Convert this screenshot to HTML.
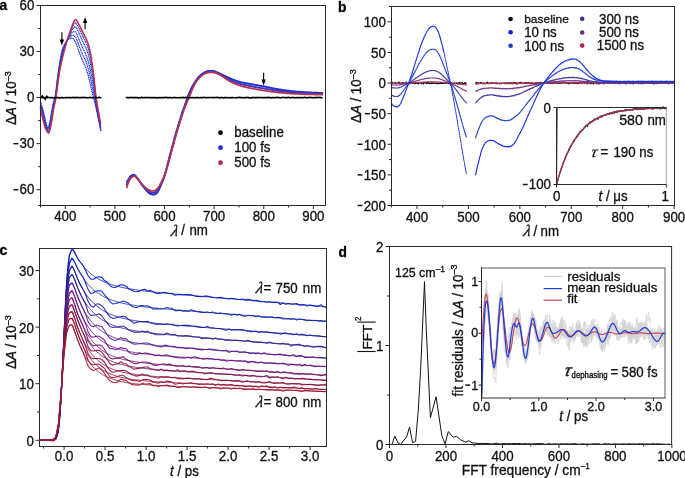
<!DOCTYPE html>
<html><head><meta charset="utf-8"><title>figure</title><style>
html,body{margin:0;padding:0;background:#fff;width:685px;height:478px;overflow:hidden}
svg{display:block;will-change:transform}
text{font-family:"Liberation Sans",sans-serif;stroke:#111;stroke-width:0.3px}
</style></head><body>
<svg width="685" height="478" viewBox="0 0 685 478">
<text transform="translate(-0.60,9.50) scale(1,1.0)" font-size="13.8" font-weight="bold" fill="#000" >a</text>
<polyline points="40.5,102.2 40.7,102.8 41.0,103.5 41.2,104.2 41.5,104.9 41.7,105.7 42.0,106.5 42.2,107.3 42.5,108.1 42.7,109.0 43.0,109.9 43.2,110.8 43.5,111.9 43.7,112.9 44.0,114.1 44.2,115.2 44.5,116.4 44.7,117.5 45.0,118.6 45.2,119.7 45.5,120.6 45.7,121.6 46.0,122.6 46.2,123.7 46.5,124.8 46.7,125.7 46.9,126.6 47.2,127.2 47.4,127.7 47.7,127.8 47.9,127.7 48.2,127.4 48.4,126.8 48.7,126.1 48.9,125.3 49.2,124.5 49.4,123.7 49.7,122.8 49.9,121.6 50.2,120.3 50.4,118.9 50.7,117.4 50.9,115.8 51.2,114.4 51.4,112.9 51.7,111.6 51.9,110.1 52.2,108.7 52.4,107.2 52.7,105.8 52.9,104.5 53.2,103.3 53.4,102.2 53.6,101.3 53.9,100.6 54.1,100.0 54.4,99.3 54.6,98.5 54.9,97.6 55.1,96.4 55.4,94.9 55.6,93.3 55.9,91.4 56.1,89.4 56.4,87.2 56.6,85.1 56.9,82.9 57.1,80.7 57.4,78.6 57.6,76.7 57.9,74.9 58.1,73.2 58.4,71.5 58.6,69.9 58.9,68.2 59.1,66.6 59.4,65.1 59.6,63.6 59.8,62.1 60.1,60.6 60.3,59.2 60.6,57.8 60.8,56.4 61.1,55.0 61.3,53.6 61.6,52.3 61.8,51.1 62.1,50.1 62.3,49.2 62.6,48.5 62.8,47.9 63.1,47.2 63.3,46.6 63.6,46.1 63.8,45.6 64.1,45.1 64.3,44.7 64.6,44.3 64.8,43.9 65.1,43.5 65.3,43.1 65.6,42.8 65.8,42.4 66.0,42.1 66.3,41.7 66.5,41.4 66.8,41.1 67.0,40.8 67.3,40.5 67.5,40.3 67.8,40.0 68.0,39.8 68.3,39.6 68.5,39.4 68.8,39.3 69.0,39.1 69.3,39.0 69.5,38.9 69.8,38.7 70.0,38.6 70.3,38.5 70.5,38.4 70.8,38.3 71.0,38.2 71.3,38.1 71.5,38.1 71.8,38.1 72.0,38.0 72.3,38.1 72.5,38.2 72.7,38.3 73.0,38.5 73.2,38.8 73.5,39.0 73.7,39.4 74.0,39.7 74.2,40.0 74.5,40.4 74.7,40.8 75.0,41.2 75.2,41.6 75.5,42.0 75.7,42.5 76.0,43.0 76.2,43.6 76.5,44.2 76.7,44.9 77.0,45.6 77.2,46.4 77.5,47.1 77.7,47.9 78.0,48.6 78.2,49.4 78.5,50.1 78.7,50.8 78.9,51.5 79.2,52.2 79.4,52.8 79.7,53.4 79.9,54.1 80.2,54.7 80.4,55.3 80.7,55.9 80.9,56.6 81.2,57.2 81.4,57.8 81.7,58.4 81.9,59.0 82.2,59.6 82.4,60.2 82.7,60.8 82.9,61.3 83.2,61.9 83.4,62.4 83.7,62.9 83.9,63.4 84.2,63.9 84.4,64.4 84.7,64.9 84.9,65.4 85.1,66.0 85.4,66.6 85.6,67.1 85.9,67.8 86.1,68.4 86.4,69.1 86.6,69.9 86.9,70.7 87.1,71.6 87.4,72.5 87.6,73.4 87.9,74.3 88.1,75.3 88.4,76.2 88.6,77.2 88.9,78.2 89.1,79.2 89.4,80.2 89.6,81.2 89.9,82.3 90.1,83.4 90.4,84.5 90.6,85.6 90.9,86.7 91.1,87.8 91.4,88.9 91.6,89.9 91.8,90.9 92.1,91.9 92.3,92.8 92.6,93.8 92.8,94.7 93.1,95.6 93.3,96.6 93.6,97.6 93.8,98.6 94.1,99.7 94.3,100.7 94.6,101.8 94.8,102.8 95.1,103.9 95.3,105.0 95.6,106.1 95.8,107.2 96.1,108.3 96.3,109.5 96.6,110.6 96.8,111.7 97.1,112.9 97.3,114.0 97.6,115.2 97.8,116.3 98.0,117.5 98.3,118.7 98.5,119.9 98.8,121.0 99.0,122.3 99.3,123.5 99.5,124.7 99.8,125.9 100.0,127.1 100.3,128.4 100.5,129.6 100.8,130.9 101.0,132.1" fill="none" stroke="#1c2fd6" stroke-width="1.45" stroke-linejoin="round" stroke-linecap="round" stroke-dasharray="0 1.75"/>
<polyline points="40.5,103.6 40.7,104.3 41.0,105.1 41.2,105.9 41.5,106.7 41.7,107.5 42.0,108.3 42.2,109.2 42.5,110.1 42.7,111.0 43.0,111.9 43.2,112.9 43.5,113.9 43.7,115.0 44.0,116.1 44.2,117.2 44.5,118.3 44.7,119.4 45.0,120.5 45.2,121.4 45.5,122.3 45.7,123.2 46.0,124.1 46.2,125.1 46.5,126.0 46.7,126.9 46.9,127.6 47.2,128.2 47.4,128.6 47.7,128.8 47.9,128.8 48.2,128.5 48.4,128.1 48.7,127.6 48.9,127.0 49.2,126.2 49.4,125.4 49.7,124.5 49.9,123.4 50.2,122.1 50.4,120.8 50.7,119.3 50.9,117.9 51.2,116.5 51.4,115.1 51.7,113.7 51.9,112.2 52.2,110.7 52.4,109.2 52.7,107.7 52.9,106.3 53.2,105.0 53.4,103.9 53.6,102.9 53.9,102.1 54.1,101.3 54.4,100.5 54.6,99.7 54.9,98.7 55.1,97.5 55.4,96.1 55.6,94.5 55.9,92.7 56.1,90.8 56.4,88.8 56.6,86.7 56.9,84.6 57.1,82.4 57.4,80.4 57.6,78.4 57.9,76.5 58.1,74.8 58.4,73.1 58.6,71.4 58.9,69.8 59.1,68.2 59.4,66.7 59.6,65.2 59.8,63.8 60.1,62.4 60.3,61.0 60.6,59.6 60.8,58.3 61.1,56.9 61.3,55.6 61.6,54.3 61.8,53.2 62.1,52.1 62.3,51.2 62.6,50.4 62.8,49.7 63.1,49.0 63.3,48.3 63.6,47.6 63.8,47.0 64.1,46.4 64.3,45.9 64.6,45.4 64.8,44.8 65.1,44.3 65.3,43.9 65.6,43.4 65.8,42.9 66.0,42.5 66.3,42.0 66.5,41.6 66.8,41.2 67.0,40.8 67.3,40.4 67.5,40.0 67.8,39.7 68.0,39.3 68.3,39.0 68.5,38.7 68.8,38.4 69.0,38.1 69.3,37.9 69.5,37.6 69.8,37.3 70.0,37.1 70.3,36.8 70.5,36.6 70.8,36.3 71.0,36.1 71.3,35.9 71.5,35.7 71.8,35.5 72.0,35.4 72.3,35.3 72.5,35.2 72.7,35.2 73.0,35.3 73.2,35.3 73.5,35.4 73.7,35.5 74.0,35.7 74.2,35.9 74.5,36.1 74.7,36.3 75.0,36.5 75.2,36.8 75.5,37.1 75.7,37.5 76.0,37.9 76.2,38.4 76.5,39.0 76.7,39.6 77.0,40.2 77.2,40.9 77.5,41.6 77.7,42.2 78.0,42.9 78.2,43.6 78.5,44.3 78.7,44.9 78.9,45.5 79.2,46.2 79.4,46.8 79.7,47.4 79.9,48.0 80.2,48.6 80.4,49.2 80.7,49.8 80.9,50.4 81.2,51.0 81.4,51.6 81.7,52.2 81.9,52.7 82.2,53.3 82.4,53.9 82.7,54.4 82.9,55.0 83.2,55.5 83.4,56.0 83.7,56.5 83.9,57.0 84.2,57.5 84.4,58.0 84.7,58.5 84.9,59.1 85.1,59.6 85.4,60.2 85.6,60.7 85.9,61.3 86.1,61.9 86.4,62.6 86.6,63.3 86.9,64.1 87.1,64.9 87.4,65.7 87.6,66.5 87.9,67.4 88.1,68.3 88.4,69.3 88.6,70.2 88.9,71.2 89.1,72.2 89.4,73.2 89.6,74.2 89.9,75.3 90.1,76.4 90.4,77.5 90.6,78.7 90.9,79.8 91.1,81.0 91.4,82.2 91.6,83.3 91.8,84.5 92.1,85.6 92.3,86.7 92.6,87.9 92.8,89.0 93.1,90.2 93.3,91.4 93.6,92.6 93.8,93.9 94.1,95.2 94.3,96.5 94.6,97.8 94.8,99.2 95.1,100.5 95.3,101.9 95.6,103.3 95.8,104.7 96.1,106.0 96.3,107.2 96.6,108.5 96.8,109.7 97.1,110.9 97.3,112.1 97.6,113.3 97.8,114.5 98.0,115.7 98.3,116.9 98.5,118.2 98.8,119.4 99.0,120.7 99.3,121.9 99.5,123.2 99.8,124.5 100.0,125.7 100.3,127.0 100.5,128.3 100.8,129.3 101.0,130.3" fill="none" stroke="#1c2fd6" stroke-width="1.45" stroke-linejoin="round" stroke-linecap="round" stroke-dasharray="0 1.75"/>
<polyline points="40.5,105.0 40.7,105.8 41.0,106.7 41.2,107.6 41.5,108.5 41.7,109.4 42.0,110.3 42.2,111.2 42.5,112.2 42.7,113.1 43.0,114.0 43.2,115.0 43.5,116.0 43.7,117.1 44.0,118.2 44.2,119.3 44.5,120.4 44.7,121.4 45.0,122.4 45.2,123.3 45.5,124.1 45.7,124.8 46.0,125.7 46.2,126.5 46.5,127.3 46.7,128.0 46.9,128.7 47.2,129.2 47.4,129.6 47.7,129.9 47.9,129.9 48.2,129.8 48.4,129.5 48.7,129.2 48.9,128.7 49.2,128.0 49.4,127.3 49.7,126.4 49.9,125.3 50.2,124.1 50.4,122.8 50.7,121.4 50.9,120.1 51.2,118.7 51.4,117.3 51.7,115.9 51.9,114.4 52.2,112.8 52.4,111.2 52.7,109.7 52.9,108.2 53.2,106.9 53.4,105.7 53.6,104.6 53.9,103.6 54.1,102.7 54.4,101.9 54.6,100.9 54.9,99.9 55.1,98.7 55.4,97.4 55.6,95.8 55.9,94.2 56.1,92.4 56.4,90.4 56.6,88.4 56.9,86.3 57.1,84.2 57.4,82.2 57.6,80.2 57.9,78.3 58.1,76.5 58.4,74.7 58.6,73.0 58.9,71.4 59.1,69.9 59.4,68.4 59.6,67.0 59.8,65.6 60.1,64.2 60.3,62.9 60.6,61.5 60.8,60.2 61.1,58.9 61.3,57.7 61.6,56.4 61.8,55.3 62.1,54.2 62.3,53.3 62.6,52.4 62.8,51.6 63.1,50.8 63.3,50.0 63.6,49.3 63.8,48.5 64.1,47.8 64.3,47.2 64.6,46.5 64.8,45.9 65.1,45.3 65.3,44.7 65.6,44.1 65.8,43.5 66.0,42.9 66.3,42.3 66.5,41.8 66.8,41.3 67.0,40.7 67.3,40.2 67.5,39.7 67.8,39.3 68.0,38.8 68.3,38.4 68.5,37.9 68.8,37.5 69.0,37.1 69.3,36.7 69.5,36.3 69.8,35.9 70.0,35.5 70.3,35.1 70.5,34.7 70.8,34.3 71.0,33.9 71.3,33.6 71.5,33.2 71.8,32.9 72.0,32.6 72.3,32.4 72.5,32.2 72.7,32.0 73.0,31.9 73.2,31.7 73.5,31.6 73.7,31.5 74.0,31.5 74.2,31.5 74.5,31.5 74.7,31.6 75.0,31.7 75.2,31.8 75.5,32.0 75.7,32.3 76.0,32.6 76.2,33.1 76.5,33.5 76.7,34.1 77.0,34.6 77.2,35.2 77.5,35.8 77.7,36.4 78.0,37.0 78.2,37.6 78.5,38.1 78.7,38.7 78.9,39.3 79.2,39.9 79.4,40.5 79.7,41.0 79.9,41.6 80.2,42.2 80.4,42.8 80.7,43.4 80.9,43.9 81.2,44.5 81.4,45.1 81.7,45.6 81.9,46.2 82.2,46.7 82.4,47.3 82.7,47.8 82.9,48.4 83.2,48.9 83.4,49.4 83.7,49.9 83.9,50.4 84.2,50.9 84.4,51.4 84.7,51.9 84.9,52.4 85.1,52.9 85.4,53.5 85.6,54.0 85.9,54.6 86.1,55.2 86.4,55.8 86.6,56.4 86.9,57.1 87.1,57.8 87.4,58.6 87.6,59.4 87.9,60.2 88.1,61.1 88.4,62.0 88.6,62.9 88.9,63.9 89.1,64.8 89.4,65.8 89.6,66.9 89.9,68.0 90.1,69.1 90.4,70.2 90.6,71.4 90.9,72.6 91.1,73.9 91.4,75.2 91.6,76.5 91.8,77.8 92.1,79.1 92.3,80.4 92.6,81.7 92.8,83.0 93.1,84.4 93.3,85.9 93.6,87.4 93.8,88.9 94.1,90.5 94.3,92.1 94.6,93.7 94.8,95.3 95.1,97.0 95.3,98.7 95.6,100.4 95.8,102.0 96.1,103.5 96.3,104.9 96.6,106.3 96.8,107.6 97.1,108.9 97.3,110.1 97.6,111.4 97.8,112.6 98.0,113.8 98.3,115.1 98.5,116.4 98.8,117.7 99.0,119.0 99.3,120.3 99.5,121.7 99.8,123.0 100.0,124.3 100.3,125.6 100.5,127.0 100.8,127.6 101.0,128.3" fill="none" stroke="#1c2fd6" stroke-width="1.45" stroke-linejoin="round" stroke-linecap="round" stroke-dasharray="0 1.75"/>
<polyline points="40.5,106.4 40.7,107.4 41.0,108.3 41.2,109.3 41.5,110.3 41.7,111.3 42.0,112.3 42.2,113.2 42.5,114.2 42.7,115.2 43.0,116.1 43.2,117.1 43.5,118.2 43.7,119.2 44.0,120.3 44.2,121.4 44.5,122.4 44.7,123.4 45.0,124.3 45.2,125.1 45.5,125.8 45.7,126.5 46.0,127.2 46.2,127.9 46.5,128.6 46.7,129.2 46.9,129.8 47.2,130.2 47.4,130.6 47.7,130.9 47.9,131.0 48.2,131.0 48.4,130.9 48.7,130.7 48.9,130.4 49.2,129.8 49.4,129.1 49.7,128.2 49.9,127.2 50.2,126.0 50.4,124.7 50.7,123.5 50.9,122.2 51.2,120.9 51.4,119.6 51.7,118.1 51.9,116.5 52.2,114.9 52.4,113.3 52.7,111.7 52.9,110.2 53.2,108.7 53.4,107.4 53.6,106.3 53.9,105.2 54.1,104.2 54.4,103.2 54.6,102.2 54.9,101.1 55.1,99.9 55.4,98.6 55.6,97.2 55.9,95.6 56.1,93.9 56.4,92.1 56.6,90.1 56.9,88.1 57.1,86.0 57.4,84.0 57.6,82.0 57.9,80.0 58.1,78.1 58.4,76.3 58.6,74.7 58.9,73.1 59.1,71.6 59.4,70.1 59.6,68.7 59.8,67.3 60.1,66.0 60.3,64.7 60.6,63.4 60.8,62.2 61.1,60.9 61.3,59.7 61.6,58.6 61.8,57.4 62.1,56.4 62.3,55.4 62.6,54.4 62.8,53.5 63.1,52.6 63.3,51.7 63.6,50.9 63.8,50.0 64.1,49.2 64.3,48.4 64.6,47.7 64.8,46.9 65.1,46.2 65.3,45.5 65.6,44.7 65.8,44.0 66.0,43.3 66.3,42.7 66.5,42.0 66.8,41.3 67.0,40.7 67.3,40.1 67.5,39.5 67.8,38.9 68.0,38.3 68.3,37.7 68.5,37.2 68.8,36.6 69.0,36.1 69.3,35.5 69.5,35.0 69.8,34.4 70.0,33.9 70.3,33.3 70.5,32.8 70.8,32.2 71.0,31.7 71.3,31.2 71.5,30.7 71.8,30.3 72.0,29.9 72.3,29.5 72.5,29.1 72.7,28.8 73.0,28.5 73.2,28.1 73.5,27.8 73.7,27.6 74.0,27.3 74.2,27.1 74.5,26.9 74.7,26.8 75.0,26.8 75.2,26.8 75.5,26.9 75.7,27.1 76.0,27.3 76.2,27.7 76.5,28.1 76.7,28.5 77.0,29.0 77.2,29.5 77.5,30.0 77.7,30.5 78.0,31.0 78.2,31.5 78.5,32.0 78.7,32.6 78.9,33.1 79.2,33.6 79.4,34.2 79.7,34.7 79.9,35.3 80.2,35.8 80.4,36.4 80.7,36.9 80.9,37.5 81.2,38.0 81.4,38.6 81.7,39.1 81.9,39.7 82.2,40.2 82.4,40.7 82.7,41.2 82.9,41.7 83.2,42.2 83.4,42.7 83.7,43.2 83.9,43.7 84.2,44.2 84.4,44.7 84.7,45.2 84.9,45.7 85.1,46.3 85.4,46.8 85.6,47.3 85.9,47.8 86.1,48.4 86.4,49.0 86.6,49.5 86.9,50.2 87.1,50.8 87.4,51.5 87.6,52.3 87.9,53.0 88.1,53.9 88.4,54.7 88.6,55.6 88.9,56.5 89.1,57.5 89.4,58.5 89.6,59.5 89.9,60.6 90.1,61.7 90.4,62.9 90.6,64.2 90.9,65.4 91.1,66.8 91.4,68.2 91.6,69.6 91.8,71.0 92.1,72.5 92.3,74.0 92.6,75.5 92.8,77.1 93.1,78.7 93.3,80.4 93.6,82.2 93.8,84.0 94.1,85.8 94.3,87.7 94.6,89.5 94.8,91.5 95.1,93.5 95.3,95.5 95.6,97.5 95.8,99.3 96.1,101.0 96.3,102.6 96.6,104.1 96.8,105.5 97.1,106.8 97.3,108.1 97.6,109.4 97.8,110.7 98.0,112.0 98.3,113.3 98.5,114.6 98.8,116.0 99.0,117.4 99.3,118.7 99.5,120.1 99.8,121.5 100.0,122.8 100.3,124.2 100.5,125.6 100.8,126.0 101.0,126.4" fill="none" stroke="#1c2fd6" stroke-width="1.45" stroke-linejoin="round" stroke-linecap="round" stroke-dasharray="0 1.75"/>
<polyline points="40.5,107.5 40.7,108.6 41.0,109.6 41.2,110.7 41.5,111.7 41.7,112.8 42.0,113.8 42.2,114.8 42.5,115.8 42.7,116.8 43.0,117.8 43.2,118.8 43.5,119.8 43.7,120.9 44.0,122.0 44.2,123.0 44.5,124.0 44.7,125.0 45.0,125.8 45.2,126.6 45.5,127.2 45.7,127.8 46.0,128.4 46.2,129.0 46.5,129.6 46.7,130.1 46.9,130.6 47.2,131.0 47.4,131.4 47.7,131.7 47.9,131.9 48.2,132.0 48.4,132.0 48.7,132.0 48.9,131.7 49.2,131.2 49.4,130.5 49.7,129.7 49.9,128.6 50.2,127.5 50.4,126.3 50.7,125.1 50.9,123.9 51.2,122.7 51.4,121.3 51.7,119.8 51.9,118.2 52.2,116.6 52.4,114.9 52.7,113.3 52.9,111.7 53.2,110.2 53.4,108.8 53.6,107.6 53.9,106.4 54.1,105.3 54.4,104.2 54.6,103.1 54.9,102.0 55.1,100.8 55.4,99.6 55.6,98.2 55.9,96.7 56.1,95.1 56.4,93.3 56.6,91.4 56.9,89.5 57.1,87.4 57.4,85.4 57.6,83.3 57.9,81.4 58.1,79.5 58.4,77.6 58.6,75.9 58.9,74.3 59.1,72.9 59.4,71.5 59.6,70.1 59.8,68.7 60.1,67.4 60.3,66.2 60.6,64.9 60.8,63.7 61.1,62.5 61.3,61.3 61.6,60.2 61.8,59.1 62.1,58.0 62.3,57.0 62.6,56.0 62.8,55.0 63.1,54.0 63.3,53.1 63.6,52.1 63.8,51.2 64.1,50.3 64.3,49.4 64.6,48.6 64.8,47.7 65.1,46.9 65.3,46.1 65.6,45.3 65.8,44.5 66.0,43.7 66.3,42.9 66.5,42.2 66.8,41.4 67.0,40.7 67.3,40.0 67.5,39.3 67.8,38.6 68.0,37.9 68.3,37.2 68.5,36.6 68.8,35.9 69.0,35.3 69.3,34.6 69.5,34.0 69.8,33.3 70.0,32.6 70.3,31.9 70.5,31.3 70.8,30.6 71.0,30.0 71.3,29.4 71.5,28.8 71.8,28.2 72.0,27.7 72.3,27.2 72.5,26.8 72.7,26.3 73.0,25.8 73.2,25.3 73.5,24.9 73.7,24.4 74.0,24.0 74.2,23.7 74.5,23.4 74.7,23.1 75.0,23.0 75.2,22.9 75.5,22.9 75.7,23.0 76.0,23.2 76.2,23.4 76.5,23.8 76.7,24.2 77.0,24.6 77.2,25.0 77.5,25.5 77.7,25.9 78.0,26.4 78.2,26.8 78.5,27.3 78.7,27.7 78.9,28.2 79.2,28.7 79.4,29.2 79.7,29.7 79.9,30.3 80.2,30.8 80.4,31.4 80.7,31.9 80.9,32.4 81.2,33.0 81.4,33.5 81.7,34.0 81.9,34.5 82.2,35.0 82.4,35.5 82.7,36.0 82.9,36.5 83.2,37.0 83.4,37.5 83.7,38.0 83.9,38.5 84.2,39.0 84.4,39.5 84.7,40.0 84.9,40.5 85.1,41.0 85.4,41.5 85.6,42.1 85.9,42.6 86.1,43.1 86.4,43.6 86.6,44.2 86.9,44.7 87.1,45.3 87.4,46.0 87.6,46.7 87.9,47.4 88.1,48.2 88.4,49.0 88.6,49.9 88.9,50.8 89.1,51.8 89.4,52.8 89.6,53.8 89.9,54.9 90.1,56.0 90.4,57.2 90.6,58.5 90.9,59.8 91.1,61.2 91.4,62.7 91.6,64.2 91.8,65.8 92.1,67.4 92.3,69.0 92.6,70.7 92.8,72.4 93.1,74.2 93.3,76.1 93.6,78.1 93.8,80.1 94.1,82.2 94.3,84.2 94.6,86.3 94.8,88.4 95.1,90.7 95.3,92.9 95.6,95.2 95.8,97.2 96.1,99.1 96.3,100.8 96.6,102.3 96.8,103.8 97.1,105.2 97.3,106.6 97.6,107.9 97.8,109.2 98.0,110.5 98.3,111.9 98.5,113.3 98.8,114.7 99.0,116.1 99.3,117.5 99.5,118.9 99.8,120.3 100.0,121.7 100.3,123.1 100.5,124.5 100.8,124.7 101.0,124.9" fill="none" stroke="#1c2fd6" stroke-width="1.45" stroke-linejoin="round" stroke-linecap="round" stroke-dasharray="0 1.75"/>
<polyline points="40.5,108.3 40.7,109.5 41.0,110.6 41.2,111.7 41.5,112.8 41.7,113.9 42.0,115.0 42.2,116.0 42.5,117.1 42.7,118.1 43.0,119.1 43.2,120.1 43.5,121.2 43.7,122.2 44.0,123.3 44.2,124.3 44.5,125.3 44.7,126.2 45.0,127.0 45.2,127.7 45.5,128.3 45.7,128.8 46.0,129.3 46.2,129.8 46.5,130.3 46.7,130.8 46.9,131.2 47.2,131.6 47.4,132.0 47.7,132.3 47.9,132.6 48.2,132.7 48.4,132.9 48.7,132.9 48.9,132.7 49.2,132.3 49.4,131.6 49.7,130.8 49.9,129.8 50.2,128.7 50.4,127.5 50.7,126.4 50.9,125.2 51.2,124.0 51.4,122.7 51.7,121.2 51.9,119.6 52.2,117.9 52.4,116.2 52.7,114.5 52.9,112.9 53.2,111.3 53.4,109.9 53.6,108.6 53.9,107.3 54.1,106.1 54.4,105.0 54.6,103.9 54.9,102.7 55.1,101.6 55.4,100.3 55.6,99.0 55.9,97.6 56.1,96.0 56.4,94.3 56.6,92.5 56.9,90.5 57.1,88.5 57.4,86.5 57.6,84.4 57.9,82.4 58.1,80.5 58.4,78.6 58.6,76.9 58.9,75.3 59.1,73.9 59.4,72.5 59.6,71.1 59.8,69.8 60.1,68.5 60.3,67.3 60.6,66.1 60.8,64.9 61.1,63.7 61.3,62.6 61.6,61.5 61.8,60.4 62.1,59.3 62.3,58.3 62.6,57.2 62.8,56.2 63.1,55.1 63.3,54.1 63.6,53.1 63.8,52.1 64.1,51.2 64.3,50.2 64.6,49.3 64.8,48.4 65.1,47.4 65.3,46.6 65.6,45.7 65.8,44.8 66.0,44.0 66.3,43.1 66.5,42.3 66.8,41.5 67.0,40.7 67.3,39.9 67.5,39.1 67.8,38.3 68.0,37.6 68.3,36.8 68.5,36.1 68.8,35.4 69.0,34.6 69.3,33.9 69.5,33.2 69.8,32.4 70.0,31.6 70.3,30.9 70.5,30.1 70.8,29.4 71.0,28.7 71.3,28.0 71.5,27.3 71.8,26.6 72.0,26.0 72.3,25.5 72.5,24.9 72.7,24.3 73.0,23.7 73.2,23.1 73.5,22.6 73.7,22.0 74.0,21.5 74.2,21.0 74.5,20.6 74.7,20.3 75.0,20.0 75.2,19.8 75.5,19.8 75.7,19.8 76.0,20.0 76.2,20.2 76.5,20.4 76.7,20.8 77.0,21.1 77.2,21.5 77.5,21.9 77.7,22.4 78.0,22.8 78.2,23.2 78.5,23.5 78.7,24.0 78.9,24.4 79.2,24.9 79.4,25.4 79.7,25.9 79.9,26.4 80.2,26.9 80.4,27.5 80.7,28.0 80.9,28.5 81.2,29.0 81.4,29.6 81.7,30.1 81.9,30.6 82.2,31.0 82.4,31.5 82.7,32.0 82.9,32.5 83.2,33.0 83.4,33.5 83.7,34.0 83.9,34.5 84.2,34.9 84.4,35.4 84.7,35.9 84.9,36.5 85.1,37.0 85.4,37.5 85.6,38.0 85.9,38.5 86.1,38.9 86.4,39.4 86.6,40.0 86.9,40.5 87.1,41.1 87.4,41.7 87.6,42.3 87.9,43.0 88.1,43.8 88.4,44.6 88.6,45.5 88.9,46.4 89.1,47.3 89.4,48.3 89.6,49.3 89.9,50.4 90.1,51.5 90.4,52.8 90.6,54.0 90.9,55.4 91.1,56.9 91.4,58.4 91.6,60.0 91.8,61.7 92.1,63.4 92.3,65.1 92.6,66.9 92.8,68.8 93.1,70.7 93.3,72.8 93.6,74.9 93.8,77.1 94.1,79.3 94.3,81.6 94.6,83.8 94.8,86.1 95.1,88.5 95.3,91.0 95.6,93.4 95.8,95.6 96.1,97.6 96.3,99.4 96.6,101.0 96.8,102.5 97.1,104.0 97.3,105.4 97.6,106.7 97.8,108.1 98.0,109.4 98.3,110.8 98.5,112.2 98.8,113.6 99.0,115.1 99.3,116.5 99.5,118.0 99.8,119.4 100.0,120.8 100.3,122.3 100.5,123.7" fill="none" stroke="#b8324e" stroke-width="1.6" stroke-linejoin="round" stroke-linecap="round" />
<polyline points="126.8,181.7 127.1,181.4 127.3,181.1 127.6,180.8 127.8,180.4 128.1,180.1 128.3,179.7 128.6,179.3 128.8,178.9 129.1,178.5 129.3,178.1 129.5,177.7 129.8,177.3 130.0,176.9 130.3,176.7 130.5,176.4 130.8,176.2 131.0,175.9 131.3,175.7 131.5,175.5 131.8,175.3 132.0,175.2 132.3,175.1 132.5,175.0 132.8,175.0 133.0,174.9 133.3,174.9 133.5,174.8 133.8,174.8 134.0,174.8 134.3,174.8 134.5,174.9 134.8,175.1 135.0,175.3 135.3,175.6 135.5,175.9 135.8,176.2 136.0,176.5 136.2,176.9 136.5,177.2 136.7,177.6 137.0,177.9 137.2,178.2 137.5,178.5 137.7,178.8 138.0,179.1 138.2,179.4 138.5,179.8 138.7,180.1 139.0,180.5 139.2,180.8 139.5,181.2 139.7,181.6 140.0,181.9 140.2,182.3 140.5,182.7 140.7,183.0 141.0,183.4 141.2,183.7 141.5,184.1 141.7,184.4 142.0,184.8 142.2,185.1 142.4,185.4 142.7,185.8 142.9,186.1 143.2,186.4 143.4,186.7 143.7,187.1 143.9,187.4 144.2,187.7 144.4,188.1 144.7,188.4 144.9,188.7 145.2,189.0 145.4,189.3 145.7,189.6 145.9,189.9 146.2,190.2 146.4,190.5 146.7,190.7 146.9,191.0 147.2,191.2 147.4,191.5 147.7,191.7 147.9,192.0 148.2,192.2 148.4,192.4 148.6,192.7 148.9,192.9 149.1,193.1 149.4,193.3 149.6,193.5 149.9,193.7 150.1,193.8 150.4,193.9 150.6,194.0 150.9,194.1 151.1,194.1 151.4,194.2 151.6,194.3 151.9,194.3 152.1,194.4 152.4,194.4 152.6,194.5 152.9,194.5 153.1,194.5 153.4,194.6 153.6,194.6 153.9,194.6 154.1,194.6 154.4,194.6 154.6,194.5 154.9,194.4 155.1,194.3 155.3,194.2 155.6,194.0 155.8,193.8 156.1,193.6 156.3,193.3 156.6,193.1 156.8,192.8 157.1,192.6 157.3,192.3 157.6,192.0 157.8,191.7 158.1,191.3 158.3,190.9 158.6,190.4 158.8,189.9 159.1,189.4 159.3,188.8 159.6,188.2 159.8,187.6 160.1,187.0 160.3,186.4 160.6,185.9 160.8,185.3 161.1,184.7 161.3,184.2 161.5,183.6 161.8,183.0 162.0,182.5 162.3,181.9 162.5,181.3 162.8,180.6 163.0,180.0 163.3,179.4 163.5,178.7 163.8,178.0 164.0,177.3 164.3,176.6 164.5,175.9 164.8,175.1 165.0,174.3 165.3,173.4 165.5,172.5 165.8,171.6 166.0,170.6 166.3,169.7 166.5,168.7 166.8,167.7 167.0,166.7 167.3,165.7 167.5,164.8 167.7,163.8 168.0,162.8 168.2,161.9 168.5,160.9 168.7,160.0 169.0,159.0 169.2,158.0 169.5,157.1 169.7,156.1 170.0,155.1 170.2,154.1 170.5,153.2 170.7,152.2 171.0,151.2 171.2,150.3 171.5,149.3 171.7,148.4 172.0,147.5 172.2,146.6 172.5,145.7 172.7,144.7 173.0,143.8 173.2,142.9 173.5,142.0 173.7,141.1 174.0,140.2 174.2,139.4 174.4,138.5 174.7,137.6 174.9,136.7 175.2,135.8 175.4,135.0 175.7,134.1 175.9,133.2 176.2,132.4 176.4,131.5 176.7,130.7 176.9,129.8 177.2,129.0 177.4,128.2 177.7,127.3 177.9,126.5 178.2,125.7 178.4,124.8 178.7,124.0 178.9,123.2 179.2,122.4 179.4,121.6 179.7,120.7 179.9,119.9 180.2,119.1 180.4,118.4 180.6,117.6 180.9,116.8 181.1,116.0 181.4,115.2 181.6,114.5 181.9,113.7 182.1,113.0 182.4,112.2 182.6,111.5 182.9,110.8 183.1,110.1 183.4,109.4 183.6,108.7 183.9,108.0 184.1,107.3 184.4,106.6 184.6,105.9 184.9,105.2 185.1,104.5 185.4,103.7 185.6,103.0 185.9,102.3 186.1,101.5 186.4,100.8 186.6,100.0 186.8,99.3 187.1,98.6 187.3,97.9 187.6,97.2 187.8,96.6 188.1,95.9 188.3,95.3 188.6,94.7 188.8,94.1 189.1,93.5 189.3,92.9 189.6,92.3 189.8,91.8 190.1,91.2 190.3,90.7 190.6,90.2 190.8,89.6 191.1,89.1 191.3,88.6 191.6,88.1 191.8,87.6 192.1,87.1 192.3,86.6 192.6,86.1 192.8,85.6 193.1,85.2 193.3,84.7 193.5,84.3 193.8,83.8 194.0,83.4 194.3,83.0 194.5,82.6 194.8,82.2 195.0,81.9 195.3,81.5 195.5,81.1 195.8,80.7 196.0,80.4 196.3,80.0 196.5,79.7 196.8,79.3 197.0,79.0 197.3,78.7 197.5,78.4 197.8,78.1 198.0,77.8 198.3,77.5 198.5,77.2 198.8,76.9 199.0,76.7 199.3,76.4 199.5,76.2 199.7,75.9 200.0,75.7 200.2,75.5 200.5,75.2 200.7,75.0 201.0,74.8 201.2,74.6 201.5,74.4 201.7,74.2 202.0,74.0 202.2,73.8 202.5,73.6 202.7,73.4 203.0,73.3 203.2,73.1 203.5,73.0 203.7,72.8 204.0,72.7 204.2,72.6 204.5,72.5 204.7,72.3 205.0,72.2 205.2,72.1 205.5,72.0 205.7,71.9 205.9,71.8 206.2,71.6 206.4,71.5 206.7,71.4 206.9,71.3 207.2,71.3 207.4,71.2 207.7,71.1 207.9,71.0 208.2,71.0 208.4,70.9 208.7,70.9 208.9,70.9 209.2,70.9 209.4,70.9 209.7,70.9 209.9,70.9 210.2,70.9 210.4,70.9 210.7,70.9 210.9,70.9 211.2,70.9 211.4,70.9 211.7,70.9 211.9,70.9 212.2,70.9 212.4,70.9 212.6,70.9 212.9,70.9 213.1,70.9 213.4,71.0 213.6,71.0 213.9,71.1 214.1,71.2 214.4,71.2 214.6,71.3 214.9,71.4 215.1,71.5 215.4,71.6 215.6,71.7 215.9,71.8 216.1,71.9 216.4,72.0 216.6,72.1 216.9,72.2 217.1,72.3 217.4,72.4 217.6,72.5 217.9,72.6 218.1,72.7 218.4,72.9 218.6,73.0 218.8,73.1 219.1,73.2 219.3,73.3 219.6,73.5 219.8,73.6 220.1,73.7 220.3,73.8 220.6,73.9 220.8,74.1 221.1,74.2 221.3,74.3 221.6,74.4 221.8,74.5 222.1,74.7 222.3,74.8 222.6,74.9 222.8,75.0 223.1,75.1 223.3,75.2 223.6,75.3 223.8,75.5 224.1,75.6 224.3,75.7 224.6,75.8 224.8,75.9 225.0,76.0 225.3,76.2 225.5,76.3 225.8,76.4 226.0,76.5 226.3,76.6 226.5,76.7 226.8,76.8 227.0,76.9 227.3,77.1 227.5,77.2 227.8,77.3 228.0,77.4 228.3,77.5 228.5,77.6 228.8,77.7 229.0,77.8 229.3,78.0 229.5,78.1 229.8,78.2 230.0,78.3 230.3,78.4 230.5,78.5 230.8,78.6 231.0,78.7 231.3,78.8 231.5,78.9 231.7,79.1 232.0,79.2 232.2,79.3 232.5,79.4 232.7,79.5 233.0,79.6 233.2,79.7 233.5,79.8 233.7,79.9 234.0,79.9 234.2,80.0 234.5,80.1 234.7,80.2 235.0,80.3 235.2,80.4 235.5,80.5 235.7,80.6 236.0,80.7 236.2,80.8 236.5,80.9 236.7,81.0 237.0,81.0 237.2,81.1 237.5,81.2 237.7,81.3 237.9,81.4 238.2,81.5 238.4,81.5 238.7,81.6 238.9,81.7 239.2,81.8 239.4,81.8 239.7,81.9 239.9,82.0 240.2,82.1 240.4,82.1 240.7,82.2 240.9,82.2 241.2,82.3 241.4,82.4 241.7,82.4 241.9,82.5 242.2,82.5 242.4,82.6 242.7,82.6 242.9,82.7 243.2,82.7 243.4,82.8 243.7,82.8 243.9,82.9 244.1,82.9 244.4,83.0 244.6,83.0 244.9,83.1 245.1,83.1 245.4,83.2 245.6,83.2 245.9,83.2 246.1,83.3 246.4,83.3 246.6,83.4 246.9,83.4 247.1,83.5 247.4,83.5 247.6,83.5 247.9,83.6 248.1,83.6 248.4,83.7 248.6,83.7 248.9,83.8 249.1,83.8 249.4,83.8 249.6,83.9 249.9,83.9 250.1,84.0 250.4,84.0 250.6,84.1 250.8,84.1 251.1,84.2 251.3,84.2 251.6,84.3 251.8,84.3 252.1,84.3 252.3,84.4 252.6,84.4 252.8,84.5 253.1,84.5 253.3,84.6 253.6,84.6 253.8,84.6 254.1,84.7 254.3,84.7 254.6,84.8 254.8,84.8 255.1,84.9 255.3,84.9 255.6,84.9 255.8,85.0 256.1,85.0 256.3,85.1 256.6,85.1 256.8,85.2 257.0,85.2 257.3,85.2 257.5,85.3 257.8,85.3 258.0,85.4 258.3,85.4 258.5,85.5 258.8,85.5 259.0,85.5 259.3,85.6 259.5,85.6 259.8,85.7 260.0,85.7 260.3,85.8 260.5,85.8 260.8,85.9 261.0,85.9 261.3,85.9 261.5,86.0 261.8,86.0 262.0,86.1 262.3,86.1 262.5,86.2 262.8,86.2 263.0,86.3 263.2,86.3 263.5,86.3 263.7,86.4 264.0,86.4 264.2,86.5 264.5,86.5 264.7,86.6 265.0,86.6 265.2,86.7 265.5,86.7 265.7,86.8 266.0,86.8 266.2,86.9 266.5,86.9 266.7,87.0 267.0,87.0 267.2,87.1 267.5,87.1 267.7,87.2 268.0,87.2 268.2,87.3 268.5,87.3 268.7,87.4 269.0,87.4 269.2,87.5 269.5,87.5 269.7,87.6 269.9,87.6 270.2,87.7 270.4,87.7 270.7,87.8 270.9,87.9 271.2,87.9 271.4,88.0 271.7,88.0 271.9,88.1 272.2,88.1 272.4,88.2 272.7,88.2 272.9,88.3 273.2,88.3 273.4,88.4 273.7,88.4 273.9,88.5 274.2,88.5 274.4,88.6 274.7,88.6 274.9,88.7 275.2,88.7 275.4,88.7 275.7,88.8 275.9,88.8 276.1,88.9 276.4,88.9 276.6,89.0 276.9,89.0 277.1,89.1 277.4,89.1 277.6,89.1 277.9,89.2 278.1,89.2 278.4,89.3 278.6,89.3 278.9,89.4 279.1,89.4 279.4,89.4 279.6,89.5 279.9,89.5 280.1,89.5 280.4,89.6 280.6,89.6 280.9,89.7 281.1,89.7 281.4,89.7 281.6,89.8 281.9,89.8 282.1,89.9 282.3,89.9 282.6,89.9 282.8,90.0 283.1,90.0 283.3,90.0 283.6,90.1 283.8,90.1 284.1,90.1 284.3,90.2 284.6,90.2 284.8,90.3 285.1,90.3 285.3,90.3 285.6,90.4 285.8,90.4 286.1,90.4 286.3,90.5 286.6,90.5 286.8,90.5 287.1,90.6 287.3,90.6 287.6,90.6 287.8,90.7 288.1,90.7 288.3,90.7 288.5,90.8 288.8,90.8 289.0,90.8 289.3,90.8 289.5,90.9 289.8,90.9 290.0,90.9 290.3,91.0 290.5,91.0 290.8,91.0 291.0,91.1 291.3,91.1 291.5,91.1 291.8,91.1 292.0,91.2 292.3,91.2 292.5,91.2 292.8,91.2 293.0,91.3 293.3,91.3 293.5,91.3 293.8,91.3 294.0,91.4 294.3,91.4 294.5,91.4 294.8,91.4 295.0,91.4 295.2,91.5 295.5,91.5 295.7,91.5 296.0,91.5 296.2,91.6 296.5,91.6 296.7,91.6 297.0,91.6 297.2,91.6 297.5,91.7 297.7,91.7 298.0,91.7 298.2,91.7 298.5,91.7 298.7,91.8 299.0,91.8 299.2,91.8 299.5,91.8 299.7,91.8 300.0,91.8 300.2,91.9 300.5,91.9 300.7,91.9 301.0,91.9 301.2,91.9 301.4,92.0 301.7,92.0 301.9,92.0 302.2,92.0 302.4,92.0 302.7,92.0 302.9,92.1 303.2,92.1 303.4,92.1 303.7,92.1 303.9,92.1 304.2,92.1 304.4,92.1 304.7,92.2 304.9,92.2 305.2,92.2 305.4,92.2 305.7,92.2 305.9,92.2 306.2,92.3 306.4,92.3 306.7,92.3 306.9,92.3 307.2,92.3 307.4,92.3 307.6,92.3 307.9,92.4 308.1,92.4 308.4,92.4 308.6,92.4 308.9,92.4 309.1,92.4 309.4,92.4 309.6,92.4 309.9,92.5 310.1,92.5 310.4,92.5 310.6,92.5 310.9,92.5 311.1,92.5 311.4,92.5 311.6,92.6 311.9,92.6 312.1,92.6 312.4,92.6 312.6,92.6 312.9,92.6 313.1,92.6 313.4,92.6 313.6,92.6 313.9,92.7 314.1,92.7 314.3,92.7 314.6,92.7 314.8,92.7 315.1,92.7 315.3,92.7 315.6,92.7 315.8,92.8 316.1,92.8 316.3,92.8 316.6,92.8 316.8,92.8 317.1,92.8 317.3,92.8 317.6,92.8 317.8,92.8 318.1,92.8 318.3,92.9 318.6,92.9 318.8,92.9 319.1,92.9 319.3,92.9 319.6,92.9 319.8,92.9 320.1,92.9 320.3,92.9 320.5,92.9 320.8,92.9 321.0,93.0 321.3,93.0 321.5,93.0 321.8,93.0 322.0,93.0 322.3,93.0" fill="none" stroke="#1c2fd6" stroke-width="1.9" stroke-linejoin="round" stroke-linecap="round" />
<polyline points="126.8,184.6 127.1,184.0 127.3,183.4 127.6,182.8 127.8,182.3 128.1,181.7 128.3,181.3 128.6,180.8 128.8,180.3 129.1,179.8 129.3,179.3 129.5,178.9 129.8,178.5 130.0,178.1 130.3,177.8 130.5,177.5 130.8,177.2 131.0,177.0 131.3,176.7 131.5,176.5 131.8,176.3 132.0,176.1 132.3,176.0 132.5,175.9 132.8,175.8 133.0,175.8 133.3,175.7 133.5,175.7 133.8,175.6 134.0,175.6 134.3,175.6 134.5,175.7 134.8,175.7 135.0,175.9 135.3,176.0 135.5,176.2 135.8,176.5 136.0,176.8 136.2,177.1 136.5,177.4 136.7,177.7 137.0,178.0 137.2,178.3 137.5,178.6 137.7,178.9 138.0,179.2 138.2,179.5 138.5,179.8 138.7,180.1 139.0,180.4 139.2,180.8 139.5,181.1 139.7,181.4 140.0,181.8 140.2,182.1 140.5,182.5 140.7,182.8 141.0,183.1 141.2,183.5 141.5,183.8 141.7,184.1 142.0,184.4 142.2,184.7 142.4,185.0 142.7,185.3 142.9,185.6 143.2,185.9 143.4,186.2 143.7,186.5 143.9,186.8 144.2,187.1 144.4,187.4 144.7,187.6 144.9,187.9 145.2,188.2 145.4,188.5 145.7,188.7 145.9,189.0 146.2,189.2 146.4,189.4 146.7,189.7 146.9,189.9 147.2,190.1 147.4,190.3 147.7,190.5 147.9,190.7 148.2,190.9 148.4,191.1 148.6,191.3 148.9,191.4 149.1,191.6 149.4,191.8 149.6,191.9 149.9,192.0 150.1,192.2 150.4,192.2 150.6,192.3 150.9,192.4 151.1,192.4 151.4,192.5 151.6,192.5 151.9,192.6 152.1,192.6 152.4,192.6 152.6,192.7 152.9,192.7 153.1,192.7 153.4,192.8 153.6,192.8 153.9,192.8 154.1,192.7 154.4,192.7 154.6,192.6 154.9,192.5 155.1,192.4 155.3,192.2 155.6,192.1 155.8,191.9 156.1,191.7 156.3,191.4 156.6,191.2 156.8,191.0 157.1,190.7 157.3,190.5 157.6,190.2 157.8,189.9 158.1,189.6 158.3,189.2 158.6,188.7 158.8,188.3 159.1,187.8 159.3,187.3 159.6,186.8 159.8,186.3 160.1,185.7 160.3,185.2 160.6,184.7 160.8,184.2 161.1,183.7 161.3,183.2 161.5,182.7 161.8,182.1 162.0,181.6 162.3,181.0 162.5,180.5 162.8,179.9 163.0,179.3 163.3,178.7 163.5,178.1 163.8,177.5 164.0,176.8 164.3,176.2 164.5,175.5 164.8,174.8 165.0,174.0 165.3,173.3 165.5,172.5 165.8,171.6 166.0,170.8 166.3,169.9 166.5,169.0 166.8,168.1 167.0,167.2 167.3,166.3 167.5,165.4 167.7,164.5 168.0,163.7 168.2,162.8 168.5,161.8 168.7,160.9 169.0,160.0 169.2,159.0 169.5,158.1 169.7,157.1 170.0,156.2 170.2,155.2 170.5,154.3 170.7,153.3 171.0,152.4 171.2,151.4 171.5,150.5 171.7,149.6 172.0,148.6 172.2,147.7 172.5,146.8 172.7,145.9 173.0,145.0 173.2,144.1 173.5,143.2 173.7,142.3 174.0,141.4 174.2,140.5 174.4,139.6 174.7,138.8 174.9,137.9 175.2,137.0 175.4,136.1 175.7,135.3 175.9,134.4 176.2,133.5 176.4,132.7 176.7,131.8 176.9,131.0 177.2,130.1 177.4,129.3 177.7,128.5 177.9,127.6 178.2,126.8 178.4,126.0 178.7,125.2 178.9,124.3 179.2,123.5 179.4,122.7 179.7,121.9 179.9,121.1 180.2,120.3 180.4,119.5 180.6,118.7 180.9,117.9 181.1,117.2 181.4,116.4 181.6,115.6 181.9,114.9 182.1,114.1 182.4,113.4 182.6,112.6 182.9,111.9 183.1,111.2 183.4,110.5 183.6,109.7 183.9,109.0 184.1,108.3 184.4,107.6 184.6,106.9 184.9,106.3 185.1,105.6 185.4,104.9 185.6,104.2 185.9,103.5 186.1,102.9 186.4,102.2 186.6,101.6 186.8,100.9 187.1,100.3 187.3,99.7 187.6,99.1 187.8,98.5 188.1,97.9 188.3,97.3 188.6,96.7 188.8,96.1 189.1,95.5 189.3,95.0 189.6,94.4 189.8,93.8 190.1,93.2 190.3,92.6 190.6,92.0 190.8,91.4 191.1,90.8 191.3,90.2 191.6,89.6 191.8,89.1 192.1,88.5 192.3,88.0 192.6,87.5 192.8,87.0 193.1,86.5 193.3,86.0 193.5,85.5 193.8,85.1 194.0,84.6 194.3,84.2 194.5,83.7 194.8,83.3 195.0,82.9 195.3,82.4 195.5,82.0 195.8,81.6 196.0,81.3 196.3,80.9 196.5,80.5 196.8,80.2 197.0,79.8 197.3,79.5 197.5,79.2 197.8,78.9 198.0,78.6 198.3,78.3 198.5,78.0 198.8,77.7 199.0,77.4 199.3,77.2 199.5,76.9 199.7,76.7 200.0,76.4 200.2,76.2 200.5,76.0 200.7,75.7 201.0,75.5 201.2,75.3 201.5,75.1 201.7,74.9 202.0,74.7 202.2,74.6 202.5,74.4 202.7,74.2 203.0,74.0 203.2,73.9 203.5,73.7 203.7,73.6 204.0,73.5 204.2,73.3 204.5,73.2 204.7,73.1 205.0,73.0 205.2,72.8 205.5,72.7 205.7,72.6 205.9,72.5 206.2,72.4 206.4,72.3 206.7,72.2 206.9,72.2 207.2,72.1 207.4,72.0 207.7,71.9 207.9,71.9 208.2,71.8 208.4,71.8 208.7,71.7 208.9,71.7 209.2,71.7 209.4,71.7 209.7,71.6 209.9,71.6 210.2,71.6 210.4,71.6 210.7,71.6 210.9,71.6 211.2,71.6 211.4,71.6 211.7,71.6 211.9,71.6 212.2,71.6 212.4,71.6 212.6,71.6 212.9,71.7 213.1,71.7 213.4,71.7 213.6,71.8 213.9,71.8 214.1,71.9 214.4,72.0 214.6,72.0 214.9,72.1 215.1,72.2 215.4,72.3 215.6,72.4 215.9,72.5 216.1,72.5 216.4,72.6 216.6,72.7 216.9,72.8 217.1,72.9 217.4,73.0 217.6,73.1 217.9,73.3 218.1,73.4 218.4,73.5 218.6,73.6 218.8,73.7 219.1,73.9 219.3,74.0 219.6,74.1 219.8,74.2 220.1,74.4 220.3,74.5 220.6,74.6 220.8,74.8 221.1,74.9 221.3,75.0 221.6,75.2 221.8,75.3 222.1,75.4 222.3,75.6 222.6,75.7 222.8,75.9 223.1,76.0 223.3,76.2 223.6,76.3 223.8,76.4 224.1,76.6 224.3,76.7 224.6,76.9 224.8,77.0 225.0,77.2 225.3,77.3 225.5,77.4 225.8,77.6 226.0,77.7 226.3,77.8 226.5,78.0 226.8,78.1 227.0,78.3 227.3,78.4 227.5,78.5 227.8,78.7 228.0,78.8 228.3,78.9 228.5,79.1 228.8,79.2 229.0,79.3 229.3,79.5 229.5,79.6 229.8,79.7 230.0,79.9 230.3,80.0 230.5,80.1 230.8,80.2 231.0,80.4 231.3,80.5 231.5,80.6 231.7,80.7 232.0,80.8 232.2,80.9 232.5,81.0 232.7,81.2 233.0,81.3 233.2,81.4 233.5,81.5 233.7,81.6 234.0,81.7 234.2,81.8 234.5,81.9 234.7,82.0 235.0,82.1 235.2,82.2 235.5,82.3 235.7,82.4 236.0,82.5 236.2,82.5 236.5,82.6 236.7,82.7 237.0,82.8 237.2,82.9 237.5,83.0 237.7,83.1 237.9,83.2 238.2,83.3 238.4,83.3 238.7,83.4 238.9,83.5 239.2,83.6 239.4,83.7 239.7,83.7 239.9,83.8 240.2,83.9 240.4,84.0 240.7,84.0 240.9,84.1 241.2,84.2 241.4,84.2 241.7,84.3 241.9,84.4 242.2,84.4 242.4,84.5 242.7,84.5 242.9,84.6 243.2,84.6 243.4,84.7 243.7,84.8 243.9,84.8 244.1,84.9 244.4,84.9 244.6,85.0 244.9,85.0 245.1,85.1 245.4,85.1 245.6,85.2 245.9,85.2 246.1,85.3 246.4,85.3 246.6,85.4 246.9,85.4 247.1,85.5 247.4,85.5 247.6,85.6 247.9,85.6 248.1,85.7 248.4,85.7 248.6,85.8 248.9,85.8 249.1,85.9 249.4,85.9 249.6,86.0 249.9,86.0 250.1,86.1 250.4,86.1 250.6,86.2 250.8,86.2 251.1,86.2 251.3,86.3 251.6,86.3 251.8,86.4 252.1,86.4 252.3,86.5 252.6,86.5 252.8,86.6 253.1,86.6 253.3,86.7 253.6,86.7 253.8,86.8 254.1,86.8 254.3,86.8 254.6,86.9 254.8,86.9 255.1,87.0 255.3,87.0 255.6,87.1 255.8,87.1 256.1,87.2 256.3,87.2 256.6,87.2 256.8,87.3 257.0,87.3 257.3,87.4 257.5,87.4 257.8,87.5 258.0,87.5 258.3,87.5 258.5,87.6 258.8,87.6 259.0,87.7 259.3,87.7 259.5,87.8 259.8,87.8 260.0,87.8 260.3,87.9 260.5,87.9 260.8,88.0 261.0,88.0 261.3,88.0 261.5,88.1 261.8,88.1 262.0,88.2 262.3,88.2 262.5,88.3 262.8,88.3 263.0,88.3 263.2,88.4 263.5,88.4 263.7,88.5 264.0,88.5 264.2,88.6 264.5,88.6 264.7,88.6 265.0,88.7 265.2,88.7 265.5,88.8 265.7,88.8 266.0,88.9 266.2,88.9 266.5,88.9 266.7,89.0 267.0,89.0 267.2,89.1 267.5,89.1 267.7,89.2 268.0,89.2 268.2,89.2 268.5,89.3 268.7,89.3 269.0,89.4 269.2,89.4 269.5,89.5 269.7,89.5 269.9,89.6 270.2,89.6 270.4,89.6 270.7,89.7 270.9,89.7 271.2,89.8 271.4,89.8 271.7,89.9 271.9,89.9 272.2,89.9 272.4,90.0 272.7,90.0 272.9,90.1 273.2,90.1 273.4,90.1 273.7,90.2 273.9,90.2 274.2,90.3 274.4,90.3 274.7,90.3 274.9,90.4 275.2,90.4 275.4,90.5 275.7,90.5 275.9,90.5 276.1,90.6 276.4,90.6 276.6,90.6 276.9,90.7 277.1,90.7 277.4,90.8 277.6,90.8 277.9,90.8 278.1,90.9 278.4,90.9 278.6,90.9 278.9,91.0 279.1,91.0 279.4,91.0 279.6,91.1 279.9,91.1 280.1,91.1 280.4,91.1 280.6,91.2 280.9,91.2 281.1,91.2 281.4,91.3 281.6,91.3 281.9,91.3 282.1,91.4 282.3,91.4 282.6,91.4 282.8,91.5 283.1,91.5 283.3,91.5 283.6,91.5 283.8,91.6 284.1,91.6 284.3,91.6 284.6,91.7 284.8,91.7 285.1,91.7 285.3,91.7 285.6,91.8 285.8,91.8 286.1,91.8 286.3,91.9 286.6,91.9 286.8,91.9 287.1,91.9 287.3,92.0 287.6,92.0 287.8,92.0 288.1,92.0 288.3,92.1 288.5,92.1 288.8,92.1 289.0,92.1 289.3,92.2 289.5,92.2 289.8,92.2 290.0,92.2 290.3,92.3 290.5,92.3 290.8,92.3 291.0,92.3 291.3,92.4 291.5,92.4 291.8,92.4 292.0,92.4 292.3,92.4 292.5,92.5 292.8,92.5 293.0,92.5 293.3,92.5 293.5,92.5 293.8,92.6 294.0,92.6 294.3,92.6 294.5,92.6 294.8,92.6 295.0,92.6 295.2,92.7 295.5,92.7 295.7,92.7 296.0,92.7 296.2,92.7 296.5,92.7 296.7,92.8 297.0,92.8 297.2,92.8 297.5,92.8 297.7,92.8 298.0,92.8 298.2,92.9 298.5,92.9 298.7,92.9 299.0,92.9 299.2,92.9 299.5,92.9 299.7,92.9 300.0,93.0 300.2,93.0 300.5,93.0 300.7,93.0 301.0,93.0 301.2,93.0 301.4,93.0 301.7,93.1 301.9,93.1 302.2,93.1 302.4,93.1 302.7,93.1 302.9,93.1 303.2,93.1 303.4,93.2 303.7,93.2 303.9,93.2 304.2,93.2 304.4,93.2 304.7,93.2 304.9,93.2 305.2,93.2 305.4,93.2 305.7,93.3 305.9,93.3 306.2,93.3 306.4,93.3 306.7,93.3 306.9,93.3 307.2,93.3 307.4,93.3 307.6,93.3 307.9,93.4 308.1,93.4 308.4,93.4 308.6,93.4 308.9,93.4 309.1,93.4 309.4,93.4 309.6,93.4 309.9,93.4 310.1,93.4 310.4,93.5 310.6,93.5 310.9,93.5 311.1,93.5 311.4,93.5 311.6,93.5 311.9,93.5 312.1,93.5 312.4,93.5 312.6,93.5 312.9,93.6 313.1,93.6 313.4,93.6 313.6,93.6 313.9,93.6 314.1,93.6 314.3,93.6 314.6,93.6 314.8,93.6 315.1,93.6 315.3,93.6 315.6,93.7 315.8,93.7 316.1,93.7 316.3,93.7 316.6,93.7 316.8,93.7 317.1,93.7 317.3,93.7 317.6,93.7 317.8,93.7 318.1,93.7 318.3,93.7 318.6,93.7 318.8,93.8 319.1,93.8 319.3,93.8 319.6,93.8 319.8,93.8 320.1,93.8 320.3,93.8 320.5,93.8 320.8,93.8 321.0,93.8 321.3,93.8 321.5,93.8 321.8,93.8 322.0,93.8 322.3,93.8" fill="none" stroke="#4634b4" stroke-width="1.9" stroke-linejoin="round" stroke-linecap="round" />
<polyline points="126.8,187.4 127.1,186.5 127.3,185.7 127.6,184.9 127.8,184.1 128.1,183.4 128.3,182.8 128.6,182.2 128.8,181.6 129.1,181.1 129.3,180.6 129.5,180.1 129.8,179.7 130.0,179.3 130.3,179.0 130.5,178.6 130.8,178.3 131.0,178.0 131.3,177.8 131.5,177.5 131.8,177.3 132.0,177.0 132.3,176.9 132.5,176.7 132.8,176.7 133.0,176.6 133.3,176.5 133.5,176.5 133.8,176.4 134.0,176.4 134.3,176.4 134.5,176.4 134.8,176.3 135.0,176.4 135.3,176.5 135.5,176.6 135.8,176.8 136.0,177.0 136.2,177.3 136.5,177.5 136.7,177.8 137.0,178.1 137.2,178.4 137.5,178.7 137.7,179.0 138.0,179.2 138.2,179.5 138.5,179.8 138.7,180.1 139.0,180.4 139.2,180.7 139.5,181.0 139.7,181.3 140.0,181.6 140.2,181.9 140.5,182.3 140.7,182.6 141.0,182.9 141.2,183.2 141.5,183.5 141.7,183.8 142.0,184.1 142.2,184.3 142.4,184.6 142.7,184.9 142.9,185.1 143.2,185.4 143.4,185.6 143.7,185.9 143.9,186.1 144.2,186.4 144.4,186.6 144.7,186.9 144.9,187.1 145.2,187.4 145.4,187.6 145.7,187.8 145.9,188.0 146.2,188.2 146.4,188.4 146.7,188.6 146.9,188.8 147.2,188.9 147.4,189.1 147.7,189.2 147.9,189.4 148.2,189.6 148.4,189.7 148.6,189.8 148.9,190.0 149.1,190.1 149.4,190.2 149.6,190.3 149.9,190.4 150.1,190.5 150.4,190.6 150.6,190.6 150.9,190.7 151.1,190.7 151.4,190.7 151.6,190.8 151.9,190.8 152.1,190.8 152.4,190.9 152.6,190.9 152.9,190.9 153.1,190.9 153.4,190.9 153.6,190.9 153.9,190.9 154.1,190.9 154.4,190.8 154.6,190.7 154.9,190.6 155.1,190.4 155.3,190.3 155.6,190.1 155.8,189.9 156.1,189.8 156.3,189.6 156.6,189.3 156.8,189.1 157.1,188.9 157.3,188.7 157.6,188.4 157.8,188.1 158.1,187.8 158.3,187.4 158.6,187.1 158.8,186.7 159.1,186.2 159.3,185.8 159.6,185.4 159.8,184.9 160.1,184.5 160.3,184.0 160.6,183.6 160.8,183.1 161.1,182.7 161.3,182.2 161.5,181.7 161.8,181.2 162.0,180.7 162.3,180.2 162.5,179.7 162.8,179.2 163.0,178.6 163.3,178.1 163.5,177.5 163.8,176.9 164.0,176.3 164.3,175.7 164.5,175.1 164.8,174.5 165.0,173.8 165.3,173.1 165.5,172.4 165.8,171.7 166.0,170.9 166.3,170.1 166.5,169.4 166.8,168.6 167.0,167.8 167.3,166.9 167.5,166.1 167.7,165.3 168.0,164.5 168.2,163.6 168.5,162.7 168.7,161.9 169.0,161.0 169.2,160.0 169.5,159.1 169.7,158.2 170.0,157.2 170.2,156.3 170.5,155.4 170.7,154.4 171.0,153.5 171.2,152.5 171.5,151.6 171.7,150.7 172.0,149.8 172.2,148.9 172.5,148.0 172.7,147.1 173.0,146.2 173.2,145.3 173.5,144.4 173.7,143.5 174.0,142.6 174.2,141.7 174.4,140.8 174.7,139.9 174.9,139.1 175.2,138.2 175.4,137.3 175.7,136.4 175.9,135.6 176.2,134.7 176.4,133.8 176.7,133.0 176.9,132.1 177.2,131.3 177.4,130.5 177.7,129.6 177.9,128.8 178.2,128.0 178.4,127.1 178.7,126.3 178.9,125.5 179.2,124.7 179.4,123.9 179.7,123.0 179.9,122.2 180.2,121.4 180.4,120.7 180.6,119.9 180.9,119.1 181.1,118.3 181.4,117.5 181.6,116.8 181.9,116.0 182.1,115.3 182.4,114.5 182.6,113.8 182.9,113.0 183.1,112.3 183.4,111.5 183.6,110.8 183.9,110.1 184.1,109.4 184.4,108.7 184.6,108.0 184.9,107.3 185.1,106.7 185.4,106.0 185.6,105.4 185.9,104.8 186.1,104.2 186.4,103.7 186.6,103.1 186.8,102.6 187.1,102.0 187.3,101.5 187.6,100.9 187.8,100.4 188.1,99.9 188.3,99.3 188.6,98.8 188.8,98.2 189.1,97.6 189.3,97.0 189.6,96.4 189.8,95.7 190.1,95.1 190.3,94.4 190.6,93.8 190.8,93.1 191.1,92.5 191.3,91.8 191.6,91.2 191.8,90.6 192.1,90.0 192.3,89.5 192.6,88.9 192.8,88.4 193.1,87.9 193.3,87.3 193.5,86.8 193.8,86.3 194.0,85.8 194.3,85.3 194.5,84.8 194.8,84.3 195.0,83.9 195.3,83.4 195.5,83.0 195.8,82.5 196.0,82.1 196.3,81.7 196.5,81.4 196.8,81.0 197.0,80.7 197.3,80.3 197.5,80.0 197.8,79.7 198.0,79.4 198.3,79.1 198.5,78.8 198.8,78.5 199.0,78.2 199.3,77.9 199.5,77.6 199.7,77.4 200.0,77.1 200.2,76.9 200.5,76.7 200.7,76.4 201.0,76.2 201.2,76.0 201.5,75.8 201.7,75.6 202.0,75.5 202.2,75.3 202.5,75.1 202.7,75.0 203.0,74.8 203.2,74.6 203.5,74.5 203.7,74.3 204.0,74.2 204.2,74.1 204.5,73.9 204.7,73.8 205.0,73.7 205.2,73.6 205.5,73.5 205.7,73.4 205.9,73.3 206.2,73.2 206.4,73.1 206.7,73.0 206.9,73.0 207.2,72.9 207.4,72.9 207.7,72.8 207.9,72.7 208.2,72.7 208.4,72.6 208.7,72.6 208.9,72.5 209.2,72.5 209.4,72.4 209.7,72.4 209.9,72.4 210.2,72.3 210.4,72.3 210.7,72.3 210.9,72.3 211.2,72.3 211.4,72.3 211.7,72.3 211.9,72.3 212.2,72.3 212.4,72.4 212.6,72.4 212.9,72.4 213.1,72.5 213.4,72.5 213.6,72.6 213.9,72.6 214.1,72.7 214.4,72.7 214.6,72.8 214.9,72.8 215.1,72.9 215.4,72.9 215.6,73.0 215.9,73.1 216.1,73.2 216.4,73.3 216.6,73.4 216.9,73.5 217.1,73.6 217.4,73.7 217.6,73.8 217.9,73.9 218.1,74.0 218.4,74.1 218.6,74.3 218.8,74.4 219.1,74.5 219.3,74.6 219.6,74.8 219.8,74.9 220.1,75.0 220.3,75.2 220.6,75.3 220.8,75.5 221.1,75.6 221.3,75.8 221.6,75.9 221.8,76.1 222.1,76.2 222.3,76.4 222.6,76.6 222.8,76.7 223.1,76.9 223.3,77.1 223.6,77.3 223.8,77.4 224.1,77.6 224.3,77.8 224.6,77.9 224.8,78.1 225.0,78.3 225.3,78.4 225.5,78.6 225.8,78.7 226.0,78.9 226.3,79.1 226.5,79.2 226.8,79.4 227.0,79.6 227.3,79.7 227.5,79.9 227.8,80.1 228.0,80.2 228.3,80.4 228.5,80.5 228.8,80.7 229.0,80.8 229.3,81.0 229.5,81.2 229.8,81.3 230.0,81.5 230.3,81.6 230.5,81.7 230.8,81.9 231.0,82.0 231.3,82.1 231.5,82.2 231.7,82.4 232.0,82.5 232.2,82.6 232.5,82.7 232.7,82.8 233.0,83.0 233.2,83.1 233.5,83.2 233.7,83.3 234.0,83.4 234.2,83.5 234.5,83.6 234.7,83.7 235.0,83.8 235.2,83.9 235.5,84.0 235.7,84.1 236.0,84.2 236.2,84.3 236.5,84.4 236.7,84.5 237.0,84.6 237.2,84.7 237.5,84.8 237.7,84.9 237.9,85.0 238.2,85.0 238.4,85.1 238.7,85.2 238.9,85.3 239.2,85.4 239.4,85.5 239.7,85.6 239.9,85.6 240.2,85.7 240.4,85.8 240.7,85.9 240.9,85.9 241.2,86.0 241.4,86.1 241.7,86.2 241.9,86.2 242.2,86.3 242.4,86.4 242.7,86.4 242.9,86.5 243.2,86.6 243.4,86.6 243.7,86.7 243.9,86.7 244.1,86.8 244.4,86.9 244.6,86.9 244.9,87.0 245.1,87.1 245.4,87.1 245.6,87.2 245.9,87.2 246.1,87.3 246.4,87.3 246.6,87.4 246.9,87.4 247.1,87.5 247.4,87.6 247.6,87.6 247.9,87.7 248.1,87.7 248.4,87.8 248.6,87.8 248.9,87.9 249.1,87.9 249.4,88.0 249.6,88.0 249.9,88.1 250.1,88.1 250.4,88.2 250.6,88.2 250.8,88.3 251.1,88.3 251.3,88.4 251.6,88.4 251.8,88.5 252.1,88.5 252.3,88.6 252.6,88.6 252.8,88.7 253.1,88.7 253.3,88.8 253.6,88.8 253.8,88.9 254.1,88.9 254.3,89.0 254.6,89.0 254.8,89.0 255.1,89.1 255.3,89.1 255.6,89.2 255.8,89.2 256.1,89.3 256.3,89.3 256.6,89.4 256.8,89.4 257.0,89.4 257.3,89.5 257.5,89.5 257.8,89.6 258.0,89.6 258.3,89.7 258.5,89.7 258.8,89.7 259.0,89.8 259.3,89.8 259.5,89.9 259.8,89.9 260.0,90.0 260.3,90.0 260.5,90.0 260.8,90.1 261.0,90.1 261.3,90.2 261.5,90.2 261.8,90.2 262.0,90.3 262.3,90.3 262.5,90.3 262.8,90.4 263.0,90.4 263.2,90.5 263.5,90.5 263.7,90.5 264.0,90.6 264.2,90.6 264.5,90.7 264.7,90.7 265.0,90.7 265.2,90.8 265.5,90.8 265.7,90.8 266.0,90.9 266.2,90.9 266.5,91.0 266.7,91.0 267.0,91.0 267.2,91.1 267.5,91.1 267.7,91.1 268.0,91.2 268.2,91.2 268.5,91.2 268.7,91.3 269.0,91.3 269.2,91.4 269.5,91.4 269.7,91.4 269.9,91.5 270.2,91.5 270.4,91.5 270.7,91.6 270.9,91.6 271.2,91.6 271.4,91.7 271.7,91.7 271.9,91.7 272.2,91.8 272.4,91.8 272.7,91.8 272.9,91.9 273.2,91.9 273.4,91.9 273.7,92.0 273.9,92.0 274.2,92.0 274.4,92.1 274.7,92.1 274.9,92.1 275.2,92.1 275.4,92.2 275.7,92.2 275.9,92.2 276.1,92.3 276.4,92.3 276.6,92.3 276.9,92.3 277.1,92.4 277.4,92.4 277.6,92.4 277.9,92.5 278.1,92.5 278.4,92.5 278.6,92.5 278.9,92.6 279.1,92.6 279.4,92.6 279.6,92.6 279.9,92.7 280.1,92.7 280.4,92.7 280.6,92.7 280.9,92.8 281.1,92.8 281.4,92.8 281.6,92.8 281.9,92.9 282.1,92.9 282.3,92.9 282.6,92.9 282.8,92.9 283.1,93.0 283.3,93.0 283.6,93.0 283.8,93.0 284.1,93.1 284.3,93.1 284.6,93.1 284.8,93.1 285.1,93.2 285.3,93.2 285.6,93.2 285.8,93.2 286.1,93.2 286.3,93.3 286.6,93.3 286.8,93.3 287.1,93.3 287.3,93.3 287.6,93.4 287.8,93.4 288.1,93.4 288.3,93.4 288.5,93.4 288.8,93.5 289.0,93.5 289.3,93.5 289.5,93.5 289.8,93.5 290.0,93.5 290.3,93.6 290.5,93.6 290.8,93.6 291.0,93.6 291.3,93.6 291.5,93.6 291.8,93.7 292.0,93.7 292.3,93.7 292.5,93.7 292.8,93.7 293.0,93.7 293.3,93.7 293.5,93.8 293.8,93.8 294.0,93.8 294.3,93.8 294.5,93.8 294.8,93.8 295.0,93.8 295.2,93.9 295.5,93.9 295.7,93.9 296.0,93.9 296.2,93.9 296.5,93.9 296.7,93.9 297.0,93.9 297.2,94.0 297.5,94.0 297.7,94.0 298.0,94.0 298.2,94.0 298.5,94.0 298.7,94.0 299.0,94.0 299.2,94.0 299.5,94.1 299.7,94.1 300.0,94.1 300.2,94.1 300.5,94.1 300.7,94.1 301.0,94.1 301.2,94.1 301.4,94.1 301.7,94.1 301.9,94.2 302.2,94.2 302.4,94.2 302.7,94.2 302.9,94.2 303.2,94.2 303.4,94.2 303.7,94.2 303.9,94.2 304.2,94.2 304.4,94.3 304.7,94.3 304.9,94.3 305.2,94.3 305.4,94.3 305.7,94.3 305.9,94.3 306.2,94.3 306.4,94.3 306.7,94.3 306.9,94.3 307.2,94.3 307.4,94.3 307.6,94.4 307.9,94.4 308.1,94.4 308.4,94.4 308.6,94.4 308.9,94.4 309.1,94.4 309.4,94.4 309.6,94.4 309.9,94.4 310.1,94.4 310.4,94.4 310.6,94.4 310.9,94.4 311.1,94.5 311.4,94.5 311.6,94.5 311.9,94.5 312.1,94.5 312.4,94.5 312.6,94.5 312.9,94.5 313.1,94.5 313.4,94.5 313.6,94.5 313.9,94.5 314.1,94.5 314.3,94.5 314.6,94.5 314.8,94.5 315.1,94.6 315.3,94.6 315.6,94.6 315.8,94.6 316.1,94.6 316.3,94.6 316.6,94.6 316.8,94.6 317.1,94.6 317.3,94.6 317.6,94.6 317.8,94.6 318.1,94.6 318.3,94.6 318.6,94.6 318.8,94.6 319.1,94.6 319.3,94.6 319.6,94.6 319.8,94.6 320.1,94.7 320.3,94.7 320.5,94.7 320.8,94.7 321.0,94.7 321.3,94.7 321.5,94.7 321.8,94.7 322.0,94.7 322.3,94.7" fill="none" stroke="#b8324e" stroke-width="1.7" stroke-linejoin="round" stroke-linecap="round" />
<polyline points="40.5,97.6 41.2,97.5 42.0,97.7 42.7,97.8 43.5,97.7 44.2,97.8 45.0,97.6 45.7,97.4 46.5,97.7 47.2,97.7 47.9,97.5 48.7,97.5 49.4,97.6 50.2,97.8 50.9,97.6 51.7,97.5 52.4,97.8 53.2,97.7 53.9,98.0 54.6,97.8 55.4,97.9 56.1,97.6 56.9,97.8 57.6,97.6 58.4,97.6 59.1,97.6 59.8,98.1 60.6,97.7 61.3,97.6 62.1,97.6 62.8,97.9 63.6,97.7 64.3,97.8 65.1,97.7 65.8,97.4 66.5,97.7 67.3,97.6 68.0,97.4 68.8,97.7 69.5,97.6 70.3,97.6 71.0,97.6 71.8,97.8 72.5,97.6 73.2,97.3 74.0,97.9 74.7,97.4 75.5,97.6 76.2,97.7 77.0,97.2 77.7,97.5 78.5,97.8 79.2,97.6 79.9,97.5 80.7,97.6 81.4,97.5 82.2,97.6 82.9,97.5 83.7,97.3 84.4,97.7 85.1,97.6 85.9,97.7 86.6,97.6 87.4,97.8 88.1,97.7 88.9,97.6 89.6,97.4 90.4,97.4 91.1,97.8 91.8,97.7 92.6,97.5 93.3,98.0 94.1,97.7 94.8,97.6 95.6,97.4 96.3,97.5 97.1,97.7 97.8,97.7 98.5,97.6 99.3,97.3 100.0,97.7 100.8,97.7" fill="none" stroke="#000" stroke-width="1.6" stroke-linejoin="round" stroke-linecap="round" />
<polyline points="40.8,98.2 42.3,95.6 43.9,97.6 45.4,99.8 46.7,95.9 48.0,97.4" fill="none" stroke="#000" stroke-width="1.2" stroke-linejoin="round" stroke-linecap="round" />
<polyline points="126.3,97.5 127.1,97.6 127.8,97.6 128.6,97.8 129.3,97.6 130.0,97.7 130.8,97.4 131.5,97.5 132.3,97.6 133.0,97.5 133.8,97.7 134.5,97.4 135.3,97.6 136.0,97.5 136.7,97.8 137.5,97.5 138.2,97.9 139.0,97.9 139.7,97.6 140.5,97.7 141.2,97.6 142.0,97.3 142.7,97.7 143.4,97.7 144.2,97.6 144.9,97.5 145.7,97.6 146.4,97.6 147.2,97.5 147.9,97.5 148.6,97.8 149.4,97.6 150.1,97.6 150.9,97.8 151.6,97.6 152.4,97.7 153.1,97.5 153.9,97.6 154.6,97.6 155.3,97.7 156.1,97.6 156.8,97.9 157.6,97.8 158.3,97.5 159.1,97.9 159.8,97.5 160.6,97.9 161.3,97.5 162.0,97.7 162.8,97.5 163.5,97.6 164.3,97.8 165.0,97.4 165.8,97.4 166.5,97.6 167.3,97.6 168.0,97.6 168.7,97.7 169.5,97.4 170.2,97.7 171.0,97.6 171.7,97.7 172.5,97.7 173.2,97.8 174.0,97.4 174.7,97.6 175.4,97.5 176.2,97.6 176.9,97.7 177.7,97.7 178.4,97.7 179.2,97.6 179.9,97.7 180.6,97.6 181.4,97.8 182.1,97.7 182.9,97.3 183.6,97.7 184.4,97.8 185.1,97.5 185.9,97.4 186.6,97.8 187.3,97.6 188.1,97.7 188.8,97.9 189.6,97.5 190.3,97.6 191.1,97.6 191.8,97.7 192.6,97.5 193.3,97.7 194.0,97.6 194.8,97.8 195.5,97.8 196.3,97.4 197.0,97.7 197.8,97.6 198.5,97.6 199.3,97.7 200.0,97.7 200.7,97.5 201.5,97.6 202.2,97.6 203.0,97.6 203.7,97.4 204.5,97.5 205.2,97.5 205.9,97.7 206.7,97.8 207.4,97.5 208.2,97.5 208.9,97.6 209.7,97.5 210.4,97.5 211.2,97.5 211.9,97.5 212.6,97.7 213.4,97.4 214.1,97.8 214.9,97.5 215.6,97.5 216.4,97.5 217.1,97.3 217.9,97.4 218.6,97.8 219.3,97.9 220.1,97.5 220.8,97.8 221.6,97.6 222.3,97.5 223.1,97.9 223.8,97.9 224.6,97.6 225.3,97.6 226.0,97.6 226.8,97.6 227.5,97.7 228.3,97.8 229.0,97.6 229.8,97.7 230.5,97.9 231.3,97.5 232.0,97.6 232.7,97.5 233.5,97.8 234.2,97.7 235.0,97.8 235.7,97.7 236.5,97.6 237.2,97.7 237.9,97.5 238.7,97.5 239.4,97.3 240.2,97.8 240.9,97.5 241.7,97.6 242.4,97.6 243.2,97.8 243.9,97.7 244.6,97.5 245.4,97.6 246.1,97.6 246.9,97.6 247.6,97.4 248.4,97.6 249.1,97.9 249.9,97.7 250.6,97.9 251.3,98.1 252.1,97.7 252.8,97.4 253.6,97.6 254.3,97.8 255.1,97.7 255.8,97.4 256.6,97.6 257.3,97.6 258.0,97.6 258.8,97.6 259.5,97.5 260.3,97.5 261.0,97.6 261.8,97.8 262.5,97.5 263.2,97.7 264.0,97.4 264.7,97.8 265.5,97.6 266.2,97.6 267.0,97.8 267.7,97.3 268.5,97.4 269.2,97.7 269.9,97.5 270.7,97.5 271.4,98.0 272.2,97.6 272.9,97.6 273.7,97.6 274.4,97.8 275.2,97.6 275.9,97.6 276.6,97.4 277.4,97.5 278.1,97.6 278.9,97.4 279.6,97.7 280.4,97.7 281.1,97.9 281.9,97.4 282.6,97.5 283.3,97.5 284.1,97.5 284.8,97.6 285.6,97.6 286.3,97.6 287.1,97.6 287.8,97.6 288.5,97.4 289.3,97.5 290.0,97.6 290.8,97.7 291.5,97.7 292.3,97.4 293.0,97.5 293.8,97.6 294.5,97.7 295.2,97.8 296.0,97.6 296.7,97.5 297.5,97.7 298.2,97.6 299.0,97.6 299.7,97.6 300.5,97.8 301.2,97.6 301.9,97.7 302.7,97.5 303.4,97.7 304.2,97.5 304.9,97.4 305.7,97.6 306.4,97.7 307.2,97.6 307.9,97.6 308.6,97.8 309.4,97.5 310.1,97.3 310.9,97.6 311.6,97.6 312.4,97.8 313.1,97.6 313.9,97.8 314.6,97.8 315.3,97.4 316.1,97.7 316.8,97.4 317.6,97.4 318.3,97.6 319.1,97.5 319.8,97.3 320.5,97.6 321.3,97.7 322.0,97.8" fill="none" stroke="#000" stroke-width="1.6" stroke-linejoin="round" stroke-linecap="round" />
<line x1="61.90" y1="32.20" x2="61.90" y2="41.10" stroke="#000" stroke-width="1.15" />
<path d="M59.7,39.6 L64.1,39.6 L61.9,45.6 Z" fill="#000"/>
<line x1="85.10" y1="29.20" x2="85.10" y2="21.40" stroke="#000" stroke-width="1.15" />
<path d="M82.9,22.9 L87.3,22.9 L85.1,16.9 Z" fill="#000"/>
<line x1="263.60" y1="72.80" x2="263.60" y2="81.10" stroke="#000" stroke-width="1.15" />
<path d="M261.4,79.6 L265.8,79.6 L263.6,85.6 Z" fill="#000"/>
<circle cx="220.5" cy="132.7" r="2.4" fill="#000"/>
<text transform="translate(234.30,137.20) scale(1,1.08)" font-size="13.3" fill="#111" >baseline</text>
<circle cx="220.5" cy="147.7" r="2.4" fill="#1a2fe0"/>
<text transform="translate(234.30,152.20) scale(1,1.08)" font-size="13.3" fill="#111" >100 fs</text>
<circle cx="220.5" cy="162.7" r="2.4" fill="#b03050"/>
<text transform="translate(234.30,167.20) scale(1,1.08)" font-size="13.3" fill="#111" >500 fs</text>
<rect x="40.50" y="5.50" width="285.00" height="200.00" fill="none" stroke="#2a2a2a" stroke-width="1.0"/>
<line x1="65.31" y1="205.50" x2="65.31" y2="209.00" stroke="#2a2a2a" stroke-width="1.0" />
<line x1="114.91" y1="205.50" x2="114.91" y2="209.00" stroke="#2a2a2a" stroke-width="1.0" />
<line x1="164.52" y1="205.50" x2="164.52" y2="209.00" stroke="#2a2a2a" stroke-width="1.0" />
<line x1="214.13" y1="205.50" x2="214.13" y2="209.00" stroke="#2a2a2a" stroke-width="1.0" />
<line x1="263.75" y1="205.50" x2="263.75" y2="209.00" stroke="#2a2a2a" stroke-width="1.0" />
<line x1="313.36" y1="205.50" x2="313.36" y2="209.00" stroke="#2a2a2a" stroke-width="1.0" />
<line x1="40.50" y1="205.50" x2="40.50" y2="207.50" stroke="#2a2a2a" stroke-width="1.0" />
<line x1="90.11" y1="205.50" x2="90.11" y2="207.50" stroke="#2a2a2a" stroke-width="1.0" />
<line x1="139.72" y1="205.50" x2="139.72" y2="207.50" stroke="#2a2a2a" stroke-width="1.0" />
<line x1="189.33" y1="205.50" x2="189.33" y2="207.50" stroke="#2a2a2a" stroke-width="1.0" />
<line x1="238.94" y1="205.50" x2="238.94" y2="207.50" stroke="#2a2a2a" stroke-width="1.0" />
<line x1="288.55" y1="205.50" x2="288.55" y2="207.50" stroke="#2a2a2a" stroke-width="1.0" />
<line x1="40.50" y1="189.70" x2="36.50" y2="189.70" stroke="#2a2a2a" stroke-width="1.0" />
<line x1="40.50" y1="143.65" x2="36.50" y2="143.65" stroke="#2a2a2a" stroke-width="1.0" />
<line x1="40.50" y1="97.60" x2="36.50" y2="97.60" stroke="#2a2a2a" stroke-width="1.0" />
<line x1="40.50" y1="51.55" x2="36.50" y2="51.55" stroke="#2a2a2a" stroke-width="1.0" />
<line x1="40.50" y1="5.50" x2="36.50" y2="5.50" stroke="#2a2a2a" stroke-width="1.0" />
<line x1="40.50" y1="166.68" x2="38.00" y2="166.68" stroke="#2a2a2a" stroke-width="1.0" />
<line x1="40.50" y1="120.62" x2="38.00" y2="120.62" stroke="#2a2a2a" stroke-width="1.0" />
<line x1="40.50" y1="74.57" x2="38.00" y2="74.57" stroke="#2a2a2a" stroke-width="1.0" />
<line x1="40.50" y1="28.52" x2="38.00" y2="28.52" stroke="#2a2a2a" stroke-width="1.0" />
<line x1="40.50" y1="205.50" x2="38.00" y2="205.50" stroke="#2a2a2a" stroke-width="1.0" />
<text transform="translate(65.31,221.40) scale(1,1.08)" font-size="13.3" text-anchor="middle" fill="#111" >400</text>
<text transform="translate(114.91,221.40) scale(1,1.08)" font-size="13.3" text-anchor="middle" fill="#111" >500</text>
<text transform="translate(164.52,221.40) scale(1,1.08)" font-size="13.3" text-anchor="middle" fill="#111" >600</text>
<text transform="translate(214.13,221.40) scale(1,1.08)" font-size="13.3" text-anchor="middle" fill="#111" >700</text>
<text transform="translate(263.75,221.40) scale(1,1.08)" font-size="13.3" text-anchor="middle" fill="#111" >800</text>
<text transform="translate(313.36,221.40) scale(1,1.08)" font-size="13.3" text-anchor="middle" fill="#111" >900</text>
<text transform="translate(34.30,194.10) scale(1,1.08)" font-size="13.3" text-anchor="end" fill="#111" >60</text>
<rect x="13.51" y="188.95" width="4.9" height="1.5" fill="#111"/>
<text transform="translate(34.30,148.05) scale(1,1.08)" font-size="13.3" text-anchor="end" fill="#111" >30</text>
<rect x="13.51" y="142.90" width="4.9" height="1.5" fill="#111"/>
<text transform="translate(34.30,102.00) scale(1,1.08)" font-size="13.3" text-anchor="end" fill="#111" >0</text>
<text transform="translate(34.30,55.95) scale(1,1.08)" font-size="13.3" text-anchor="end" fill="#111" >30</text>
<text transform="translate(34.30,9.90) scale(1,1.08)" font-size="13.3" text-anchor="end" fill="#111" >60</text>
<text transform="translate(16.20,125.00) rotate(-90) scale(1,1.08)" font-size="13.3" fill="#111" >&#916;<tspan font-style="italic">A</tspan> / 10<tspan font-size="9" dy="-5">&#8211;3</tspan></text>
<text transform="translate(170.50,235.50) skewX(-13) scale(1,1.0)" style="font-family:'Liberation Serif',serif" font-style="italic" font-size="16" fill="#111">&#955;</text>
<text transform="translate(181.20,235.40) scale(1,1.08)" font-size="13.3" fill="#111" >/</text>
<text transform="translate(189.40,235.40) scale(1,1.08)" font-size="13.3" fill="#111" >nm</text>
<text transform="translate(338.10,11.80) scale(1,1.0)" font-size="13.8" font-weight="bold" fill="#000" >b</text>
<polyline points="391.3,83.0 391.8,82.4 392.3,82.6 392.8,83.4 393.4,83.4 393.9,83.3 394.4,82.9 394.9,83.1 395.4,82.9 395.9,82.9 396.4,83.2 397.0,83.1 397.5,83.0 398.0,83.1 398.5,82.8 399.0,82.2 399.5,82.8 400.0,83.0 400.6,83.8 401.1,82.9 401.6,83.9 402.1,83.6 402.6,82.7 403.1,82.7 403.6,83.1 404.2,83.8 404.7,83.2 405.2,83.3 405.7,82.8 406.2,82.1 406.7,82.9 407.2,83.4 407.8,83.5 408.3,83.1 408.8,83.1 409.3,83.5 409.8,83.0 410.3,83.5 410.8,82.6 411.4,82.6 411.9,82.6 412.4,83.2 412.9,82.8 413.4,83.1 413.9,83.2 414.4,83.2 415.0,83.6 415.5,83.7 416.0,82.7 416.5,83.1 417.0,82.9 417.5,82.6 418.0,83.8 418.6,83.4 419.1,83.0 419.6,82.9 420.1,83.2 420.6,82.6 421.1,82.9 421.6,83.6 422.2,83.4 422.7,82.7 423.2,82.8 423.7,83.9 424.2,82.5 424.7,82.8 425.2,82.5 425.8,83.2 426.3,83.2 426.8,83.5 427.3,82.0 427.8,83.1 428.3,82.4 428.8,83.3 429.4,83.0 429.9,83.8 430.4,83.2 430.9,82.6 431.4,83.6 431.9,82.6 432.4,82.9 433.0,83.5 433.5,83.3 434.0,83.2 434.5,83.1 435.0,83.3 435.5,83.4 436.0,83.2 436.5,83.5 437.1,83.6 437.6,83.1 438.1,82.7 438.6,83.7 439.1,83.0 439.6,83.3 440.1,83.5 440.7,82.7 441.2,83.3 441.7,82.4 442.2,83.4 442.7,82.9 443.2,83.1 443.7,83.4 444.3,82.8 444.8,83.1 445.3,82.8 445.8,83.1 446.3,83.5 446.8,83.1 447.3,83.0 447.9,82.6 448.4,83.4 448.9,83.1 449.4,83.8 449.9,82.8 450.4,83.5 450.9,83.8 451.5,83.1 452.0,82.6 452.5,83.7 453.0,83.5 453.5,83.4 454.0,83.5 454.5,82.9 455.1,83.4 455.6,83.3 456.1,82.8 456.6,83.4 457.1,82.9 457.6,83.5 458.1,83.6 458.7,83.8 459.2,82.2 459.7,83.2 460.2,82.9 460.7,83.1 461.2,83.0 461.7,83.0 462.3,82.2 462.8,83.5 463.3,83.7 463.8,83.5 464.3,83.6 464.8,82.7 465.3,82.7 465.9,83.5 466.4,83.6" fill="none" stroke="#000" stroke-width="1.2" stroke-linejoin="round" stroke-linecap="round" stroke-dasharray="2.2 0.8"/>
<polyline points="475.6,83.2 476.1,82.4 476.7,84.2 477.2,82.8 477.7,83.5 478.2,82.6 478.7,83.5 479.2,83.2 479.7,83.7 480.3,83.5 480.8,82.4 481.3,82.7 481.8,83.2 482.3,83.4 482.8,83.9 483.3,83.2 483.9,83.1 484.4,83.1 484.9,83.1 485.4,83.5 485.9,83.1 486.4,83.1 486.9,82.5 487.5,82.2 488.0,83.1 488.5,83.4 489.0,83.1 489.5,83.3 490.0,83.4 490.5,83.1 491.1,83.5 491.6,82.8 492.1,83.1 492.6,82.9 493.1,83.1 493.6,83.4 494.1,83.4 494.7,83.1 495.2,83.3 495.7,82.9 496.2,83.0 496.7,83.6 497.2,83.0 497.7,83.6 498.3,83.3 498.8,83.2 499.3,83.9 499.8,83.0 500.3,83.0 500.8,83.1 501.3,83.2 501.9,83.2 502.4,83.5 502.9,83.2 503.4,83.3 503.9,83.0 504.4,83.6 504.9,82.9 505.5,83.0 506.0,83.1 506.5,83.2 507.0,82.8 507.5,83.8 508.0,82.8 508.5,82.9 509.1,82.9 509.6,82.9 510.1,83.3 510.6,83.2 511.1,82.8 511.6,82.9 512.1,83.0 512.7,83.7 513.2,82.8 513.7,82.5 514.2,82.6 514.7,82.9 515.2,83.7 515.7,82.6 516.3,83.1 516.8,84.1 517.3,82.9 517.8,83.7 518.3,83.6 518.8,83.3 519.3,82.5 519.9,83.2 520.4,82.9 520.9,82.3 521.4,82.4 521.9,83.1 522.4,83.1 522.9,83.6 523.4,83.3 524.0,82.9 524.5,82.9 525.0,83.0 525.5,82.6 526.0,83.4 526.5,83.1 527.0,82.7 527.6,82.8 528.1,82.6 528.6,82.9 529.1,83.2 529.6,82.9 530.1,83.5 530.6,83.7 531.2,82.8 531.7,83.1 532.2,82.9 532.7,83.8 533.2,83.2 533.7,83.3 534.2,83.4 534.8,84.0 535.3,83.2 535.8,82.7 536.3,82.9 536.8,83.3 537.3,83.0 537.8,82.7 538.4,84.2 538.9,83.1 539.4,82.8 539.9,82.7 540.4,82.3 540.9,82.6 541.4,82.9 542.0,82.9 542.5,82.7 543.0,83.3 543.5,83.1 544.0,82.7 544.5,82.2 545.0,83.1 545.6,83.1 546.1,83.0 546.6,82.5 547.1,83.1 547.6,82.4 548.1,83.5 548.6,83.1 549.2,83.1 549.7,82.7 550.2,82.6 550.7,83.7 551.2,83.4 551.7,82.9 552.2,83.3 552.8,83.7 553.3,82.6 553.8,82.8 554.3,82.8 554.8,83.2 555.3,82.6 555.8,83.1 556.4,82.6 556.9,83.4 557.4,83.4 557.9,83.0 558.4,83.3 558.9,82.8 559.4,82.9 560.0,83.4 560.5,83.0 561.0,83.2 561.5,82.6 562.0,83.3 562.5,83.2 563.0,82.5 563.6,82.1 564.1,82.2 564.6,83.0 565.1,82.9 565.6,82.4 566.1,83.1 566.6,83.5 567.2,83.0 567.7,82.8 568.2,83.4 568.7,83.7 569.2,83.7 569.7,82.8 570.2,83.4 570.8,83.1 571.3,82.9 571.8,82.8 572.3,83.2 572.8,82.8 573.3,83.4 573.8,83.2 574.4,83.5 574.9,82.6 575.4,83.1 575.9,83.4 576.4,83.2 576.9,83.1 577.4,82.7 578.0,83.7 578.5,83.5 579.0,83.2 579.5,82.0 580.0,82.6 580.5,83.1 581.0,82.7 581.6,82.2 582.1,83.1 582.6,83.2 583.1,82.5 583.6,82.8 584.1,82.8 584.6,83.3 585.2,82.2 585.7,82.3 586.2,82.8 586.7,82.7 587.2,83.9 587.7,82.8 588.2,83.1 588.8,82.9 589.3,82.7 589.8,83.2 590.3,83.8 590.8,82.9 591.3,83.4 591.8,83.2 592.4,83.3 592.9,83.2 593.4,84.0 593.9,82.5 594.4,82.9 594.9,82.6 595.4,82.2 596.0,83.0 596.5,83.8 597.0,83.4 597.5,83.6 598.0,83.3 598.5,83.0 599.0,83.9 599.6,82.9 600.1,83.7 600.6,82.9 601.1,83.1 601.6,83.2 602.1,83.1 602.6,83.3 603.2,83.3 603.7,83.8 604.2,83.1 604.7,82.2 605.2,82.2 605.7,82.5 606.2,82.7 606.7,83.3 607.3,82.4 607.8,83.1 608.3,83.1 608.8,83.2 609.3,83.0 609.8,83.2 610.3,83.1 610.9,83.5 611.4,83.2 611.9,82.1 612.4,83.1 612.9,83.1 613.4,82.8 613.9,82.7 614.5,83.5 615.0,83.1 615.5,82.6 616.0,82.9 616.5,83.0 617.0,82.4 617.5,83.3 618.1,83.0 618.6,83.3 619.1,82.4 619.6,83.9 620.1,83.3 620.6,83.3 621.1,82.8 621.7,82.8 622.2,82.4 622.7,83.7 623.2,82.7 623.7,83.2 624.2,83.3 624.7,82.8 625.3,83.4 625.8,83.9 626.3,83.2 626.8,83.7 627.3,83.3 627.8,82.9 628.3,82.9 628.9,82.4 629.4,83.1 629.9,83.7 630.4,83.4 630.9,83.4 631.4,83.6 631.9,82.9 632.5,83.3 633.0,83.9 633.5,82.7 634.0,83.1 634.5,82.9 635.0,83.0 635.5,82.8 636.1,83.0 636.6,82.5 637.1,82.9 637.6,82.9 638.1,82.9 638.6,83.7 639.1,83.1 639.7,83.2 640.2,83.0 640.7,83.6 641.2,82.3 641.7,83.0 642.2,83.6 642.7,83.8 643.3,83.2 643.8,83.1 644.3,83.3 644.8,83.0 645.3,83.3 645.8,82.8 646.3,83.4 646.9,83.1 647.4,82.6 647.9,81.9 648.4,83.5 648.9,83.2 649.4,83.4 649.9,82.7 650.5,83.5 651.0,83.2 651.5,83.1 652.0,83.5 652.5,83.5 653.0,83.2 653.5,83.9 654.1,83.7 654.6,83.2 655.1,83.0 655.6,83.1 656.1,83.8 656.6,83.2 657.1,82.7 657.7,82.8 658.2,83.1 658.7,83.4 659.2,82.8 659.7,83.3 660.2,83.5 660.7,83.4 661.3,82.4 661.8,82.9 662.3,82.5 662.8,83.2 663.3,82.6 663.8,83.3 664.3,83.1 664.9,82.0 665.4,82.7 665.9,83.3 666.4,83.1 666.9,82.9 667.4,82.5 667.9,83.2 668.5,83.8 669.0,83.2 669.5,83.0 670.0,83.0 670.5,82.5 671.0,82.9 671.5,82.7 672.1,83.5 672.6,82.7 673.1,82.1 673.6,82.7 674.1,82.9" fill="none" stroke="#000" stroke-width="1.2" stroke-linejoin="round" stroke-linecap="round" stroke-dasharray="2.2 0.8"/>
<polyline points="391.3,83.4 391.6,83.5 391.8,83.5 392.1,83.5 392.3,83.5 392.6,83.5 392.8,83.5 393.1,83.5 393.4,83.5 393.6,83.5 393.9,83.5 394.1,83.5 394.4,83.5 394.6,83.5 394.9,83.5 395.2,83.5 395.4,83.5 395.7,83.5 395.9,83.5 396.2,83.5 396.4,83.5 396.7,83.5 397.0,83.5 397.2,83.5 397.5,83.5 397.7,83.5 398.0,83.5 398.2,83.5 398.5,83.5 398.8,83.5 399.0,83.5 399.3,83.5 399.5,83.5 399.8,83.5 400.0,83.5 400.3,83.4 400.6,83.4 400.8,83.4 401.1,83.4 401.3,83.4 401.6,83.4 401.8,83.4 402.1,83.4 402.4,83.4 402.6,83.3 402.9,83.3 403.1,83.3 403.4,83.3 403.6,83.3 403.9,83.3 404.2,83.3 404.4,83.3 404.7,83.2 404.9,83.2 405.2,83.2 405.4,83.2 405.7,83.2 406.0,83.2 406.2,83.2 406.5,83.2 406.7,83.1 407.0,83.1 407.2,83.1 407.5,83.1 407.8,83.1 408.0,83.1 408.3,83.1 408.5,83.1 408.8,83.0 409.0,83.0 409.3,83.0 409.6,83.0 409.8,83.0 410.1,83.0 410.3,82.9 410.6,82.9 410.8,82.9 411.1,82.9 411.4,82.9 411.6,82.9 411.9,82.8 412.1,82.8 412.4,82.8 412.6,82.8 412.9,82.8 413.2,82.8 413.4,82.7 413.7,82.7 413.9,82.7 414.2,82.7 414.4,82.7 414.7,82.7 415.0,82.6 415.2,82.6 415.5,82.6 415.7,82.6 416.0,82.6 416.2,82.6 416.5,82.5 416.8,82.5 417.0,82.5 417.3,82.5 417.5,82.5 417.8,82.5 418.0,82.4 418.3,82.4 418.6,82.4 418.8,82.4 419.1,82.4 419.3,82.4 419.6,82.3 419.8,82.3 420.1,82.3 420.4,82.3 420.6,82.3 420.9,82.3 421.1,82.2 421.4,82.2 421.6,82.2 421.9,82.2 422.2,82.2 422.4,82.2 422.7,82.2 422.9,82.1 423.2,82.1 423.4,82.1 423.7,82.1 424.0,82.1 424.2,82.1 424.5,82.1 424.7,82.1 425.0,82.0 425.2,82.0 425.5,82.0 425.8,82.0 426.0,82.0 426.3,82.0 426.5,82.0 426.8,82.0 427.0,82.0 427.3,81.9 427.6,81.9 427.8,81.9 428.1,81.9 428.3,81.9 428.6,81.9 428.8,81.9 429.1,81.9 429.4,81.9 429.6,81.9 429.9,81.9 430.1,81.9 430.4,81.9 430.6,81.9 430.9,81.9 431.2,81.9 431.4,81.9 431.7,81.9 431.9,81.9 432.2,81.9 432.4,81.9 432.7,81.9 433.0,81.9 433.2,81.9 433.5,81.9 433.7,81.9 434.0,81.9 434.2,81.9 434.5,81.9 434.7,81.9 435.0,81.9 435.3,81.9 435.5,81.9 435.8,81.9 436.0,81.9 436.3,81.9 436.5,81.9 436.8,81.9 437.1,81.9 437.3,81.9 437.6,82.0 437.8,82.0 438.1,82.0 438.3,82.0 438.6,82.0 438.9,82.0 439.1,82.0 439.4,82.1 439.6,82.1 439.9,82.1 440.1,82.1 440.4,82.1 440.7,82.2 440.9,82.2 441.2,82.2 441.4,82.2 441.7,82.2 441.9,82.3 442.2,82.3 442.5,82.3 442.7,82.3 443.0,82.4 443.2,82.4 443.5,82.4 443.7,82.4 444.0,82.5 444.3,82.5 444.5,82.5 444.8,82.5 445.0,82.5 445.3,82.6 445.5,82.6 445.8,82.6 446.1,82.6 446.3,82.7 446.6,82.7 446.8,82.7 447.1,82.7 447.3,82.8 447.6,82.8 447.9,82.8 448.1,82.8 448.4,82.9 448.6,82.9 448.9,82.9 449.1,82.9 449.4,82.9 449.7,83.0 449.9,83.0 450.2,83.0 450.4,83.0 450.7,83.1 450.9,83.1 451.2,83.1 451.5,83.1 451.7,83.2 452.0,83.2 452.2,83.2 452.5,83.3 452.7,83.3 453.0,83.3 453.3,83.3 453.5,83.4 453.8,83.4 454.0,83.4 454.3,83.5 454.5,83.5 454.8,83.5 455.1,83.6 455.3,83.6 455.6,83.6 455.8,83.6 456.1,83.7 456.3,83.7 456.6,83.7 456.9,83.8 457.1,83.8 457.4,83.8 457.6,83.9 457.9,83.9 458.1,83.9 458.4,84.0 458.7,84.0 458.9,84.0 459.2,84.1 459.4,84.1 459.7,84.1 459.9,84.2 460.2,84.2 460.5,84.2 460.7,84.3 461.0,84.3 461.2,84.3 461.5,84.4 461.7,84.4 462.0,84.4 462.3,84.5 462.5,84.5 462.8,84.5 463.0,84.6 463.3,84.6 463.5,84.6 463.8,84.6 464.1,84.7 464.3,84.7 464.6,84.7 464.8,84.8 465.1,84.8 465.3,84.8 465.6,84.8 465.9,84.9 466.1,84.9 466.4,84.9" fill="none" stroke="#b03454" stroke-width="1.15" stroke-linejoin="round" stroke-linecap="round" />
<polyline points="475.6,83.7 475.9,83.4 476.1,83.8 476.4,83.7 476.7,83.6 476.9,83.5 477.2,83.7 477.4,83.6 477.7,83.7 477.9,83.6 478.2,83.6 478.5,83.8 478.7,83.6 479.0,83.4 479.2,83.7 479.5,83.6 479.7,83.5 480.0,83.7 480.3,83.5 480.5,83.7 480.8,83.4 481.0,83.2 481.3,83.2 481.5,83.5 481.8,83.4 482.1,83.5 482.3,83.5 482.6,83.3 482.8,83.7 483.1,83.3 483.3,83.5 483.6,83.3 483.9,83.4 484.1,83.6 484.4,83.4 484.6,83.3 484.9,83.5 485.1,83.4 485.4,83.5 485.7,83.8 485.9,83.3 486.2,83.3 486.4,83.4 486.7,83.4 486.9,83.3 487.2,83.5 487.5,83.6 487.7,83.5 488.0,83.3 488.2,83.7 488.5,83.3 488.7,83.5 489.0,83.6 489.3,83.2 489.5,83.5 489.8,83.6 490.0,83.5 490.3,83.3 490.5,83.3 490.8,83.5 491.1,83.4 491.3,83.3 491.6,83.5 491.8,83.4 492.1,83.4 492.3,83.5 492.6,83.5 492.9,83.4 493.1,83.4 493.4,83.5 493.6,83.5 493.9,83.3 494.1,83.4 494.4,83.3 494.7,83.3 494.9,83.4 495.2,83.1 495.4,83.6 495.7,83.3 495.9,83.5 496.2,83.2 496.5,83.2 496.7,83.8 497.0,83.6 497.2,83.4 497.5,83.3 497.7,83.4 498.0,83.5 498.3,83.4 498.5,83.4 498.8,83.5 499.0,83.3 499.3,83.8 499.5,83.4 499.8,83.6 500.1,83.3 500.3,83.5 500.6,83.6 500.8,83.4 501.1,83.6 501.3,83.6 501.6,83.7 501.9,83.5 502.1,83.4 502.4,83.3 502.6,83.5 502.9,83.3 503.1,83.5 503.4,83.5 503.7,83.4 503.9,83.3 504.2,83.5 504.4,83.5 504.7,83.5 504.9,83.5 505.2,83.6 505.5,83.3 505.7,83.6 506.0,83.4 506.2,83.6 506.5,83.4 506.7,83.4 507.0,83.6 507.3,83.2 507.5,83.4 507.8,83.2 508.0,83.3 508.3,83.6 508.5,83.5 508.8,83.4 509.1,83.5 509.3,83.5 509.6,83.5 509.8,83.8 510.1,83.5 510.3,83.8 510.6,83.4 510.9,83.6 511.1,83.6 511.4,83.5 511.6,83.4 511.9,83.7 512.1,83.7 512.4,83.6 512.7,83.8 512.9,83.6 513.2,83.2 513.4,83.6 513.7,83.4 513.9,83.7 514.2,83.4 514.5,83.5 514.7,83.5 515.0,83.4 515.2,83.2 515.5,83.4 515.7,83.4 516.0,83.6 516.3,83.3 516.5,83.5 516.8,83.3 517.0,83.4 517.3,83.2 517.5,83.7 517.8,83.5 518.1,83.3 518.3,83.5 518.6,83.5 518.8,83.4 519.1,83.6 519.3,83.4 519.6,83.0 519.9,83.2 520.1,83.6 520.4,83.5 520.6,83.4 520.9,83.2 521.1,83.5 521.4,83.5 521.6,83.2 521.9,83.2 522.2,83.4 522.4,83.5 522.7,83.6 522.9,83.5 523.2,83.7 523.4,83.2 523.7,83.4 524.0,83.3 524.2,83.0 524.5,83.1 524.7,83.5 525.0,83.2 525.2,83.1 525.5,83.4 525.8,83.4 526.0,83.3 526.3,83.5 526.5,83.1 526.8,83.7 527.0,83.5 527.3,83.3 527.6,83.3 527.8,83.2 528.1,83.2 528.3,83.3 528.6,83.1 528.8,83.6 529.1,83.3 529.4,83.4 529.6,83.2 529.9,83.2 530.1,83.4 530.4,83.3 530.6,83.1 530.9,83.2 531.2,83.3 531.4,82.9 531.7,82.9 531.9,83.4 532.2,83.2 532.4,82.8 532.7,83.1 533.0,83.2 533.2,83.2 533.5,83.3 533.7,83.2 534.0,83.3 534.2,83.1 534.5,83.2 534.8,83.2 535.0,83.3 535.3,83.2 535.5,83.3 535.8,83.2 536.0,83.0 536.3,83.1 536.6,83.1 536.8,83.1 537.1,83.1 537.3,83.1 537.6,83.2 537.8,83.0 538.1,83.3 538.4,82.9 538.6,83.1 538.9,83.2 539.1,83.2 539.4,83.2 539.6,83.1 539.9,83.2 540.2,82.9 540.4,83.2 540.7,83.4 540.9,83.2 541.2,83.4 541.4,83.1 541.7,82.9 542.0,83.0 542.2,83.3 542.5,83.2 542.7,82.8 543.0,83.0 543.2,83.0 543.5,82.9 543.8,82.7 544.0,82.8 544.3,83.0 544.5,83.0 544.8,82.9 545.0,83.1 545.3,83.2 545.6,83.0 545.8,83.2 546.1,83.0 546.3,83.0 546.6,82.6 546.8,83.1 547.1,83.0 547.4,83.0 547.6,82.9 547.9,82.8 548.1,83.1 548.4,83.1 548.6,83.2 548.9,83.1 549.2,82.9 549.4,83.0 549.7,83.1 549.9,83.0 550.2,83.0 550.4,82.9 550.7,83.1 551.0,83.0 551.2,83.2 551.5,83.1 551.7,82.7 552.0,83.3 552.2,83.0 552.5,82.9 552.8,83.0 553.0,83.1 553.3,83.0 553.5,82.9 553.8,83.0 554.0,83.2 554.3,83.0 554.6,83.1 554.8,83.0 555.1,82.9 555.3,82.8 555.6,82.8 555.8,83.0 556.1,82.8 556.4,82.7 556.6,82.7 556.9,82.7 557.1,82.9 557.4,82.9 557.6,82.8 557.9,83.1 558.2,82.9 558.4,83.0 558.7,83.0 558.9,83.2 559.2,83.0 559.4,82.9 559.7,82.8 560.0,82.7 560.2,82.9 560.5,82.9 560.7,83.0 561.0,82.8 561.2,82.9 561.5,82.8 561.8,82.6 562.0,82.9 562.3,83.1 562.5,83.0 562.8,83.1 563.0,83.1 563.3,82.7 563.6,82.8 563.8,83.1 564.1,82.8 564.3,82.7 564.6,82.9 564.8,83.0 565.1,82.9 565.4,82.8 565.6,82.8 565.9,82.7 566.1,82.7 566.4,82.7 566.6,82.7 566.9,82.8 567.2,83.1 567.4,82.9 567.7,82.8 567.9,82.9 568.2,82.7 568.4,82.9 568.7,83.0 569.0,82.6 569.2,82.8 569.5,82.8 569.7,82.7 570.0,82.7 570.2,82.8 570.5,83.2 570.8,83.0 571.0,82.9 571.3,83.0 571.5,82.8 571.8,82.7 572.0,82.9 572.3,83.0 572.6,82.5 572.8,82.9 573.1,83.0 573.3,82.8 573.6,82.8 573.8,83.0 574.1,82.7 574.4,82.9 574.6,83.0 574.9,82.8 575.1,82.7 575.4,83.0 575.6,82.8 575.9,82.9 576.2,82.4 576.4,83.0 576.7,82.6 576.9,82.9 577.2,82.9 577.4,82.8 577.7,82.7 578.0,82.7 578.2,82.8 578.5,83.0 578.7,83.0 579.0,82.8 579.2,82.8 579.5,82.7 579.8,82.8 580.0,82.7 580.3,82.6 580.5,82.9 580.8,83.1 581.0,83.1 581.3,83.1 581.6,82.6 581.8,83.0 582.1,82.7 582.3,82.8 582.6,82.6 582.8,82.7 583.1,82.9 583.4,82.9 583.6,82.9 583.9,82.9 584.1,83.0 584.4,82.9 584.6,82.7 584.9,83.2 585.2,82.9 585.4,83.1 585.7,82.9 585.9,82.8 586.2,82.9 586.4,82.8 586.7,83.2 587.0,82.8 587.2,83.0 587.5,82.9 587.7,82.9 588.0,83.3 588.2,83.1 588.5,82.9 588.8,82.7 589.0,82.9 589.3,82.9 589.5,83.2 589.8,82.7 590.0,82.7 590.3,83.0 590.6,83.0 590.8,83.2 591.1,82.8 591.3,82.6 591.6,82.9 591.8,82.8 592.1,82.9 592.4,83.1 592.6,82.8 592.9,83.2 593.1,83.0 593.4,82.9 593.6,82.9 593.9,82.9 594.2,82.9 594.4,83.1 594.7,83.2 594.9,83.0 595.2,83.1 595.4,83.2 595.7,83.2 596.0,83.1 596.2,83.3 596.5,83.2 596.7,83.3 597.0,83.0 597.2,82.9 597.5,82.7 597.8,83.2 598.0,83.1 598.3,82.9 598.5,83.0 598.8,83.1 599.0,82.7 599.3,83.1 599.6,83.2 599.8,83.2 600.1,83.0 600.3,83.0 600.6,83.2 600.8,83.2 601.1,82.9 601.4,82.9 601.6,83.1 601.9,82.9 602.1,82.9 602.4,83.3 602.6,83.1 602.9,83.0 603.2,83.1 603.4,83.3 603.7,83.1 603.9,82.9 604.2,82.8 604.4,83.4 604.7,82.6 605.0,83.2 605.2,82.9 605.5,82.8 605.7,82.9 606.0,83.0 606.2,83.2 606.5,82.9 606.7,83.1 607.0,83.4 607.3,82.6 607.5,82.9 607.8,82.7 608.0,83.2 608.3,82.8 608.5,82.8 608.8,82.8 609.1,83.0 609.3,83.2 609.6,83.0 609.8,83.4 610.1,83.3 610.3,83.0 610.6,83.2 610.9,83.0 611.1,83.0 611.4,82.7 611.6,82.8 611.9,83.0 612.1,82.8 612.4,83.1 612.7,83.1 612.9,82.9 613.2,83.2 613.4,83.1 613.7,83.2 613.9,83.0 614.2,82.8 614.5,83.1 614.7,83.0 615.0,83.2 615.2,83.2 615.5,83.2 615.7,82.8 616.0,82.7 616.3,82.9 616.5,83.1 616.8,82.9 617.0,83.1 617.3,82.9 617.5,83.0 617.8,83.0 618.1,82.9 618.3,83.1 618.6,83.1 618.8,83.3 619.1,83.1 619.3,83.2 619.6,83.0 619.9,83.2 620.1,83.0 620.4,83.0 620.6,83.2 620.9,83.1 621.1,83.2 621.4,82.9 621.7,82.8 621.9,82.9 622.2,83.1 622.4,82.8 622.7,83.3 622.9,82.8 623.2,83.1 623.5,83.4 623.7,82.6 624.0,82.8 624.2,83.2 624.5,83.0 624.7,83.1 625.0,83.0 625.3,83.2 625.5,83.1 625.8,82.9 626.0,83.0 626.3,82.8 626.5,83.0 626.8,82.7 627.1,83.1 627.3,83.0 627.6,83.3 627.8,83.2 628.1,82.8 628.3,83.2 628.6,82.9 628.9,83.0 629.1,83.2 629.4,83.1 629.6,83.1 629.9,83.1 630.1,82.9 630.4,82.9 630.7,83.1 630.9,83.2 631.2,83.0 631.4,83.0 631.7,82.9 631.9,82.6 632.2,82.9 632.5,83.0 632.7,83.0 633.0,83.2 633.2,83.2 633.5,83.2 633.7,83.1 634.0,83.1 634.3,82.9 634.5,83.1 634.8,83.1 635.0,83.2 635.3,82.8 635.5,82.9 635.8,82.7 636.1,82.9 636.3,82.8 636.6,83.1 636.8,82.9 637.1,82.6 637.3,83.2 637.6,82.8 637.9,82.8 638.1,83.0 638.4,82.9 638.6,82.8 638.9,83.1 639.1,83.0 639.4,83.2 639.7,83.1 639.9,83.1 640.2,83.0 640.4,83.0 640.7,83.0 640.9,83.2 641.2,82.7 641.5,82.8 641.7,82.9 642.0,83.1 642.2,83.0 642.5,82.9 642.7,83.0 643.0,83.3 643.3,82.9 643.5,82.6 643.8,83.3 644.0,82.9 644.3,83.0 644.5,83.0 644.8,82.8 645.1,83.2 645.3,83.0 645.6,82.8 645.8,83.1 646.1,83.1 646.3,83.0 646.6,83.1 646.9,82.8 647.1,83.2 647.4,82.9 647.6,83.2 647.9,82.9 648.1,83.0 648.4,83.4 648.7,83.0 648.9,83.2 649.2,83.1 649.4,82.8 649.7,83.2 649.9,83.2 650.2,82.8 650.5,83.0 650.7,82.8 651.0,83.0 651.2,83.2 651.5,83.0 651.7,82.8 652.0,82.9 652.3,83.0 652.5,83.0 652.8,83.0 653.0,83.1 653.3,82.7 653.5,83.0 653.8,83.2 654.1,83.1 654.3,82.9 654.6,82.9 654.8,83.0 655.1,83.1 655.3,83.0 655.6,83.3 655.9,83.2 656.1,82.9 656.4,83.1 656.6,83.0 656.9,82.8 657.1,82.9 657.4,83.0 657.7,82.7 657.9,82.9 658.2,83.1 658.4,82.9 658.7,83.0 658.9,83.2 659.2,83.0 659.5,83.0 659.7,83.3 660.0,83.0 660.2,83.1 660.5,83.1 660.7,83.3 661.0,83.1 661.3,83.0 661.5,83.0 661.8,83.2 662.0,82.9 662.3,83.2 662.5,83.1 662.8,82.8 663.1,83.1 663.3,83.1 663.6,82.9 663.8,83.1 664.1,83.1 664.3,83.0 664.6,82.9 664.9,83.4 665.1,83.2 665.4,83.2 665.6,83.2 665.9,83.2 666.1,83.2 666.4,83.0 666.7,83.2 666.9,83.0 667.2,83.0 667.4,83.1 667.7,83.0 667.9,82.8 668.2,83.0 668.5,83.1 668.7,83.0 669.0,83.2 669.2,83.0 669.5,82.9 669.7,83.1 670.0,83.1 670.3,82.8 670.5,83.1 670.8,83.0 671.0,83.2 671.3,83.1 671.5,83.1 671.8,82.7 672.1,83.1 672.3,83.1 672.6,83.1 672.8,83.0 673.1,82.9 673.3,83.0 673.6,82.7 673.9,83.0 674.1,82.8" fill="none" stroke="#b03454" stroke-width="1.15" stroke-linejoin="round" stroke-linecap="round" />
<polyline points="391.3,84.8 391.6,84.8 391.8,84.8 392.1,84.9 392.3,84.9 392.6,84.9 392.8,85.0 393.1,85.0 393.4,85.0 393.6,85.0 393.9,85.0 394.1,85.0 394.4,85.0 394.6,85.0 394.9,85.0 395.2,85.0 395.4,85.0 395.7,85.1 395.9,85.1 396.2,85.1 396.4,85.1 396.7,85.1 397.0,85.1 397.2,85.1 397.5,85.0 397.7,85.0 398.0,85.0 398.2,85.0 398.5,85.0 398.8,85.0 399.0,84.9 399.3,84.9 399.5,84.9 399.8,84.8 400.0,84.8 400.3,84.8 400.6,84.7 400.8,84.7 401.1,84.6 401.3,84.6 401.6,84.5 401.8,84.5 402.1,84.4 402.4,84.4 402.6,84.3 402.9,84.3 403.1,84.2 403.4,84.2 403.6,84.1 403.9,84.1 404.2,84.0 404.4,84.0 404.7,83.9 404.9,83.8 405.2,83.8 405.4,83.7 405.7,83.7 406.0,83.6 406.2,83.6 406.5,83.5 406.7,83.5 407.0,83.4 407.2,83.4 407.5,83.3 407.8,83.3 408.0,83.2 408.3,83.2 408.5,83.1 408.8,83.0 409.0,83.0 409.3,82.9 409.6,82.8 409.8,82.8 410.1,82.7 410.3,82.6 410.6,82.6 410.8,82.5 411.1,82.4 411.4,82.4 411.6,82.3 411.9,82.2 412.1,82.1 412.4,82.1 412.6,82.0 412.9,81.9 413.2,81.9 413.4,81.8 413.7,81.7 413.9,81.6 414.2,81.6 414.4,81.5 414.7,81.4 415.0,81.3 415.2,81.3 415.5,81.2 415.7,81.1 416.0,81.0 416.2,81.0 416.5,80.9 416.8,80.8 417.0,80.7 417.3,80.7 417.5,80.6 417.8,80.5 418.0,80.5 418.3,80.4 418.6,80.3 418.8,80.2 419.1,80.2 419.3,80.1 419.6,80.0 419.8,80.0 420.1,79.9 420.4,79.8 420.6,79.7 420.9,79.7 421.1,79.6 421.4,79.5 421.6,79.5 421.9,79.4 422.2,79.4 422.4,79.3 422.7,79.2 422.9,79.2 423.2,79.1 423.4,79.1 423.7,79.0 424.0,79.0 424.2,78.9 424.5,78.9 424.7,78.8 425.0,78.7 425.2,78.7 425.5,78.6 425.8,78.6 426.0,78.6 426.3,78.5 426.5,78.5 426.8,78.4 427.0,78.4 427.3,78.4 427.6,78.3 427.8,78.3 428.1,78.3 428.3,78.2 428.6,78.2 428.8,78.2 429.1,78.1 429.4,78.1 429.6,78.1 429.9,78.1 430.1,78.0 430.4,78.0 430.6,78.0 430.9,78.0 431.2,78.0 431.4,78.0 431.7,78.0 431.9,78.0 432.2,78.0 432.4,78.0 432.7,78.0 433.0,78.0 433.2,78.0 433.5,78.0 433.7,78.0 434.0,78.0 434.2,78.0 434.5,78.0 434.7,78.0 435.0,78.0 435.3,78.1 435.5,78.1 435.8,78.1 436.0,78.1 436.3,78.2 436.5,78.2 436.8,78.2 437.1,78.3 437.3,78.3 437.6,78.4 437.8,78.5 438.1,78.5 438.3,78.6 438.6,78.6 438.9,78.7 439.1,78.8 439.4,78.8 439.6,78.9 439.9,79.0 440.1,79.1 440.4,79.2 440.7,79.3 440.9,79.4 441.2,79.5 441.4,79.6 441.7,79.6 441.9,79.7 442.2,79.8 442.5,79.9 442.7,80.0 443.0,80.1 443.2,80.2 443.5,80.3 443.7,80.4 444.0,80.5 444.3,80.6 444.5,80.7 444.8,80.8 445.0,80.9 445.3,81.0 445.5,81.1 445.8,81.2 446.1,81.3 446.3,81.4 446.6,81.5 446.8,81.6 447.1,81.7 447.3,81.8 447.6,81.9 447.9,82.0 448.1,82.1 448.4,82.2 448.6,82.3 448.9,82.4 449.1,82.5 449.4,82.6 449.7,82.7 449.9,82.8 450.2,82.9 450.4,83.0 450.7,83.2 450.9,83.3 451.2,83.4 451.5,83.5 451.7,83.6 452.0,83.7 452.2,83.9 452.5,84.0 452.7,84.1 453.0,84.2 453.3,84.4 453.5,84.5 453.8,84.6 454.0,84.7 454.3,84.9 454.5,85.0 454.8,85.1 455.1,85.3 455.3,85.4 455.6,85.5 455.8,85.7 456.1,85.8 456.3,85.9 456.6,86.1 456.9,86.2 457.1,86.3 457.4,86.5 457.6,86.6 457.9,86.8 458.1,86.9 458.4,87.0 458.7,87.2 458.9,87.3 459.2,87.4 459.4,87.6 459.7,87.7 459.9,87.9 460.2,88.0 460.5,88.1 460.7,88.3 461.0,88.4 461.2,88.6 461.5,88.7 461.7,88.8 462.0,89.0 462.3,89.1 462.5,89.3 462.8,89.4 463.0,89.5 463.3,89.7 463.5,89.8 463.8,89.9 464.1,90.0 464.3,90.2 464.6,90.3 464.8,90.4 465.1,90.5 465.3,90.7 465.6,90.8 465.9,90.9 466.1,91.0 466.4,91.1" fill="none" stroke="#7a3a86" stroke-width="1.15" stroke-linejoin="round" stroke-linecap="round" />
<polyline points="475.6,91.2 475.9,91.1 476.1,91.2 476.4,90.9 476.7,90.8 476.9,90.7 477.2,90.9 477.4,90.3 477.7,90.4 477.9,90.3 478.2,90.2 478.5,90.1 478.7,89.9 479.0,90.0 479.2,89.9 479.5,89.6 479.7,89.5 480.0,89.5 480.3,89.4 480.5,89.4 480.8,89.2 481.0,88.9 481.3,89.2 481.5,88.7 481.8,88.7 482.1,88.9 482.3,88.6 482.6,88.9 482.8,88.9 483.1,88.8 483.3,88.6 483.6,88.5 483.9,88.5 484.1,88.4 484.4,88.7 484.6,88.2 484.9,88.5 485.1,88.4 485.4,88.3 485.7,88.4 485.9,88.4 486.2,88.3 486.4,88.1 486.7,88.0 486.9,88.0 487.2,88.2 487.5,88.2 487.7,88.2 488.0,88.0 488.2,88.4 488.5,87.8 488.7,88.1 489.0,88.1 489.3,88.0 489.5,87.8 489.8,87.9 490.0,87.8 490.3,88.0 490.5,87.8 490.8,87.8 491.1,88.0 491.3,87.7 491.6,87.9 491.8,88.0 492.1,88.1 492.3,88.0 492.6,87.9 492.9,88.2 493.1,87.9 493.4,88.0 493.6,88.0 493.9,88.4 494.1,88.1 494.4,88.0 494.7,88.2 494.9,88.1 495.2,88.5 495.4,88.1 495.7,88.3 495.9,88.1 496.2,88.5 496.5,88.2 496.7,88.3 497.0,88.2 497.2,88.5 497.5,88.4 497.7,88.0 498.0,88.5 498.3,88.5 498.5,88.4 498.8,88.6 499.0,88.3 499.3,88.2 499.5,88.6 499.8,88.8 500.1,88.3 500.3,88.4 500.6,88.4 500.8,88.4 501.1,88.7 501.3,88.6 501.6,88.8 501.9,88.8 502.1,88.5 502.4,88.7 502.6,88.3 502.9,88.6 503.1,88.7 503.4,88.5 503.7,88.4 503.9,88.6 504.2,88.8 504.4,88.6 504.7,88.5 504.9,88.8 505.2,88.8 505.5,88.5 505.7,88.7 506.0,88.9 506.2,88.7 506.5,88.8 506.7,88.6 507.0,88.7 507.3,88.5 507.5,88.6 507.8,88.9 508.0,88.6 508.3,88.5 508.5,88.6 508.8,88.5 509.1,88.7 509.3,88.8 509.6,88.5 509.8,88.8 510.1,88.9 510.3,88.4 510.6,88.7 510.9,88.6 511.1,88.7 511.4,88.7 511.6,88.7 511.9,88.5 512.1,88.4 512.4,88.8 512.7,88.3 512.9,88.5 513.2,88.5 513.4,88.2 513.7,88.3 513.9,88.5 514.2,87.9 514.5,88.3 514.7,88.1 515.0,88.1 515.2,87.9 515.5,88.1 515.7,87.9 516.0,88.1 516.3,87.8 516.5,88.1 516.8,88.0 517.0,87.6 517.3,87.8 517.5,87.8 517.8,87.4 518.1,87.7 518.3,87.8 518.6,87.6 518.8,87.8 519.1,87.4 519.3,87.4 519.6,87.6 519.9,87.6 520.1,87.4 520.4,87.4 520.6,87.5 520.9,87.2 521.1,87.6 521.4,87.3 521.6,87.2 521.9,87.1 522.2,87.0 522.4,87.2 522.7,86.9 522.9,86.9 523.2,86.9 523.4,87.0 523.7,86.9 524.0,86.6 524.2,86.8 524.5,86.6 524.7,86.4 525.0,86.3 525.2,86.2 525.5,86.4 525.8,86.5 526.0,86.1 526.3,86.2 526.5,86.0 526.8,86.1 527.0,85.9 527.3,85.9 527.6,85.9 527.8,85.9 528.1,85.8 528.3,85.8 528.6,85.8 528.8,85.6 529.1,85.8 529.4,85.4 529.6,85.6 529.9,85.4 530.1,85.5 530.4,85.5 530.6,85.1 530.9,85.4 531.2,85.5 531.4,85.4 531.7,85.3 531.9,84.9 532.2,85.1 532.4,85.0 532.7,85.2 533.0,84.9 533.2,84.8 533.5,84.6 533.7,84.9 534.0,84.7 534.2,84.7 534.5,84.8 534.8,84.6 535.0,84.6 535.3,84.9 535.5,84.4 535.8,84.3 536.0,84.4 536.3,84.5 536.6,84.1 536.8,84.2 537.1,84.0 537.3,83.9 537.6,84.2 537.8,83.9 538.1,84.0 538.4,84.0 538.6,83.9 538.9,83.9 539.1,83.6 539.4,83.7 539.6,83.7 539.9,83.7 540.2,83.6 540.4,83.7 540.7,83.6 540.9,83.5 541.2,83.5 541.4,83.4 541.7,83.5 542.0,83.0 542.2,83.1 542.5,83.2 542.7,83.2 543.0,82.8 543.2,83.1 543.5,83.1 543.8,83.0 544.0,83.0 544.3,82.7 544.5,82.9 544.8,82.6 545.0,83.0 545.3,82.7 545.6,82.9 545.8,82.5 546.1,82.8 546.3,82.7 546.6,82.5 546.8,82.4 547.1,82.7 547.4,82.6 547.6,82.7 547.9,82.5 548.1,82.5 548.4,82.5 548.6,82.5 548.9,82.4 549.2,82.4 549.4,82.2 549.7,82.0 549.9,82.5 550.2,82.2 550.4,82.2 550.7,82.1 551.0,82.2 551.2,82.1 551.5,82.2 551.7,81.9 552.0,82.0 552.2,82.0 552.5,81.9 552.8,81.9 553.0,82.1 553.3,81.8 553.5,81.8 553.8,81.8 554.0,81.6 554.3,81.6 554.6,81.9 554.8,81.8 555.1,81.4 555.3,81.4 555.6,81.7 555.8,81.8 556.1,81.7 556.4,81.6 556.6,81.7 556.9,81.5 557.1,81.6 557.4,81.6 557.6,81.3 557.9,81.5 558.2,81.4 558.4,81.2 558.7,81.2 558.9,81.4 559.2,81.3 559.4,81.4 559.7,81.0 560.0,81.1 560.2,81.4 560.5,81.2 560.7,81.0 561.0,81.1 561.2,80.8 561.5,80.9 561.8,81.2 562.0,81.1 562.3,81.2 562.5,81.0 562.8,81.0 563.0,80.6 563.3,81.0 563.6,81.3 563.8,81.1 564.1,80.9 564.3,81.1 564.6,81.1 564.8,81.0 565.1,80.8 565.4,80.9 565.6,81.0 565.9,80.7 566.1,80.9 566.4,80.9 566.6,81.0 566.9,80.9 567.2,80.7 567.4,81.0 567.7,80.8 567.9,80.7 568.2,80.8 568.4,80.7 568.7,80.9 569.0,80.6 569.2,80.6 569.5,80.7 569.7,81.0 570.0,80.9 570.2,80.6 570.5,80.5 570.8,80.7 571.0,80.5 571.3,80.8 571.5,80.8 571.8,80.7 572.0,80.7 572.3,81.0 572.6,80.6 572.8,80.5 573.1,80.9 573.3,80.9 573.6,80.7 573.8,80.8 574.1,81.1 574.4,80.6 574.6,80.7 574.9,80.8 575.1,80.4 575.4,80.7 575.6,80.9 575.9,80.8 576.2,80.9 576.4,80.9 576.7,80.7 576.9,80.9 577.2,80.9 577.4,80.6 577.7,80.7 578.0,80.7 578.2,80.8 578.5,80.8 578.7,80.7 579.0,80.9 579.2,80.7 579.5,81.1 579.8,81.0 580.0,81.2 580.3,81.1 580.5,81.0 580.8,80.9 581.0,81.2 581.3,81.1 581.6,81.2 581.8,81.3 582.1,81.4 582.3,81.2 582.6,81.5 582.8,81.3 583.1,81.3 583.4,81.5 583.6,81.6 583.9,81.6 584.1,81.2 584.4,81.7 584.6,81.3 584.9,81.5 585.2,81.6 585.4,81.8 585.7,81.5 585.9,81.4 586.2,81.9 586.4,81.8 586.7,81.6 587.0,81.8 587.2,81.5 587.5,82.0 587.7,81.8 588.0,82.1 588.2,81.6 588.5,82.1 588.8,82.4 589.0,82.1 589.3,82.1 589.5,81.8 589.8,82.2 590.0,82.2 590.3,82.1 590.6,82.0 590.8,82.2 591.1,82.1 591.3,82.2 591.6,82.3 591.8,82.3 592.1,82.3 592.4,82.5 592.6,82.2 592.9,82.6 593.1,82.2 593.4,82.3 593.6,82.5 593.9,82.6 594.2,82.5 594.4,82.4 594.7,82.4 594.9,82.5 595.2,82.4 595.4,82.6 595.7,82.5 596.0,82.8 596.2,82.5 596.5,82.6 596.7,82.7 597.0,82.4 597.2,82.5 597.5,83.1 597.8,82.6 598.0,82.9 598.3,82.5 598.5,82.3 598.8,82.8 599.0,82.7 599.3,82.7 599.6,82.6 599.8,82.6 600.1,82.5 600.3,82.9 600.6,82.5 600.8,82.9 601.1,82.7 601.4,82.5 601.6,82.6 601.9,82.9 602.1,82.8 602.4,82.8 602.6,82.7 602.9,82.6 603.2,82.9 603.4,82.7 603.7,82.7 603.9,82.7 604.2,82.7 604.4,82.5 604.7,82.7 605.0,82.6 605.2,82.7 605.5,82.5 605.7,83.1 606.0,82.6 606.2,82.8 606.5,82.8 606.7,82.9 607.0,83.1 607.3,82.8 607.5,82.9 607.8,82.7 608.0,83.0 608.3,82.6 608.5,82.7 608.8,82.8 609.1,82.9 609.3,82.9 609.6,83.0 609.8,82.9 610.1,82.8 610.3,82.8 610.6,83.0 610.9,82.8 611.1,82.9 611.4,82.8 611.6,82.5 611.9,82.7 612.1,82.8 612.4,83.0 612.7,83.0 612.9,83.1 613.2,82.7 613.4,82.9 613.7,82.8 613.9,82.9 614.2,82.8 614.5,82.6 614.7,82.9 615.0,82.9 615.2,82.9 615.5,82.7 615.7,83.0 616.0,83.0 616.3,83.0 616.5,83.0 616.8,82.7 617.0,82.4 617.3,83.0 617.5,82.7 617.8,82.8 618.1,83.0 618.3,82.9 618.6,82.8 618.8,82.9 619.1,82.5 619.3,83.1 619.6,82.8 619.9,82.8 620.1,82.9 620.4,82.8 620.6,82.7 620.9,82.8 621.1,82.7 621.4,82.7 621.7,83.1 621.9,82.6 622.2,82.5 622.4,82.7 622.7,82.7 622.9,83.0 623.2,82.8 623.5,82.9 623.7,82.9 624.0,82.7 624.2,82.9 624.5,82.8 624.7,83.1 625.0,82.8 625.3,82.8 625.5,82.9 625.8,82.9 626.0,82.5 626.3,83.0 626.5,83.0 626.8,82.9 627.1,82.6 627.3,82.5 627.6,82.8 627.8,82.9 628.1,82.9 628.3,82.6 628.6,82.9 628.9,82.6 629.1,82.6 629.4,82.8 629.6,82.7 629.9,82.7 630.1,82.6 630.4,83.0 630.7,82.6 630.9,82.9 631.2,82.9 631.4,82.8 631.7,82.8 631.9,83.0 632.2,83.1 632.5,83.0 632.7,82.6 633.0,82.5 633.2,82.7 633.5,82.6 633.7,82.9 634.0,82.8 634.3,82.8 634.5,83.0 634.8,83.0 635.0,82.8 635.3,82.9 635.5,83.0 635.8,82.8 636.1,82.9 636.3,82.7 636.6,82.8 636.8,82.9 637.1,82.8 637.3,82.8 637.6,82.9 637.9,82.9 638.1,82.7 638.4,82.7 638.6,82.6 638.9,83.1 639.1,82.9 639.4,82.9 639.7,82.8 639.9,82.9 640.2,82.9 640.4,82.7 640.7,82.8 640.9,83.0 641.2,82.6 641.5,82.7 641.7,82.9 642.0,82.7 642.2,82.9 642.5,82.6 642.7,82.8 643.0,82.9 643.3,82.9 643.5,82.9 643.8,82.8 644.0,82.8 644.3,82.8 644.5,82.9 644.8,83.4 645.1,82.8 645.3,83.1 645.6,82.8 645.8,82.6 646.1,82.8 646.3,82.9 646.6,82.8 646.9,82.8 647.1,82.9 647.4,82.9 647.6,83.0 647.9,82.6 648.1,82.8 648.4,82.7 648.7,82.8 648.9,82.8 649.2,82.8 649.4,82.7 649.7,82.7 649.9,82.8 650.2,82.9 650.5,82.9 650.7,82.6 651.0,82.9 651.2,82.9 651.5,82.6 651.7,82.6 652.0,82.7 652.3,82.9 652.5,82.5 652.8,82.8 653.0,82.7 653.3,82.8 653.5,83.0 653.8,83.0 654.1,82.7 654.3,82.8 654.6,82.8 654.8,83.0 655.1,83.0 655.3,82.9 655.6,83.0 655.9,82.7 656.1,82.6 656.4,82.4 656.6,82.7 656.9,82.9 657.1,82.9 657.4,83.3 657.7,82.9 657.9,82.8 658.2,82.7 658.4,82.7 658.7,82.7 658.9,82.8 659.2,82.7 659.5,82.6 659.7,83.0 660.0,82.9 660.2,83.0 660.5,82.6 660.7,82.6 661.0,82.7 661.3,83.0 661.5,82.8 661.8,82.8 662.0,82.8 662.3,82.8 662.5,82.7 662.8,82.9 663.1,82.7 663.3,82.8 663.6,82.9 663.8,82.8 664.1,82.9 664.3,82.7 664.6,82.9 664.9,82.8 665.1,82.9 665.4,83.0 665.6,82.7 665.9,83.0 666.1,82.7 666.4,82.7 666.7,83.1 666.9,83.0 667.2,82.9 667.4,82.9 667.7,83.0 667.9,82.7 668.2,82.8 668.5,82.8 668.7,82.9 669.0,82.8 669.2,82.9 669.5,82.8 669.7,82.7 670.0,82.8 670.3,82.9 670.5,83.0 670.8,82.8 671.0,82.8 671.3,82.8 671.5,82.9 671.8,82.7 672.1,82.4 672.3,82.9 672.6,82.8 672.8,82.8 673.1,83.2 673.3,82.8 673.6,82.9 673.9,82.6 674.1,82.8" fill="none" stroke="#7a3a86" stroke-width="1.15" stroke-linejoin="round" stroke-linecap="round" />
<polyline points="391.3,87.3 391.6,87.4 391.8,87.5 392.1,87.6 392.3,87.6 392.6,87.7 392.8,87.8 393.1,87.8 393.4,87.9 393.6,87.9 393.9,87.9 394.1,87.9 394.4,87.9 394.6,88.0 394.9,88.0 395.2,88.0 395.4,88.0 395.7,88.0 395.9,88.0 396.2,88.0 396.4,88.0 396.7,88.0 397.0,88.0 397.2,88.0 397.5,88.0 397.7,88.0 398.0,87.9 398.2,87.9 398.5,87.8 398.8,87.8 399.0,87.7 399.3,87.6 399.5,87.6 399.8,87.5 400.0,87.4 400.3,87.3 400.6,87.2 400.8,87.1 401.1,87.0 401.3,86.9 401.6,86.7 401.8,86.6 402.1,86.5 402.4,86.3 402.6,86.2 402.9,86.1 403.1,86.0 403.4,85.8 403.6,85.7 403.9,85.6 404.2,85.4 404.4,85.3 404.7,85.2 404.9,85.0 405.2,84.9 405.4,84.8 405.7,84.6 406.0,84.5 406.2,84.4 406.5,84.2 406.7,84.1 407.0,84.0 407.2,83.9 407.5,83.7 407.8,83.6 408.0,83.5 408.3,83.3 408.5,83.2 408.8,83.0 409.0,82.9 409.3,82.7 409.6,82.6 409.8,82.4 410.1,82.2 410.3,82.1 410.6,81.9 410.8,81.7 411.1,81.5 411.4,81.4 411.6,81.2 411.9,81.0 412.1,80.8 412.4,80.6 412.6,80.5 412.9,80.3 413.2,80.1 413.4,79.9 413.7,79.7 413.9,79.6 414.2,79.4 414.4,79.2 414.7,79.0 415.0,78.8 415.2,78.6 415.5,78.5 415.7,78.3 416.0,78.1 416.2,77.9 416.5,77.7 416.8,77.6 417.0,77.4 417.3,77.2 417.5,77.0 417.8,76.8 418.0,76.7 418.3,76.5 418.6,76.3 418.8,76.1 419.1,76.0 419.3,75.8 419.6,75.6 419.8,75.4 420.1,75.3 420.4,75.1 420.6,74.9 420.9,74.7 421.1,74.6 421.4,74.4 421.6,74.3 421.9,74.1 422.2,74.0 422.4,73.8 422.7,73.7 422.9,73.5 423.2,73.4 423.4,73.3 423.7,73.1 424.0,73.0 424.2,72.8 424.5,72.7 424.7,72.6 425.0,72.5 425.2,72.3 425.5,72.2 425.8,72.1 426.0,72.0 426.3,71.9 426.5,71.8 426.8,71.7 427.0,71.6 427.3,71.5 427.6,71.4 427.8,71.3 428.1,71.2 428.3,71.2 428.6,71.1 428.8,71.0 429.1,70.9 429.4,70.9 429.6,70.8 429.9,70.8 430.1,70.7 430.4,70.7 430.6,70.7 430.9,70.6 431.2,70.6 431.4,70.6 431.7,70.6 431.9,70.5 432.2,70.5 432.4,70.5 432.7,70.5 433.0,70.5 433.2,70.5 433.5,70.5 433.7,70.5 434.0,70.6 434.2,70.6 434.5,70.6 434.7,70.7 435.0,70.7 435.3,70.8 435.5,70.8 435.8,70.9 436.0,70.9 436.3,71.0 436.5,71.1 436.8,71.2 437.1,71.3 437.3,71.5 437.6,71.6 437.8,71.7 438.1,71.9 438.3,72.0 438.6,72.2 438.9,72.3 439.1,72.5 439.4,72.7 439.6,72.9 439.9,73.1 440.1,73.3 440.4,73.5 440.7,73.7 440.9,74.0 441.2,74.2 441.4,74.4 441.7,74.7 441.9,74.9 442.2,75.1 442.5,75.3 442.7,75.6 443.0,75.8 443.2,76.1 443.5,76.3 443.7,76.6 444.0,76.8 444.3,77.1 444.5,77.3 444.8,77.6 445.0,77.8 445.3,78.1 445.5,78.3 445.8,78.6 446.1,78.8 446.3,79.0 446.6,79.3 446.8,79.5 447.1,79.8 447.3,80.0 447.6,80.3 447.9,80.5 448.1,80.8 448.4,81.0 448.6,81.3 448.9,81.5 449.1,81.8 449.4,82.0 449.7,82.3 449.9,82.5 450.2,82.8 450.4,83.0 450.7,83.3 450.9,83.6 451.2,83.9 451.5,84.2 451.7,84.5 452.0,84.8 452.2,85.1 452.5,85.4 452.7,85.7 453.0,86.0 453.3,86.3 453.5,86.6 453.8,86.9 454.0,87.2 454.3,87.5 454.5,87.9 454.8,88.2 455.1,88.5 455.3,88.8 455.6,89.2 455.8,89.5 456.1,89.8 456.3,90.2 456.6,90.5 456.9,90.8 457.1,91.2 457.4,91.5 457.6,91.9 457.9,92.2 458.1,92.6 458.4,92.9 458.7,93.2 458.9,93.6 459.2,93.9 459.4,94.3 459.7,94.6 459.9,94.9 460.2,95.3 460.5,95.6 460.7,96.0 461.0,96.3 461.2,96.6 461.5,97.0 461.7,97.3 462.0,97.7 462.3,98.0 462.5,98.4 462.8,98.7 463.0,99.0 463.3,99.4 463.5,99.7 463.8,100.0 464.1,100.3 464.3,100.6 464.6,100.9 464.8,101.2 465.1,101.5 465.3,101.8 465.6,102.1 465.9,102.4 466.1,102.7 466.4,103.0" fill="none" stroke="#4a3a9c" stroke-width="1.15" stroke-linejoin="round" stroke-linecap="round" />
<polyline points="475.6,102.9 475.9,102.5 476.1,102.2 476.4,102.0 476.7,101.6 476.9,101.6 477.2,101.1 477.4,100.7 477.7,100.3 477.9,100.2 478.2,100.0 478.5,99.6 478.7,99.4 479.0,99.1 479.2,98.9 479.5,98.9 479.7,98.6 480.0,98.4 480.3,98.1 480.5,97.9 480.8,97.9 481.0,97.9 481.3,97.4 481.5,97.5 481.8,97.0 482.1,96.8 482.3,97.0 482.6,96.5 482.8,96.3 483.1,96.3 483.3,96.0 483.6,95.8 483.9,96.2 484.1,95.7 484.4,95.7 484.6,95.7 484.9,95.5 485.1,95.7 485.4,95.6 485.7,95.5 485.9,95.5 486.2,95.3 486.4,95.5 486.7,95.4 486.9,95.1 487.2,95.2 487.5,95.1 487.7,95.4 488.0,95.2 488.2,95.1 488.5,95.0 488.7,95.1 489.0,94.8 489.3,95.0 489.5,94.9 489.8,94.9 490.0,94.8 490.3,95.0 490.5,94.7 490.8,94.8 491.1,94.8 491.3,94.8 491.6,94.8 491.8,94.7 492.1,94.7 492.3,94.8 492.6,94.8 492.9,94.9 493.1,94.8 493.4,95.0 493.6,95.4 493.9,94.9 494.1,95.1 494.4,95.4 494.7,95.3 494.9,95.4 495.2,95.0 495.4,95.3 495.7,95.7 495.9,95.4 496.2,95.6 496.5,95.3 496.7,95.8 497.0,96.0 497.2,95.7 497.5,95.8 497.7,95.8 498.0,96.1 498.3,95.8 498.5,95.6 498.8,96.2 499.0,95.8 499.3,96.1 499.5,95.7 499.8,96.1 500.1,96.2 500.3,96.0 500.6,96.2 500.8,96.4 501.1,96.2 501.3,96.4 501.6,96.6 501.9,96.1 502.1,96.4 502.4,96.5 502.6,96.4 502.9,96.7 503.1,96.7 503.4,96.6 503.7,96.6 503.9,96.5 504.2,96.4 504.4,96.6 504.7,96.5 504.9,96.5 505.2,96.7 505.5,96.5 505.7,96.7 506.0,96.4 506.2,96.5 506.5,96.6 506.7,96.8 507.0,96.6 507.3,96.7 507.5,96.5 507.8,96.6 508.0,96.7 508.3,96.4 508.5,96.4 508.8,96.6 509.1,96.3 509.3,96.5 509.6,96.4 509.8,96.3 510.1,96.4 510.3,96.4 510.6,96.3 510.9,96.0 511.1,96.0 511.4,96.2 511.6,95.8 511.9,96.0 512.1,95.9 512.4,95.8 512.7,95.8 512.9,95.4 513.2,95.7 513.4,95.8 513.7,95.4 513.9,95.5 514.2,95.5 514.5,95.8 514.7,95.1 515.0,95.1 515.2,95.0 515.5,94.9 515.7,94.7 516.0,94.9 516.3,94.7 516.5,94.9 516.8,94.8 517.0,94.5 517.3,94.5 517.5,94.7 517.8,94.4 518.1,94.4 518.3,94.4 518.6,94.1 518.8,94.2 519.1,94.2 519.3,94.1 519.6,93.5 519.9,93.9 520.1,93.6 520.4,93.4 520.6,93.3 520.9,93.4 521.1,93.2 521.4,93.0 521.6,92.8 521.9,92.9 522.2,92.8 522.4,92.4 522.7,92.2 522.9,92.2 523.2,92.3 523.4,92.0 523.7,91.9 524.0,91.7 524.2,91.9 524.5,91.6 524.7,91.5 525.0,91.5 525.2,91.2 525.5,91.1 525.8,91.0 526.0,90.8 526.3,90.9 526.5,90.6 526.8,90.4 527.0,90.3 527.3,90.0 527.6,90.3 527.8,90.2 528.1,89.8 528.3,89.7 528.6,89.3 528.8,89.4 529.1,89.6 529.4,89.2 529.6,89.3 529.9,89.3 530.1,88.6 530.4,88.8 530.6,88.7 530.9,88.6 531.2,88.3 531.4,88.4 531.7,88.1 531.9,88.4 532.2,88.3 532.4,87.8 532.7,87.6 533.0,87.7 533.2,87.6 533.5,87.5 533.7,87.5 534.0,87.0 534.2,87.0 534.5,86.9 534.8,86.8 535.0,86.6 535.3,86.5 535.5,86.4 535.8,86.5 536.0,86.2 536.3,85.8 536.6,86.1 536.8,85.9 537.1,85.6 537.3,85.5 537.6,85.5 537.8,85.7 538.1,85.3 538.4,85.4 538.6,85.2 538.9,84.9 539.1,84.9 539.4,84.7 539.6,84.2 539.9,84.5 540.2,84.4 540.4,84.5 540.7,84.4 540.9,84.3 541.2,84.1 541.4,84.1 541.7,83.9 542.0,83.8 542.2,83.8 542.5,83.7 542.7,83.6 543.0,83.3 543.2,83.2 543.5,83.0 543.8,82.9 544.0,83.0 544.3,82.8 544.5,83.0 544.8,82.3 545.0,82.4 545.3,82.5 545.6,82.6 545.8,82.3 546.1,82.5 546.3,82.3 546.6,82.0 546.8,82.0 547.1,82.0 547.4,81.7 547.6,81.9 547.9,81.6 548.1,81.7 548.4,81.7 548.6,81.4 548.9,81.5 549.2,81.0 549.4,81.3 549.7,80.8 549.9,81.2 550.2,80.9 550.4,81.1 550.7,81.1 551.0,80.8 551.2,80.6 551.5,80.8 551.7,80.4 552.0,80.6 552.2,80.4 552.5,80.3 552.8,80.2 553.0,80.5 553.3,79.9 553.5,80.0 553.8,80.1 554.0,80.1 554.3,80.2 554.6,80.1 554.8,79.7 555.1,79.8 555.3,79.8 555.6,79.7 555.8,79.3 556.1,79.5 556.4,79.5 556.6,79.1 556.9,79.2 557.1,79.2 557.4,79.3 557.6,79.4 557.9,79.2 558.2,79.1 558.4,79.0 558.7,78.9 558.9,78.8 559.2,78.8 559.4,78.7 559.7,78.9 560.0,79.0 560.2,78.7 560.5,78.7 560.7,78.6 561.0,78.5 561.2,78.6 561.5,78.6 561.8,78.4 562.0,78.3 562.3,78.4 562.5,78.1 562.8,78.2 563.0,78.3 563.3,78.1 563.6,77.8 563.8,78.2 564.1,77.8 564.3,77.8 564.6,77.7 564.8,78.0 565.1,77.6 565.4,77.8 565.6,77.9 565.9,77.8 566.1,77.7 566.4,77.7 566.6,77.7 566.9,77.5 567.2,77.8 567.4,77.8 567.7,77.5 567.9,77.5 568.2,77.4 568.4,77.7 568.7,77.4 569.0,77.5 569.2,77.3 569.5,77.7 569.7,77.5 570.0,77.6 570.2,77.8 570.5,77.6 570.8,77.3 571.0,77.6 571.3,77.6 571.5,77.3 571.8,77.3 572.0,77.3 572.3,77.6 572.6,77.5 572.8,77.3 573.1,77.6 573.3,77.6 573.6,77.3 573.8,77.2 574.1,77.7 574.4,77.9 574.6,77.7 574.9,77.7 575.1,77.6 575.4,77.5 575.6,77.6 575.9,77.7 576.2,77.6 576.4,77.8 576.7,77.7 576.9,77.8 577.2,77.3 577.4,77.6 577.7,77.9 578.0,78.0 578.2,77.9 578.5,78.2 578.7,78.1 579.0,78.1 579.2,77.9 579.5,78.2 579.8,78.3 580.0,78.4 580.3,78.4 580.5,78.3 580.8,78.4 581.0,78.2 581.3,78.6 581.6,78.4 581.8,78.6 582.1,78.7 582.3,79.0 582.6,79.0 582.8,78.8 583.1,78.7 583.4,79.0 583.6,79.0 583.9,79.2 584.1,79.3 584.4,79.4 584.6,79.3 584.9,79.4 585.2,79.6 585.4,79.7 585.7,79.6 585.9,79.7 586.2,80.0 586.4,79.7 586.7,80.0 587.0,80.1 587.2,79.9 587.5,80.1 587.7,80.3 588.0,80.3 588.2,80.6 588.5,80.6 588.8,80.9 589.0,80.5 589.3,81.0 589.5,80.7 589.8,81.0 590.0,81.1 590.3,81.0 590.6,81.0 590.8,81.0 591.1,80.9 591.3,81.1 591.6,81.1 591.8,81.4 592.1,81.2 592.4,81.4 592.6,81.5 592.9,81.5 593.1,81.5 593.4,81.5 593.6,81.5 593.9,81.7 594.2,81.8 594.4,81.6 594.7,82.0 594.9,81.9 595.2,81.6 595.4,82.3 595.7,82.0 596.0,81.8 596.2,82.2 596.5,81.6 596.7,82.4 597.0,81.8 597.2,81.8 597.5,81.9 597.8,82.1 598.0,82.0 598.3,82.3 598.5,82.0 598.8,82.3 599.0,82.2 599.3,82.0 599.6,82.4 599.8,82.3 600.1,82.2 600.3,82.4 600.6,82.1 600.8,82.2 601.1,82.5 601.4,82.3 601.6,82.4 601.9,82.4 602.1,82.3 602.4,82.4 602.6,82.2 602.9,82.4 603.2,82.2 603.4,82.4 603.7,82.2 603.9,82.4 604.2,82.4 604.4,82.6 604.7,82.3 605.0,82.2 605.2,82.1 605.5,82.2 605.7,82.4 606.0,82.4 606.2,82.4 606.5,82.4 606.7,82.2 607.0,82.3 607.3,82.6 607.5,82.5 607.8,82.2 608.0,82.4 608.3,82.5 608.5,82.3 608.8,82.5 609.1,82.5 609.3,82.5 609.6,82.7 609.8,82.3 610.1,82.6 610.3,82.5 610.6,82.6 610.9,82.3 611.1,82.5 611.4,82.5 611.6,82.7 611.9,82.5 612.1,82.7 612.4,82.4 612.7,82.4 612.9,82.5 613.2,82.2 613.4,82.4 613.7,82.4 613.9,82.4 614.2,82.5 614.5,82.3 614.7,82.3 615.0,82.7 615.2,82.3 615.5,82.4 615.7,82.3 616.0,82.4 616.3,82.7 616.5,82.7 616.8,82.2 617.0,82.4 617.3,82.7 617.5,82.4 617.8,82.5 618.1,82.8 618.3,82.8 618.6,82.7 618.8,82.4 619.1,82.5 619.3,82.5 619.6,82.4 619.9,82.4 620.1,82.8 620.4,82.5 620.6,82.6 620.9,82.7 621.1,82.6 621.4,82.5 621.7,82.5 621.9,82.7 622.2,82.6 622.4,82.2 622.7,82.7 622.9,82.7 623.2,82.4 623.5,82.4 623.7,82.4 624.0,82.7 624.2,82.3 624.5,82.6 624.7,82.7 625.0,82.6 625.3,82.5 625.5,82.4 625.8,82.4 626.0,82.5 626.3,82.3 626.5,82.5 626.8,82.4 627.1,82.7 627.3,82.7 627.6,82.4 627.8,82.7 628.1,82.5 628.3,82.5 628.6,82.6 628.9,82.6 629.1,82.3 629.4,82.9 629.6,82.4 629.9,82.1 630.1,82.5 630.4,82.5 630.7,82.4 630.9,82.2 631.2,82.7 631.4,82.5 631.7,82.5 631.9,82.4 632.2,82.5 632.5,82.4 632.7,82.6 633.0,82.5 633.2,82.6 633.5,82.6 633.7,82.5 634.0,82.5 634.3,82.7 634.5,82.2 634.8,82.5 635.0,82.7 635.3,82.3 635.5,82.6 635.8,82.4 636.1,82.5 636.3,82.5 636.6,82.5 636.8,82.6 637.1,82.5 637.3,82.2 637.6,82.8 637.9,82.5 638.1,82.4 638.4,82.7 638.6,82.7 638.9,82.2 639.1,82.5 639.4,82.2 639.7,82.4 639.9,82.5 640.2,82.4 640.4,82.4 640.7,82.3 640.9,82.4 641.2,82.5 641.5,82.5 641.7,82.3 642.0,82.4 642.2,82.6 642.5,82.6 642.7,82.4 643.0,82.6 643.3,82.5 643.5,82.6 643.8,82.5 644.0,82.4 644.3,82.3 644.5,82.5 644.8,82.2 645.1,82.5 645.3,82.0 645.6,82.3 645.8,82.4 646.1,82.6 646.3,82.9 646.6,82.5 646.9,82.5 647.1,82.2 647.4,82.7 647.6,82.2 647.9,82.5 648.1,82.4 648.4,82.9 648.7,82.5 648.9,82.5 649.2,82.4 649.4,82.5 649.7,82.7 649.9,82.3 650.2,82.4 650.5,82.4 650.7,82.3 651.0,82.3 651.2,82.5 651.5,82.7 651.7,82.7 652.0,82.3 652.3,82.4 652.5,82.5 652.8,82.6 653.0,82.5 653.3,82.5 653.5,82.5 653.8,82.6 654.1,82.2 654.3,82.5 654.6,82.6 654.8,82.7 655.1,82.6 655.3,82.4 655.6,82.4 655.9,82.5 656.1,82.5 656.4,82.5 656.6,82.7 656.9,82.3 657.1,82.4 657.4,82.1 657.7,82.6 657.9,82.5 658.2,82.4 658.4,82.5 658.7,82.7 658.9,82.6 659.2,82.5 659.5,82.4 659.7,82.5 660.0,82.3 660.2,82.3 660.5,82.4 660.7,82.5 661.0,82.5 661.3,82.4 661.5,82.3 661.8,82.5 662.0,82.4 662.3,82.5 662.5,82.7 662.8,82.6 663.1,82.4 663.3,82.4 663.6,82.2 663.8,82.5 664.1,82.4 664.3,82.3 664.6,82.3 664.9,82.6 665.1,82.5 665.4,82.5 665.6,82.6 665.9,82.4 666.1,82.3 666.4,82.6 666.7,82.2 666.9,82.5 667.2,82.5 667.4,82.5 667.7,82.6 667.9,82.4 668.2,82.5 668.5,82.2 668.7,82.4 669.0,82.4 669.2,82.5 669.5,82.7 669.7,82.5 670.0,82.6 670.3,82.3 670.5,82.5 670.8,82.2 671.0,82.4 671.3,82.4 671.5,82.5 671.8,82.5 672.1,82.4 672.3,82.3 672.6,82.6 672.8,82.4 673.1,82.1 673.3,82.5 673.6,82.5 673.9,82.6 674.1,82.7" fill="none" stroke="#4a3a9c" stroke-width="1.15" stroke-linejoin="round" stroke-linecap="round" />
<polyline points="391.3,94.7 391.6,94.9 391.8,95.1 392.1,95.3 392.3,95.5 392.6,95.6 392.8,95.8 393.1,95.9 393.4,96.1 393.6,96.1 393.9,96.2 394.1,96.2 394.4,96.3 394.6,96.3 394.9,96.4 395.2,96.4 395.4,96.4 395.7,96.4 395.9,96.5 396.2,96.5 396.4,96.5 396.7,96.5 397.0,96.5 397.2,96.5 397.5,96.4 397.7,96.4 398.0,96.2 398.2,96.1 398.5,96.0 398.8,95.8 399.0,95.6 399.3,95.5 399.5,95.3 399.8,95.1 400.0,94.9 400.3,94.6 400.6,94.3 400.8,94.0 401.1,93.7 401.3,93.3 401.6,93.0 401.8,92.6 402.1,92.3 402.4,91.9 402.6,91.6 402.9,91.3 403.1,90.9 403.4,90.6 403.6,90.2 403.9,89.9 404.2,89.5 404.4,89.1 404.7,88.8 404.9,88.4 405.2,88.0 405.4,87.7 405.7,87.3 406.0,87.0 406.2,86.6 406.5,86.3 406.7,85.9 407.0,85.6 407.2,85.3 407.5,84.9 407.8,84.5 408.0,84.2 408.3,83.8 408.5,83.4 408.8,83.0 409.0,82.6 409.3,82.2 409.6,81.8 409.8,81.3 410.1,80.9 410.3,80.4 410.6,79.9 410.8,79.4 411.1,79.0 411.4,78.5 411.6,78.0 411.9,77.5 412.1,77.1 412.4,76.6 412.6,76.1 412.9,75.6 413.2,75.1 413.4,74.6 413.7,74.1 413.9,73.6 414.2,73.1 414.4,72.6 414.7,72.1 415.0,71.6 415.2,71.1 415.5,70.6 415.7,70.2 416.0,69.7 416.2,69.2 416.5,68.7 416.8,68.2 417.0,67.7 417.3,67.3 417.5,66.8 417.8,66.3 418.0,65.8 418.3,65.3 418.6,64.8 418.8,64.4 419.1,63.9 419.3,63.4 419.6,62.9 419.8,62.5 420.1,62.0 420.4,61.5 420.6,61.1 420.9,60.6 421.1,60.2 421.4,59.8 421.6,59.3 421.9,58.9 422.2,58.5 422.4,58.2 422.7,57.8 422.9,57.4 423.2,57.0 423.4,56.6 423.7,56.2 424.0,55.9 424.2,55.5 424.5,55.1 424.7,54.8 425.0,54.4 425.2,54.1 425.5,53.8 425.8,53.4 426.0,53.1 426.3,52.8 426.5,52.6 426.8,52.3 427.0,52.0 427.3,51.8 427.6,51.6 427.8,51.4 428.1,51.1 428.3,50.9 428.6,50.7 428.8,50.5 429.1,50.3 429.4,50.2 429.6,50.0 429.9,49.9 430.1,49.8 430.4,49.7 430.6,49.6 430.9,49.5 431.2,49.5 431.4,49.4 431.7,49.3 431.9,49.3 432.2,49.2 432.4,49.2 432.7,49.2 433.0,49.2 433.2,49.2 433.5,49.2 433.7,49.3 434.0,49.3 434.2,49.4 434.5,49.5 434.7,49.6 435.0,49.7 435.3,49.9 435.5,50.0 435.8,50.1 436.0,50.3 436.3,50.5 436.5,50.8 436.8,51.1 437.1,51.4 437.3,51.7 437.6,52.1 437.8,52.5 438.1,52.9 438.3,53.3 438.6,53.6 438.9,54.1 439.1,54.5 439.4,55.0 439.6,55.6 439.9,56.1 440.1,56.7 440.4,57.3 440.7,57.9 440.9,58.5 441.2,59.2 441.4,59.8 441.7,60.4 441.9,61.0 442.2,61.6 442.5,62.3 442.7,62.9 443.0,63.5 443.2,64.2 443.5,64.9 443.7,65.5 444.0,66.2 444.3,66.9 444.5,67.6 444.8,68.2 445.0,68.9 445.3,69.6 445.5,70.2 445.8,70.9 446.1,71.6 446.3,72.3 446.6,72.9 446.8,73.6 447.1,74.3 447.3,75.0 447.6,75.6 447.9,76.3 448.1,77.0 448.4,77.6 448.6,78.3 448.9,78.9 449.1,79.6 449.4,80.3 449.7,80.9 449.9,81.6 450.2,82.3 450.4,83.0 450.7,83.8 450.9,84.5 451.2,85.3 451.5,86.1 451.7,86.9 452.0,87.7 452.2,88.5 452.5,89.3 452.7,90.2 453.0,91.0 453.3,91.8 453.5,92.7 453.8,93.5 454.0,94.4 454.3,95.2 454.5,96.1 454.8,96.9 455.1,97.8 455.3,98.7 455.6,99.6 455.8,100.5 456.1,101.4 456.3,102.3 456.6,103.2 456.9,104.1 457.1,105.1 457.4,106.0 457.6,106.9 457.9,107.8 458.1,108.8 458.4,109.7 458.7,110.6 458.9,111.5 459.2,112.4 459.4,113.3 459.7,114.3 459.9,115.2 460.2,116.1 460.5,117.0 460.7,117.9 461.0,118.9 461.2,119.8 461.5,120.7 461.7,121.7 462.0,122.6 462.3,123.5 462.5,124.4 462.8,125.4 463.0,126.2 463.3,127.1 463.5,128.0 463.8,128.8 464.1,129.7 464.3,130.5 464.6,131.4 464.8,132.2 465.1,133.0 465.3,133.8 465.6,134.6 465.9,135.4 466.1,136.2 466.4,136.9" fill="none" stroke="#2848c4" stroke-width="1.15" stroke-linejoin="round" stroke-linecap="round" />
<polyline points="475.6,137.8 475.9,137.1 476.1,136.2 476.4,135.2 476.7,134.4 476.9,134.0 477.2,133.0 477.4,132.3 477.7,131.6 477.9,130.9 478.2,130.3 478.5,129.4 478.7,128.9 479.0,128.3 479.2,127.5 479.5,126.9 479.7,126.3 480.0,125.7 480.3,124.9 480.5,124.4 480.8,123.9 481.0,123.4 481.3,122.8 481.5,122.4 481.8,121.8 482.1,121.3 482.3,121.3 482.6,120.7 482.8,120.2 483.1,120.0 483.3,119.8 483.6,119.2 483.9,119.1 484.1,118.9 484.4,118.6 484.6,118.3 484.9,117.9 485.1,117.7 485.4,117.6 485.7,117.6 485.9,117.3 486.2,117.2 486.4,117.0 486.7,117.1 486.9,116.8 487.2,116.7 487.5,116.7 487.7,116.5 488.0,116.6 488.2,116.6 488.5,116.4 488.7,116.1 489.0,116.1 489.3,116.2 489.5,115.9 489.8,116.1 490.0,115.8 490.3,115.9 490.5,116.0 490.8,115.8 491.1,116.0 491.3,116.0 491.6,116.0 491.8,115.8 492.1,115.9 492.3,116.0 492.6,116.1 492.9,115.9 493.1,116.2 493.4,116.4 493.6,116.2 493.9,116.3 494.1,116.6 494.4,117.0 494.7,117.0 494.9,117.0 495.2,117.2 495.4,117.1 495.7,117.6 495.9,117.5 496.2,117.8 496.5,117.7 496.7,118.0 497.0,117.9 497.2,118.2 497.5,118.5 497.7,118.5 498.0,118.6 498.3,118.8 498.5,118.6 498.8,118.7 499.0,119.0 499.3,119.3 499.5,119.3 499.8,119.5 500.1,119.3 500.3,119.6 500.6,119.6 500.8,119.8 501.1,120.1 501.3,120.1 501.6,120.2 501.9,120.0 502.1,120.1 502.4,120.3 502.6,120.3 502.9,120.1 503.1,120.5 503.4,120.5 503.7,120.5 503.9,120.6 504.2,120.6 504.4,120.5 504.7,120.4 504.9,120.8 505.2,120.6 505.5,120.6 505.7,120.7 506.0,120.7 506.2,120.7 506.5,120.6 506.7,120.7 507.0,120.7 507.3,120.7 507.5,120.6 507.8,120.6 508.0,120.4 508.3,120.5 508.5,120.4 508.8,120.3 509.1,120.4 509.3,120.3 509.6,120.2 509.8,120.0 510.1,120.0 510.3,120.0 510.6,119.7 510.9,119.6 511.1,119.8 511.4,119.2 511.6,119.3 511.9,119.2 512.1,118.8 512.4,118.8 512.7,118.7 512.9,118.1 513.2,118.3 513.4,118.0 513.7,117.7 513.9,117.7 514.2,117.4 514.5,117.2 514.7,116.7 515.0,116.9 515.2,116.7 515.5,116.4 515.7,116.3 516.0,116.2 516.3,115.8 516.5,115.7 516.8,115.4 517.0,115.1 517.3,115.0 517.5,114.8 517.8,114.6 518.1,114.6 518.3,114.2 518.6,113.9 518.8,113.8 519.1,113.5 519.3,113.3 519.6,112.8 519.9,112.4 520.1,112.4 520.4,112.0 520.6,111.8 520.9,111.3 521.1,111.0 521.4,110.7 521.6,110.5 521.9,110.1 522.2,109.9 522.4,109.3 522.7,109.2 522.9,108.7 523.2,108.4 523.4,108.0 523.7,107.8 524.0,107.3 524.2,107.2 524.5,106.7 524.7,106.4 525.0,106.0 525.2,105.7 525.5,105.2 525.8,105.2 526.0,104.6 526.3,104.5 526.5,103.8 526.8,103.9 527.0,103.4 527.3,103.2 527.6,102.4 527.8,102.5 528.1,102.0 528.3,101.7 528.6,101.6 528.8,101.1 529.1,100.7 529.4,100.5 529.6,100.0 529.9,99.9 530.1,99.5 530.4,99.3 530.6,98.9 530.9,98.4 531.2,98.3 531.4,98.0 531.7,97.8 531.9,97.5 532.2,96.9 532.4,96.9 532.7,96.5 533.0,96.1 533.2,95.8 533.5,95.2 533.7,95.3 534.0,94.7 534.2,94.3 534.5,94.1 534.8,93.7 535.0,93.2 535.3,92.8 535.5,92.7 535.8,92.5 536.0,91.8 536.3,91.4 536.6,91.3 536.8,91.2 537.1,90.5 537.3,90.4 537.6,89.9 537.8,89.7 538.1,89.5 538.4,89.2 538.6,88.6 538.9,88.3 539.1,88.5 539.4,88.0 539.6,87.4 539.9,87.3 540.2,87.2 540.4,86.7 540.7,86.4 540.9,86.1 541.2,85.9 541.4,85.6 541.7,85.3 542.0,84.9 542.2,84.8 542.5,84.4 542.7,84.1 543.0,83.7 543.2,83.5 543.5,83.3 543.8,83.0 544.0,82.7 544.3,82.4 544.5,82.2 544.8,81.8 545.0,81.6 545.3,81.6 545.6,81.4 545.8,81.0 546.1,80.8 546.3,80.6 546.6,80.6 546.8,80.4 547.1,79.9 547.4,79.6 547.6,79.4 547.9,79.4 548.1,78.9 548.4,78.9 548.6,78.6 548.9,78.4 549.2,78.3 549.4,78.1 549.7,78.1 549.9,77.7 550.2,77.6 550.4,77.1 550.7,77.0 551.0,76.7 551.2,76.5 551.5,76.5 551.7,76.2 552.0,76.1 552.2,75.7 552.5,75.6 552.8,75.6 553.0,75.3 553.3,75.1 553.5,74.9 553.8,74.6 554.0,74.3 554.3,74.4 554.6,74.2 554.8,74.3 555.1,73.8 555.3,73.7 555.6,73.7 555.8,73.3 556.1,73.1 556.4,73.0 556.6,72.8 556.9,72.7 557.1,72.4 557.4,72.5 557.6,72.2 557.9,71.8 558.2,71.8 558.4,71.7 558.7,71.6 558.9,71.6 559.2,71.3 559.4,71.1 559.7,71.1 560.0,70.8 560.2,70.6 560.5,70.5 560.7,70.7 561.0,70.5 561.2,70.4 561.5,70.0 561.8,69.9 562.0,69.8 562.3,69.9 562.5,69.8 562.8,69.5 563.0,69.4 563.3,69.5 563.6,69.2 563.8,69.1 564.1,69.1 564.3,69.1 564.6,69.2 564.8,68.9 565.1,68.7 565.4,68.7 565.6,68.6 565.9,68.6 566.1,68.3 566.4,68.3 566.6,68.2 566.9,68.3 567.2,68.2 567.4,68.1 567.7,68.1 567.9,68.1 568.2,68.0 568.4,67.7 568.7,67.8 569.0,67.6 569.2,67.8 569.5,67.8 569.7,67.9 570.0,67.8 570.2,67.5 570.5,67.6 570.8,67.6 571.0,67.5 571.3,67.6 571.5,67.6 571.8,67.6 572.0,67.5 572.3,67.5 572.6,67.5 572.8,67.5 573.1,67.6 573.3,67.6 573.6,67.7 573.8,67.5 574.1,67.9 574.4,67.7 574.6,67.4 574.9,67.8 575.1,67.9 575.4,67.8 575.6,67.7 575.9,68.0 576.2,67.9 576.4,68.0 576.7,68.1 576.9,67.8 577.2,68.2 577.4,68.4 577.7,68.5 578.0,68.5 578.2,68.6 578.5,68.7 578.7,68.9 579.0,69.2 579.2,69.1 579.5,69.3 579.8,69.5 580.0,69.8 580.3,69.8 580.5,70.0 580.8,70.0 581.0,70.4 581.3,70.3 581.6,70.5 581.8,70.8 582.1,71.0 582.3,71.2 582.6,71.2 582.8,71.8 583.1,71.7 583.4,72.1 583.6,72.2 583.9,72.2 584.1,72.6 584.4,72.7 584.6,73.0 584.9,72.9 585.2,73.2 585.4,73.4 585.7,73.9 585.9,74.1 586.2,74.1 586.4,74.4 586.7,74.7 587.0,74.8 587.2,75.2 587.5,75.2 587.7,75.5 588.0,75.6 588.2,76.0 588.5,76.0 588.8,76.3 589.0,76.3 589.3,76.5 589.5,76.7 589.8,76.9 590.0,77.0 590.3,77.6 590.6,77.3 590.8,77.6 591.1,77.7 591.3,77.9 591.6,78.2 591.8,78.2 592.1,78.2 592.4,78.3 592.6,78.7 592.9,78.8 593.1,78.7 593.4,79.1 593.6,78.8 593.9,79.2 594.2,79.4 594.4,79.2 594.7,79.2 594.9,79.7 595.2,79.4 595.4,79.8 595.7,79.6 596.0,79.9 596.2,80.2 596.5,80.0 596.7,80.0 597.0,79.9 597.2,80.0 597.5,80.2 597.8,80.4 598.0,80.5 598.3,80.5 598.5,80.6 598.8,80.6 599.0,81.0 599.3,80.7 599.6,80.7 599.8,80.4 600.1,80.7 600.3,80.9 600.6,80.8 600.8,81.0 601.1,81.0 601.4,81.2 601.6,80.8 601.9,80.9 602.1,81.1 602.4,81.0 602.6,80.9 602.9,81.0 603.2,81.1 603.4,81.2 603.7,81.2 603.9,81.1 604.2,81.1 604.4,81.3 604.7,81.4 605.0,81.1 605.2,81.4 605.5,81.1 605.7,81.2 606.0,81.2 606.2,81.1 606.5,81.2 606.7,81.2 607.0,81.4 607.3,81.4 607.5,81.3 607.8,81.1 608.0,81.2 608.3,81.1 608.5,81.3 608.8,81.3 609.1,81.2 609.3,81.4 609.6,81.4 609.8,81.5 610.1,81.3 610.3,81.5 610.6,81.3 610.9,81.6 611.1,81.3 611.4,81.5 611.6,81.3 611.9,81.6 612.1,81.5 612.4,81.3 612.7,81.5 612.9,81.4 613.2,81.5 613.4,81.7 613.7,81.4 613.9,81.4 614.2,81.6 614.5,81.4 614.7,81.6 615.0,81.6 615.2,81.5 615.5,81.6 615.7,81.2 616.0,81.7 616.3,81.4 616.5,81.4 616.8,81.7 617.0,81.7 617.3,81.4 617.5,81.5 617.8,81.4 618.1,81.4 618.3,81.5 618.6,81.6 618.8,81.8 619.1,81.5 619.3,81.6 619.6,81.5 619.9,81.5 620.1,81.7 620.4,81.3 620.6,81.4 620.9,81.4 621.1,81.7 621.4,81.6 621.7,81.6 621.9,81.6 622.2,81.6 622.4,81.5 622.7,81.5 622.9,81.5 623.2,81.6 623.5,81.4 623.7,81.5 624.0,81.8 624.2,81.6 624.5,81.5 624.7,81.4 625.0,81.5 625.3,81.5 625.5,81.6 625.8,81.4 626.0,81.6 626.3,81.6 626.5,81.6 626.8,81.4 627.1,81.6 627.3,81.7 627.6,81.4 627.8,81.6 628.1,81.5 628.3,81.5 628.6,81.4 628.9,81.4 629.1,81.6 629.4,81.5 629.6,81.7 629.9,81.3 630.1,81.5 630.4,81.3 630.7,81.5 630.9,81.8 631.2,81.3 631.4,81.5 631.7,81.5 631.9,81.5 632.2,81.4 632.5,81.4 632.7,81.7 633.0,81.4 633.2,81.6 633.5,81.6 633.7,81.3 634.0,81.4 634.3,81.6 634.5,81.7 634.8,81.5 635.0,81.4 635.3,81.5 635.5,81.7 635.8,81.6 636.1,81.7 636.3,81.5 636.6,81.4 636.8,81.4 637.1,81.6 637.3,81.5 637.6,81.4 637.9,81.6 638.1,81.5 638.4,81.2 638.6,81.5 638.9,81.4 639.1,81.6 639.4,81.5 639.7,81.7 639.9,81.5 640.2,81.4 640.4,81.3 640.7,81.4 640.9,81.4 641.2,81.5 641.5,81.6 641.7,81.5 642.0,81.4 642.2,81.6 642.5,81.4 642.7,81.6 643.0,81.7 643.3,81.6 643.5,81.7 643.8,81.7 644.0,81.4 644.3,81.5 644.5,81.5 644.8,81.4 645.1,81.4 645.3,81.6 645.6,81.3 645.8,81.5 646.1,81.5 646.3,81.5 646.6,81.7 646.9,81.6 647.1,81.5 647.4,81.4 647.6,81.6 647.9,81.5 648.1,81.4 648.4,81.3 648.7,81.4 648.9,81.4 649.2,81.6 649.4,81.5 649.7,81.5 649.9,81.5 650.2,81.6 650.5,81.3 650.7,81.5 651.0,81.6 651.2,81.4 651.5,81.3 651.7,81.5 652.0,81.4 652.3,81.6 652.5,81.6 652.8,81.6 653.0,81.5 653.3,81.3 653.5,81.7 653.8,81.3 654.1,81.6 654.3,81.5 654.6,81.4 654.8,81.4 655.1,81.5 655.3,81.7 655.6,81.5 655.9,81.6 656.1,81.2 656.4,81.5 656.6,81.5 656.9,81.6 657.1,81.6 657.4,81.7 657.7,81.4 657.9,81.5 658.2,81.4 658.4,81.6 658.7,81.6 658.9,81.4 659.2,81.6 659.5,81.7 659.7,81.5 660.0,81.6 660.2,81.6 660.5,81.4 660.7,81.6 661.0,81.4 661.3,81.6 661.5,81.3 661.8,81.3 662.0,81.6 662.3,81.5 662.5,81.6 662.8,81.5 663.1,81.4 663.3,81.7 663.6,81.4 663.8,81.7 664.1,81.6 664.3,81.7 664.6,81.3 664.9,81.5 665.1,81.5 665.4,81.6 665.6,81.4 665.9,81.8 666.1,81.5 666.4,81.2 666.7,81.6 666.9,81.5 667.2,81.4 667.4,81.6 667.7,81.5 667.9,81.4 668.2,81.5 668.5,81.5 668.7,81.6 669.0,81.5 669.2,81.5 669.5,81.3 669.7,81.4 670.0,81.5 670.3,81.8 670.5,81.4 670.8,81.4 671.0,81.6 671.3,81.8 671.5,81.6 671.8,81.4 672.1,81.6 672.3,81.6 672.6,81.5 672.8,81.4 673.1,81.5 673.3,81.5 673.6,81.6 673.9,81.3 674.1,81.4" fill="none" stroke="#2848c4" stroke-width="1.15" stroke-linejoin="round" stroke-linecap="round" />
<polyline points="391.3,103.2 391.6,103.6 391.8,104.0 392.1,104.3 392.3,104.6 392.6,104.9 392.8,105.2 393.1,105.5 393.4,105.7 393.6,105.9 393.9,106.0 394.1,106.1 394.4,106.2 394.6,106.4 394.9,106.5 395.2,106.6 395.4,106.6 395.7,106.7 395.9,106.8 396.2,106.8 396.4,106.9 396.7,106.9 397.0,106.9 397.2,106.9 397.5,106.8 397.7,106.7 398.0,106.5 398.2,106.3 398.5,106.1 398.8,105.9 399.0,105.6 399.3,105.3 399.5,105.1 399.8,104.8 400.0,104.4 400.3,104.0 400.6,103.5 400.8,103.0 401.1,102.5 401.3,101.9 401.6,101.3 401.8,100.7 402.1,100.1 402.4,99.5 402.6,99.0 402.9,98.4 403.1,97.8 403.4,97.1 403.6,96.5 403.9,95.8 404.2,95.1 404.4,94.4 404.7,93.7 404.9,93.0 405.2,92.4 405.4,91.7 405.7,91.0 406.0,90.3 406.2,89.7 406.5,89.0 406.7,88.4 407.0,87.7 407.2,87.1 407.5,86.4 407.8,85.8 408.0,85.1 408.3,84.4 408.5,83.7 408.8,83.0 409.0,82.3 409.3,81.6 409.6,80.9 409.8,80.1 410.1,79.3 410.3,78.6 410.6,77.8 410.8,77.0 411.1,76.2 411.4,75.4 411.6,74.6 411.9,73.9 412.1,73.1 412.4,72.3 412.6,71.4 412.9,70.6 413.2,69.8 413.4,69.0 413.7,68.1 413.9,67.3 414.2,66.4 414.4,65.6 414.7,64.8 415.0,63.9 415.2,63.1 415.5,62.2 415.7,61.4 416.0,60.6 416.2,59.7 416.5,58.9 416.8,58.1 417.0,57.3 417.3,56.5 417.5,55.7 417.8,54.9 418.0,54.1 418.3,53.3 418.6,52.5 418.8,51.7 419.1,50.9 419.3,50.1 419.6,49.3 419.8,48.5 420.1,47.7 420.4,47.0 420.6,46.2 420.9,45.5 421.1,44.7 421.4,44.0 421.6,43.3 421.9,42.7 422.2,42.0 422.4,41.4 422.7,40.7 422.9,40.1 423.2,39.5 423.4,38.9 423.7,38.2 424.0,37.6 424.2,37.0 424.5,36.4 424.7,35.9 425.0,35.3 425.2,34.8 425.5,34.2 425.8,33.7 426.0,33.2 426.3,32.7 426.5,32.3 426.8,31.8 427.0,31.4 427.3,31.0 427.6,30.6 427.8,30.2 428.1,29.9 428.3,29.5 428.6,29.2 428.8,28.8 429.1,28.5 429.4,28.2 429.6,28.0 429.9,27.7 430.1,27.5 430.4,27.3 430.6,27.1 430.9,27.0 431.2,26.8 431.4,26.6 431.7,26.5 431.9,26.4 432.2,26.3 432.4,26.2 432.7,26.1 433.0,26.1 433.2,26.1 433.5,26.2 433.7,26.2 434.0,26.3 434.2,26.5 434.5,26.6 434.7,26.8 435.0,27.0 435.3,27.1 435.5,27.3 435.8,27.5 436.0,27.8 436.3,28.2 436.5,28.6 436.8,29.0 437.1,29.5 437.3,30.0 437.6,30.5 437.8,31.1 438.1,31.6 438.3,32.2 438.6,32.8 438.9,33.5 439.1,34.2 439.4,34.9 439.6,35.7 439.9,36.6 440.1,37.5 440.4,38.4 440.7,39.4 440.9,40.3 441.2,41.3 441.4,42.3 441.7,43.2 441.9,44.2 442.2,45.2 442.5,46.2 442.7,47.3 443.0,48.4 443.2,49.5 443.5,50.6 443.7,51.7" fill="none" stroke="#1a30e6" stroke-width="1.15" stroke-linejoin="round" stroke-linecap="round" />
<polyline points="443.7,51.7 444.0,52.8 444.3,53.9 444.5,55.1 444.8,56.2 445.0,57.4 445.3,58.5 445.5,59.7 445.8,60.9 446.1,62.1 446.3,63.4 446.6,64.6 446.8,65.8 447.1,67.1 447.3,68.3 447.6,69.6 447.9,70.8 448.1,72.0 448.4,73.2 448.6,74.4 448.9,75.6 449.1,76.8 449.4,78.1 449.7,79.3 449.9,80.5 450.2,81.8 450.4,83.0 450.7,84.3 450.9,85.6 451.2,87.0 451.5,88.3 451.7,89.7 452.0,91.0 452.2,92.4 452.5,93.8 452.7,95.1 453.0,96.5 453.3,97.9 453.5,99.3 453.8,100.7 454.0,102.0 454.3,103.4 454.5,104.8 454.8,106.3 455.1,107.7 455.3,109.1 455.6,110.6 455.8,112.1 456.1,113.6 456.3,115.1 456.6,116.6 456.9,118.2 457.1,119.7 457.4,121.3 457.6,122.8 457.9,124.4 458.1,125.9 458.4,127.4 458.7,129.0 458.9,130.5 459.2,132.0 459.4,133.6 459.7,135.1 459.9,136.6 460.2,138.1 460.5,139.7 460.7,141.2 461.0,142.7 461.2,144.3 461.5,145.8 461.7,147.4 462.0,148.9 462.3,150.5 462.5,152.0 462.8,153.5 463.0,155.0 463.3,156.5 463.5,158.0 463.8,159.5 464.1,160.9 464.3,162.4 464.6,163.8 464.8,165.2 465.1,166.7 465.3,168.1 465.6,169.5 465.9,170.9 466.1,172.3 466.4,173.7" fill="none" stroke="#1a30e6" stroke-width="1.1" stroke-linejoin="round" stroke-linecap="round" stroke-dasharray="0.8 1.2"/>
<polyline points="475.6,174.9 475.9,173.8 476.1,172.6 476.4,171.2 476.7,170.2 476.9,168.9 477.2,167.8 477.4,166.7 477.7,165.5 477.9,164.5 478.2,163.6 478.5,162.5 478.7,161.1 479.0,160.5 479.2,159.4 479.5,158.2 479.7,157.3 480.0,156.3 480.3,155.4 480.5,154.2 480.8,153.1 481.0,152.2 481.3,151.5 481.5,150.5 481.8,150.0 482.1,149.2 482.3,148.6 482.6,148.0 482.8,147.3 483.1,146.7 483.3,146.4 483.6,145.6 483.9,145.4 484.1,144.9 484.4,144.4 484.6,144.1 484.9,143.5 485.1,143.1 485.4,142.8 485.7,142.5 485.9,142.3 486.2,142.0 486.4,142.0 486.7,141.6 486.9,141.6 487.2,141.4 487.5,141.2 487.7,141.0 488.0,141.1 488.2,140.9 488.5,140.7 488.7,140.5 489.0,140.4 489.3,140.3 489.5,140.2 489.8,140.2 490.0,140.3 490.3,140.4 490.5,140.4 490.8,140.4 491.1,140.3 491.3,140.3 491.6,140.4 491.8,140.4 492.1,140.4 492.3,140.5 492.6,140.5 492.9,140.5 493.1,140.7 493.4,140.8 493.6,140.7 493.9,140.8 494.1,141.0 494.4,141.2 494.7,141.0 494.9,141.6 495.2,141.7 495.4,141.8 495.7,142.2 495.9,142.2 496.2,142.2 496.5,142.5 496.7,142.7 497.0,142.8 497.2,143.0 497.5,143.1 497.7,143.4 498.0,143.5 498.3,143.6 498.5,143.7 498.8,143.9 499.0,144.0 499.3,144.5 499.5,144.2 499.8,144.2 500.1,144.5 500.3,144.8 500.6,145.0 500.8,145.0 501.1,145.3 501.3,145.2 501.6,145.5 501.9,145.4 502.1,145.4 502.4,145.9 502.6,145.8 502.9,146.0 503.1,146.2 503.4,146.2 503.7,146.2 503.9,146.2 504.2,146.6 504.4,146.3 504.7,146.3 504.9,146.5 505.2,146.6 505.5,146.7 505.7,146.9 506.0,146.7 506.2,146.7 506.5,146.6 506.7,146.4 507.0,146.6 507.3,146.7 507.5,146.5 507.8,146.9 508.0,146.9 508.3,146.8 508.5,146.8 508.8,146.6 509.1,146.8 509.3,146.5 509.6,146.5 509.8,146.5 510.1,146.6 510.3,146.4 510.6,146.2 510.9,146.3 511.1,146.0 511.4,145.9 511.6,145.8 511.9,145.5 512.1,145.3 512.4,145.4 512.7,145.1 512.9,145.0 513.2,144.6 513.4,144.5 513.7,144.0 513.9,143.7 514.2,143.3 514.5,143.1 514.7,142.9 515.0,142.1 515.2,142.0 515.5,141.4 515.7,141.2 516.0,140.7 516.3,140.1 516.5,139.8 516.8,139.2 517.0,139.0 517.3,138.2 517.5,137.8 517.8,137.2 518.1,136.6 518.3,136.1 518.6,135.4 518.8,135.3 519.1,134.6 519.3,134.2 519.6,133.6 519.9,133.3 520.1,132.8 520.4,132.4 520.6,131.8 520.9,131.3 521.1,131.0 521.4,130.5 521.6,130.2 521.9,129.4 522.2,128.8 522.4,128.4 522.7,127.7 522.9,127.5 523.2,126.9 523.4,126.2 523.7,125.5 524.0,124.9 524.2,124.3 524.5,123.7 524.7,123.0 525.0,122.6 525.2,122.1 525.5,121.5 525.8,120.5 526.0,120.5 526.3,119.7 526.5,118.9 526.8,118.4 527.0,118.0 527.3,117.3 527.6,116.6 527.8,116.0 528.1,115.7 528.3,114.9 528.6,114.4 528.8,113.7 529.1,113.1 529.4,112.8 529.6,112.3 529.9,111.6 530.1,110.8 530.4,110.4 530.6,109.9 530.9,109.0 531.2,108.9 531.4,108.1 531.7,107.7 531.9,107.1 532.2,106.5 532.4,105.8 532.7,105.5 533.0,104.9 533.2,104.4 533.5,103.6 533.7,103.1 534.0,102.5 534.2,102.1 534.5,101.4 534.8,100.7 535.0,100.2 535.3,99.6 535.5,99.0 535.8,98.5 536.0,98.1 536.3,97.2 536.6,96.8 536.8,96.1 537.1,96.0 537.3,95.4 537.6,94.9 537.8,94.2 538.1,93.4 538.4,92.9 538.6,92.4 538.9,91.9 539.1,91.3 539.4,90.9 539.6,90.3 539.9,89.8 540.2,89.6 540.4,88.9 540.7,88.2 540.9,87.9 541.2,87.4 541.4,87.0 541.7,86.5 542.0,85.9 542.2,85.6 542.5,85.2 542.7,85.1 543.0,84.3 543.2,84.1 543.5,83.7 543.8,82.9 544.0,82.6 544.3,82.5 544.5,81.8 544.8,81.5 545.0,81.3 545.3,80.8 545.6,80.7 545.8,80.3 546.1,80.0 546.3,79.6 546.6,79.1 546.8,79.0 547.1,78.7 547.4,78.3 547.6,77.8 547.9,77.6 548.1,77.1 548.4,77.0 548.6,76.7 548.9,76.3 549.2,75.9 549.4,75.7 549.7,75.3 549.9,74.8 550.2,74.8 550.4,74.4 550.7,73.9 551.0,73.9 551.2,73.6 551.5,73.3 551.7,72.8 552.0,72.5 552.2,72.3 552.5,72.0 552.8,71.5 553.0,71.3 553.3,71.3 553.5,70.8 553.8,70.5 554.0,70.1 554.3,70.0 554.6,69.7 554.8,69.4 555.1,69.3 555.3,68.8 555.6,68.5 555.8,68.1 556.1,68.0 556.4,67.7 556.6,67.5 556.9,67.2 557.1,66.7 557.4,66.6 557.6,66.2 557.9,66.2 558.2,65.8 558.4,65.8 558.7,65.4 558.9,65.2 559.2,64.9 559.4,64.7 559.7,64.5 560.0,64.2 560.2,64.1 560.5,63.9 560.7,63.6 561.0,63.6 561.2,63.4 561.5,63.1 561.8,63.1 562.0,62.8 562.3,62.5 562.5,62.4 562.8,62.4 563.0,62.4 563.3,62.1 563.6,61.9 563.8,61.7 564.1,61.7 564.3,61.5 564.6,61.3 564.8,61.3 565.1,61.2 565.4,60.8 565.6,60.7 565.9,60.7 566.1,60.6 566.4,60.7 566.6,60.4 566.9,60.3 567.2,60.2 567.4,60.2 567.7,60.1 567.9,60.0 568.2,59.9 568.4,59.7 568.7,59.7 569.0,59.9 569.2,59.8 569.5,59.8 569.7,59.6 570.0,59.4 570.2,59.3 570.5,59.4 570.8,59.3 571.0,59.3 571.3,59.4 571.5,59.3 571.8,59.2 572.0,58.9 572.3,59.2 572.6,58.9 572.8,58.9 573.1,59.1 573.3,59.1 573.6,59.1 573.8,59.1 574.1,59.0 574.4,59.1 574.6,59.0 574.9,59.0 575.1,59.1 575.4,59.1 575.6,59.2 575.9,59.2 576.2,59.5 576.4,59.4 576.7,59.6 576.9,59.8 577.2,59.6 577.4,60.1 577.7,60.3 578.0,60.3 578.2,60.8 578.5,60.8 578.7,61.1 579.0,61.2 579.2,61.3 579.5,61.4 579.8,61.6 580.0,61.9 580.3,62.1 580.5,62.4 580.8,62.8 581.0,62.9 581.3,63.3 581.6,63.6 581.8,63.7 582.1,64.0 582.3,64.4 582.6,64.6 582.8,64.8 583.1,65.4 583.4,65.6 583.6,66.0 583.9,66.1 584.1,66.5 584.4,66.6 584.6,67.0 584.9,67.5 585.2,67.7 585.4,68.2 585.7,68.4 585.9,68.6 586.2,68.9 586.4,69.5 586.7,69.6 587.0,69.8 587.2,70.1 587.5,70.3 587.7,70.9 588.0,71.0 588.2,71.4 588.5,71.6 588.8,71.9 589.0,72.1 589.3,72.6 589.5,72.8 589.8,73.2 590.0,73.5 590.3,73.5 590.6,73.9 590.8,74.3 591.1,74.5 591.3,74.6 591.6,74.7 591.8,75.0 592.1,75.2 592.4,75.7 592.6,75.8 592.9,75.9 593.1,76.1 593.4,76.3 593.6,76.6 593.9,76.6 594.2,76.8 594.4,77.2 594.7,77.5 594.9,77.3 595.2,77.8 595.4,77.7 595.7,77.8 596.0,78.3 596.2,78.3 596.5,78.5 596.7,78.6 597.0,78.7 597.2,78.6 597.5,78.9 597.8,79.1 598.0,79.1 598.3,79.4 598.5,79.5 598.8,79.3 599.0,79.8 599.3,79.8 599.6,79.9 599.8,80.1 600.1,80.3 600.3,80.0 600.6,80.3 600.8,80.4 601.1,80.4 601.4,80.6 601.6,80.6 601.9,80.5 602.1,80.3 602.4,80.6 602.6,80.6 602.9,80.9 603.2,80.8 603.4,81.0 603.7,80.8 603.9,80.9 604.2,80.9 604.4,81.0 604.7,81.1 605.0,81.2 605.2,81.0 605.5,81.3 605.7,81.3 606.0,81.2 606.2,81.2 606.5,81.1 606.7,81.1 607.0,81.2 607.3,81.2 607.5,81.2 607.8,81.1 608.0,81.5 608.3,81.2 608.5,81.4 608.8,81.4 609.1,81.3 609.3,81.3 609.6,81.2 609.8,81.2 610.1,81.6 610.3,81.3 610.6,81.1 610.9,81.2 611.1,81.2 611.4,81.3 611.6,81.5 611.9,81.5 612.1,81.3 612.4,81.3 612.7,81.5 612.9,81.4 613.2,81.4 613.4,81.6 613.7,81.5 613.9,81.2 614.2,81.2 614.5,81.4 614.7,81.2 615.0,81.5 615.2,81.5 615.5,81.7 615.7,81.3 616.0,81.5 616.3,81.2 616.5,81.4 616.8,81.4 617.0,81.7 617.3,81.3 617.5,81.5 617.8,81.5 618.1,81.8 618.3,81.4 618.6,81.4 618.8,81.6 619.1,81.5 619.3,81.5 619.6,81.4 619.9,81.5 620.1,81.3 620.4,81.5 620.6,81.6 620.9,81.6 621.1,81.8 621.4,81.6 621.7,81.4 621.9,81.5 622.2,81.6 622.4,81.5 622.7,81.8 622.9,81.6 623.2,81.5 623.5,81.4 623.7,81.6 624.0,81.4 624.2,81.3 624.5,81.6 624.7,81.4 625.0,81.7 625.3,81.8 625.5,81.4 625.8,81.5 626.0,81.5 626.3,81.6 626.5,81.6 626.8,81.4 627.1,81.3 627.3,81.5 627.6,81.7 627.8,81.4 628.1,81.4 628.3,81.4 628.6,81.5 628.9,81.2 629.1,81.5 629.4,81.5 629.6,81.7 629.9,81.6 630.1,81.6 630.4,81.5 630.7,81.5 630.9,81.6 631.2,81.3 631.4,81.6 631.7,81.6 631.9,81.5 632.2,81.7 632.5,81.4 632.7,81.4 633.0,81.6 633.2,81.3 633.5,81.5 633.7,81.5 634.0,81.6 634.3,81.7 634.5,81.6 634.8,81.6 635.0,81.6 635.3,81.4 635.5,81.8 635.8,81.7 636.1,81.7 636.3,81.4 636.6,81.6 636.8,81.6 637.1,81.7 637.3,81.4 637.6,81.6 637.9,81.5 638.1,81.8 638.4,81.4 638.6,81.5 638.9,81.4 639.1,81.4 639.4,81.5 639.7,81.5 639.9,81.4 640.2,81.5 640.4,81.5 640.7,81.5 640.9,81.6 641.2,81.4 641.5,81.4 641.7,81.5 642.0,81.3 642.2,81.7 642.5,81.5 642.7,81.3 643.0,81.6 643.3,81.7 643.5,81.3 643.8,81.4 644.0,81.7 644.3,81.4 644.5,81.6 644.8,81.7 645.1,81.5 645.3,81.6 645.6,81.6 645.8,81.6 646.1,81.6 646.3,81.5 646.6,81.5 646.9,81.4 647.1,81.6 647.4,81.7 647.6,81.7 647.9,81.5 648.1,81.3 648.4,81.4 648.7,81.6 648.9,81.4 649.2,81.7 649.4,81.4 649.7,81.6 649.9,81.4 650.2,81.4 650.5,81.5 650.7,81.5 651.0,81.6 651.2,81.5 651.5,81.4 651.7,81.0 652.0,81.4 652.3,81.5 652.5,81.6 652.8,81.4 653.0,81.7 653.3,81.6 653.5,81.5 653.8,81.7 654.1,81.3 654.3,81.4 654.6,81.6 654.8,81.6 655.1,81.7 655.3,81.7 655.6,81.5 655.9,81.4 656.1,81.5 656.4,81.5 656.6,81.6 656.9,81.5 657.1,81.7 657.4,81.5 657.7,81.3 657.9,81.4 658.2,81.6 658.4,81.6 658.7,81.3 658.9,81.3 659.2,81.7 659.5,81.6 659.7,81.5 660.0,81.4 660.2,81.6 660.5,81.4 660.7,81.6 661.0,81.2 661.3,81.5 661.5,81.5 661.8,81.6 662.0,81.4 662.3,81.4 662.5,81.6 662.8,81.5 663.1,81.7 663.3,81.6 663.6,81.7 663.8,81.7 664.1,81.6 664.3,81.6 664.6,81.4 664.9,81.4 665.1,81.5 665.4,81.7 665.6,81.4 665.9,81.8 666.1,81.8 666.4,81.4 666.7,81.4 666.9,81.4 667.2,81.5 667.4,81.7 667.7,81.6 667.9,81.4 668.2,81.6 668.5,81.6 668.7,81.7 669.0,81.7 669.2,81.4 669.5,81.5 669.7,81.7 670.0,81.6 670.3,81.6 670.5,81.4 670.8,81.7 671.0,81.5 671.3,81.8 671.5,81.7 671.8,81.5 672.1,81.4 672.3,81.7 672.6,81.6 672.8,81.4 673.1,81.6 673.3,81.6 673.6,81.5 673.9,81.5 674.1,81.4" fill="none" stroke="#1a30e6" stroke-width="1.15" stroke-linejoin="round" stroke-linecap="round" />
<circle cx="510.6" cy="19.0" r="2.3" fill="#000"/>
<text transform="translate(524.20,23.10) scale(1,0.96)" font-size="12.0" fill="#111" >baseline</text>
<circle cx="510.6" cy="32.3" r="2.3" fill="#1020e0"/>
<text transform="translate(524.20,37.40) scale(1,1.08)" font-size="13.3" fill="#111" >10 ns</text>
<circle cx="510.6" cy="45.7" r="2.3" fill="#2040b0"/>
<text transform="translate(524.20,51.20) scale(1,1.08)" font-size="13.3" fill="#111" >100 ns</text>
<circle cx="582.2" cy="18.8" r="2.3" fill="#403090"/>
<text transform="translate(599.00,23.60) scale(1,1.08)" font-size="13.3" fill="#111" >300 ns</text>
<circle cx="582.2" cy="32.5" r="2.3" fill="#702a80"/>
<text transform="translate(599.00,36.90) scale(1,1.08)" font-size="13.3" fill="#111" >500 ns</text>
<circle cx="582.2" cy="45.6" r="2.3" fill="#b02050"/>
<text transform="translate(596.80,49.80) scale(1,1.08)" font-size="13.3" fill="#111" >1500 ns</text>
<rect x="556.5" y="107.5" width="109.8" height="77.0" fill="#fff"/>
<polyline points="557.1,107.5 556.5,184.2 556.8,183.8 557.1,182.6 557.3,181.6 557.6,181.2 557.9,180.1 558.2,178.2 558.4,178.5 558.7,176.3 559.0,175.8 559.3,175.1 559.5,173.9 559.8,173.0 560.1,171.8 560.4,171.7 560.6,170.8 560.9,170.0 561.2,168.2 561.5,167.8 561.7,167.9 562.0,166.8 562.3,166.2 562.6,165.1 562.8,164.3 563.1,162.6 563.4,163.7 563.7,161.7 563.9,161.2 564.2,161.1 564.5,160.1 564.8,159.6 565.0,158.7 565.3,157.5 565.6,158.0 565.9,156.1 566.1,156.2 566.4,154.7 566.7,154.6 567.0,153.6 567.2,153.3 567.5,152.4 567.8,152.3 568.1,152.1 568.3,150.9 568.6,150.3 568.9,149.1 569.2,150.4 569.4,149.0 569.7,147.9 570.0,148.4 570.3,147.4 570.5,145.8 570.8,145.6 571.1,146.2 571.4,144.6 571.6,144.2 571.9,143.9 572.2,143.6 572.5,143.2 572.7,143.3 573.0,142.6 573.3,141.6 573.6,141.4 573.8,140.2 574.1,140.8 574.4,141.3 574.7,139.9 574.9,139.2 575.2,138.7 575.5,138.5 575.8,138.5 576.0,137.0 576.3,137.6 576.6,136.6 576.9,136.7 577.1,136.7 577.4,135.1 577.7,136.6 578.0,135.4 578.2,134.5 578.5,134.5 578.8,133.6 579.1,133.7 579.3,133.5 579.6,131.9 579.9,132.7 580.2,132.3 580.4,132.5 580.7,132.0 581.0,131.0 581.3,130.7 581.5,130.7 581.8,130.7 582.1,129.8 582.4,130.6 582.6,129.7 582.9,129.3 583.2,129.3 583.5,128.6 583.7,128.7 584.0,128.5 584.3,127.0 584.6,127.2 584.8,126.7 585.1,127.0 585.4,126.3 585.7,126.2 585.9,125.7 586.2,124.9 586.5,125.9 586.8,125.4 587.0,125.3 587.3,126.7 587.6,125.5 587.9,124.6 588.1,124.1 588.4,124.4 588.7,123.4 589.0,123.1 589.2,123.7 589.5,122.7 589.8,122.3 590.1,122.7 590.3,123.2 590.6,121.8 590.9,122.4 591.2,122.3 591.4,121.9 591.7,122.0 592.0,121.0 592.3,121.0 592.5,120.6 592.8,120.7 593.1,121.2 593.4,120.7 593.7,120.1 593.9,120.5 594.2,118.8 594.5,120.1 594.8,120.1 595.0,119.1 595.3,119.1 595.6,119.3 595.9,119.3 596.1,118.8 596.4,118.5 596.7,118.4 597.0,118.7 597.2,118.2 597.5,117.9 597.8,117.8 598.1,119.4 598.3,118.3 598.6,118.1 598.9,117.7 599.2,117.4 599.4,116.9 599.7,116.9 600.0,117.1 600.3,116.9 600.5,116.0 600.8,117.0 601.1,116.4 601.4,115.7 601.6,116.2 601.9,117.2 602.2,115.9 602.5,116.2 602.7,115.9 603.0,115.3 603.3,115.5 603.6,115.7 603.8,115.1 604.1,115.2 604.4,115.2 604.7,115.0 604.9,114.9 605.2,115.1 605.5,115.1 605.8,114.8 606.0,115.1 606.3,115.2 606.6,113.9 606.9,114.5 607.1,114.3 607.4,114.3 607.7,114.1 608.0,114.0 608.2,113.9 608.5,114.2 608.8,113.4 609.1,114.0 609.3,113.1 609.6,114.4 609.9,113.9 610.2,112.9 610.4,113.4 610.7,113.5 611.0,113.0 611.3,113.6 611.5,113.0 611.8,114.0 612.1,113.1 612.4,113.1 612.6,112.5 612.9,112.2 613.2,113.0 613.5,111.8 613.7,112.7 614.0,113.3 614.3,113.4 614.6,111.6 614.8,112.2 615.1,112.4 615.4,112.4 615.7,112.5 615.9,111.3 616.2,111.9 616.5,111.0 616.8,111.9 617.0,112.8 617.3,111.3 617.6,111.8 617.9,111.7 618.1,110.8 618.4,111.6 618.7,110.9 619.0,111.4 619.2,111.7 619.5,111.0 619.8,111.5 620.1,110.6 620.3,110.7 620.6,111.0 620.9,110.7 621.2,110.7 621.4,111.1 621.7,110.5 622.0,110.9 622.3,110.5 622.5,111.2 622.8,110.7 623.1,110.5 623.4,111.0 623.6,110.8 623.9,110.8 624.2,110.2 624.5,110.8 624.7,110.2 625.0,109.7 625.3,110.2 625.6,111.1 625.8,110.2 626.1,109.8 626.4,110.3 626.7,109.6 626.9,109.8 627.2,109.9 627.5,110.2 627.8,110.3 628.0,110.1 628.3,109.9 628.6,109.7 628.9,109.7 629.1,110.0 629.4,109.8 629.7,109.6 630.0,110.5 630.3,110.1 630.5,110.1 630.8,109.8 631.1,109.8 631.4,109.7 631.6,110.0 631.9,109.3 632.2,109.4 632.5,110.3 632.7,109.5 633.0,110.0 633.3,108.6 633.6,109.6 633.8,109.6 634.1,109.3 634.4,109.4 634.7,109.3 634.9,108.6 635.2,109.2 635.5,108.9 635.8,108.7 636.0,109.6 636.3,108.4 636.6,108.8 636.9,108.7 637.1,109.5 637.4,108.7 637.7,108.9 638.0,109.3 638.2,108.0 638.5,108.7 638.8,109.1 639.1,108.9 639.3,108.5 639.6,108.4 639.9,108.6 640.2,108.3 640.4,108.2 640.7,109.4 641.0,109.1 641.3,109.2 641.5,108.8 641.8,108.1 642.1,108.5 642.4,109.2 642.6,108.9 642.9,108.2 643.2,108.9 643.5,108.7 643.7,108.5 644.0,109.5 644.3,108.3 644.6,108.5 644.8,108.3 645.1,109.0 645.4,108.9 645.7,108.8 645.9,108.4 646.2,108.5 646.5,108.5 646.8,107.7 647.0,107.9 647.3,108.8 647.6,108.8 647.9,107.7 648.1,108.6 648.4,107.8 648.7,107.7 649.0,108.7 649.2,108.5 649.5,108.3 649.8,108.8 650.1,108.8 650.3,108.5 650.6,107.9 650.9,108.5 651.2,108.4 651.4,108.5 651.7,108.9 652.0,107.6 652.3,109.4 652.5,108.6 652.8,108.0 653.1,108.9 653.4,108.0 653.6,107.6 653.9,108.6 654.2,108.1 654.5,108.7 654.7,108.0 655.0,108.1 655.3,108.1 655.6,107.5 655.8,107.9 656.1,107.5 656.4,107.8 656.7,108.7 656.9,108.0 657.2,107.9 657.5,108.8 657.8,107.5 658.0,108.1 658.3,107.9 658.6,108.5 658.9,108.0 659.1,107.9 659.4,108.2 659.7,108.0 660.0,109.0 660.2,107.4 660.5,108.5 660.8,109.0 661.1,108.4 661.3,108.4 661.6,107.7 661.9,108.4 662.2,107.8 662.4,108.4 662.7,106.9 663.0,107.7 663.3,107.0 663.5,108.4 663.8,107.6 664.1,108.4 664.4,107.7 664.6,107.6 664.9,108.7 665.2,108.4 665.5,108.4 665.7,108.6 666.0,108.2 666.3,108.3" fill="none" stroke="#222" stroke-width="1.1" stroke-linejoin="round" stroke-linecap="round" />
<polyline points="556.5,184.5 556.8,183.5 557.1,182.5 557.3,181.5 557.6,180.5 557.9,179.6 558.2,178.6 558.4,177.7 558.7,176.8 559.0,175.9 559.3,175.0 559.5,174.1 559.8,173.2 560.1,172.4 560.4,171.5 560.6,170.7 560.9,169.8 561.2,169.0 561.5,168.2 561.7,167.4 562.0,166.6 562.3,165.9 562.6,165.1 562.8,164.3 563.1,163.6 563.4,162.9 563.7,162.1 563.9,161.4 564.2,160.7 564.5,160.0 564.8,159.3 565.0,158.7 565.3,158.0 565.6,157.3 565.9,156.7 566.1,156.0 566.4,155.4 566.7,154.8 567.0,154.1 567.2,153.5 567.5,152.9 567.8,152.3 568.1,151.7 568.3,151.2 568.6,150.6 568.9,150.0 569.2,149.5 569.4,148.9 569.7,148.4 570.0,147.8 570.3,147.3 570.5,146.8 570.8,146.3 571.1,145.8 571.4,145.3 571.6,144.8 571.9,144.3 572.2,143.8 572.5,143.3 572.7,142.9 573.0,142.4 573.3,141.9 573.6,141.5 573.8,141.0 574.1,140.6 574.4,140.2 574.7,139.7 574.9,139.3 575.2,138.9 575.5,138.5 575.8,138.1 576.0,137.7 576.3,137.3 576.6,136.9 576.9,136.5 577.1,136.1 577.4,135.8 577.7,135.4 578.0,135.0 578.2,134.7 578.5,134.3 578.8,134.0 579.1,133.6 579.3,133.3 579.6,132.9 579.9,132.6 580.2,132.3 580.4,131.9 580.7,131.6 581.0,131.3 581.3,131.0 581.5,130.7 581.8,130.4 582.1,130.1 582.4,129.8 582.6,129.5 582.9,129.2 583.2,128.9 583.5,128.6 583.7,128.4 584.0,128.1 584.3,127.8 584.6,127.6 584.8,127.3 585.1,127.0 585.4,126.8 585.7,126.5 585.9,126.3 586.2,126.0 586.5,125.8 586.8,125.5 587.0,125.3 587.3,125.1 587.6,124.8 587.9,124.6 588.1,124.4 588.4,124.2 588.7,124.0 589.0,123.7 589.2,123.5 589.5,123.3 589.8,123.1 590.1,122.9 590.3,122.7 590.6,122.5 590.9,122.3 591.2,122.1 591.4,121.9 591.7,121.7 592.0,121.5 592.3,121.4 592.5,121.2 592.8,121.0 593.1,120.8 593.4,120.6 593.7,120.5 593.9,120.3 594.2,120.1 594.5,120.0 594.8,119.8 595.0,119.6 595.3,119.5 595.6,119.3 595.9,119.2 596.1,119.0 596.4,118.9 596.7,118.7 597.0,118.6 597.2,118.4 597.5,118.3 597.8,118.1 598.1,118.0 598.3,117.9 598.6,117.7 598.9,117.6 599.2,117.5 599.4,117.3 599.7,117.2 600.0,117.1 600.3,117.0 600.5,116.8 600.8,116.7 601.1,116.6 601.4,116.5 601.6,116.4 601.9,116.2 602.2,116.1 602.5,116.0 602.7,115.9 603.0,115.8 603.3,115.7 603.6,115.6 603.8,115.5 604.1,115.4 604.4,115.3 604.7,115.2 604.9,115.1 605.2,115.0 605.5,114.9 605.8,114.8 606.0,114.7 606.3,114.6 606.6,114.5 606.9,114.4 607.1,114.3 607.4,114.2 607.7,114.1 608.0,114.0 608.2,113.9 608.5,113.9 608.8,113.8 609.1,113.7 609.3,113.6 609.6,113.5 609.9,113.5 610.2,113.4 610.4,113.3 610.7,113.2 611.0,113.2 611.3,113.1 611.5,113.0 611.8,112.9 612.1,112.9 612.4,112.8 612.6,112.7 612.9,112.7 613.2,112.6 613.5,112.5 613.7,112.5 614.0,112.4 614.3,112.3 614.6,112.3 614.8,112.2 615.1,112.1 615.4,112.1 615.7,112.0 615.9,112.0 616.2,111.9 616.5,111.8 616.8,111.8 617.0,111.7 617.3,111.7 617.6,111.6 617.9,111.6 618.1,111.5 618.4,111.5 618.7,111.4 619.0,111.4 619.2,111.3 619.5,111.3 619.8,111.2 620.1,111.2 620.3,111.1 620.6,111.1 620.9,111.0 621.2,111.0 621.4,110.9 621.7,110.9 622.0,110.8 622.3,110.8 622.5,110.7 622.8,110.7 623.1,110.7 623.4,110.6 623.6,110.6 623.9,110.5 624.2,110.5 624.5,110.5 624.7,110.4 625.0,110.4 625.3,110.3 625.6,110.3 625.8,110.3 626.1,110.2 626.4,110.2 626.7,110.2 626.9,110.1 627.2,110.1 627.5,110.1 627.8,110.0 628.0,110.0 628.3,110.0 628.6,109.9 628.9,109.9 629.1,109.9 629.4,109.8 629.7,109.8 630.0,109.8 630.3,109.7 630.5,109.7 630.8,109.7 631.1,109.7 631.4,109.6 631.6,109.6 631.9,109.6 632.2,109.5 632.5,109.5 632.7,109.5 633.0,109.5 633.3,109.4 633.6,109.4 633.8,109.4 634.1,109.4 634.4,109.3 634.7,109.3 634.9,109.3 635.2,109.3 635.5,109.2 635.8,109.2 636.0,109.2 636.3,109.2 636.6,109.2 636.9,109.1 637.1,109.1 637.4,109.1 637.7,109.1 638.0,109.1 638.2,109.0 638.5,109.0 638.8,109.0 639.1,109.0 639.3,109.0 639.6,108.9 639.9,108.9 640.2,108.9 640.4,108.9 640.7,108.9 641.0,108.8 641.3,108.8 641.5,108.8 641.8,108.8 642.1,108.8 642.4,108.8 642.6,108.7 642.9,108.7 643.2,108.7 643.5,108.7 643.7,108.7 644.0,108.7 644.3,108.6 644.6,108.6 644.8,108.6 645.1,108.6 645.4,108.6 645.7,108.6 645.9,108.6 646.2,108.5 646.5,108.5 646.8,108.5 647.0,108.5 647.3,108.5 647.6,108.5 647.9,108.5 648.1,108.5 648.4,108.4 648.7,108.4 649.0,108.4 649.2,108.4 649.5,108.4 649.8,108.4 650.1,108.4 650.3,108.4 650.6,108.3 650.9,108.3 651.2,108.3 651.4,108.3 651.7,108.3 652.0,108.3 652.3,108.3 652.5,108.3 652.8,108.3 653.1,108.3 653.4,108.2 653.6,108.2 653.9,108.2 654.2,108.2 654.5,108.2 654.7,108.2 655.0,108.2 655.3,108.2 655.6,108.2 655.8,108.2 656.1,108.1 656.4,108.1 656.7,108.1 656.9,108.1 657.2,108.1 657.5,108.1 657.8,108.1 658.0,108.1 658.3,108.1 658.6,108.1 658.9,108.1 659.1,108.1 659.4,108.1 659.7,108.0 660.0,108.0 660.2,108.0 660.5,108.0 660.8,108.0 661.1,108.0 661.3,108.0 661.6,108.0 661.9,108.0 662.2,108.0 662.4,108.0 662.7,108.0 663.0,108.0 663.3,108.0 663.5,108.0 663.8,107.9 664.1,107.9 664.4,107.9 664.6,107.9 664.9,107.9 665.2,107.9 665.5,107.9 665.7,107.9 666.0,107.9 666.3,107.9" fill="none" stroke="#a0304e" stroke-width="1.4" stroke-linejoin="round" stroke-linecap="round" />
<line x1="556.50" y1="107.50" x2="666.30" y2="107.50" stroke="#2a2a2a" stroke-width="1.0" />
<line x1="556.50" y1="184.50" x2="666.30" y2="184.50" stroke="#2a2a2a" stroke-width="1.0" />
<line x1="556.50" y1="107.50" x2="556.50" y2="184.50" stroke="#2a2a2a" stroke-width="1.0" />
<line x1="666.30" y1="107.50" x2="666.30" y2="184.50" stroke="#8a8a8a" stroke-width="0.8" />
<line x1="556.50" y1="107.50" x2="553.50" y2="107.50" stroke="#2a2a2a" stroke-width="1.0" />
<line x1="556.50" y1="184.50" x2="553.50" y2="184.50" stroke="#2a2a2a" stroke-width="1.0" />
<line x1="556.50" y1="184.50" x2="556.50" y2="187.50" stroke="#2a2a2a" stroke-width="1.0" />
<line x1="666.30" y1="184.50" x2="666.30" y2="187.50" stroke="#2a2a2a" stroke-width="1.0" />
<text transform="translate(551.00,113.10) scale(1,1.08)" font-size="13.3" text-anchor="end" fill="#111" >0</text>
<text transform="translate(551.00,189.40) scale(1,1.08)" font-size="13.3" text-anchor="end" fill="#111" >100</text>
<rect x="522.82" y="183.75" width="4.9" height="1.5" fill="#111"/>
<text transform="translate(556.80,200.50) scale(1,1.08)" font-size="13.3" text-anchor="middle" fill="#111" >0</text>
<text transform="translate(665.30,200.50) scale(1,1.08)" font-size="13.3" text-anchor="middle" fill="#111" >1</text>
<text transform="translate(598.50,200.60) scale(1,1.08)" font-size="13.3" fill="#111" ><tspan font-style="italic">t</tspan> / &#956;s</text>
<text transform="translate(619.20,125.30) scale(1,1.08)" font-size="14.2" fill="#111" >580</text>
<text transform="translate(647.40,125.30) scale(1,1.08)" font-size="13.3" fill="#111" >nm</text>
<text transform="translate(590.40,156.90) skewX(-13) scale(1,1.0)" style="font-family:'Liberation Serif',serif" font-style="italic" font-size="16" fill="#111">&#964;</text>
<text transform="translate(600.50,156.90) scale(1,1.08)" font-size="13.3" fill="#111" >=</text>
<text transform="translate(613.40,156.90) scale(1,1.08)" font-size="13.3" fill="#111" >190 ns</text>
<rect x="391.50" y="6.50" width="283.00" height="199.00" fill="none" stroke="#2a2a2a" stroke-width="1.0"/>
<line x1="417.01" y1="205.50" x2="417.01" y2="209.00" stroke="#2a2a2a" stroke-width="1.0" />
<line x1="468.43" y1="205.50" x2="468.43" y2="209.00" stroke="#2a2a2a" stroke-width="1.0" />
<line x1="519.85" y1="205.50" x2="519.85" y2="209.00" stroke="#2a2a2a" stroke-width="1.0" />
<line x1="571.27" y1="205.50" x2="571.27" y2="209.00" stroke="#2a2a2a" stroke-width="1.0" />
<line x1="622.69" y1="205.50" x2="622.69" y2="209.00" stroke="#2a2a2a" stroke-width="1.0" />
<line x1="674.11" y1="205.50" x2="674.11" y2="209.00" stroke="#2a2a2a" stroke-width="1.0" />
<line x1="391.30" y1="205.50" x2="391.30" y2="207.50" stroke="#2a2a2a" stroke-width="1.0" />
<line x1="442.72" y1="205.50" x2="442.72" y2="207.50" stroke="#2a2a2a" stroke-width="1.0" />
<line x1="494.14" y1="205.50" x2="494.14" y2="207.50" stroke="#2a2a2a" stroke-width="1.0" />
<line x1="545.56" y1="205.50" x2="545.56" y2="207.50" stroke="#2a2a2a" stroke-width="1.0" />
<line x1="596.98" y1="205.50" x2="596.98" y2="207.50" stroke="#2a2a2a" stroke-width="1.0" />
<line x1="648.40" y1="205.50" x2="648.40" y2="207.50" stroke="#2a2a2a" stroke-width="1.0" />
<line x1="391.50" y1="205.50" x2="387.50" y2="205.50" stroke="#2a2a2a" stroke-width="1.0" />
<line x1="391.50" y1="174.88" x2="387.50" y2="174.88" stroke="#2a2a2a" stroke-width="1.0" />
<line x1="391.50" y1="144.27" x2="387.50" y2="144.27" stroke="#2a2a2a" stroke-width="1.0" />
<line x1="391.50" y1="113.66" x2="387.50" y2="113.66" stroke="#2a2a2a" stroke-width="1.0" />
<line x1="391.50" y1="83.04" x2="387.50" y2="83.04" stroke="#2a2a2a" stroke-width="1.0" />
<line x1="391.50" y1="52.43" x2="387.50" y2="52.43" stroke="#2a2a2a" stroke-width="1.0" />
<line x1="391.50" y1="21.81" x2="387.50" y2="21.81" stroke="#2a2a2a" stroke-width="1.0" />
<line x1="391.50" y1="190.19" x2="389.00" y2="190.19" stroke="#2a2a2a" stroke-width="1.0" />
<line x1="391.50" y1="159.58" x2="389.00" y2="159.58" stroke="#2a2a2a" stroke-width="1.0" />
<line x1="391.50" y1="128.96" x2="389.00" y2="128.96" stroke="#2a2a2a" stroke-width="1.0" />
<line x1="391.50" y1="98.35" x2="389.00" y2="98.35" stroke="#2a2a2a" stroke-width="1.0" />
<line x1="391.50" y1="67.73" x2="389.00" y2="67.73" stroke="#2a2a2a" stroke-width="1.0" />
<line x1="391.50" y1="37.12" x2="389.00" y2="37.12" stroke="#2a2a2a" stroke-width="1.0" />
<line x1="391.50" y1="6.50" x2="389.00" y2="6.50" stroke="#2a2a2a" stroke-width="1.0" />
<text transform="translate(417.01,221.60) scale(1,1.08)" font-size="13.3" text-anchor="middle" fill="#111" >400</text>
<text transform="translate(468.43,221.60) scale(1,1.08)" font-size="13.3" text-anchor="middle" fill="#111" >500</text>
<text transform="translate(519.85,221.60) scale(1,1.08)" font-size="13.3" text-anchor="middle" fill="#111" >600</text>
<text transform="translate(571.27,221.60) scale(1,1.08)" font-size="13.3" text-anchor="middle" fill="#111" >700</text>
<text transform="translate(622.69,221.60) scale(1,1.08)" font-size="13.3" text-anchor="middle" fill="#111" >800</text>
<text transform="translate(674.11,221.60) scale(1,1.08)" font-size="13.3" text-anchor="middle" fill="#111" >900</text>
<text transform="translate(385.80,210.90) scale(1,1.08)" font-size="13.3" text-anchor="end" fill="#111" >200</text>
<rect x="357.62" y="204.75" width="4.9" height="1.5" fill="#111"/>
<text transform="translate(385.80,180.28) scale(1,1.08)" font-size="13.3" text-anchor="end" fill="#111" >150</text>
<rect x="357.62" y="174.13" width="4.9" height="1.5" fill="#111"/>
<text transform="translate(385.80,149.67) scale(1,1.08)" font-size="13.3" text-anchor="end" fill="#111" >100</text>
<rect x="357.62" y="143.52" width="4.9" height="1.5" fill="#111"/>
<text transform="translate(385.80,119.06) scale(1,1.08)" font-size="13.3" text-anchor="end" fill="#111" >50</text>
<rect x="365.01" y="112.91" width="4.9" height="1.5" fill="#111"/>
<text transform="translate(385.80,88.44) scale(1,1.08)" font-size="13.3" text-anchor="end" fill="#111" >0</text>
<text transform="translate(385.80,57.83) scale(1,1.08)" font-size="13.3" text-anchor="end" fill="#111" >50</text>
<text transform="translate(385.80,27.21) scale(1,1.08)" font-size="13.3" text-anchor="end" fill="#111" >100</text>
<text transform="translate(360.90,123.00) rotate(-90) scale(1,1.08)" font-size="13.3" fill="#111" >&#916;<tspan font-style="italic">A</tspan> / 10<tspan font-size="9" dy="-5">&#8211;3</tspan></text>
<text transform="translate(523.00,236.00) skewX(-13) scale(1,1.0)" style="font-family:'Liberation Serif',serif" font-style="italic" font-size="16" fill="#111">&#955;</text>
<text transform="translate(533.40,235.90) scale(1,1.08)" font-size="13.3" fill="#111" >/</text>
<text transform="translate(540.60,235.90) scale(1,1.08)" font-size="13.3" fill="#111" >nm</text>
<text transform="translate(-0.40,254.60) scale(1,1.0)" font-size="13.8" font-weight="bold" fill="#000" >c</text>
<polyline points="39.5,440.3 42.2,440.1 44.9,440.1 47.6,440.0 50.3,440.3 53.0,440.2 55.7,439.1 58.4,430.5 61.1,397.5 63.9,337.9 66.6,282.1 69.3,256.1 72.0,248.7 74.7,252.1 77.4,258.0 80.1,262.0 82.8,264.9 85.5,270.3 88.2,275.9 90.9,279.1 93.6,279.2 96.3,277.3 99.0,276.8 101.7,277.1 104.4,280.6 107.1,282.1 109.9,285.7 112.6,287.3 115.3,287.5 118.0,286.0 120.7,284.8 123.4,285.0 126.1,286.2 128.8,289.0 131.5,290.1 134.2,291.5 136.9,291.8 139.6,291.1 142.3,289.7 145.0,289.3 147.7,291.1 150.4,290.5 153.2,291.7 155.9,293.3 158.6,293.5 161.3,293.0 164.0,292.2 166.7,292.8 169.4,293.5 172.1,293.4 174.8,295.3 177.5,294.7 180.2,294.4 182.9,294.8 185.6,294.5 188.3,294.6 191.0,294.7 193.7,295.5 196.4,296.4 199.2,296.5 201.9,296.7 204.6,296.1 207.3,296.0 210.0,296.7 212.7,297.5 215.4,297.8 218.1,297.9 220.8,297.4 223.5,298.2 226.2,298.5 228.9,299.0 231.6,298.3 234.3,298.8 237.0,299.3 239.7,299.5 242.4,299.0 245.2,300.1 247.9,299.4 250.6,299.8 253.3,300.6 256.0,300.4 258.7,301.1 261.4,301.7 264.1,301.7 266.8,302.3 269.5,301.8 272.2,302.2 274.9,302.1 277.6,302.2 280.3,304.5 283.0,303.0 285.7,304.3 288.5,303.5 291.2,304.3 293.9,304.0 296.6,303.5 299.3,305.3 302.0,304.6 304.7,305.0 307.4,306.1 310.1,305.0 312.8,305.6 315.5,306.1 318.2,306.4 320.9,304.6 323.6,306.7 326.3,307.6" fill="none" stroke="rgb(22,40,214)" stroke-width="1.1" stroke-linejoin="round" stroke-linecap="round" />
<polyline points="39.5,440.3 40.3,440.3 41.1,440.3 42.0,440.3 42.8,440.3 43.6,440.3 44.4,440.3 45.2,440.3 46.1,440.3 46.9,440.3 47.7,440.3 48.5,440.3 49.3,440.3 50.2,440.3 51.0,440.3 51.8,440.3 52.6,440.2 53.4,440.2 54.3,440.0 55.1,439.6 55.9,438.8 56.7,437.3 57.5,434.8 58.4,430.7 59.2,424.4 60.0,415.5 60.8,403.6 61.6,388.7 62.5,371.2 63.3,352.1 64.1,332.5 64.9,313.7 65.7,296.7 66.6,282.5 67.4,271.3 68.2,263.0 69.0,257.3 69.8,253.6 70.7,251.4 71.5,250.2 72.3,249.6 73.1,250.1 73.9,251.6 74.8,253.1 75.6,254.6 76.4,256.1 77.2,257.5 78.0,258.8 78.9,260.1 79.7,261.3 80.5,262.5 81.3,263.6 82.1,264.7 83.0,265.8 83.8,266.7 84.6,267.7 85.4,268.6 86.2,269.5 87.1,270.3 87.9,271.1 88.7,271.9 89.5,272.6 90.3,273.3 91.2,274.0 92.0,274.7 92.8,275.3 93.6,275.9 94.4,276.5 95.3,277.1 96.1,277.6 96.9,278.1 97.7,278.6 98.5,279.1 99.4,279.5 100.2,280.0 101.0,280.4 101.8,280.8 102.6,281.2 103.5,281.6 104.3,281.9 105.1,282.3 105.9,282.6 106.7,283.0 107.6,283.3 108.4,283.6 109.2,283.9 110.0,284.2 110.8,284.4 111.7,284.7 112.5,284.9 113.3,285.2 114.1,285.4 114.9,285.7 115.8,285.9 116.6,286.1 117.4,286.3 118.2,286.5 119.0,286.7 119.9,286.9 120.7,287.1 121.5,287.3 122.3,287.5 123.1,287.6 124.0,287.8 124.8,288.0 125.6,288.1 126.4,288.3 127.2,288.4 128.1,288.6 128.9,288.7 129.7,288.9 130.5,289.0 131.3,289.1 132.2,289.3 133.0,289.4 133.8,289.5 134.6,289.6 135.4,289.8 136.3,289.9 137.1,290.0 137.9,290.1 138.7,290.2 139.5,290.3 140.4,290.4 141.2,290.5 142.0,290.7 142.8,290.8 143.6,290.9 144.5,291.0 145.3,291.1 146.1,291.2 146.9,291.2 147.7,291.3 148.6,291.4 149.4,291.5 150.2,291.6 151.0,291.7 151.8,291.8 152.7,291.9 153.5,292.0 154.3,292.1 155.1,292.1 155.9,292.2 156.8,292.3 157.6,292.4 158.4,292.5 159.2,292.6 160.0,292.6 160.9,292.7 161.7,292.8 162.5,292.9 163.3,293.0 164.1,293.0 165.0,293.1 165.8,293.2 166.6,293.3 167.4,293.4 168.2,293.4 169.1,293.5 169.9,293.6 170.7,293.7 171.5,293.7 172.3,293.8 173.2,293.9 174.0,294.0 174.8,294.0 175.6,294.1 176.4,294.2 177.3,294.3 178.1,294.3 178.9,294.4 179.7,294.5 180.5,294.5 181.4,294.6 182.2,294.7 183.0,294.8 183.8,294.8 184.6,294.9 185.5,295.0 186.3,295.0 187.1,295.1 187.9,295.2 188.7,295.3 189.6,295.3 190.4,295.4 191.2,295.5 192.0,295.5 192.8,295.6 193.7,295.7 194.5,295.7 195.3,295.8 196.1,295.9 196.9,296.0 197.8,296.0 198.6,296.1 199.4,296.2 200.2,296.2 201.0,296.3 201.9,296.4 202.7,296.4 203.5,296.5 204.3,296.6 205.1,296.6 206.0,296.7 206.8,296.8 207.6,296.9 208.4,296.9 209.2,297.0 210.1,297.1 210.9,297.1 211.7,297.2 212.5,297.3 213.3,297.3 214.2,297.4 215.0,297.5 215.8,297.5 216.6,297.6 217.4,297.7 218.3,297.7 219.1,297.8 219.9,297.9 220.7,298.0 221.5,298.0 222.4,298.1 223.2,298.2 224.0,298.2 224.8,298.3 225.6,298.4 226.5,298.4 227.3,298.5 228.1,298.6 228.9,298.6 229.7,298.7 230.6,298.8 231.4,298.8 232.2,298.9 233.0,299.0 233.8,299.0 234.7,299.1 235.5,299.2 236.3,299.2 237.1,299.3 237.9,299.4 238.8,299.5 239.6,299.5 240.4,299.6 241.2,299.7 242.0,299.7 242.9,299.8 243.7,299.9 244.5,299.9 245.3,300.0 246.1,300.1 247.0,300.1 247.8,300.2 248.6,300.3 249.4,300.3 250.2,300.4 251.1,300.5 251.9,300.5 252.7,300.6 253.5,300.7 254.3,300.7 255.2,300.8 256.0,300.9 256.8,300.9 257.6,301.0 258.4,301.1 259.3,301.2 260.1,301.2 260.9,301.3 261.7,301.4 262.5,301.4 263.4,301.5 264.2,301.6 265.0,301.6 265.8,301.7 266.6,301.8 267.5,301.8 268.3,301.9 269.1,302.0 269.9,302.0 270.7,302.1 271.6,302.2 272.4,302.2 273.2,302.3 274.0,302.4 274.8,302.4 275.7,302.5 276.5,302.6 277.3,302.6 278.1,302.7 278.9,302.8 279.8,302.9 280.6,302.9 281.4,303.0 282.2,303.1 283.0,303.1 283.9,303.2 284.7,303.3 285.5,303.3 286.3,303.4 287.1,303.5 288.0,303.5 288.8,303.6 289.6,303.7 290.4,303.7 291.2,303.8 292.1,303.9 292.9,303.9 293.7,304.0 294.5,304.1 295.3,304.1 296.2,304.2 297.0,304.3 297.8,304.3 298.6,304.4 299.4,304.5 300.3,304.6 301.1,304.6 301.9,304.7 302.7,304.8 303.5,304.8 304.4,304.9 305.2,305.0 306.0,305.0 306.8,305.1 307.6,305.2 308.5,305.2 309.3,305.3 310.1,305.4 310.9,305.4 311.7,305.5 312.6,305.6 313.4,305.6 314.2,305.7 315.0,305.8 315.8,305.8 316.7,305.9 317.5,306.0 318.3,306.0 319.1,306.1 319.9,306.2 320.8,306.2 321.6,306.3 322.4,306.4 323.2,306.5 324.0,306.5 324.9,306.6 325.7,306.7 326.5,306.7" fill="none" stroke="rgb(15,28,160)" stroke-width="0.85" stroke-linejoin="round" stroke-linecap="round" />
<polyline points="39.5,440.7 42.2,440.3 44.9,439.9 47.6,440.4 50.3,439.8 53.0,440.6 55.7,439.4 58.4,429.5 61.1,397.1 63.9,338.1 66.6,287.7 69.3,264.3 72.0,258.2 74.7,262.3 77.4,268.1 80.1,272.8 82.8,276.5 85.5,282.7 88.2,289.6 90.9,293.6 93.6,292.7 96.3,291.0 99.0,290.7 101.7,291.0 104.4,294.6 107.1,297.7 109.9,301.6 112.6,303.9 115.3,303.5 118.0,302.9 120.7,302.0 123.4,301.0 126.1,302.0 128.8,303.3 131.5,306.1 134.2,307.2 136.9,307.6 139.6,305.9 142.3,305.6 145.0,306.0 147.7,305.9 150.4,307.0 153.2,309.2 155.9,308.6 158.6,309.0 161.3,309.0 164.0,308.7 166.7,307.5 169.4,308.0 172.1,308.4 174.8,310.6 177.5,310.8 180.2,310.2 182.9,311.2 185.6,310.9 188.3,311.5 191.0,309.8 193.7,310.6 196.4,311.4 199.2,311.9 201.9,312.4 204.6,312.5 207.3,312.0 210.0,312.8 212.7,312.0 215.4,313.1 218.1,313.7 220.8,312.9 223.5,313.8 226.2,313.6 228.9,314.2 231.6,315.3 234.3,314.0 237.0,315.3 239.7,314.3 242.4,315.9 245.2,316.3 247.9,315.4 250.6,315.5 253.3,315.8 256.0,316.6 258.7,315.8 261.4,317.2 264.1,317.0 266.8,317.4 269.5,317.3 272.2,316.9 274.9,317.8 277.6,317.4 280.3,317.6 283.0,319.0 285.7,319.0 288.5,318.8 291.2,319.1 293.9,318.8 296.6,320.1 299.3,319.0 302.0,319.2 304.7,319.9 307.4,320.7 310.1,320.2 312.8,320.7 315.5,320.3 318.2,320.9 320.9,320.6 323.6,321.4 326.3,320.7" fill="none" stroke="rgb(34,56,204)" stroke-width="1.1" stroke-linejoin="round" stroke-linecap="round" />
<polyline points="39.5,440.3 40.3,440.3 41.1,440.3 42.0,440.3 42.8,440.3 43.6,440.3 44.4,440.3 45.2,440.3 46.1,440.3 46.9,440.3 47.7,440.3 48.5,440.3 49.3,440.3 50.2,440.3 51.0,440.3 51.8,440.3 52.6,440.2 53.4,440.1 54.3,439.9 55.1,439.5 55.9,438.6 56.7,437.1 57.5,434.4 58.4,430.1 59.2,423.6 60.0,414.4 60.8,402.4 61.6,387.6 62.5,370.6 63.3,352.1 64.1,333.4 64.9,315.7 65.7,300.0 66.6,287.0 67.4,276.9 68.2,269.5 69.0,264.5 69.8,261.3 70.7,259.5 71.5,258.5 72.3,257.9 73.1,258.7 73.9,260.6 74.8,262.5 75.6,264.3 76.4,266.1 77.2,267.8 78.0,269.4 78.9,271.0 79.7,272.4 80.5,273.9 81.3,275.2 82.1,276.5 83.0,277.8 83.8,279.0 84.6,280.1 85.4,281.2 86.2,282.2 87.1,283.2 87.9,284.2 88.7,285.1 89.5,286.0 90.3,286.8 91.2,287.7 92.0,288.4 92.8,289.2 93.6,289.9 94.4,290.6 95.3,291.2 96.1,291.9 96.9,292.5 97.7,293.0 98.5,293.6 99.4,294.1 100.2,294.6 101.0,295.1 101.8,295.6 102.6,296.1 103.5,296.5 104.3,296.9 105.1,297.3 105.9,297.7 106.7,298.1 107.6,298.5 108.4,298.8 109.2,299.1 110.0,299.5 110.8,299.8 111.7,300.1 112.5,300.4 113.3,300.6 114.1,300.9 114.9,301.2 115.8,301.4 116.6,301.7 117.4,301.9 118.2,302.1 119.0,302.3 119.9,302.6 120.7,302.8 121.5,303.0 122.3,303.2 123.1,303.3 124.0,303.5 124.8,303.7 125.6,303.9 126.4,304.0 127.2,304.2 128.1,304.4 128.9,304.5 129.7,304.7 130.5,304.8 131.3,304.9 132.2,305.1 133.0,305.2 133.8,305.3 134.6,305.5 135.4,305.6 136.3,305.7 137.1,305.8 137.9,306.0 138.7,306.1 139.5,306.2 140.4,306.3 141.2,306.4 142.0,306.5 142.8,306.6 143.6,306.7 144.5,306.8 145.3,306.9 146.1,307.0 146.9,307.1 147.7,307.2 148.6,307.3 149.4,307.4 150.2,307.5 151.0,307.6 151.8,307.6 152.7,307.7 153.5,307.8 154.3,307.9 155.1,308.0 155.9,308.1 156.8,308.1 157.6,308.2 158.4,308.3 159.2,308.4 160.0,308.5 160.9,308.5 161.7,308.6 162.5,308.7 163.3,308.8 164.1,308.8 165.0,308.9 165.8,309.0 166.6,309.1 167.4,309.1 168.2,309.2 169.1,309.3 169.9,309.4 170.7,309.4 171.5,309.5 172.3,309.6 173.2,309.6 174.0,309.7 174.8,309.8 175.6,309.8 176.4,309.9 177.3,310.0 178.1,310.0 178.9,310.1 179.7,310.2 180.5,310.3 181.4,310.3 182.2,310.4 183.0,310.5 183.8,310.5 184.6,310.6 185.5,310.6 186.3,310.7 187.1,310.8 187.9,310.8 188.7,310.9 189.6,311.0 190.4,311.0 191.2,311.1 192.0,311.2 192.8,311.2 193.7,311.3 194.5,311.4 195.3,311.4 196.1,311.5 196.9,311.6 197.8,311.6 198.6,311.7 199.4,311.8 200.2,311.8 201.0,311.9 201.9,311.9 202.7,312.0 203.5,312.1 204.3,312.1 205.1,312.2 206.0,312.3 206.8,312.3 207.6,312.4 208.4,312.5 209.2,312.5 210.1,312.6 210.9,312.6 211.7,312.7 212.5,312.8 213.3,312.8 214.2,312.9 215.0,313.0 215.8,313.0 216.6,313.1 217.4,313.1 218.3,313.2 219.1,313.3 219.9,313.3 220.7,313.4 221.5,313.5 222.4,313.5 223.2,313.6 224.0,313.6 224.8,313.7 225.6,313.8 226.5,313.8 227.3,313.9 228.1,314.0 228.9,314.0 229.7,314.1 230.6,314.1 231.4,314.2 232.2,314.3 233.0,314.3 233.8,314.4 234.7,314.5 235.5,314.5 236.3,314.6 237.1,314.6 237.9,314.7 238.8,314.8 239.6,314.8 240.4,314.9 241.2,315.0 242.0,315.0 242.9,315.1 243.7,315.1 244.5,315.2 245.3,315.3 246.1,315.3 247.0,315.4 247.8,315.5 248.6,315.5 249.4,315.6 250.2,315.6 251.1,315.7 251.9,315.8 252.7,315.8 253.5,315.9 254.3,316.0 255.2,316.0 256.0,316.1 256.8,316.1 257.6,316.2 258.4,316.3 259.3,316.3 260.1,316.4 260.9,316.5 261.7,316.5 262.5,316.6 263.4,316.6 264.2,316.7 265.0,316.8 265.8,316.8 266.6,316.9 267.5,317.0 268.3,317.0 269.1,317.1 269.9,317.1 270.7,317.2 271.6,317.3 272.4,317.3 273.2,317.4 274.0,317.5 274.8,317.5 275.7,317.6 276.5,317.6 277.3,317.7 278.1,317.8 278.9,317.8 279.8,317.9 280.6,318.0 281.4,318.0 282.2,318.1 283.0,318.1 283.9,318.2 284.7,318.3 285.5,318.3 286.3,318.4 287.1,318.5 288.0,318.5 288.8,318.6 289.6,318.6 290.4,318.7 291.2,318.8 292.1,318.8 292.9,318.9 293.7,318.9 294.5,319.0 295.3,319.1 296.2,319.1 297.0,319.2 297.8,319.3 298.6,319.3 299.4,319.4 300.3,319.4 301.1,319.5 301.9,319.6 302.7,319.6 303.5,319.7 304.4,319.8 305.2,319.8 306.0,319.9 306.8,319.9 307.6,320.0 308.5,320.1 309.3,320.1 310.1,320.2 310.9,320.3 311.7,320.3 312.6,320.4 313.4,320.4 314.2,320.5 315.0,320.6 315.8,320.6 316.7,320.7 317.5,320.8 318.3,320.8 319.1,320.9 319.9,320.9 320.8,321.0 321.6,321.1 322.4,321.1 323.2,321.2 324.0,321.3 324.9,321.3 325.7,321.4 326.5,321.4" fill="none" stroke="rgb(24,40,153)" stroke-width="0.85" stroke-linejoin="round" stroke-linecap="round" />
<polyline points="39.5,440.1 42.2,440.0 44.9,440.2 47.6,440.4 50.3,440.2 53.0,440.4 55.7,439.3 58.4,428.0 61.1,396.6 63.9,340.3 66.6,292.0 69.3,270.9 72.0,266.1 74.7,271.1 77.4,278.4 80.1,284.3 82.8,289.1 85.5,294.2 88.2,301.5 90.9,305.9 93.6,307.2 96.3,304.0 99.0,304.0 101.7,305.6 104.4,308.7 107.1,313.2 109.9,316.8 112.6,318.2 115.3,318.1 118.0,317.2 120.7,316.8 123.4,316.3 126.1,317.1 128.8,319.6 131.5,321.2 134.2,323.2 136.9,322.3 139.6,321.6 142.3,321.6 145.0,321.7 147.7,321.2 150.4,322.9 153.2,323.3 155.9,324.4 158.6,324.0 161.3,324.2 164.0,324.5 166.7,323.7 169.4,324.2 172.1,324.3 174.8,325.5 177.5,325.9 180.2,325.5 182.9,325.3 185.6,325.4 188.3,325.3 191.0,325.8 193.7,326.0 196.4,326.4 199.2,327.1 201.9,327.4 204.6,327.5 207.3,326.4 210.0,327.7 212.7,328.0 215.4,328.3 218.1,328.5 220.8,328.7 223.5,329.6 226.2,330.2 228.9,329.1 231.6,330.2 234.3,329.5 237.0,329.8 239.7,329.5 242.4,329.5 245.2,330.4 247.9,331.1 250.6,331.6 253.3,331.5 256.0,331.3 258.7,332.6 261.4,331.7 264.1,332.0 266.8,331.9 269.5,332.6 272.2,332.6 274.9,333.2 277.6,333.2 280.3,334.1 283.0,333.4 285.7,332.9 288.5,333.8 291.2,333.9 293.9,334.8 296.6,333.7 299.3,335.0 302.0,334.4 304.7,335.0 307.4,335.8 310.1,335.0 312.8,335.7 315.5,335.8 318.2,335.9 320.9,336.3 323.6,336.7 326.3,336.5" fill="none" stroke="rgb(38,44,190)" stroke-width="1.1" stroke-linejoin="round" stroke-linecap="round" />
<polyline points="39.5,440.3 40.3,440.3 41.1,440.3 42.0,440.3 42.8,440.3 43.6,440.3 44.4,440.3 45.2,440.3 46.1,440.3 46.9,440.3 47.7,440.3 48.5,440.3 49.3,440.3 50.2,440.3 51.0,440.3 51.8,440.3 52.6,440.2 53.4,440.1 54.3,439.9 55.1,439.4 55.9,438.5 56.7,436.8 57.5,433.9 58.4,429.4 59.2,422.7 60.0,413.5 60.8,401.4 61.6,386.8 62.5,370.2 63.3,352.4 64.1,334.7 64.9,318.2 65.7,303.7 66.6,291.8 67.4,282.8 68.2,276.3 69.0,271.9 69.8,269.2 70.7,267.6 71.5,266.7 72.3,266.3 73.1,267.4 73.9,269.6 74.8,271.8 75.6,273.9 76.4,275.9 77.2,277.9 78.0,279.8 78.9,281.5 79.7,283.2 80.5,284.9 81.3,286.4 82.1,287.9 83.0,289.4 83.8,290.7 84.6,292.0 85.4,293.3 86.2,294.5 87.1,295.6 87.9,296.7 88.7,297.8 89.5,298.8 90.3,299.8 91.2,300.7 92.0,301.6 92.8,302.4 93.6,303.2 94.4,304.0 95.3,304.8 96.1,305.5 96.9,306.2 97.7,306.8 98.5,307.4 99.4,308.0 100.2,308.6 101.0,309.2 101.8,309.7 102.6,310.2 103.5,310.7 104.3,311.2 105.1,311.6 105.9,312.1 106.7,312.5 107.6,312.9 108.4,313.3 109.2,313.7 110.0,314.0 110.8,314.4 111.7,314.7 112.5,315.0 113.3,315.3 114.1,315.6 114.9,315.9 115.8,316.2 116.6,316.5 117.4,316.7 118.2,317.0 119.0,317.2 119.9,317.4 120.7,317.7 121.5,317.9 122.3,318.1 123.1,318.3 124.0,318.5 124.8,318.7 125.6,318.9 126.4,319.0 127.2,319.2 128.1,319.4 128.9,319.6 129.7,319.7 130.5,319.9 131.3,320.0 132.2,320.2 133.0,320.3 133.8,320.5 134.6,320.6 135.4,320.7 136.3,320.9 137.1,321.0 137.9,321.1 138.7,321.2 139.5,321.3 140.4,321.5 141.2,321.6 142.0,321.7 142.8,321.8 143.6,321.9 144.5,322.0 145.3,322.1 146.1,322.2 146.9,322.3 147.7,322.4 148.6,322.5 149.4,322.6 150.2,322.7 151.0,322.8 151.8,322.9 152.7,323.0 153.5,323.0 154.3,323.1 155.1,323.2 155.9,323.3 156.8,323.4 157.6,323.5 158.4,323.6 159.2,323.6 160.0,323.7 160.9,323.8 161.7,323.9 162.5,323.9 163.3,324.0 164.1,324.1 165.0,324.2 165.8,324.3 166.6,324.3 167.4,324.4 168.2,324.5 169.1,324.5 169.9,324.6 170.7,324.7 171.5,324.8 172.3,324.8 173.2,324.9 174.0,325.0 174.8,325.0 175.6,325.1 176.4,325.2 177.3,325.3 178.1,325.3 178.9,325.4 179.7,325.5 180.5,325.5 181.4,325.6 182.2,325.7 183.0,325.7 183.8,325.8 184.6,325.9 185.5,325.9 186.3,326.0 187.1,326.1 187.9,326.1 188.7,326.2 189.6,326.3 190.4,326.3 191.2,326.4 192.0,326.5 192.8,326.5 193.7,326.6 194.5,326.6 195.3,326.7 196.1,326.8 196.9,326.8 197.8,326.9 198.6,327.0 199.4,327.0 200.2,327.1 201.0,327.2 201.9,327.2 202.7,327.3 203.5,327.4 204.3,327.4 205.1,327.5 206.0,327.5 206.8,327.6 207.6,327.7 208.4,327.7 209.2,327.8 210.1,327.9 210.9,327.9 211.7,328.0 212.5,328.0 213.3,328.1 214.2,328.2 215.0,328.2 215.8,328.3 216.6,328.4 217.4,328.4 218.3,328.5 219.1,328.6 219.9,328.6 220.7,328.7 221.5,328.7 222.4,328.8 223.2,328.9 224.0,328.9 224.8,329.0 225.6,329.1 226.5,329.1 227.3,329.2 228.1,329.2 228.9,329.3 229.7,329.4 230.6,329.4 231.4,329.5 232.2,329.6 233.0,329.6 233.8,329.7 234.7,329.7 235.5,329.8 236.3,329.9 237.1,329.9 237.9,330.0 238.8,330.1 239.6,330.1 240.4,330.2 241.2,330.2 242.0,330.3 242.9,330.4 243.7,330.4 244.5,330.5 245.3,330.6 246.1,330.6 247.0,330.7 247.8,330.7 248.6,330.8 249.4,330.9 250.2,330.9 251.1,331.0 251.9,331.1 252.7,331.1 253.5,331.2 254.3,331.2 255.2,331.3 256.0,331.4 256.8,331.4 257.6,331.5 258.4,331.6 259.3,331.6 260.1,331.7 260.9,331.7 261.7,331.8 262.5,331.9 263.4,331.9 264.2,332.0 265.0,332.1 265.8,332.1 266.6,332.2 267.5,332.2 268.3,332.3 269.1,332.4 269.9,332.4 270.7,332.5 271.6,332.5 272.4,332.6 273.2,332.7 274.0,332.7 274.8,332.8 275.7,332.9 276.5,332.9 277.3,333.0 278.1,333.0 278.9,333.1 279.8,333.2 280.6,333.2 281.4,333.3 282.2,333.4 283.0,333.4 283.9,333.5 284.7,333.5 285.5,333.6 286.3,333.7 287.1,333.7 288.0,333.8 288.8,333.9 289.6,333.9 290.4,334.0 291.2,334.0 292.1,334.1 292.9,334.2 293.7,334.2 294.5,334.3 295.3,334.4 296.2,334.4 297.0,334.5 297.8,334.5 298.6,334.6 299.4,334.7 300.3,334.7 301.1,334.8 301.9,334.9 302.7,334.9 303.5,335.0 304.4,335.0 305.2,335.1 306.0,335.2 306.8,335.2 307.6,335.3 308.5,335.4 309.3,335.4 310.1,335.5 310.9,335.5 311.7,335.6 312.6,335.7 313.4,335.7 314.2,335.8 315.0,335.9 315.8,335.9 316.7,336.0 317.5,336.0 318.3,336.1 319.1,336.2 319.9,336.2 320.8,336.3 321.6,336.3 322.4,336.4 323.2,336.5 324.0,336.5 324.9,336.6 325.7,336.7 326.5,336.7" fill="none" stroke="rgb(27,31,142)" stroke-width="0.85" stroke-linejoin="round" stroke-linecap="round" />
<polyline points="39.5,439.3 42.2,440.3 44.9,440.0 47.6,440.4 50.3,439.6 53.0,440.3 55.7,438.7 58.4,428.8 61.1,395.8 63.9,341.7 66.6,296.8 69.3,277.5 72.0,274.3 74.7,279.3 77.4,286.9 80.1,293.2 82.8,299.0 85.5,304.0 88.2,312.5 90.9,315.4 93.6,315.1 96.3,314.7 99.0,313.7 101.7,315.8 104.4,319.5 107.1,323.1 109.9,326.5 112.6,327.4 115.3,327.0 118.0,327.3 120.7,326.2 123.4,326.3 126.1,327.7 128.8,330.1 131.5,331.2 134.2,332.1 136.9,332.1 139.6,332.3 142.3,331.1 145.0,331.9 147.7,331.1 150.4,333.1 153.2,333.8 155.9,334.6 158.6,334.8 161.3,334.8 164.0,334.8 166.7,333.0 169.4,334.1 172.1,334.7 174.8,334.4 177.5,336.0 180.2,335.9 182.9,336.1 185.6,335.5 188.3,335.8 191.0,336.1 193.7,336.8 196.4,337.0 199.2,337.0 201.9,338.8 204.6,338.0 207.3,338.1 210.0,338.2 212.7,339.2 215.4,338.1 218.1,339.3 220.8,339.3 223.5,339.7 226.2,340.4 228.9,339.9 231.6,340.8 234.3,340.5 237.0,340.4 239.7,340.6 242.4,340.8 245.2,341.2 247.9,340.2 250.6,341.2 253.3,342.2 256.0,342.1 258.7,342.4 261.4,342.4 264.1,342.8 266.8,343.2 269.5,342.1 272.2,343.1 274.9,343.5 277.6,343.7 280.3,343.9 283.0,343.3 285.7,344.0 288.5,343.9 291.2,346.3 293.9,344.7 296.6,344.5 299.3,344.3 302.0,345.5 304.7,346.6 307.4,345.6 310.1,346.5 312.8,347.3 315.5,346.9 318.2,346.3 320.9,346.4 323.6,346.9 326.3,348.0" fill="none" stroke="rgb(70,46,172)" stroke-width="1.1" stroke-linejoin="round" stroke-linecap="round" />
<polyline points="39.5,440.3 40.3,440.3 41.1,440.3 42.0,440.3 42.8,440.3 43.6,440.3 44.4,440.3 45.2,440.3 46.1,440.3 46.9,440.3 47.7,440.3 48.5,440.3 49.3,440.3 50.2,440.3 51.0,440.3 51.8,440.3 52.6,440.2 53.4,440.1 54.3,439.8 55.1,439.3 55.9,438.3 56.7,436.5 57.5,433.5 58.4,428.8 59.2,421.9 60.0,412.6 60.8,400.6 61.6,386.2 62.5,370.1 63.3,353.1 64.1,336.4 64.9,321.0 65.7,307.7 66.6,297.0 67.4,288.9 68.2,283.2 69.0,279.4 69.8,277.1 70.7,275.8 71.5,275.1 72.3,274.8 73.1,275.9 73.9,278.2 74.8,280.5 75.6,282.7 76.4,284.8 77.2,286.8 78.0,288.7 78.9,290.6 79.7,292.3 80.5,294.0 81.3,295.6 82.1,297.2 83.0,298.7 83.8,300.1 84.6,301.4 85.4,302.7 86.2,304.0 87.1,305.1 87.9,306.3 88.7,307.3 89.5,308.4 90.3,309.4 91.2,310.3 92.0,311.2 92.8,312.1 93.6,312.9 94.4,313.7 95.3,314.5 96.1,315.2 96.9,315.9 97.7,316.6 98.5,317.2 99.4,317.9 100.2,318.5 101.0,319.0 101.8,319.6 102.6,320.1 103.5,320.6 104.3,321.1 105.1,321.6 105.9,322.0 106.7,322.4 107.6,322.8 108.4,323.2 109.2,323.6 110.0,324.0 110.8,324.3 111.7,324.7 112.5,325.0 113.3,325.3 114.1,325.6 114.9,325.9 115.8,326.2 116.6,326.5 117.4,326.7 118.2,327.0 119.0,327.2 119.9,327.5 120.7,327.7 121.5,327.9 122.3,328.1 123.1,328.3 124.0,328.5 124.8,328.7 125.6,328.9 126.4,329.1 127.2,329.3 128.1,329.5 128.9,329.6 129.7,329.8 130.5,330.0 131.3,330.1 132.2,330.3 133.0,330.4 133.8,330.6 134.6,330.7 135.4,330.8 136.3,331.0 137.1,331.1 137.9,331.2 138.7,331.3 139.5,331.5 140.4,331.6 141.2,331.7 142.0,331.8 142.8,331.9 143.6,332.0 144.5,332.1 145.3,332.2 146.1,332.3 146.9,332.5 147.7,332.6 148.6,332.7 149.4,332.7 150.2,332.8 151.0,332.9 151.8,333.0 152.7,333.1 153.5,333.2 154.3,333.3 155.1,333.4 155.9,333.5 156.8,333.6 157.6,333.6 158.4,333.7 159.2,333.8 160.0,333.9 160.9,334.0 161.7,334.1 162.5,334.1 163.3,334.2 164.1,334.3 165.0,334.4 165.8,334.5 166.6,334.5 167.4,334.6 168.2,334.7 169.1,334.8 169.9,334.8 170.7,334.9 171.5,335.0 172.3,335.1 173.2,335.1 174.0,335.2 174.8,335.3 175.6,335.3 176.4,335.4 177.3,335.5 178.1,335.6 178.9,335.6 179.7,335.7 180.5,335.8 181.4,335.8 182.2,335.9 183.0,336.0 183.8,336.1 184.6,336.1 185.5,336.2 186.3,336.3 187.1,336.3 187.9,336.4 188.7,336.5 189.6,336.5 190.4,336.6 191.2,336.7 192.0,336.7 192.8,336.8 193.7,336.9 194.5,336.9 195.3,337.0 196.1,337.1 196.9,337.1 197.8,337.2 198.6,337.3 199.4,337.3 200.2,337.4 201.0,337.5 201.9,337.5 202.7,337.6 203.5,337.7 204.3,337.7 205.1,337.8 206.0,337.9 206.8,337.9 207.6,338.0 208.4,338.1 209.2,338.1 210.1,338.2 210.9,338.3 211.7,338.3 212.5,338.4 213.3,338.5 214.2,338.5 215.0,338.6 215.8,338.7 216.6,338.7 217.4,338.8 218.3,338.9 219.1,338.9 219.9,339.0 220.7,339.1 221.5,339.1 222.4,339.2 223.2,339.3 224.0,339.3 224.8,339.4 225.6,339.5 226.5,339.5 227.3,339.6 228.1,339.7 228.9,339.7 229.7,339.8 230.6,339.9 231.4,339.9 232.2,340.0 233.0,340.1 233.8,340.1 234.7,340.2 235.5,340.2 236.3,340.3 237.1,340.4 237.9,340.4 238.8,340.5 239.6,340.6 240.4,340.6 241.2,340.7 242.0,340.8 242.9,340.8 243.7,340.9 244.5,341.0 245.3,341.0 246.1,341.1 247.0,341.2 247.8,341.2 248.6,341.3 249.4,341.4 250.2,341.4 251.1,341.5 251.9,341.6 252.7,341.6 253.5,341.7 254.3,341.7 255.2,341.8 256.0,341.9 256.8,341.9 257.6,342.0 258.4,342.1 259.3,342.1 260.1,342.2 260.9,342.3 261.7,342.3 262.5,342.4 263.4,342.5 264.2,342.5 265.0,342.6 265.8,342.7 266.6,342.7 267.5,342.8 268.3,342.9 269.1,342.9 269.9,343.0 270.7,343.0 271.6,343.1 272.4,343.2 273.2,343.2 274.0,343.3 274.8,343.4 275.7,343.4 276.5,343.5 277.3,343.6 278.1,343.6 278.9,343.7 279.8,343.8 280.6,343.8 281.4,343.9 282.2,344.0 283.0,344.0 283.9,344.1 284.7,344.2 285.5,344.2 286.3,344.3 287.1,344.4 288.0,344.4 288.8,344.5 289.6,344.5 290.4,344.6 291.2,344.7 292.1,344.7 292.9,344.8 293.7,344.9 294.5,344.9 295.3,345.0 296.2,345.1 297.0,345.1 297.8,345.2 298.6,345.3 299.4,345.3 300.3,345.4 301.1,345.5 301.9,345.5 302.7,345.6 303.5,345.7 304.4,345.7 305.2,345.8 306.0,345.8 306.8,345.9 307.6,346.0 308.5,346.0 309.3,346.1 310.1,346.2 310.9,346.2 311.7,346.3 312.6,346.4 313.4,346.4 314.2,346.5 315.0,346.6 315.8,346.6 316.7,346.7 317.5,346.8 318.3,346.8 319.1,346.9 319.9,347.0 320.8,347.0 321.6,347.1 322.4,347.2 323.2,347.2 324.0,347.3 324.9,347.3 325.7,347.4 326.5,347.5" fill="none" stroke="rgb(50,33,129)" stroke-width="0.85" stroke-linejoin="round" stroke-linecap="round" />
<polyline points="39.5,440.1 42.2,439.7 44.9,440.2 47.6,439.5 50.3,440.1 53.0,440.2 55.7,438.5 58.4,427.7 61.1,393.8 63.9,342.4 66.6,302.5 69.3,285.0 72.0,283.3 74.7,288.3 77.4,296.1 80.1,302.1 82.8,308.2 85.5,313.9 88.2,322.1 90.9,325.7 93.6,326.8 96.3,325.1 99.0,326.1 101.7,326.5 104.4,330.2 107.1,334.5 109.9,338.3 112.6,339.6 115.3,340.6 118.0,339.6 120.7,337.6 123.4,338.9 126.1,338.7 128.8,341.6 131.5,343.1 134.2,344.2 136.9,344.0 139.6,343.8 142.3,343.2 145.0,343.0 147.7,343.0 150.4,344.0 153.2,344.9 155.9,346.0 158.6,346.5 161.3,346.9 164.0,345.4 166.7,345.3 169.4,346.2 172.1,346.2 174.8,346.6 177.5,347.7 180.2,347.4 182.9,347.7 185.6,348.6 188.3,348.0 191.0,348.2 193.7,348.1 196.4,349.2 199.2,349.4 201.9,349.9 204.6,349.5 207.3,349.4 210.0,349.1 212.7,349.3 215.4,349.9 218.1,350.2 220.8,350.6 223.5,350.8 226.2,350.2 228.9,352.4 231.6,351.3 234.3,351.2 237.0,351.1 239.7,352.5 242.4,352.0 245.2,351.9 247.9,352.8 250.6,353.7 253.3,353.0 256.0,353.6 258.7,352.9 261.4,353.9 264.1,352.8 266.8,353.8 269.5,354.5 272.2,354.5 274.9,355.0 277.6,354.4 280.3,354.1 283.0,355.1 285.7,354.8 288.5,355.9 291.2,355.5 293.9,354.7 296.6,356.7 299.3,355.6 302.0,355.8 304.7,357.6 307.4,357.5 310.1,357.5 312.8,356.7 315.5,357.6 318.2,357.7 320.9,357.4 323.6,357.9 326.3,358.1" fill="none" stroke="rgb(104,40,168)" stroke-width="1.1" stroke-linejoin="round" stroke-linecap="round" />
<polyline points="39.5,440.3 40.3,440.3 41.1,440.3 42.0,440.3 42.8,440.3 43.6,440.3 44.4,440.3 45.2,440.3 46.1,440.3 46.9,440.3 47.7,440.3 48.5,440.3 49.3,440.3 50.2,440.3 51.0,440.3 51.8,440.3 52.6,440.2 53.4,440.1 54.3,439.8 55.1,439.2 55.9,438.1 56.7,436.2 57.5,433.0 58.4,428.2 59.2,421.2 60.0,411.7 60.8,399.8 61.6,385.7 62.5,370.1 63.3,353.9 64.1,338.1 64.9,323.8 65.7,311.7 66.6,302.0 67.4,294.8 68.2,289.8 69.0,286.5 69.8,284.5 70.7,283.4 71.5,282.9 72.3,282.6 73.1,283.9 73.9,286.4 74.8,288.9 75.6,291.3 76.4,293.6 77.2,295.8 78.0,297.9 78.9,300.0 79.7,301.9 80.5,303.7 81.3,305.5 82.1,307.1 83.0,308.7 83.8,310.2 84.6,311.7 85.4,313.1 86.2,314.4 87.1,315.7 87.9,316.9 88.7,318.1 89.5,319.2 90.3,320.3 91.2,321.3 92.0,322.3 92.8,323.2 93.6,324.1 94.4,325.0 95.3,325.8 96.1,326.6 96.9,327.3 97.7,328.0 98.5,328.7 99.4,329.4 100.2,330.0 101.0,330.6 101.8,331.2 102.6,331.7 103.5,332.3 104.3,332.8 105.1,333.3 105.9,333.7 106.7,334.2 107.6,334.6 108.4,335.0 109.2,335.4 110.0,335.8 110.8,336.2 111.7,336.5 112.5,336.9 113.3,337.2 114.1,337.5 114.9,337.8 115.8,338.1 116.6,338.4 117.4,338.7 118.2,338.9 119.0,339.2 119.9,339.4 120.7,339.7 121.5,339.9 122.3,340.1 123.1,340.3 124.0,340.5 124.8,340.7 125.6,340.9 126.4,341.1 127.2,341.3 128.1,341.5 128.9,341.6 129.7,341.8 130.5,342.0 131.3,342.1 132.2,342.3 133.0,342.4 133.8,342.6 134.6,342.7 135.4,342.8 136.3,343.0 137.1,343.1 137.9,343.2 138.7,343.3 139.5,343.5 140.4,343.6 141.2,343.7 142.0,343.8 142.8,343.9 143.6,344.0 144.5,344.1 145.3,344.2 146.1,344.3 146.9,344.4 147.7,344.5 148.6,344.6 149.4,344.7 150.2,344.8 151.0,344.9 151.8,345.0 152.7,345.1 153.5,345.1 154.3,345.2 155.1,345.3 155.9,345.4 156.8,345.5 157.6,345.6 158.4,345.6 159.2,345.7 160.0,345.8 160.9,345.9 161.7,345.9 162.5,346.0 163.3,346.1 164.1,346.2 165.0,346.2 165.8,346.3 166.6,346.4 167.4,346.5 168.2,346.5 169.1,346.6 169.9,346.7 170.7,346.7 171.5,346.8 172.3,346.9 173.2,346.9 174.0,347.0 174.8,347.1 175.6,347.1 176.4,347.2 177.3,347.3 178.1,347.3 178.9,347.4 179.7,347.5 180.5,347.5 181.4,347.6 182.2,347.7 183.0,347.7 183.8,347.8 184.6,347.9 185.5,347.9 186.3,348.0 187.1,348.0 187.9,348.1 188.7,348.2 189.6,348.2 190.4,348.3 191.2,348.4 192.0,348.4 192.8,348.5 193.7,348.5 194.5,348.6 195.3,348.7 196.1,348.7 196.9,348.8 197.8,348.9 198.6,348.9 199.4,349.0 200.2,349.0 201.0,349.1 201.9,349.2 202.7,349.2 203.5,349.3 204.3,349.3 205.1,349.4 206.0,349.5 206.8,349.5 207.6,349.6 208.4,349.6 209.2,349.7 210.1,349.8 210.9,349.8 211.7,349.9 212.5,350.0 213.3,350.0 214.2,350.1 215.0,350.1 215.8,350.2 216.6,350.3 217.4,350.3 218.3,350.4 219.1,350.4 219.9,350.5 220.7,350.6 221.5,350.6 222.4,350.7 223.2,350.7 224.0,350.8 224.8,350.9 225.6,350.9 226.5,351.0 227.3,351.0 228.1,351.1 228.9,351.2 229.7,351.2 230.6,351.3 231.4,351.3 232.2,351.4 233.0,351.4 233.8,351.5 234.7,351.6 235.5,351.6 236.3,351.7 237.1,351.7 237.9,351.8 238.8,351.9 239.6,351.9 240.4,352.0 241.2,352.0 242.0,352.1 242.9,352.2 243.7,352.2 244.5,352.3 245.3,352.3 246.1,352.4 247.0,352.5 247.8,352.5 248.6,352.6 249.4,352.6 250.2,352.7 251.1,352.8 251.9,352.8 252.7,352.9 253.5,352.9 254.3,353.0 255.2,353.1 256.0,353.1 256.8,353.2 257.6,353.2 258.4,353.3 259.3,353.4 260.1,353.4 260.9,353.5 261.7,353.5 262.5,353.6 263.4,353.7 264.2,353.7 265.0,353.8 265.8,353.8 266.6,353.9 267.5,354.0 268.3,354.0 269.1,354.1 269.9,354.1 270.7,354.2 271.6,354.2 272.4,354.3 273.2,354.4 274.0,354.4 274.8,354.5 275.7,354.5 276.5,354.6 277.3,354.7 278.1,354.7 278.9,354.8 279.8,354.8 280.6,354.9 281.4,355.0 282.2,355.0 283.0,355.1 283.9,355.1 284.7,355.2 285.5,355.3 286.3,355.3 287.1,355.4 288.0,355.4 288.8,355.5 289.6,355.6 290.4,355.6 291.2,355.7 292.1,355.7 292.9,355.8 293.7,355.9 294.5,355.9 295.3,356.0 296.2,356.0 297.0,356.1 297.8,356.1 298.6,356.2 299.4,356.3 300.3,356.3 301.1,356.4 301.9,356.4 302.7,356.5 303.5,356.6 304.4,356.6 305.2,356.7 306.0,356.7 306.8,356.8 307.6,356.9 308.5,356.9 309.3,357.0 310.1,357.0 310.9,357.1 311.7,357.2 312.6,357.2 313.4,357.3 314.2,357.3 315.0,357.4 315.8,357.5 316.7,357.5 317.5,357.6 318.3,357.6 319.1,357.7 319.9,357.8 320.8,357.8 321.6,357.9 322.4,357.9 323.2,358.0 324.0,358.1 324.9,358.1 325.7,358.2 326.5,358.2" fill="none" stroke="rgb(74,28,126)" stroke-width="0.85" stroke-linejoin="round" stroke-linecap="round" />
<polyline points="39.5,440.3 42.2,439.9 44.9,439.8 47.6,440.1 50.3,440.3 53.0,439.9 55.7,438.5 58.4,426.7 61.1,393.8 63.9,344.5 66.6,307.8 69.3,293.6 72.0,291.0 74.7,296.8 77.4,304.4 80.1,311.1 82.8,317.7 85.5,323.7 88.2,332.3 90.9,336.9 93.6,337.1 96.3,336.2 99.0,336.3 101.7,337.9 104.4,340.0 107.1,344.9 109.9,348.8 112.6,348.6 115.3,349.7 118.0,348.9 120.7,347.6 123.4,348.4 126.1,348.5 128.8,352.1 131.5,353.8 134.2,354.1 136.9,354.5 139.6,352.7 142.3,353.7 145.0,353.1 147.7,353.2 150.4,354.0 153.2,354.8 155.9,355.8 158.6,354.9 161.3,356.0 164.0,355.4 166.7,354.9 169.4,355.8 172.1,356.4 174.8,357.1 177.5,357.6 180.2,358.0 182.9,357.7 185.6,358.1 188.3,357.1 191.0,358.3 193.7,356.8 196.4,357.4 199.2,358.0 201.9,358.9 204.6,359.1 207.3,358.2 210.0,358.8 212.7,358.8 215.4,359.7 218.1,359.1 220.8,360.3 223.5,360.1 226.2,361.1 228.9,360.7 231.6,360.2 234.3,360.8 237.0,361.0 239.7,360.7 242.4,361.3 245.2,360.9 247.9,362.9 250.6,361.5 253.3,361.6 256.0,362.8 258.7,362.9 261.4,362.0 264.1,363.2 266.8,363.2 269.5,362.7 272.2,363.4 274.9,363.1 277.6,363.9 280.3,363.5 283.0,363.3 285.7,363.9 288.5,365.4 291.2,364.1 293.9,364.6 296.6,365.2 299.3,364.2 302.0,366.0 304.7,364.4 307.4,365.8 310.1,364.9 312.8,365.9 315.5,366.7 318.2,366.2 320.9,366.2 323.6,366.3 326.3,366.2" fill="none" stroke="rgb(132,30,160)" stroke-width="1.1" stroke-linejoin="round" stroke-linecap="round" />
<polyline points="39.5,440.3 40.3,440.3 41.1,440.3 42.0,440.3 42.8,440.3 43.6,440.3 44.4,440.3 45.2,440.3 46.1,440.3 46.9,440.3 47.7,440.3 48.5,440.3 49.3,440.3 50.2,440.3 51.0,440.3 51.8,440.3 52.6,440.2 53.4,440.0 54.3,439.7 55.1,439.1 55.9,437.9 56.7,435.9 57.5,432.6 58.4,427.6 59.2,420.4 60.0,411.0 60.8,399.2 61.6,385.4 62.5,370.4 63.3,355.0 64.1,340.3 64.9,327.1 65.7,316.0 66.6,307.3 67.4,301.0 68.2,296.6 69.0,293.8 69.8,292.1 70.7,291.2 71.5,290.7 72.3,290.5 73.1,291.8 73.9,294.5 74.8,297.2 75.6,299.7 76.4,302.1 77.2,304.4 78.0,306.6 78.9,308.7 79.7,310.7 80.5,312.6 81.3,314.4 82.1,316.1 83.0,317.8 83.8,319.4 84.6,320.9 85.4,322.3 86.2,323.7 87.1,325.0 87.9,326.3 88.7,327.5 89.5,328.7 90.3,329.8 91.2,330.8 92.0,331.8 92.8,332.8 93.6,333.7 94.4,334.6 95.3,335.4 96.1,336.2 96.9,337.0 97.7,337.7 98.5,338.4 99.4,339.1 100.2,339.8 101.0,340.4 101.8,341.0 102.6,341.5 103.5,342.1 104.3,342.6 105.1,343.1 105.9,343.6 106.7,344.0 107.6,344.5 108.4,344.9 109.2,345.3 110.0,345.7 110.8,346.0 111.7,346.4 112.5,346.8 113.3,347.1 114.1,347.4 114.9,347.7 115.8,348.0 116.6,348.3 117.4,348.5 118.2,348.8 119.0,349.1 119.9,349.3 120.7,349.5 121.5,349.8 122.3,350.0 123.1,350.2 124.0,350.4 124.8,350.6 125.6,350.8 126.4,351.0 127.2,351.1 128.1,351.3 128.9,351.5 129.7,351.6 130.5,351.8 131.3,351.9 132.2,352.1 133.0,352.2 133.8,352.4 134.6,352.5 135.4,352.6 136.3,352.8 137.1,352.9 137.9,353.0 138.7,353.1 139.5,353.2 140.4,353.3 141.2,353.4 142.0,353.6 142.8,353.7 143.6,353.8 144.5,353.9 145.3,354.0 146.1,354.0 146.9,354.1 147.7,354.2 148.6,354.3 149.4,354.4 150.2,354.5 151.0,354.6 151.8,354.7 152.7,354.7 153.5,354.8 154.3,354.9 155.1,355.0 155.9,355.1 156.8,355.1 157.6,355.2 158.4,355.3 159.2,355.4 160.0,355.4 160.9,355.5 161.7,355.6 162.5,355.6 163.3,355.7 164.1,355.8 165.0,355.8 165.8,355.9 166.6,356.0 167.4,356.0 168.2,356.1 169.1,356.2 169.9,356.2 170.7,356.3 171.5,356.4 172.3,356.4 173.2,356.5 174.0,356.6 174.8,356.6 175.6,356.7 176.4,356.7 177.3,356.8 178.1,356.9 178.9,356.9 179.7,357.0 180.5,357.0 181.4,357.1 182.2,357.2 183.0,357.2 183.8,357.3 184.6,357.3 185.5,357.4 186.3,357.4 187.1,357.5 187.9,357.6 188.7,357.6 189.6,357.7 190.4,357.7 191.2,357.8 192.0,357.8 192.8,357.9 193.7,358.0 194.5,358.0 195.3,358.1 196.1,358.1 196.9,358.2 197.8,358.2 198.6,358.3 199.4,358.3 200.2,358.4 201.0,358.5 201.9,358.5 202.7,358.6 203.5,358.6 204.3,358.7 205.1,358.7 206.0,358.8 206.8,358.8 207.6,358.9 208.4,359.0 209.2,359.0 210.1,359.1 210.9,359.1 211.7,359.2 212.5,359.2 213.3,359.3 214.2,359.3 215.0,359.4 215.8,359.4 216.6,359.5 217.4,359.6 218.3,359.6 219.1,359.7 219.9,359.7 220.7,359.8 221.5,359.8 222.4,359.9 223.2,359.9 224.0,360.0 224.8,360.0 225.6,360.1 226.5,360.2 227.3,360.2 228.1,360.3 228.9,360.3 229.7,360.4 230.6,360.4 231.4,360.5 232.2,360.5 233.0,360.6 233.8,360.6 234.7,360.7 235.5,360.7 236.3,360.8 237.1,360.9 237.9,360.9 238.8,361.0 239.6,361.0 240.4,361.1 241.2,361.1 242.0,361.2 242.9,361.2 243.7,361.3 244.5,361.3 245.3,361.4 246.1,361.4 247.0,361.5 247.8,361.6 248.6,361.6 249.4,361.7 250.2,361.7 251.1,361.8 251.9,361.8 252.7,361.9 253.5,361.9 254.3,362.0 255.2,362.0 256.0,362.1 256.8,362.1 257.6,362.2 258.4,362.3 259.3,362.3 260.1,362.4 260.9,362.4 261.7,362.5 262.5,362.5 263.4,362.6 264.2,362.6 265.0,362.7 265.8,362.7 266.6,362.8 267.5,362.8 268.3,362.9 269.1,363.0 269.9,363.0 270.7,363.1 271.6,363.1 272.4,363.2 273.2,363.2 274.0,363.3 274.8,363.3 275.7,363.4 276.5,363.4 277.3,363.5 278.1,363.5 278.9,363.6 279.8,363.7 280.6,363.7 281.4,363.8 282.2,363.8 283.0,363.9 283.9,363.9 284.7,364.0 285.5,364.0 286.3,364.1 287.1,364.1 288.0,364.2 288.8,364.2 289.6,364.3 290.4,364.4 291.2,364.4 292.1,364.5 292.9,364.5 293.7,364.6 294.5,364.6 295.3,364.7 296.2,364.7 297.0,364.8 297.8,364.8 298.6,364.9 299.4,364.9 300.3,365.0 301.1,365.1 301.9,365.1 302.7,365.2 303.5,365.2 304.4,365.3 305.2,365.3 306.0,365.4 306.8,365.4 307.6,365.5 308.5,365.5 309.3,365.6 310.1,365.6 310.9,365.7 311.7,365.8 312.6,365.8 313.4,365.9 314.2,365.9 315.0,366.0 315.8,366.0 316.7,366.1 317.5,366.1 318.3,366.2 319.1,366.2 319.9,366.3 320.8,366.3 321.6,366.4 322.4,366.5 323.2,366.5 324.0,366.6 324.9,366.6 325.7,366.7 326.5,366.7" fill="none" stroke="rgb(95,21,120)" stroke-width="0.85" stroke-linejoin="round" stroke-linecap="round" />
<polyline points="39.5,440.2 42.2,439.9 44.9,440.2 47.6,439.8 50.3,439.9 53.0,439.5 55.7,437.6 58.4,426.3 61.1,394.0 63.9,346.1 66.6,312.4 69.3,299.7 72.0,297.9 74.7,304.9 77.4,313.3 80.1,319.5 82.8,325.2 85.5,332.4 88.2,340.0 90.9,343.9 93.6,346.0 96.3,345.0 99.0,345.1 101.7,345.5 104.4,349.3 107.1,353.8 109.9,358.0 112.6,359.0 115.3,358.4 118.0,358.1 120.7,357.3 123.4,356.9 126.1,359.2 128.8,360.5 131.5,362.0 134.2,363.6 136.9,363.7 139.6,362.5 142.3,362.0 145.0,362.0 147.7,362.3 150.4,363.3 153.2,364.9 155.9,365.4 158.6,364.9 161.3,364.3 164.0,363.8 166.7,364.8 169.4,364.1 172.1,364.9 174.8,365.9 177.5,366.1 180.2,366.0 182.9,365.5 185.6,366.8 188.3,365.9 191.0,366.5 193.7,366.9 196.4,366.6 199.2,367.1 201.9,368.2 204.6,367.9 207.3,367.6 210.0,368.5 212.7,367.5 215.4,368.2 218.1,368.4 220.8,368.6 223.5,368.1 226.2,369.1 228.9,369.3 231.6,368.4 234.3,369.6 237.0,369.9 239.7,370.5 242.4,369.5 245.2,370.1 247.9,370.2 250.6,370.4 253.3,370.7 256.0,371.2 258.7,371.4 261.4,371.0 264.1,371.3 266.8,370.7 269.5,372.1 272.2,372.1 274.9,372.5 277.6,371.5 280.3,373.0 283.0,372.1 285.7,372.0 288.5,373.0 291.2,372.7 293.9,374.3 296.6,373.6 299.3,374.4 302.0,373.6 304.7,373.9 307.4,374.4 310.1,373.7 312.8,374.2 315.5,374.8 318.2,375.0 320.9,375.6 323.6,375.1 326.3,374.1" fill="none" stroke="rgb(142,30,130)" stroke-width="1.1" stroke-linejoin="round" stroke-linecap="round" />
<polyline points="39.5,440.3 40.3,440.3 41.1,440.3 42.0,440.3 42.8,440.3 43.6,440.3 44.4,440.3 45.2,440.3 46.1,440.3 46.9,440.3 47.7,440.3 48.5,440.3 49.3,440.3 50.2,440.3 51.0,440.3 51.8,440.2 52.6,440.2 53.4,440.0 54.3,439.6 55.1,439.0 55.9,437.7 56.7,435.5 57.5,432.1 58.4,426.9 59.2,419.7 60.0,410.2 60.8,398.6 61.6,385.2 62.5,370.7 63.3,356.2 64.1,342.4 64.9,330.3 65.7,320.2 66.6,312.4 67.4,306.8 68.2,302.9 69.0,300.5 69.8,299.1 70.7,298.3 71.5,298.0 72.3,297.8 73.1,299.2 73.9,302.1 74.8,304.8 75.6,307.4 76.4,309.9 77.2,312.3 78.0,314.6 78.9,316.8 79.7,318.8 80.5,320.8 81.3,322.7 82.1,324.5 83.0,326.2 83.8,327.9 84.6,329.4 85.4,330.9 86.2,332.3 87.1,333.7 87.9,335.0 88.7,336.2 89.5,337.4 90.3,338.6 91.2,339.6 92.0,340.7 92.8,341.7 93.6,342.6 94.4,343.5 95.3,344.4 96.1,345.2 96.9,346.0 97.7,346.7 98.5,347.5 99.4,348.2 100.2,348.8 101.0,349.4 101.8,350.0 102.6,350.6 103.5,351.2 104.3,351.7 105.1,352.2 105.9,352.7 106.7,353.2 107.6,353.6 108.4,354.0 109.2,354.4 110.0,354.8 110.8,355.2 111.7,355.6 112.5,355.9 113.3,356.2 114.1,356.6 114.9,356.9 115.8,357.2 116.6,357.5 117.4,357.7 118.2,358.0 119.0,358.2 119.9,358.5 120.7,358.7 121.5,358.9 122.3,359.2 123.1,359.4 124.0,359.6 124.8,359.8 125.6,359.9 126.4,360.1 127.2,360.3 128.1,360.5 128.9,360.6 129.7,360.8 130.5,361.0 131.3,361.1 132.2,361.2 133.0,361.4 133.8,361.5 134.6,361.7 135.4,361.8 136.3,361.9 137.1,362.0 137.9,362.1 138.7,362.3 139.5,362.4 140.4,362.5 141.2,362.6 142.0,362.7 142.8,362.8 143.6,362.9 144.5,363.0 145.3,363.1 146.1,363.2 146.9,363.3 147.7,363.3 148.6,363.4 149.4,363.5 150.2,363.6 151.0,363.7 151.8,363.8 152.7,363.8 153.5,363.9 154.3,364.0 155.1,364.1 155.9,364.1 156.8,364.2 157.6,364.3 158.4,364.4 159.2,364.4 160.0,364.5 160.9,364.6 161.7,364.6 162.5,364.7 163.3,364.8 164.1,364.8 165.0,364.9 165.8,365.0 166.6,365.0 167.4,365.1 168.2,365.2 169.1,365.2 169.9,365.3 170.7,365.3 171.5,365.4 172.3,365.5 173.2,365.5 174.0,365.6 174.8,365.6 175.6,365.7 176.4,365.7 177.3,365.8 178.1,365.9 178.9,365.9 179.7,366.0 180.5,366.0 181.4,366.1 182.2,366.1 183.0,366.2 183.8,366.3 184.6,366.3 185.5,366.4 186.3,366.4 187.1,366.5 187.9,366.5 188.7,366.6 189.6,366.6 190.4,366.7 191.2,366.7 192.0,366.8 192.8,366.9 193.7,366.9 194.5,367.0 195.3,367.0 196.1,367.1 196.9,367.1 197.8,367.2 198.6,367.2 199.4,367.3 200.2,367.3 201.0,367.4 201.9,367.4 202.7,367.5 203.5,367.5 204.3,367.6 205.1,367.6 206.0,367.7 206.8,367.7 207.6,367.8 208.4,367.9 209.2,367.9 210.1,368.0 210.9,368.0 211.7,368.1 212.5,368.1 213.3,368.2 214.2,368.2 215.0,368.3 215.8,368.3 216.6,368.4 217.4,368.4 218.3,368.5 219.1,368.5 219.9,368.6 220.7,368.6 221.5,368.7 222.4,368.7 223.2,368.8 224.0,368.8 224.8,368.9 225.6,368.9 226.5,369.0 227.3,369.0 228.1,369.1 228.9,369.1 229.7,369.2 230.6,369.2 231.4,369.3 232.2,369.3 233.0,369.4 233.8,369.4 234.7,369.5 235.5,369.6 236.3,369.6 237.1,369.7 237.9,369.7 238.8,369.8 239.6,369.8 240.4,369.9 241.2,369.9 242.0,370.0 242.9,370.0 243.7,370.1 244.5,370.1 245.3,370.2 246.1,370.2 247.0,370.3 247.8,370.3 248.6,370.4 249.4,370.4 250.2,370.5 251.1,370.5 251.9,370.6 252.7,370.6 253.5,370.7 254.3,370.7 255.2,370.8 256.0,370.8 256.8,370.9 257.6,370.9 258.4,371.0 259.3,371.0 260.1,371.1 260.9,371.1 261.7,371.2 262.5,371.2 263.4,371.3 264.2,371.3 265.0,371.4 265.8,371.4 266.6,371.5 267.5,371.5 268.3,371.6 269.1,371.6 269.9,371.7 270.7,371.7 271.6,371.8 272.4,371.8 273.2,371.9 274.0,371.9 274.8,372.0 275.7,372.1 276.5,372.1 277.3,372.2 278.1,372.2 278.9,372.3 279.8,372.3 280.6,372.4 281.4,372.4 282.2,372.5 283.0,372.5 283.9,372.6 284.7,372.6 285.5,372.7 286.3,372.7 287.1,372.8 288.0,372.8 288.8,372.9 289.6,372.9 290.4,373.0 291.2,373.0 292.1,373.1 292.9,373.1 293.7,373.2 294.5,373.2 295.3,373.3 296.2,373.3 297.0,373.4 297.8,373.4 298.6,373.5 299.4,373.5 300.3,373.6 301.1,373.6 301.9,373.7 302.7,373.7 303.5,373.8 304.4,373.8 305.2,373.9 306.0,373.9 306.8,374.0 307.6,374.0 308.5,374.1 309.3,374.1 310.1,374.2 310.9,374.2 311.7,374.3 312.6,374.3 313.4,374.4 314.2,374.4 315.0,374.5 315.8,374.5 316.7,374.6 317.5,374.6 318.3,374.7 319.1,374.8 319.9,374.8 320.8,374.9 321.6,374.9 322.4,375.0 323.2,375.0 324.0,375.1 324.9,375.1 325.7,375.2 326.5,375.2" fill="none" stroke="rgb(102,21,97)" stroke-width="0.85" stroke-linejoin="round" stroke-linecap="round" />
<polyline points="39.5,440.0 42.2,440.0 44.9,440.2 47.6,439.5 50.3,440.2 53.0,439.9 55.7,437.1 58.4,426.0 61.1,392.5 63.9,348.0 66.6,317.7 69.3,306.4 72.0,304.9 74.7,311.5 77.4,319.3 80.1,325.8 82.8,332.4 85.5,338.5 88.2,347.2 90.9,350.6 93.6,351.0 96.3,350.4 99.0,350.2 101.7,352.1 104.4,355.7 107.1,359.4 109.9,363.5 112.6,365.2 115.3,364.1 118.0,364.0 120.7,361.7 123.4,363.5 126.1,363.8 128.8,366.6 131.5,367.6 134.2,369.2 136.9,368.6 139.6,368.1 142.3,367.6 145.0,367.0 147.7,367.0 150.4,369.1 153.2,369.3 155.9,370.3 158.6,370.5 161.3,369.1 164.0,370.9 166.7,370.1 169.4,370.9 172.1,370.7 174.8,371.3 177.5,369.7 180.2,371.6 182.9,370.8 185.6,370.9 188.3,371.7 191.0,371.4 193.7,371.2 196.4,372.4 199.2,372.7 201.9,372.7 204.6,373.8 207.3,373.4 210.0,372.9 212.7,372.9 215.4,373.9 218.1,373.9 220.8,374.1 223.5,374.3 226.2,374.0 228.9,374.3 231.6,374.4 234.3,375.3 237.0,375.3 239.7,374.9 242.4,376.1 245.2,375.3 247.9,375.9 250.6,376.1 253.3,375.5 256.0,376.3 258.7,376.6 261.4,376.7 264.1,376.5 266.8,375.3 269.5,378.0 272.2,377.0 274.9,377.3 277.6,376.8 280.3,377.7 283.0,378.9 285.7,377.2 288.5,378.6 291.2,378.2 293.9,379.0 296.6,379.0 299.3,378.9 302.0,378.4 304.7,378.6 307.4,379.5 310.1,379.1 312.8,379.7 315.5,379.6 318.2,379.7 320.9,379.7 323.6,380.4 326.3,380.4" fill="none" stroke="rgb(152,30,98)" stroke-width="1.1" stroke-linejoin="round" stroke-linecap="round" />
<polyline points="39.5,440.3 40.3,440.3 41.1,440.3 42.0,440.3 42.8,440.3 43.6,440.3 44.4,440.3 45.2,440.3 46.1,440.3 46.9,440.3 47.7,440.3 48.5,440.3 49.3,440.3 50.2,440.3 51.0,440.3 51.8,440.2 52.6,440.2 53.4,440.0 54.3,439.6 55.1,438.8 55.9,437.5 56.7,435.2 57.5,431.6 58.4,426.3 59.2,419.0 60.0,409.5 60.8,398.0 61.6,384.9 62.5,371.1 63.3,357.3 64.1,344.5 64.9,333.3 65.7,324.2 66.6,317.2 67.4,312.2 68.2,308.9 69.0,306.8 69.8,305.6 70.7,305.0 71.5,304.7 72.3,304.6 73.1,306.0 73.9,308.8 74.8,311.5 75.6,314.1 76.4,316.5 77.2,318.9 78.0,321.1 78.9,323.3 79.7,325.3 80.5,327.3 81.3,329.1 82.1,330.9 83.0,332.6 83.8,334.2 84.6,335.7 85.4,337.2 86.2,338.6 87.1,339.9 87.9,341.2 88.7,342.4 89.5,343.6 90.3,344.7 91.2,345.7 92.0,346.7 92.8,347.7 93.6,348.6 94.4,349.5 95.3,350.4 96.1,351.2 96.9,351.9 97.7,352.7 98.5,353.4 99.4,354.0 100.2,354.7 101.0,355.3 101.8,355.9 102.6,356.4 103.5,357.0 104.3,357.5 105.1,358.0 105.9,358.4 106.7,358.9 107.6,359.3 108.4,359.7 109.2,360.1 110.0,360.5 110.8,360.9 111.7,361.2 112.5,361.6 113.3,361.9 114.1,362.2 114.9,362.5 115.8,362.8 116.6,363.1 117.4,363.3 118.2,363.6 119.0,363.8 119.9,364.0 120.7,364.3 121.5,364.5 122.3,364.7 123.1,364.9 124.0,365.1 124.8,365.3 125.6,365.5 126.4,365.6 127.2,365.8 128.1,366.0 128.9,366.1 129.7,366.3 130.5,366.4 131.3,366.6 132.2,366.7 133.0,366.8 133.8,367.0 134.6,367.1 135.4,367.2 136.3,367.3 137.1,367.5 137.9,367.6 138.7,367.7 139.5,367.8 140.4,367.9 141.2,368.0 142.0,368.1 142.8,368.2 143.6,368.3 144.5,368.4 145.3,368.5 146.1,368.6 146.9,368.6 147.7,368.7 148.6,368.8 149.4,368.9 150.2,369.0 151.0,369.1 151.8,369.1 152.7,369.2 153.5,369.3 154.3,369.4 155.1,369.4 155.9,369.5 156.8,369.6 157.6,369.6 158.4,369.7 159.2,369.8 160.0,369.8 160.9,369.9 161.7,370.0 162.5,370.0 163.3,370.1 164.1,370.2 165.0,370.2 165.8,370.3 166.6,370.4 167.4,370.4 168.2,370.5 169.1,370.5 169.9,370.6 170.7,370.7 171.5,370.7 172.3,370.8 173.2,370.8 174.0,370.9 174.8,370.9 175.6,371.0 176.4,371.1 177.3,371.1 178.1,371.2 178.9,371.2 179.7,371.3 180.5,371.3 181.4,371.4 182.2,371.4 183.0,371.5 183.8,371.6 184.6,371.6 185.5,371.7 186.3,371.7 187.1,371.8 187.9,371.8 188.7,371.9 189.6,371.9 190.4,372.0 191.2,372.0 192.0,372.1 192.8,372.1 193.7,372.2 194.5,372.2 195.3,372.3 196.1,372.3 196.9,372.4 197.8,372.4 198.6,372.5 199.4,372.6 200.2,372.6 201.0,372.7 201.9,372.7 202.7,372.8 203.5,372.8 204.3,372.9 205.1,372.9 206.0,373.0 206.8,373.0 207.6,373.1 208.4,373.1 209.2,373.2 210.1,373.2 210.9,373.3 211.7,373.3 212.5,373.4 213.3,373.4 214.2,373.5 215.0,373.5 215.8,373.6 216.6,373.6 217.4,373.7 218.3,373.7 219.1,373.8 219.9,373.8 220.7,373.9 221.5,373.9 222.4,374.0 223.2,374.0 224.0,374.1 224.8,374.1 225.6,374.2 226.5,374.2 227.3,374.3 228.1,374.3 228.9,374.4 229.7,374.4 230.6,374.5 231.4,374.5 232.2,374.6 233.0,374.6 233.8,374.7 234.7,374.7 235.5,374.8 236.3,374.8 237.1,374.9 237.9,374.9 238.8,375.0 239.6,375.0 240.4,375.1 241.2,375.1 242.0,375.2 242.9,375.2 243.7,375.3 244.5,375.3 245.3,375.4 246.1,375.4 247.0,375.5 247.8,375.5 248.6,375.6 249.4,375.6 250.2,375.7 251.1,375.7 251.9,375.8 252.7,375.8 253.5,375.9 254.3,375.9 255.2,376.0 256.0,376.0 256.8,376.1 257.6,376.1 258.4,376.2 259.3,376.2 260.1,376.3 260.9,376.3 261.7,376.4 262.5,376.4 263.4,376.5 264.2,376.5 265.0,376.6 265.8,376.6 266.6,376.7 267.5,376.7 268.3,376.8 269.1,376.8 269.9,376.9 270.7,376.9 271.6,377.0 272.4,377.0 273.2,377.1 274.0,377.1 274.8,377.2 275.7,377.2 276.5,377.3 277.3,377.3 278.1,377.4 278.9,377.4 279.8,377.5 280.6,377.5 281.4,377.6 282.2,377.6 283.0,377.7 283.9,377.7 284.7,377.8 285.5,377.8 286.3,377.9 287.1,377.9 288.0,378.0 288.8,378.0 289.6,378.1 290.4,378.1 291.2,378.2 292.1,378.2 292.9,378.3 293.7,378.3 294.5,378.4 295.3,378.4 296.2,378.5 297.0,378.5 297.8,378.6 298.6,378.6 299.4,378.7 300.3,378.7 301.1,378.8 301.9,378.8 302.7,378.9 303.5,378.9 304.4,379.0 305.2,379.0 306.0,379.1 306.8,379.1 307.6,379.2 308.5,379.2 309.3,379.3 310.1,379.3 310.9,379.4 311.7,379.4 312.6,379.5 313.4,379.5 314.2,379.6 315.0,379.6 315.8,379.7 316.7,379.7 317.5,379.8 318.3,379.8 319.1,379.9 319.9,379.9 320.8,380.0 321.6,380.0 322.4,380.1 323.2,380.1 324.0,380.2 324.9,380.2 325.7,380.3 326.5,380.3" fill="none" stroke="rgb(109,21,73)" stroke-width="0.85" stroke-linejoin="round" stroke-linecap="round" />
<polyline points="39.5,440.1 42.2,439.6 44.9,440.4 47.6,440.2 50.3,440.2 53.0,440.6 55.7,437.9 58.4,425.0 61.1,393.2 63.9,349.6 66.6,322.2 69.3,312.7 72.0,311.9 74.7,318.7 77.4,326.9 80.1,333.4 82.8,339.8 85.5,346.2 88.2,353.8 90.9,358.1 93.6,358.4 96.3,358.5 99.0,358.5 101.7,359.4 104.4,362.0 107.1,367.1 109.9,370.3 112.6,372.2 115.3,371.8 118.0,370.8 120.7,370.5 123.4,370.3 126.1,370.9 128.8,372.7 131.5,374.6 134.2,375.5 136.9,376.1 139.6,375.4 142.3,374.1 145.0,375.0 147.7,374.9 150.4,376.8 153.2,377.0 155.9,377.7 158.6,378.1 161.3,376.8 164.0,377.1 166.7,376.8 169.4,377.0 172.1,377.7 174.8,377.2 177.5,378.6 180.2,378.4 182.9,379.0 185.6,378.4 188.3,378.3 191.0,378.4 193.7,378.9 196.4,378.9 199.2,378.5 201.9,379.5 204.6,379.5 207.3,379.6 210.0,378.2 212.7,378.7 215.4,379.5 218.1,379.7 220.8,380.6 223.5,380.5 226.2,380.4 228.9,380.5 231.6,381.0 234.3,381.1 237.0,380.6 239.7,380.9 242.4,382.3 245.2,381.4 247.9,380.9 250.6,382.0 253.3,381.6 256.0,382.6 258.7,381.6 261.4,382.7 264.1,383.0 266.8,382.6 269.5,381.4 272.2,383.0 274.9,383.5 277.6,382.7 280.3,383.0 283.0,382.4 285.7,384.0 288.5,384.3 291.2,383.8 293.9,383.6 296.6,383.7 299.3,383.5 302.0,384.9 304.7,384.7 307.4,384.5 310.1,384.2 312.8,384.5 315.5,385.1 318.2,385.5 320.9,384.7 323.6,384.8 326.3,384.0" fill="none" stroke="rgb(166,30,78)" stroke-width="1.1" stroke-linejoin="round" stroke-linecap="round" />
<polyline points="39.5,440.3 40.3,440.3 41.1,440.3 42.0,440.3 42.8,440.3 43.6,440.3 44.4,440.3 45.2,440.3 46.1,440.3 46.9,440.3 47.7,440.3 48.5,440.3 49.3,440.3 50.2,440.3 51.0,440.3 51.8,440.2 52.6,440.1 53.4,439.9 54.3,439.5 55.1,438.7 55.9,437.2 56.7,434.8 57.5,431.1 58.4,425.7 59.2,418.3 60.0,408.9 60.8,397.6 61.6,385.0 62.5,371.8 63.3,358.8 64.1,346.9 64.9,336.7 65.7,328.4 66.6,322.2 67.4,317.9 68.2,315.0 69.0,313.2 69.8,312.2 70.7,311.7 71.5,311.4 72.3,311.3 73.1,312.8 73.9,315.7 74.8,318.5 75.6,321.1 76.4,323.6 77.2,326.0 78.0,328.3 78.9,330.5 79.7,332.6 80.5,334.5 81.3,336.4 82.1,338.2 83.0,340.0 83.8,341.6 84.6,343.1 85.4,344.6 86.2,346.1 87.1,347.4 87.9,348.7 88.7,349.9 89.5,351.1 90.3,352.2 91.2,353.3 92.0,354.3 92.8,355.3 93.6,356.2 94.4,357.1 95.3,357.9 96.1,358.7 96.9,359.5 97.7,360.2 98.5,360.9 99.4,361.6 100.2,362.2 101.0,362.9 101.8,363.4 102.6,364.0 103.5,364.5 104.3,365.0 105.1,365.5 105.9,366.0 106.7,366.4 107.6,366.9 108.4,367.3 109.2,367.7 110.0,368.0 110.8,368.4 111.7,368.7 112.5,369.1 113.3,369.4 114.1,369.7 114.9,370.0 115.8,370.2 116.6,370.5 117.4,370.8 118.2,371.0 119.0,371.2 119.9,371.5 120.7,371.7 121.5,371.9 122.3,372.1 123.1,372.3 124.0,372.5 124.8,372.6 125.6,372.8 126.4,373.0 127.2,373.1 128.1,373.3 128.9,373.4 129.7,373.6 130.5,373.7 131.3,373.8 132.2,374.0 133.0,374.1 133.8,374.2 134.6,374.3 135.4,374.5 136.3,374.6 137.1,374.7 137.9,374.8 138.7,374.9 139.5,375.0 140.4,375.1 141.2,375.2 142.0,375.3 142.8,375.3 143.6,375.4 144.5,375.5 145.3,375.6 146.1,375.7 146.9,375.7 147.7,375.8 148.6,375.9 149.4,376.0 150.2,376.0 151.0,376.1 151.8,376.2 152.7,376.2 153.5,376.3 154.3,376.4 155.1,376.4 155.9,376.5 156.8,376.6 157.6,376.6 158.4,376.7 159.2,376.7 160.0,376.8 160.9,376.8 161.7,376.9 162.5,377.0 163.3,377.0 164.1,377.1 165.0,377.1 165.8,377.2 166.6,377.2 167.4,377.3 168.2,377.3 169.1,377.4 169.9,377.4 170.7,377.5 171.5,377.5 172.3,377.6 173.2,377.6 174.0,377.7 174.8,377.7 175.6,377.8 176.4,377.8 177.3,377.9 178.1,377.9 178.9,378.0 179.7,378.0 180.5,378.0 181.4,378.1 182.2,378.1 183.0,378.2 183.8,378.2 184.6,378.3 185.5,378.3 186.3,378.4 187.1,378.4 187.9,378.4 188.7,378.5 189.6,378.5 190.4,378.6 191.2,378.6 192.0,378.7 192.8,378.7 193.7,378.8 194.5,378.8 195.3,378.8 196.1,378.9 196.9,378.9 197.8,379.0 198.6,379.0 199.4,379.0 200.2,379.1 201.0,379.1 201.9,379.2 202.7,379.2 203.5,379.3 204.3,379.3 205.1,379.3 206.0,379.4 206.8,379.4 207.6,379.5 208.4,379.5 209.2,379.6 210.1,379.6 210.9,379.6 211.7,379.7 212.5,379.7 213.3,379.8 214.2,379.8 215.0,379.8 215.8,379.9 216.6,379.9 217.4,380.0 218.3,380.0 219.1,380.0 219.9,380.1 220.7,380.1 221.5,380.2 222.4,380.2 223.2,380.3 224.0,380.3 224.8,380.3 225.6,380.4 226.5,380.4 227.3,380.5 228.1,380.5 228.9,380.5 229.7,380.6 230.6,380.6 231.4,380.7 232.2,380.7 233.0,380.7 233.8,380.8 234.7,380.8 235.5,380.9 236.3,380.9 237.1,381.0 237.9,381.0 238.8,381.0 239.6,381.1 240.4,381.1 241.2,381.2 242.0,381.2 242.9,381.2 243.7,381.3 244.5,381.3 245.3,381.4 246.1,381.4 247.0,381.4 247.8,381.5 248.6,381.5 249.4,381.6 250.2,381.6 251.1,381.6 251.9,381.7 252.7,381.7 253.5,381.8 254.3,381.8 255.2,381.9 256.0,381.9 256.8,381.9 257.6,382.0 258.4,382.0 259.3,382.1 260.1,382.1 260.9,382.1 261.7,382.2 262.5,382.2 263.4,382.3 264.2,382.3 265.0,382.3 265.8,382.4 266.6,382.4 267.5,382.5 268.3,382.5 269.1,382.5 269.9,382.6 270.7,382.6 271.6,382.7 272.4,382.7 273.2,382.7 274.0,382.8 274.8,382.8 275.7,382.9 276.5,382.9 277.3,383.0 278.1,383.0 278.9,383.0 279.8,383.1 280.6,383.1 281.4,383.2 282.2,383.2 283.0,383.2 283.9,383.3 284.7,383.3 285.5,383.4 286.3,383.4 287.1,383.4 288.0,383.5 288.8,383.5 289.6,383.6 290.4,383.6 291.2,383.6 292.1,383.7 292.9,383.7 293.7,383.8 294.5,383.8 295.3,383.8 296.2,383.9 297.0,383.9 297.8,384.0 298.6,384.0 299.4,384.1 300.3,384.1 301.1,384.1 301.9,384.2 302.7,384.2 303.5,384.3 304.4,384.3 305.2,384.3 306.0,384.4 306.8,384.4 307.6,384.5 308.5,384.5 309.3,384.5 310.1,384.6 310.9,384.6 311.7,384.7 312.6,384.7 313.4,384.7 314.2,384.8 315.0,384.8 315.8,384.9 316.7,384.9 317.5,384.9 318.3,385.0 319.1,385.0 319.9,385.1 320.8,385.1 321.6,385.2 322.4,385.2 323.2,385.2 324.0,385.3 324.9,385.3 325.7,385.4 326.5,385.4" fill="none" stroke="rgb(119,21,58)" stroke-width="0.85" stroke-linejoin="round" stroke-linecap="round" />
<polyline points="39.5,439.6 42.2,440.4 44.9,440.4 47.6,439.9 50.3,440.5 53.0,441.0 55.7,437.2 58.4,425.2 61.1,394.0 63.9,353.1 66.6,327.6 69.3,318.9 72.0,318.4 74.7,324.2 77.4,332.4 80.1,339.6 82.8,345.4 85.5,352.2 88.2,360.5 90.9,364.1 93.6,364.8 96.3,364.3 99.0,364.1 101.7,366.1 104.4,368.2 107.1,372.5 109.9,376.7 112.6,377.7 115.3,377.3 118.0,376.6 120.7,375.2 123.4,375.3 126.1,377.6 128.8,378.9 131.5,380.2 134.2,380.8 136.9,380.5 139.6,381.5 142.3,379.9 145.0,379.3 147.7,379.5 150.4,380.2 153.2,382.5 155.9,382.7 158.6,383.1 161.3,381.8 164.0,382.5 166.7,381.1 169.4,381.4 172.1,382.2 174.8,384.1 177.5,383.7 180.2,383.1 182.9,384.0 185.6,383.3 188.3,383.1 191.0,382.7 193.7,383.4 196.4,383.7 199.2,384.4 201.9,384.3 204.6,384.3 207.3,383.8 210.0,384.3 212.7,383.8 215.4,385.4 218.1,384.1 220.8,385.1 223.5,384.5 226.2,385.1 228.9,384.8 231.6,384.5 234.3,385.6 237.0,385.4 239.7,385.7 242.4,385.7 245.2,386.8 247.9,386.2 250.6,386.3 253.3,386.6 256.0,386.4 258.7,387.2 261.4,385.9 264.1,386.5 266.8,385.9 269.5,387.4 272.2,387.6 274.9,387.0 277.6,388.1 280.3,387.3 283.0,387.9 285.7,387.8 288.5,387.6 291.2,387.9 293.9,387.1 296.6,387.8 299.3,388.8 302.0,387.8 304.7,389.1 307.4,388.5 310.1,389.3 312.8,389.2 315.5,388.3 318.2,389.3 320.9,389.5 323.6,389.5 326.3,389.5" fill="none" stroke="rgb(176,32,70)" stroke-width="1.1" stroke-linejoin="round" stroke-linecap="round" />
<polyline points="39.5,440.3 40.3,440.3 41.1,440.3 42.0,440.3 42.8,440.3 43.6,440.3 44.4,440.3 45.2,440.3 46.1,440.3 46.9,440.3 47.7,440.3 48.5,440.3 49.3,440.3 50.2,440.3 51.0,440.3 51.8,440.2 52.6,440.1 53.4,439.9 54.3,439.4 55.1,438.5 55.9,437.0 56.7,434.5 57.5,430.7 58.4,425.2 59.2,417.8 60.0,408.5 60.8,397.5 61.6,385.3 62.5,372.8 63.3,360.7 64.1,349.7 64.9,340.4 65.7,333.0 66.6,327.5 67.4,323.6 68.2,321.2 69.0,319.7 69.8,318.8 70.7,318.4 71.5,318.2 72.3,318.1 73.1,319.6 73.9,322.4 74.8,325.2 75.6,327.8 76.4,330.3 77.2,332.6 78.0,334.9 78.9,337.1 79.7,339.1 80.5,341.1 81.3,342.9 82.1,344.7 83.0,346.4 83.8,348.0 84.6,349.5 85.4,351.0 86.2,352.4 87.1,353.7 87.9,355.0 88.7,356.2 89.5,357.3 90.3,358.4 91.2,359.4 92.0,360.4 92.8,361.4 93.6,362.3 94.4,363.1 95.3,364.0 96.1,364.8 96.9,365.5 97.7,366.2 98.5,366.9 99.4,367.5 100.2,368.2 101.0,368.8 101.8,369.3 102.6,369.9 103.5,370.4 104.3,370.9 105.1,371.3 105.9,371.8 106.7,372.2 107.6,372.6 108.4,373.0 109.2,373.4 110.0,373.7 110.8,374.1 111.7,374.4 112.5,374.7 113.3,375.0 114.1,375.3 114.9,375.6 115.8,375.8 116.6,376.1 117.4,376.3 118.2,376.6 119.0,376.8 119.9,377.0 120.7,377.2 121.5,377.4 122.3,377.6 123.1,377.8 124.0,378.0 124.8,378.1 125.6,378.3 126.4,378.4 127.2,378.6 128.1,378.7 128.9,378.9 129.7,379.0 130.5,379.1 131.3,379.3 132.2,379.4 133.0,379.5 133.8,379.6 134.6,379.7 135.4,379.8 136.3,379.9 137.1,380.0 137.9,380.1 138.7,380.2 139.5,380.3 140.4,380.4 141.2,380.5 142.0,380.5 142.8,380.6 143.6,380.7 144.5,380.8 145.3,380.8 146.1,380.9 146.9,381.0 147.7,381.1 148.6,381.1 149.4,381.2 150.2,381.3 151.0,381.3 151.8,381.4 152.7,381.4 153.5,381.5 154.3,381.6 155.1,381.6 155.9,381.7 156.8,381.7 157.6,381.8 158.4,381.8 159.2,381.9 160.0,381.9 160.9,382.0 161.7,382.0 162.5,382.1 163.3,382.1 164.1,382.2 165.0,382.2 165.8,382.3 166.6,382.3 167.4,382.4 168.2,382.4 169.1,382.4 169.9,382.5 170.7,382.5 171.5,382.6 172.3,382.6 173.2,382.7 174.0,382.7 174.8,382.7 175.6,382.8 176.4,382.8 177.3,382.9 178.1,382.9 178.9,382.9 179.7,383.0 180.5,383.0 181.4,383.1 182.2,383.1 183.0,383.1 183.8,383.2 184.6,383.2 185.5,383.3 186.3,383.3 187.1,383.3 187.9,383.4 188.7,383.4 189.6,383.4 190.4,383.5 191.2,383.5 192.0,383.6 192.8,383.6 193.7,383.6 194.5,383.7 195.3,383.7 196.1,383.7 196.9,383.8 197.8,383.8 198.6,383.9 199.4,383.9 200.2,383.9 201.0,384.0 201.9,384.0 202.7,384.0 203.5,384.1 204.3,384.1 205.1,384.1 206.0,384.2 206.8,384.2 207.6,384.3 208.4,384.3 209.2,384.3 210.1,384.4 210.9,384.4 211.7,384.4 212.5,384.5 213.3,384.5 214.2,384.5 215.0,384.6 215.8,384.6 216.6,384.6 217.4,384.7 218.3,384.7 219.1,384.8 219.9,384.8 220.7,384.8 221.5,384.9 222.4,384.9 223.2,384.9 224.0,385.0 224.8,385.0 225.6,385.0 226.5,385.1 227.3,385.1 228.1,385.1 228.9,385.2 229.7,385.2 230.6,385.2 231.4,385.3 232.2,385.3 233.0,385.4 233.8,385.4 234.7,385.4 235.5,385.5 236.3,385.5 237.1,385.5 237.9,385.6 238.8,385.6 239.6,385.6 240.4,385.7 241.2,385.7 242.0,385.7 242.9,385.8 243.7,385.8 244.5,385.8 245.3,385.9 246.1,385.9 247.0,386.0 247.8,386.0 248.6,386.0 249.4,386.1 250.2,386.1 251.1,386.1 251.9,386.2 252.7,386.2 253.5,386.2 254.3,386.3 255.2,386.3 256.0,386.3 256.8,386.4 257.6,386.4 258.4,386.4 259.3,386.5 260.1,386.5 260.9,386.6 261.7,386.6 262.5,386.6 263.4,386.7 264.2,386.7 265.0,386.7 265.8,386.8 266.6,386.8 267.5,386.8 268.3,386.9 269.1,386.9 269.9,386.9 270.7,387.0 271.6,387.0 272.4,387.0 273.2,387.1 274.0,387.1 274.8,387.1 275.7,387.2 276.5,387.2 277.3,387.3 278.1,387.3 278.9,387.3 279.8,387.4 280.6,387.4 281.4,387.4 282.2,387.5 283.0,387.5 283.9,387.5 284.7,387.6 285.5,387.6 286.3,387.6 287.1,387.7 288.0,387.7 288.8,387.7 289.6,387.8 290.4,387.8 291.2,387.9 292.1,387.9 292.9,387.9 293.7,388.0 294.5,388.0 295.3,388.0 296.2,388.1 297.0,388.1 297.8,388.1 298.6,388.2 299.4,388.2 300.3,388.2 301.1,388.3 301.9,388.3 302.7,388.3 303.5,388.4 304.4,388.4 305.2,388.4 306.0,388.5 306.8,388.5 307.6,388.6 308.5,388.6 309.3,388.6 310.1,388.7 310.9,388.7 311.7,388.7 312.6,388.8 313.4,388.8 314.2,388.8 315.0,388.9 315.8,388.9 316.7,388.9 317.5,389.0 318.3,389.0 319.1,389.0 319.9,389.1 320.8,389.1 321.6,389.1 322.4,389.2 323.2,389.2 324.0,389.3 324.9,389.3 325.7,389.3 326.5,389.4" fill="none" stroke="rgb(126,23,52)" stroke-width="0.85" stroke-linejoin="round" stroke-linecap="round" />
<polyline points="39.5,440.3 42.2,440.2 44.9,439.9 47.6,440.1 50.3,440.7 53.0,439.8 55.7,437.1 58.4,423.4 61.1,392.9 63.9,356.4 66.6,333.1 69.3,325.3 72.0,324.7 74.7,331.7 77.4,339.1 80.1,346.1 82.8,351.6 85.5,358.8 88.2,366.1 90.9,369.3 93.6,370.5 96.3,369.2 99.0,367.9 101.7,370.2 104.4,373.1 107.1,377.5 109.9,380.8 112.6,382.2 115.3,382.7 118.0,381.9 120.7,379.1 123.4,379.9 126.1,380.4 128.8,382.7 131.5,384.4 134.2,385.0 136.9,384.8 139.6,385.1 142.3,383.1 145.0,384.0 147.7,383.9 150.4,383.6 153.2,385.7 155.9,385.5 158.6,386.5 161.3,385.6 164.0,385.5 166.7,385.1 169.4,385.9 172.1,386.5 174.8,386.4 177.5,387.7 180.2,387.4 182.9,386.5 185.6,386.9 188.3,387.0 191.0,387.2 193.7,386.8 196.4,387.4 199.2,387.4 201.9,387.7 204.6,386.7 207.3,387.7 210.0,388.4 212.7,387.5 215.4,387.7 218.1,387.9 220.8,388.9 223.5,387.7 226.2,388.3 228.9,388.3 231.6,389.1 234.3,388.1 237.0,388.5 239.7,388.0 242.4,389.0 245.2,389.6 247.9,389.0 250.6,389.5 253.3,388.9 256.0,389.7 258.7,389.4 261.4,389.5 264.1,389.6 266.8,389.9 269.5,390.1 272.2,389.8 274.9,390.2 277.6,389.9 280.3,390.2 283.0,391.3 285.7,390.3 288.5,389.7 291.2,390.3 293.9,390.3 296.6,390.4 299.3,390.9 302.0,391.5 304.7,390.5 307.4,390.5 310.1,390.8 312.8,391.0 315.5,391.1 318.2,391.4 320.9,391.3 323.6,391.6 326.3,391.5" fill="none" stroke="rgb(186,36,66)" stroke-width="1.1" stroke-linejoin="round" stroke-linecap="round" />
<polyline points="39.5,440.3 40.3,440.3 41.1,440.3 42.0,440.3 42.8,440.3 43.6,440.3 44.4,440.3 45.2,440.3 46.1,440.3 46.9,440.3 47.7,440.3 48.5,440.3 49.3,440.3 50.2,440.3 51.0,440.3 51.8,440.2 52.6,440.1 53.4,439.8 54.3,439.3 55.1,438.4 55.9,436.8 56.7,434.2 57.5,430.3 58.4,424.7 59.2,417.3 60.0,408.2 60.8,397.5 61.6,385.9 62.5,374.1 63.3,362.8 64.1,352.8 64.9,344.3 65.7,337.7 66.6,332.9 67.4,329.6 68.2,327.4 69.0,326.2 69.8,325.5 70.7,325.1 71.5,324.9 72.3,324.9 73.1,326.3 73.9,329.1 74.8,331.7 75.6,334.3 76.4,336.7 77.2,338.9 78.0,341.1 78.9,343.2 79.7,345.2 80.5,347.0 81.3,348.8 82.1,350.5 83.0,352.2 83.8,353.7 84.6,355.2 85.4,356.6 86.2,357.9 87.1,359.2 87.9,360.4 88.7,361.5 89.5,362.6 90.3,363.7 91.2,364.7 92.0,365.6 92.8,366.5 93.6,367.4 94.4,368.2 95.3,369.0 96.1,369.7 96.9,370.4 97.7,371.1 98.5,371.7 99.4,372.4 100.2,372.9 101.0,373.5 101.8,374.0 102.6,374.5 103.5,375.0 104.3,375.5 105.1,375.9 105.9,376.4 106.7,376.8 107.6,377.1 108.4,377.5 109.2,377.9 110.0,378.2 110.8,378.5 111.7,378.8 112.5,379.1 113.3,379.4 114.1,379.6 114.9,379.9 115.8,380.1 116.6,380.4 117.4,380.6 118.2,380.8 119.0,381.0 119.9,381.2 120.7,381.4 121.5,381.6 122.3,381.8 123.1,381.9 124.0,382.1 124.8,382.2 125.6,382.4 126.4,382.5 127.2,382.7 128.1,382.8 128.9,382.9 129.7,383.0 130.5,383.2 131.3,383.3 132.2,383.4 133.0,383.5 133.8,383.6 134.6,383.7 135.4,383.8 136.3,383.9 137.1,383.9 137.9,384.0 138.7,384.1 139.5,384.2 140.4,384.3 141.2,384.3 142.0,384.4 142.8,384.5 143.6,384.5 144.5,384.6 145.3,384.7 146.1,384.7 146.9,384.8 147.7,384.9 148.6,384.9 149.4,385.0 150.2,385.0 151.0,385.1 151.8,385.1 152.7,385.2 153.5,385.2 154.3,385.3 155.1,385.3 155.9,385.4 156.8,385.4 157.6,385.5 158.4,385.5 159.2,385.6 160.0,385.6 160.9,385.6 161.7,385.7 162.5,385.7 163.3,385.8 164.1,385.8 165.0,385.8 165.8,385.9 166.6,385.9 167.4,386.0 168.2,386.0 169.1,386.0 169.9,386.1 170.7,386.1 171.5,386.1 172.3,386.2 173.2,386.2 174.0,386.2 174.8,386.3 175.6,386.3 176.4,386.3 177.3,386.4 178.1,386.4 178.9,386.4 179.7,386.5 180.5,386.5 181.4,386.5 182.2,386.6 183.0,386.6 183.8,386.6 184.6,386.7 185.5,386.7 186.3,386.7 187.1,386.8 187.9,386.8 188.7,386.8 189.6,386.9 190.4,386.9 191.2,386.9 192.0,386.9 192.8,387.0 193.7,387.0 194.5,387.0 195.3,387.1 196.1,387.1 196.9,387.1 197.8,387.2 198.6,387.2 199.4,387.2 200.2,387.2 201.0,387.3 201.9,387.3 202.7,387.3 203.5,387.4 204.3,387.4 205.1,387.4 206.0,387.4 206.8,387.5 207.6,387.5 208.4,387.5 209.2,387.6 210.1,387.6 210.9,387.6 211.7,387.6 212.5,387.7 213.3,387.7 214.2,387.7 215.0,387.8 215.8,387.8 216.6,387.8 217.4,387.9 218.3,387.9 219.1,387.9 219.9,387.9 220.7,388.0 221.5,388.0 222.4,388.0 223.2,388.1 224.0,388.1 224.8,388.1 225.6,388.1 226.5,388.2 227.3,388.2 228.1,388.2 228.9,388.3 229.7,388.3 230.6,388.3 231.4,388.3 232.2,388.4 233.0,388.4 233.8,388.4 234.7,388.5 235.5,388.5 236.3,388.5 237.1,388.5 237.9,388.6 238.8,388.6 239.6,388.6 240.4,388.7 241.2,388.7 242.0,388.7 242.9,388.7 243.7,388.8 244.5,388.8 245.3,388.8 246.1,388.8 247.0,388.9 247.8,388.9 248.6,388.9 249.4,389.0 250.2,389.0 251.1,389.0 251.9,389.0 252.7,389.1 253.5,389.1 254.3,389.1 255.2,389.2 256.0,389.2 256.8,389.2 257.6,389.2 258.4,389.3 259.3,389.3 260.1,389.3 260.9,389.4 261.7,389.4 262.5,389.4 263.4,389.4 264.2,389.5 265.0,389.5 265.8,389.5 266.6,389.6 267.5,389.6 268.3,389.6 269.1,389.6 269.9,389.7 270.7,389.7 271.6,389.7 272.4,389.8 273.2,389.8 274.0,389.8 274.8,389.8 275.7,389.9 276.5,389.9 277.3,389.9 278.1,390.0 278.9,390.0 279.8,390.0 280.6,390.0 281.4,390.1 282.2,390.1 283.0,390.1 283.9,390.2 284.7,390.2 285.5,390.2 286.3,390.2 287.1,390.3 288.0,390.3 288.8,390.3 289.6,390.4 290.4,390.4 291.2,390.4 292.1,390.4 292.9,390.5 293.7,390.5 294.5,390.5 295.3,390.5 296.2,390.6 297.0,390.6 297.8,390.6 298.6,390.7 299.4,390.7 300.3,390.7 301.1,390.7 301.9,390.8 302.7,390.8 303.5,390.8 304.4,390.9 305.2,390.9 306.0,390.9 306.8,390.9 307.6,391.0 308.5,391.0 309.3,391.0 310.1,391.1 310.9,391.1 311.7,391.1 312.6,391.1 313.4,391.2 314.2,391.2 315.0,391.2 315.8,391.3 316.7,391.3 317.5,391.3 318.3,391.3 319.1,391.4 319.9,391.4 320.8,391.4 321.6,391.5 322.4,391.5 323.2,391.5 324.0,391.5 324.9,391.6 325.7,391.6 326.5,391.6" fill="none" stroke="rgb(133,25,49)" stroke-width="0.85" stroke-linejoin="round" stroke-linecap="round" />
<rect x="39.50" y="248.50" width="287.00" height="198.00" fill="none" stroke="#2a2a2a" stroke-width="1.0"/>
<line x1="64.10" y1="446.50" x2="64.10" y2="450.00" stroke="#2a2a2a" stroke-width="1.0" />
<line x1="105.10" y1="446.50" x2="105.10" y2="450.00" stroke="#2a2a2a" stroke-width="1.0" />
<line x1="146.10" y1="446.50" x2="146.10" y2="450.00" stroke="#2a2a2a" stroke-width="1.0" />
<line x1="187.10" y1="446.50" x2="187.10" y2="450.00" stroke="#2a2a2a" stroke-width="1.0" />
<line x1="228.10" y1="446.50" x2="228.10" y2="450.00" stroke="#2a2a2a" stroke-width="1.0" />
<line x1="269.10" y1="446.50" x2="269.10" y2="450.00" stroke="#2a2a2a" stroke-width="1.0" />
<line x1="310.10" y1="446.50" x2="310.10" y2="450.00" stroke="#2a2a2a" stroke-width="1.0" />
<line x1="43.60" y1="446.50" x2="43.60" y2="448.50" stroke="#2a2a2a" stroke-width="1.0" />
<line x1="84.60" y1="446.50" x2="84.60" y2="448.50" stroke="#2a2a2a" stroke-width="1.0" />
<line x1="125.60" y1="446.50" x2="125.60" y2="448.50" stroke="#2a2a2a" stroke-width="1.0" />
<line x1="166.60" y1="446.50" x2="166.60" y2="448.50" stroke="#2a2a2a" stroke-width="1.0" />
<line x1="207.60" y1="446.50" x2="207.60" y2="448.50" stroke="#2a2a2a" stroke-width="1.0" />
<line x1="248.60" y1="446.50" x2="248.60" y2="448.50" stroke="#2a2a2a" stroke-width="1.0" />
<line x1="289.60" y1="446.50" x2="289.60" y2="448.50" stroke="#2a2a2a" stroke-width="1.0" />
<line x1="39.50" y1="440.30" x2="35.50" y2="440.30" stroke="#2a2a2a" stroke-width="1.0" />
<line x1="39.50" y1="383.70" x2="35.50" y2="383.70" stroke="#2a2a2a" stroke-width="1.0" />
<line x1="39.50" y1="327.10" x2="35.50" y2="327.10" stroke="#2a2a2a" stroke-width="1.0" />
<line x1="39.50" y1="270.50" x2="35.50" y2="270.50" stroke="#2a2a2a" stroke-width="1.0" />
<line x1="39.50" y1="412.00" x2="37.00" y2="412.00" stroke="#2a2a2a" stroke-width="1.0" />
<line x1="39.50" y1="355.40" x2="37.00" y2="355.40" stroke="#2a2a2a" stroke-width="1.0" />
<line x1="39.50" y1="298.80" x2="37.00" y2="298.80" stroke="#2a2a2a" stroke-width="1.0" />
<text transform="translate(64.10,461.30) scale(1,1.08)" font-size="13.3" text-anchor="middle" fill="#111" >0.0</text>
<text transform="translate(105.10,461.30) scale(1,1.08)" font-size="13.3" text-anchor="middle" fill="#111" >0.5</text>
<text transform="translate(146.10,461.30) scale(1,1.08)" font-size="13.3" text-anchor="middle" fill="#111" >1.0</text>
<text transform="translate(187.10,461.30) scale(1,1.08)" font-size="13.3" text-anchor="middle" fill="#111" >1.5</text>
<text transform="translate(228.10,461.30) scale(1,1.08)" font-size="13.3" text-anchor="middle" fill="#111" >2.0</text>
<text transform="translate(269.10,461.30) scale(1,1.08)" font-size="13.3" text-anchor="middle" fill="#111" >2.5</text>
<text transform="translate(310.10,461.30) scale(1,1.08)" font-size="13.3" text-anchor="middle" fill="#111" >3.0</text>
<text transform="translate(33.90,445.80) scale(1,1.08)" font-size="13.3" text-anchor="end" fill="#111" >0</text>
<text transform="translate(33.90,389.20) scale(1,1.08)" font-size="13.3" text-anchor="end" fill="#111" >10</text>
<text transform="translate(33.90,332.60) scale(1,1.08)" font-size="13.3" text-anchor="end" fill="#111" >20</text>
<text transform="translate(33.90,276.00) scale(1,1.08)" font-size="13.3" text-anchor="end" fill="#111" >30</text>
<text transform="translate(16.20,369.00) rotate(-90) scale(1,1.08)" font-size="13.3" fill="#111" >&#916;<tspan font-style="italic">A</tspan> / 10<tspan font-size="9" dy="-5">&#8211;3</tspan></text>
<text transform="translate(170.00,475.50) scale(1,1.08)" font-size="13.3" fill="#111" ><tspan font-style="italic">t</tspan> / ps</text>
<text transform="translate(255.50,293.00) skewX(-13) scale(1,1.0)" style="font-family:'Liberation Serif',serif" font-style="italic" font-size="16" fill="#111">&#955;</text>
<text transform="translate(263.50,293.00) scale(1,1.08)" font-size="13.3" fill="#111" >=</text>
<text transform="translate(275.50,293.00) scale(1,1.08)" font-size="13.3" fill="#111" >750</text>
<text transform="translate(302.80,293.00) scale(1,1.08)" font-size="13.3" fill="#111" >nm</text>
<text transform="translate(255.50,407.30) skewX(-13) scale(1,1.0)" style="font-family:'Liberation Serif',serif" font-style="italic" font-size="16" fill="#111">&#955;</text>
<text transform="translate(263.50,407.30) scale(1,1.08)" font-size="13.3" fill="#111" >=</text>
<text transform="translate(275.50,407.30) scale(1,1.08)" font-size="13.3" fill="#111" >800</text>
<text transform="translate(302.80,407.30) scale(1,1.08)" font-size="13.3" fill="#111" >nm</text>
<text transform="translate(338.60,256.70) scale(1,1.0)" font-size="13.8" font-weight="bold" fill="#000" >d</text>
<polyline points="391.9,444.6 394.8,436.1 398.1,443.0 400.5,444.4 406.7,436.8 409.5,427.1 412.6,442.7 415.6,441.3 418.2,411.2 420.6,370.4 424.5,281.7 426.3,330.4 430.4,417.7 436.1,396.8 441.8,435.6 445.1,443.8 448.3,431.5 453.2,437.3 456.5,436.4 460.5,439.7 465.4,442.1 468.7,440.8 472.0,442.9 476.0,443.2 480.0,443.6 481.0,443.3 483.0,443.4 485.0,443.5 487.0,443.4 489.0,443.7 491.0,443.9 493.0,443.8 495.0,443.6 497.0,443.1 499.0,443.9 501.0,443.9 503.0,443.6 505.0,443.6 507.0,443.8 509.0,443.5 511.0,443.9 513.0,443.5 515.0,443.5 517.0,443.8 519.0,443.4 521.0,443.8 523.0,443.9 525.0,443.5 527.0,444.0 529.0,443.7 531.0,444.0 533.0,443.9 535.0,443.7 537.0,443.7 539.0,443.5 541.0,443.7 543.0,443.7 545.0,444.3 547.0,444.1 549.0,443.6 551.0,444.1 553.0,444.0 555.0,443.8 557.0,444.0 559.0,444.1 561.0,443.8 563.0,443.9 565.0,444.0 567.0,443.7 569.0,444.0 571.0,443.9 573.0,443.8 575.0,443.7 577.0,444.0 579.0,444.2 581.0,444.0 583.0,443.8 585.0,444.1 587.0,444.0 589.0,444.1 591.0,444.2 593.0,443.8 595.0,443.9 597.0,443.8 599.0,443.8 601.0,444.4 603.0,444.2 605.0,443.6 607.0,444.1 609.0,443.8 611.0,444.2 613.0,444.0 615.0,443.9 617.0,444.0 619.0,444.1 621.0,444.0 623.0,443.9 625.0,444.0 627.0,444.1 629.0,443.7 631.0,444.0 633.0,444.0 635.0,443.9 637.0,444.2 639.0,443.7 641.0,443.9 643.0,443.8 645.0,444.1 647.0,443.9 649.0,444.0 651.0,444.1 653.0,443.6 655.0,444.1 657.0,443.8 659.0,443.9 661.0,444.0 663.0,444.2 665.0,444.2 667.0,444.4 669.0,444.0" fill="none" stroke="#111" stroke-width="1.0" stroke-linejoin="round" stroke-linecap="round" />
<rect x="481.5" y="268.0" width="183.5" height="130.0" fill="#fff"/>
<polyline points="481.5,398.1 482.1,379.6 482.6,358.6 483.2,344.7 483.8,339.8 484.4,322.7 484.9,323.5 485.5,314.2 486.1,313.0 486.7,310.5 487.2,310.3 487.8,312.2 488.4,311.1 488.9,315.3 489.5,320.9 490.1,328.4 490.7,339.8 491.2,343.7 491.8,351.8 492.4,358.8 493.0,363.7 493.5,370.4 494.1,370.6 494.7,363.8 495.3,359.5 495.8,369.4 496.4,347.9 497.0,342.0 497.5,335.2 498.1,320.6 498.7,303.9 499.3,301.9 499.8,300.5 500.4,300.4 501.0,292.1 501.6,295.3 502.1,307.1 502.7,301.4 503.3,311.9 503.8,319.7 504.4,326.1 505.0,337.1 505.6,344.5 506.1,352.5 506.7,352.7 507.3,362.1 507.9,357.3 508.4,355.8 509.0,352.4 509.6,344.8 510.1,337.0 510.7,330.0 511.3,326.3 511.9,322.2 512.4,324.8 513.0,318.1 513.6,323.3 514.2,323.2 514.7,322.4 515.3,326.4 515.9,323.2 516.5,323.5 517.0,320.7 517.6,319.6 518.2,315.0 518.7,312.0 519.3,310.7 519.9,312.1 520.5,318.3 521.0,323.5 521.6,332.3 522.2,331.4 522.8,346.3 523.3,357.3 523.9,358.1 524.5,357.9 525.0,361.0 525.6,358.3 526.2,353.3 526.8,355.2 527.3,346.1 527.9,349.3 528.5,345.3 529.1,338.8 529.6,335.5 530.2,321.2 530.8,327.3 531.4,314.7 531.9,324.4 532.5,319.8 533.1,318.9 533.6,326.0 534.2,325.1 534.8,317.1 535.4,318.7 535.9,318.9 536.5,322.1 537.1,330.1 537.7,334.0 538.2,336.5 538.8,345.8 539.4,347.8 539.9,344.1 540.5,341.9 541.1,343.3 541.7,341.3 542.2,341.5 542.8,337.7 543.4,335.0 544.0,334.6 544.5,330.8 545.1,328.8 545.7,328.0 546.2,322.5 546.8,325.4 547.4,328.5 548.0,327.6 548.5,326.2 549.1,328.5 549.7,327.0 550.3,328.3 550.8,328.1 551.4,333.9 552.0,336.8 552.6,339.6 553.1,338.0 553.7,332.3 554.3,326.4 554.8,328.6 555.4,328.7 556.0,326.8 556.6,332.9 557.1,337.4 557.7,329.2 558.3,331.8 558.9,335.2 559.4,329.8 560.0,327.3 560.6,328.3 561.1,330.3 561.7,318.6 562.3,323.0 562.9,329.7 563.4,329.7 564.0,326.5 564.6,335.0 565.2,337.0 565.7,334.2 566.3,341.2 566.9,343.0 567.5,346.4 568.0,344.3 568.6,342.2 569.2,341.5 569.7,340.5 570.3,336.1 570.9,338.3 571.5,339.3 572.0,335.0 572.6,336.5 573.2,338.7 573.8,334.4 574.3,334.8 574.9,330.2 575.5,333.3 576.0,330.9 576.6,329.4 577.2,330.7 577.8,330.0 578.3,325.9 578.9,331.1 579.5,329.7 580.1,325.5 580.6,331.1 581.2,335.7 581.8,330.4 582.3,335.1 582.9,334.8 583.5,330.0 584.1,323.6 584.6,326.3 585.2,322.0 585.8,324.5 586.4,330.2 586.9,328.2 587.5,336.7 588.1,340.3 588.7,339.5 589.2,337.5 589.8,336.2 590.4,336.6 590.9,335.7 591.5,342.4 592.1,330.3 592.7,332.0 593.2,331.2 593.8,327.1 594.4,327.6 595.0,328.6 595.5,328.7 596.1,325.6 596.7,327.3 597.2,325.3 597.8,329.8 598.4,331.8 599.0,334.0 599.5,337.0 600.1,343.0 600.7,341.4 601.3,349.3 601.8,349.5 602.4,351.2 603.0,344.8 603.5,347.0 604.1,334.3 604.7,333.8 605.3,337.1 605.8,335.2 606.4,335.4 607.0,336.9 607.6,342.2 608.1,333.1 608.7,325.8 609.3,322.9 609.9,317.6 610.4,321.0 611.0,322.3 611.6,318.5 612.1,328.6 612.7,324.3 613.3,323.3 613.9,321.0 614.4,322.8 615.0,314.2 615.6,320.9 616.2,320.4 616.7,322.8 617.3,323.9 617.9,329.5 618.4,330.6 619.0,326.6 619.6,337.8 620.2,336.6 620.7,328.4 621.3,332.3 621.9,330.9 622.5,327.5 623.0,324.8 623.6,329.5 624.2,337.0 624.8,328.6 625.3,332.0 625.9,334.8 626.5,335.6 627.0,332.2 627.6,335.9 628.2,332.4 628.8,332.6 629.3,326.9 629.9,328.6 630.5,329.0 631.1,335.7 631.6,335.8 632.2,333.6 632.8,334.6 633.3,332.5 633.9,330.5 634.5,331.5 635.1,328.1 635.6,328.0 636.2,328.5 636.8,327.6 637.4,322.7 637.9,330.2 638.5,331.8 639.1,327.5 639.6,325.7 640.2,333.2 640.8,326.3 641.4,328.7 641.9,333.2 642.5,332.5 643.1,326.7 643.7,325.8 644.2,324.2 644.8,323.7 645.4,329.3 646.0,327.2 646.5,331.9 647.1,330.8 647.7,331.4 648.2,329.0 648.8,330.1 649.4,342.5 650.0,339.9 650.5,338.4 651.1,343.6 651.7,344.0 652.3,335.4 652.8,334.1 653.4,334.1 654.0,333.3 654.5,336.7 655.1,333.8 655.7,339.2 656.3,338.7 656.8,334.9 657.4,331.5 658.0,335.0 658.6,337.8 659.1,333.9 659.7,332.6 660.3,334.8 660.8,331.5 661.4,333.7 662.0,333.2 662.6,331.0 663.1,332.6 663.7,332.2 664.3,336.6 664.9,334.2" fill="none" stroke="#d2d2d2" stroke-width="0.7" stroke-linejoin="round" stroke-linecap="round" />
<polyline points="481.5,398.1 482.1,392.0 482.6,360.7 483.2,339.3 483.8,322.6 484.4,312.6 484.9,292.6 485.5,288.4 486.1,294.3 486.7,295.4 487.2,297.6 487.8,302.6 488.4,304.3 488.9,320.2 489.5,327.9 490.1,327.1 490.7,354.3 491.2,348.5 491.8,357.9 492.4,354.4 493.0,349.6 493.5,355.1 494.1,356.5 494.7,356.1 495.3,348.2 495.8,355.5 496.4,348.1 497.0,343.5 497.5,333.9 498.1,340.8 498.7,320.8 499.3,314.8 499.8,316.1 500.4,306.2 501.0,304.3 501.6,310.3 502.1,301.9 502.7,311.2 503.3,309.5 503.8,321.5 504.4,338.2 505.0,344.5 505.6,349.6 506.1,345.7 506.7,349.8 507.3,341.8 507.9,348.3 508.4,353.7 509.0,350.3 509.6,348.3 510.1,351.0 510.7,339.8 511.3,336.6 511.9,341.0 512.4,333.5 513.0,330.8 513.6,334.6 514.2,336.2 514.7,328.0 515.3,329.7 515.9,335.1 516.5,338.7 517.0,329.6 517.6,328.7 518.2,329.4 518.7,331.6 519.3,324.1 519.9,329.6 520.5,326.3 521.0,338.9 521.6,342.3 522.2,343.1 522.8,347.9 523.3,352.3 523.9,347.5 524.5,359.0 525.0,361.0 525.6,363.3 526.2,356.3 526.8,360.4 527.3,349.6 527.9,349.4 528.5,340.1 529.1,340.0 529.6,334.4 530.2,334.3 530.8,329.3 531.4,326.7 531.9,327.4 532.5,325.7 533.1,314.0 533.6,317.2 534.2,314.5 534.8,322.1 535.4,323.9 535.9,329.1 536.5,334.2 537.1,341.9 537.7,341.5 538.2,340.9 538.8,338.4 539.4,338.2 539.9,333.8 540.5,331.4 541.1,329.3 541.7,328.4 542.2,328.8 542.8,322.1 543.4,322.3 544.0,327.1 544.5,325.6 545.1,322.8 545.7,323.8 546.2,329.3 546.8,327.0 547.4,325.8 548.0,323.6 548.5,333.5 549.1,330.4 549.7,334.7 550.3,333.9 550.8,332.0 551.4,333.8 552.0,339.4 552.6,327.6 553.1,330.0 553.7,330.5 554.3,323.4 554.8,323.2 555.4,334.0 556.0,330.1 556.6,326.8 557.1,335.0 557.7,334.8 558.3,329.0 558.9,327.7 559.4,333.4 560.0,328.7 560.6,327.2 561.1,319.9 561.7,323.2 562.3,316.5 562.9,325.6 563.4,324.4 564.0,333.6 564.6,335.1 565.2,330.2 565.7,330.0 566.3,331.6 566.9,337.4 567.5,335.0 568.0,334.5 568.6,334.7 569.2,334.7 569.7,330.3 570.3,334.8 570.9,338.6 571.5,337.6 572.0,337.8 572.6,339.7 573.2,343.5 573.8,340.9 574.3,337.2 574.9,339.4 575.5,333.8 576.0,331.8 576.6,323.5 577.2,336.3 577.8,326.3 578.3,329.3 578.9,337.0 579.5,331.5 580.1,326.5 580.6,336.1 581.2,332.1 581.8,335.7 582.3,338.1 582.9,337.4 583.5,347.1 584.1,338.6 584.6,346.0 585.2,345.4 585.8,339.2 586.4,329.8 586.9,334.7 587.5,326.8 588.1,324.3 588.7,325.1 589.2,326.4 589.8,329.0 590.4,335.3 590.9,334.5 591.5,340.0 592.1,331.4 592.7,339.4 593.2,331.2 593.8,329.6 594.4,327.9 595.0,329.6 595.5,327.8 596.1,330.1 596.7,331.9 597.2,338.8 597.8,338.2 598.4,335.1 599.0,333.7 599.5,337.2 600.1,334.9 600.7,333.5 601.3,329.1 601.8,337.2 602.4,341.6 603.0,338.6 603.5,337.3 604.1,338.0 604.7,338.4 605.3,332.1 605.8,335.9 606.4,337.8 607.0,343.3 607.6,342.4 608.1,345.4 608.7,337.7 609.3,335.8 609.9,337.8 610.4,335.0 611.0,327.2 611.6,326.9 612.1,326.0 612.7,321.8 613.3,330.7 613.9,325.0 614.4,323.2 615.0,321.6 615.6,325.7 616.2,325.1 616.7,327.5 617.3,320.5 617.9,327.4 618.4,331.4 619.0,333.0 619.6,335.1 620.2,337.1 620.7,338.2 621.3,335.8 621.9,331.7 622.5,330.9 623.0,330.0 623.6,324.8 624.2,324.9 624.8,328.4 625.3,329.3 625.9,328.3 626.5,330.5 627.0,332.7 627.6,331.7 628.2,338.8 628.8,343.6 629.3,339.7 629.9,336.0 630.5,339.9 631.1,334.4 631.6,328.1 632.2,330.0 632.8,334.6 633.3,337.5 633.9,331.6 634.5,336.9 635.1,338.2 635.6,338.2 636.2,344.2 636.8,340.3 637.4,335.7 637.9,333.1 638.5,336.8 639.1,327.0 639.6,333.0 640.2,330.9 640.8,336.2 641.4,329.4 641.9,322.7 642.5,323.4 643.1,326.3 643.7,322.1 644.2,323.3 644.8,332.2 645.4,333.4 646.0,325.5 646.5,326.9 647.1,328.1 647.7,334.6 648.2,336.3 648.8,338.1 649.4,335.2 650.0,338.6 650.5,337.4 651.1,335.8 651.7,338.5 652.3,336.3 652.8,339.4 653.4,335.5 654.0,341.4 654.5,345.7 655.1,348.3 655.7,345.0 656.3,344.7 656.8,341.9 657.4,340.1 658.0,343.2 658.6,337.8 659.1,341.6 659.7,339.6 660.3,338.4 660.8,337.7 661.4,341.3 662.0,339.1 662.6,335.8 663.1,346.4 663.7,346.7 664.3,343.8 664.9,342.5" fill="none" stroke="#d2d2d2" stroke-width="0.7" stroke-linejoin="round" stroke-linecap="round" />
<polyline points="481.5,398.1 482.1,379.7 482.6,353.0 483.2,332.3 483.8,313.3 484.4,298.6 484.9,309.9 485.5,291.4 486.1,292.1 486.7,294.2 487.2,290.5 487.8,298.3 488.4,314.3 488.9,317.4 489.5,328.1 490.1,346.7 490.7,349.6 491.2,352.8 491.8,360.9 492.4,354.7 493.0,355.8 493.5,368.3 494.1,362.7 494.7,366.5 495.3,367.9 495.8,356.7 496.4,359.6 497.0,352.7 497.5,341.2 498.1,334.1 498.7,331.2 499.3,314.0 499.8,308.2 500.4,305.3 501.0,299.9 501.6,294.5 502.1,290.7 502.7,314.5 503.3,312.5 503.8,320.6 504.4,330.7 505.0,340.3 505.6,346.0 506.1,355.0 506.7,358.0 507.3,364.5 507.9,368.1 508.4,364.8 509.0,356.1 509.6,355.6 510.1,360.2 510.7,347.4 511.3,341.0 511.9,344.2 512.4,329.9 513.0,317.1 513.6,313.5 514.2,315.0 514.7,316.5 515.3,312.8 515.9,321.0 516.5,326.8 517.0,330.9 517.6,326.1 518.2,322.0 518.7,307.9 519.3,315.1 519.9,315.4 520.5,321.4 521.0,325.9 521.6,333.9 522.2,337.7 522.8,346.0 523.3,347.4 523.9,354.3 524.5,359.0 525.0,359.6 525.6,355.1 526.2,362.2 526.8,358.8 527.3,359.9 527.9,350.9 528.5,343.9 529.1,335.3 529.6,334.9 530.2,316.7 530.8,324.5 531.4,319.4 531.9,312.5 532.5,312.6 533.1,316.5 533.6,320.3 534.2,322.6 534.8,326.0 535.4,328.9 535.9,335.4 536.5,337.1 537.1,337.9 537.7,341.8 538.2,343.7 538.8,337.3 539.4,340.9 539.9,335.9 540.5,338.6 541.1,334.2 541.7,335.5 542.2,335.3 542.8,334.0 543.4,332.4 544.0,328.0 544.5,329.2 545.1,324.4 545.7,327.0 546.2,325.1 546.8,332.8 547.4,334.9 548.0,331.8 548.5,325.8 549.1,326.5 549.7,314.7 550.3,320.4 550.8,323.6 551.4,334.6 552.0,336.6 552.6,337.7 553.1,341.3 553.7,333.4 554.3,331.6 554.8,330.3 555.4,326.9 556.0,333.0 556.6,337.2 557.1,340.7 557.7,344.3 558.3,339.3 558.9,342.1 559.4,341.5 560.0,333.0 560.6,332.4 561.1,339.6 561.7,329.6 562.3,330.6 562.9,331.6 563.4,329.1 564.0,333.4 564.6,337.8 565.2,337.1 565.7,336.9 566.3,333.9 566.9,333.6 567.5,331.7 568.0,338.4 568.6,331.9 569.2,335.2 569.7,334.5 570.3,337.5 570.9,333.8 571.5,338.0 572.0,331.7 572.6,336.2 573.2,333.3 573.8,330.4 574.3,338.4 574.9,338.1 575.5,335.3 576.0,333.2 576.6,334.2 577.2,336.6 577.8,335.8 578.3,333.3 578.9,327.5 579.5,330.5 580.1,330.5 580.6,324.4 581.2,335.9 581.8,337.4 582.3,328.2 582.9,337.2 583.5,341.9 584.1,332.4 584.6,335.0 585.2,338.4 585.8,338.4 586.4,345.7 586.9,335.9 587.5,332.5 588.1,335.2 588.7,330.2 589.2,332.0 589.8,329.3 590.4,328.2 590.9,330.2 591.5,331.1 592.1,327.8 592.7,328.4 593.2,326.6 593.8,324.8 594.4,325.8 595.0,327.3 595.5,327.6 596.1,326.0 596.7,329.9 597.2,329.1 597.8,331.7 598.4,333.6 599.0,334.2 599.5,339.9 600.1,338.4 600.7,344.4 601.3,344.7 601.8,346.8 602.4,348.5 603.0,347.8 603.5,340.6 604.1,342.7 604.7,342.0 605.3,336.0 605.8,336.0 606.4,338.8 607.0,335.9 607.6,336.3 608.1,336.2 608.7,330.5 609.3,328.8 609.9,325.7 610.4,323.6 611.0,324.2 611.6,326.4 612.1,330.9 612.7,326.6 613.3,332.5 613.9,328.0 614.4,331.8 615.0,325.1 615.6,335.4 616.2,329.5 616.7,339.8 617.3,334.6 617.9,340.0 618.4,338.7 619.0,341.0 619.6,335.7 620.2,335.5 620.7,333.4 621.3,333.6 621.9,329.7 622.5,331.5 623.0,331.8 623.6,325.5 624.2,325.4 624.8,319.9 625.3,321.2 625.9,328.4 626.5,331.2 627.0,330.9 627.6,332.8 628.2,326.6 628.8,328.9 629.3,330.2 629.9,325.8 630.5,333.6 631.1,333.4 631.6,341.7 632.2,334.3 632.8,332.7 633.3,332.9 633.9,338.0 634.5,337.4 635.1,336.6 635.6,338.6 636.2,334.1 636.8,327.9 637.4,333.9 637.9,335.7 638.5,326.4 639.1,331.1 639.6,325.9 640.2,331.2 640.8,326.8 641.4,328.5 641.9,329.7 642.5,329.7 643.1,329.8 643.7,329.2 644.2,323.8 644.8,326.6 645.4,332.6 646.0,330.7 646.5,327.3 647.1,330.1 647.7,328.7 648.2,330.0 648.8,329.6 649.4,331.4 650.0,329.5 650.5,331.1 651.1,329.6 651.7,337.1 652.3,333.9 652.8,338.0 653.4,337.0 654.0,333.0 654.5,328.9 655.1,329.0 655.7,333.7 656.3,334.7 656.8,340.2 657.4,334.3 658.0,335.7 658.6,332.1 659.1,325.2 659.7,336.1 660.3,332.6 660.8,328.3 661.4,330.2 662.0,333.8 662.6,336.1 663.1,335.8 663.7,333.1 664.3,332.1 664.9,327.5" fill="none" stroke="#d2d2d2" stroke-width="0.7" stroke-linejoin="round" stroke-linecap="round" />
<polyline points="481.5,398.1 482.1,383.3 482.6,366.7 483.2,349.6 483.8,343.1 484.4,324.3 484.9,318.6 485.5,310.8 486.1,312.2 486.7,312.2 487.2,307.4 487.8,312.8 488.4,315.2 488.9,313.6 489.5,313.0 490.1,321.1 490.7,339.5 491.2,342.4 491.8,350.2 492.4,355.9 493.0,360.8 493.5,365.9 494.1,349.0 494.7,354.4 495.3,360.2 495.8,346.1 496.4,330.0 497.0,340.2 497.5,317.7 498.1,323.9 498.7,311.0 499.3,311.8 499.8,301.0 500.4,297.9 501.0,292.7 501.6,295.3 502.1,282.2 502.7,300.2 503.3,310.7 503.8,315.3 504.4,326.0 505.0,335.4 505.6,337.0 506.1,340.3 506.7,350.9 507.3,354.3 507.9,358.3 508.4,357.1 509.0,353.5 509.6,341.8 510.1,332.7 510.7,326.4 511.3,334.1 511.9,328.0 512.4,327.7 513.0,320.2 513.6,316.1 514.2,314.4 514.7,320.0 515.3,321.7 515.9,322.9 516.5,340.3 517.0,333.5 517.6,328.5 518.2,323.8 518.7,322.7 519.3,331.5 519.9,337.3 520.5,330.4 521.0,335.0 521.6,346.1 522.2,341.9 522.8,346.0 523.3,357.0 523.9,348.2 524.5,345.8 525.0,347.6 525.6,355.8 526.2,351.9 526.8,350.1 527.3,348.2 527.9,349.8 528.5,341.0 529.1,343.4 529.6,342.6 530.2,328.4 530.8,324.7 531.4,314.7 531.9,309.9 532.5,319.0 533.1,312.8 533.6,324.2 534.2,330.6 534.8,331.2 535.4,332.4 535.9,338.1 536.5,340.4 537.1,338.0 537.7,335.4 538.2,333.3 538.8,330.8 539.4,338.3 539.9,326.5 540.5,338.0 541.1,326.1 541.7,331.6 542.2,328.0 542.8,331.0 543.4,320.4 544.0,320.2 544.5,321.9 545.1,317.3 545.7,314.5 546.2,320.8 546.8,327.5 547.4,329.6 548.0,331.7 548.5,326.9 549.1,329.3 549.7,328.7 550.3,327.7 550.8,327.7 551.4,329.7 552.0,326.8 552.6,328.4 553.1,319.9 553.7,322.8 554.3,328.9 554.8,330.9 555.4,330.9 556.0,327.9 556.6,332.5 557.1,330.6 557.7,328.2 558.3,331.2 558.9,331.2 559.4,328.2 560.0,330.5 560.6,319.2 561.1,325.7 561.7,328.1 562.3,335.8 562.9,332.3 563.4,337.8 564.0,339.0 564.6,334.2 565.2,338.0 565.7,337.7 566.3,333.1 566.9,332.1 567.5,336.2 568.0,330.9 568.6,330.9 569.2,330.4 569.7,325.9 570.3,327.1 570.9,333.1 571.5,331.9 572.0,331.4 572.6,336.4 573.2,339.0 573.8,338.2 574.3,335.9 574.9,331.3 575.5,333.3 576.0,336.4 576.6,334.0 577.2,335.7 577.8,329.2 578.3,329.1 578.9,321.0 579.5,320.7 580.1,323.5 580.6,324.8 581.2,333.4 581.8,341.3 582.3,342.3 582.9,335.8 583.5,339.9 584.1,341.6 584.6,334.1 585.2,331.8 585.8,344.2 586.4,336.7 586.9,335.1 587.5,335.7 588.1,339.0 588.7,336.6 589.2,332.0 589.8,331.1 590.4,332.1 590.9,332.7 591.5,329.0 592.1,331.6 592.7,337.6 593.2,331.1 593.8,332.7 594.4,334.9 595.0,325.1 595.5,324.6 596.1,326.9 596.7,327.9 597.2,326.9 597.8,331.1 598.4,339.9 599.0,333.5 599.5,333.9 600.1,335.5 600.7,341.1 601.3,336.3 601.8,333.8 602.4,337.0 603.0,339.9 603.5,337.2 604.1,335.7 604.7,339.6 605.3,343.8 605.8,337.1 606.4,331.5 607.0,335.5 607.6,333.4 608.1,332.9 608.7,326.2 609.3,327.7 609.9,326.2 610.4,327.0 611.0,324.8 611.6,324.2 612.1,320.4 612.7,327.4 613.3,316.9 613.9,323.5 614.4,325.9 615.0,325.0 615.6,324.9 616.2,330.6 616.7,331.5 617.3,329.5 617.9,335.9 618.4,339.7 619.0,334.4 619.6,334.5 620.2,327.8 620.7,323.3 621.3,322.2 621.9,324.4 622.5,320.7 623.0,328.4 623.6,332.8 624.2,328.6 624.8,335.9 625.3,331.0 625.9,329.8 626.5,332.8 627.0,328.7 627.6,329.3 628.2,331.4 628.8,332.8 629.3,332.4 629.9,342.6 630.5,341.3 631.1,337.1 631.6,335.5 632.2,326.6 632.8,328.1 633.3,334.1 633.9,329.8 634.5,331.5 635.1,333.5 635.6,327.6 636.2,318.1 636.8,322.4 637.4,319.2 637.9,325.3 638.5,323.8 639.1,330.2 639.6,329.7 640.2,337.4 640.8,334.2 641.4,337.0 641.9,335.4 642.5,335.2 643.1,334.1 643.7,329.9 644.2,328.7 644.8,324.4 645.4,328.1 646.0,326.5 646.5,321.6 647.1,323.7 647.7,331.0 648.2,330.0 648.8,331.2 649.4,337.8 650.0,331.7 650.5,334.5 651.1,329.2 651.7,340.7 652.3,334.6 652.8,346.3 653.4,343.4 654.0,343.1 654.5,344.7 655.1,348.1 655.7,339.6 656.3,331.7 656.8,332.3 657.4,328.9 658.0,334.0 658.6,331.3 659.1,340.0 659.7,338.3 660.3,335.5 660.8,333.8 661.4,331.4 662.0,329.8 662.6,331.0 663.1,329.2 663.7,327.9 664.3,337.1 664.9,334.2" fill="none" stroke="#d2d2d2" stroke-width="0.7" stroke-linejoin="round" stroke-linecap="round" />
<polyline points="481.5,398.1 482.1,382.1 482.6,354.7 483.2,343.0 483.8,332.2 484.4,320.6 484.9,300.6 485.5,300.8 486.1,298.2 486.7,296.2 487.2,313.3 487.8,317.2 488.4,312.7 488.9,317.5 489.5,322.1 490.1,321.8 490.7,332.0 491.2,335.5 491.8,352.8 492.4,361.5 493.0,361.7 493.5,356.7 494.1,359.7 494.7,369.7 495.3,356.9 495.8,365.5 496.4,362.6 497.0,361.3 497.5,345.8 498.1,338.6 498.7,320.7 499.3,306.1 499.8,293.1 500.4,291.6 501.0,291.5 501.6,290.8 502.1,300.6 502.7,317.4 503.3,324.9 503.8,334.7 504.4,337.2 505.0,338.1 505.6,354.9 506.1,355.2 506.7,364.6 507.3,354.2 507.9,359.1 508.4,359.3 509.0,352.1 509.6,349.8 510.1,344.0 510.7,346.4 511.3,336.9 511.9,336.5 512.4,330.5 513.0,320.6 513.6,319.7 514.2,322.8 514.7,318.7 515.3,317.9 515.9,321.7 516.5,317.0 517.0,316.9 517.6,314.3 518.2,319.6 518.7,310.7 519.3,316.9 519.9,323.5 520.5,327.8 521.0,330.9 521.6,331.7 522.2,342.8 522.8,341.2 523.3,345.6 523.9,354.2 524.5,358.2 525.0,363.7 525.6,357.0 526.2,357.7 526.8,352.7 527.3,350.9 527.9,340.5 528.5,343.3 529.1,341.0 529.6,336.1 530.2,329.3 530.8,327.1 531.4,325.5 531.9,325.8 532.5,317.3 533.1,318.3 533.6,322.9 534.2,320.1 534.8,330.6 535.4,329.8 535.9,339.2 536.5,335.6 537.1,336.3 537.7,341.6 538.2,339.1 538.8,342.5 539.4,342.2 539.9,344.4 540.5,348.6 541.1,338.0 541.7,336.1 542.2,336.5 542.8,329.1 543.4,332.6 544.0,331.3 544.5,333.4 545.1,325.0 545.7,320.6 546.2,322.1 546.8,321.7 547.4,315.1 548.0,321.6 548.5,323.1 549.1,320.8 549.7,334.3 550.3,334.0 550.8,337.7 551.4,336.6 552.0,334.5 552.6,332.6 553.1,335.4 553.7,328.6 554.3,329.3 554.8,329.2 555.4,321.7 556.0,329.5 556.6,334.6 557.1,331.9 557.7,336.3 558.3,327.6 558.9,330.1 559.4,330.5 560.0,323.0 560.6,322.2 561.1,322.4 561.7,326.6 562.3,332.9 562.9,335.3 563.4,331.2 564.0,335.7 564.6,332.4 565.2,331.0 565.7,332.9 566.3,337.9 566.9,332.4 567.5,336.8 568.0,338.5 568.6,341.3 569.2,346.6 569.7,344.2 570.3,335.5 570.9,342.4 571.5,337.3 572.0,332.5 572.6,330.1 573.2,334.3 573.8,333.2 574.3,338.5 574.9,341.0 575.5,335.9 576.0,334.9 576.6,330.4 577.2,320.5 577.8,320.0 578.3,321.0 578.9,323.4 579.5,325.7 580.1,325.7 580.6,334.8 581.2,332.8 581.8,331.7 582.3,333.9 582.9,341.3 583.5,336.5 584.1,343.3 584.6,340.8 585.2,346.6 585.8,336.9 586.4,332.5 586.9,329.3 587.5,337.8 588.1,328.2 588.7,329.2 589.2,335.0 589.8,331.4 590.4,326.4 590.9,326.3 591.5,322.3 592.1,321.1 592.7,325.1 593.2,327.0 593.8,326.2 594.4,322.0 595.0,319.2 595.5,321.2 596.1,321.1 596.7,321.5 597.2,321.6 597.8,328.3 598.4,329.1 599.0,331.7 599.5,336.7 600.1,341.9 600.7,344.5 601.3,342.7 601.8,347.4 602.4,344.7 603.0,344.6 603.5,347.8 604.1,346.4 604.7,345.3 605.3,347.1 605.8,336.6 606.4,336.6 607.0,333.5 607.6,327.4 608.1,328.9 608.7,337.3 609.3,335.3 609.9,339.1 610.4,330.9 611.0,331.9 611.6,321.3 612.1,321.0 612.7,322.9 613.3,322.1 613.9,326.9 614.4,326.6 615.0,326.6 615.6,325.2 616.2,324.0 616.7,324.3 617.3,325.6 617.9,329.5 618.4,331.6 619.0,333.1 619.6,331.2 620.2,332.8 620.7,334.0 621.3,332.1 621.9,334.5 622.5,334.8 623.0,332.7 623.6,327.9 624.2,324.9 624.8,322.3 625.3,330.0 625.9,331.8 626.5,332.0 627.0,336.1 627.6,335.4 628.2,339.0 628.8,336.3 629.3,334.5 629.9,331.8 630.5,336.3 631.1,328.9 631.6,328.0 632.2,329.8 632.8,332.9 633.3,334.9 633.9,334.3 634.5,336.3 635.1,330.0 635.6,332.6 636.2,333.1 636.8,337.3 637.4,342.8 637.9,338.8 638.5,341.7 639.1,341.0 639.6,335.0 640.2,332.4 640.8,328.2 641.4,322.2 641.9,322.2 642.5,323.9 643.1,324.2 643.7,328.7 644.2,324.6 644.8,324.5 645.4,321.3 646.0,327.6 646.5,314.6 647.1,321.5 647.7,320.9 648.2,315.0 648.8,312.3 649.4,321.9 650.0,318.4 650.5,327.2 651.1,329.9 651.7,337.8 652.3,333.6 652.8,336.6 653.4,339.7 654.0,342.4 654.5,338.2 655.1,339.4 655.7,340.4 656.3,335.8 656.8,344.8 657.4,335.3 658.0,333.7 658.6,329.8 659.1,329.1 659.7,327.0 660.3,329.9 660.8,332.8 661.4,329.4 662.0,331.6 662.6,335.3 663.1,335.2 663.7,337.7 664.3,341.8 664.9,334.0" fill="none" stroke="#d2d2d2" stroke-width="0.7" stroke-linejoin="round" stroke-linecap="round" />
<polyline points="481.5,398.1 482.1,397.8 482.6,370.9 483.2,349.9 483.8,333.9 484.4,318.7 484.9,317.1 485.5,309.4 486.1,313.8 486.7,306.7 487.2,312.5 487.8,313.2 488.4,312.1 488.9,311.9 489.5,321.9 490.1,322.1 490.7,330.7 491.2,343.4 491.8,348.7 492.4,358.7 493.0,368.2 493.5,365.7 494.1,372.3 494.7,373.6 495.3,358.4 495.8,357.4 496.4,354.3 497.0,346.9 497.5,336.6 498.1,315.9 498.7,318.0 499.3,303.4 499.8,299.2 500.4,294.4 501.0,294.5 501.6,293.0 502.1,299.2 502.7,303.9 503.3,317.8 503.8,325.6 504.4,332.4 505.0,338.8 505.6,342.9 506.1,348.4 506.7,357.2 507.3,342.2 507.9,340.3 508.4,345.0 509.0,334.8 509.6,344.1 510.1,341.5 510.7,341.1 511.3,334.5 511.9,334.1 512.4,331.7 513.0,323.2 513.6,321.4 514.2,328.2 514.7,323.2 515.3,316.0 515.9,323.0 516.5,328.5 517.0,326.1 517.6,323.8 518.2,320.5 518.7,321.9 519.3,322.3 519.9,316.6 520.5,330.0 521.0,337.4 521.6,332.7 522.2,338.3 522.8,341.8 523.3,346.2 523.9,353.2 524.5,347.4 525.0,350.0 525.6,358.9 526.2,352.2 526.8,349.7 527.3,349.0 527.9,338.4 528.5,334.3 529.1,333.8 529.6,327.7 530.2,327.7 530.8,325.0 531.4,323.6 531.9,318.4 532.5,318.9 533.1,314.3 533.6,316.0 534.2,322.3 534.8,329.6 535.4,322.9 535.9,328.0 536.5,332.7 537.1,333.8 537.7,338.5 538.2,347.0 538.8,349.4 539.4,355.2 539.9,353.4 540.5,351.1 541.1,346.4 541.7,342.4 542.2,333.1 542.8,332.3 543.4,328.9 544.0,328.1 544.5,322.5 545.1,321.9 545.7,323.1 546.2,325.3 546.8,327.5 547.4,325.8 548.0,328.0 548.5,328.5 549.1,331.7 549.7,335.8 550.3,330.9 550.8,323.3 551.4,325.5 552.0,323.4 552.6,326.2 553.1,332.3 553.7,336.9 554.3,339.7 554.8,335.4 555.4,329.6 556.0,332.7 556.6,332.5 557.1,331.7 557.7,328.7 558.3,328.5 558.9,328.6 559.4,322.7 560.0,329.4 560.6,328.9 561.1,326.0 561.7,324.7 562.3,328.2 562.9,320.2 563.4,325.5 564.0,320.1 564.6,320.1 565.2,324.2 565.7,332.0 566.3,333.7 566.9,333.8 567.5,337.4 568.0,339.7 568.6,335.5 569.2,332.8 569.7,336.8 570.3,331.2 570.9,335.5 571.5,337.3 572.0,336.5 572.6,333.1 573.2,334.3 573.8,329.7 574.3,330.9 574.9,335.4 575.5,331.4 576.0,335.3 576.6,332.1 577.2,327.0 577.8,332.9 578.3,331.7 578.9,328.3 579.5,331.1 580.1,334.8 580.6,329.6 581.2,336.5 581.8,343.2 582.3,335.0 582.9,337.6 583.5,343.6 584.1,337.0 584.6,337.3 585.2,336.9 585.8,341.1 586.4,342.4 586.9,347.7 587.5,344.1 588.1,337.4 588.7,337.0 589.2,331.7 589.8,325.5 590.4,326.6 590.9,326.8 591.5,320.4 592.1,330.9 592.7,332.1 593.2,331.5 593.8,335.6 594.4,334.2 595.0,335.6 595.5,332.0 596.1,328.3 596.7,333.0 597.2,329.5 597.8,332.4 598.4,339.4 599.0,338.8 599.5,343.5 600.1,347.7 600.7,346.9 601.3,350.2 601.8,342.5 602.4,341.4 603.0,338.7 603.5,344.5 604.1,351.6 604.7,351.0 605.3,347.0 605.8,339.7 606.4,337.3 607.0,329.4 607.6,323.9 608.1,327.6 608.7,325.5 609.3,333.5 609.9,327.4 610.4,323.3 611.0,326.6 611.6,321.3 612.1,316.3 612.7,323.5 613.3,325.0 613.9,331.4 614.4,331.4 615.0,331.5 615.6,334.0 616.2,330.0 616.7,323.8 617.3,328.2 617.9,326.7 618.4,333.8 619.0,333.1 619.6,331.6 620.2,331.2 620.7,332.1 621.3,327.6 621.9,330.4 622.5,330.1 623.0,322.9 623.6,326.5 624.2,323.6 624.8,327.3 625.3,321.6 625.9,331.9 626.5,328.5 627.0,335.0 627.6,331.7 628.2,329.8 628.8,331.1 629.3,336.0 629.9,335.2 630.5,337.8 631.1,342.0 631.6,343.5 632.2,336.9 632.8,335.0 633.3,338.6 633.9,339.5 634.5,338.4 635.1,337.3 635.6,339.6 636.2,334.5 636.8,331.2 637.4,331.6 637.9,333.6 638.5,328.0 639.1,334.1 639.6,335.2 640.2,335.3 640.8,331.9 641.4,329.8 641.9,327.2 642.5,327.0 643.1,330.3 643.7,337.7 644.2,334.7 644.8,331.2 645.4,328.8 646.0,327.0 646.5,328.2 647.1,332.6 647.7,329.3 648.2,338.6 648.8,334.3 649.4,335.7 650.0,331.8 650.5,330.9 651.1,333.1 651.7,330.0 652.3,335.7 652.8,339.2 653.4,343.7 654.0,342.8 654.5,334.6 655.1,337.0 655.7,337.9 656.3,339.6 656.8,334.6 657.4,333.6 658.0,337.1 658.6,334.6 659.1,342.6 659.7,343.3 660.3,348.1 660.8,343.3 661.4,341.1 662.0,347.3 662.6,346.8 663.1,344.0 663.7,343.4 664.3,340.1 664.9,339.1" fill="none" stroke="#d2d2d2" stroke-width="0.7" stroke-linejoin="round" stroke-linecap="round" />
<polyline points="481.5,398.1 482.1,396.2 482.6,369.6 483.2,349.1 483.8,331.0 484.4,320.1 484.9,303.5 485.5,305.1 486.1,287.8 486.7,291.4 487.2,293.6 487.8,295.1 488.4,309.8 488.9,325.6 489.5,329.9 490.1,335.9 490.7,335.0 491.2,344.8 491.8,351.8 492.4,359.8 493.0,364.7 493.5,378.1 494.1,379.4 494.7,379.3 495.3,376.8 495.8,382.6 496.4,367.5 497.0,347.1 497.5,345.1 498.1,321.3 498.7,316.3 499.3,310.3 499.8,299.9 500.4,293.8 501.0,292.7 501.6,299.6 502.1,298.6 502.7,315.3 503.3,323.0 503.8,334.9 504.4,333.7 505.0,332.3 505.6,335.8 506.1,337.1 506.7,340.3 507.3,338.3 507.9,337.8 508.4,331.6 509.0,329.6 509.6,327.1 510.1,328.8 510.7,330.3 511.3,328.5 511.9,329.6 512.4,328.1 513.0,318.6 513.6,325.6 514.2,320.8 514.7,323.0 515.3,327.6 515.9,318.2 516.5,331.3 517.0,335.0 517.6,323.0 518.2,330.4 518.7,338.4 519.3,329.5 519.9,325.1 520.5,327.1 521.0,334.3 521.6,338.6 522.2,337.8 522.8,337.9 523.3,345.4 523.9,345.2 524.5,346.1 525.0,355.2 525.6,357.9 526.2,359.4 526.8,360.2 527.3,356.4 527.9,347.9 528.5,355.5 529.1,352.5 529.6,338.8 530.2,325.7 530.8,317.2 531.4,319.3 531.9,312.3 532.5,318.6 533.1,326.9 533.6,325.4 534.2,328.9 534.8,335.0 535.4,331.6 535.9,332.6 536.5,341.4 537.1,338.0 537.7,336.8 538.2,342.4 538.8,338.1 539.4,341.0 539.9,339.3 540.5,338.9 541.1,340.6 541.7,340.2 542.2,332.3 542.8,331.7 543.4,335.0 544.0,334.1 544.5,323.1 545.1,329.5 545.7,327.9 546.2,328.3 546.8,331.1 547.4,329.7 548.0,334.9 548.5,330.8 549.1,331.7 549.7,336.6 550.3,330.3 550.8,333.9 551.4,331.6 552.0,341.9 552.6,335.2 553.1,334.3 553.7,342.8 554.3,341.2 554.8,341.8 555.4,344.1 556.0,339.8 556.6,332.9 557.1,332.8 557.7,333.0 558.3,330.4 558.9,328.0 559.4,328.8 560.0,328.3 560.6,330.5 561.1,330.7 561.7,336.5 562.3,329.0 562.9,330.8 563.4,326.9 564.0,331.2 564.6,332.5 565.2,329.2 565.7,322.6 566.3,326.5 566.9,332.6 567.5,330.3 568.0,340.3 568.6,346.7 569.2,350.1 569.7,341.3 570.3,340.7 570.9,333.3 571.5,327.0 572.0,333.6 572.6,323.1 573.2,329.7 573.8,334.3 574.3,341.3 574.9,333.4 575.5,337.4 576.0,331.2 576.6,331.3 577.2,324.0 577.8,330.7 578.3,328.0 578.9,326.8 579.5,323.6 580.1,332.4 580.6,331.7 581.2,342.8 581.8,338.9 582.3,335.5 582.9,330.9 583.5,331.2 584.1,322.0 584.6,321.6 585.2,330.6 585.8,332.0 586.4,340.7 586.9,341.4 587.5,344.7 588.1,344.5 588.7,343.4 589.2,335.9 589.8,336.7 590.4,335.2 590.9,336.1 591.5,334.6 592.1,330.6 592.7,336.3 593.2,326.8 593.8,331.8 594.4,334.7 595.0,327.0 595.5,329.4 596.1,332.4 596.7,335.8 597.2,336.3 597.8,336.8 598.4,337.2 599.0,334.2 599.5,340.7 600.1,336.4 600.7,336.9 601.3,338.8 601.8,344.3 602.4,352.0 603.0,341.8 603.5,347.4 604.1,346.2 604.7,341.1 605.3,336.5 605.8,338.3 606.4,340.0 607.0,338.6 607.6,339.7 608.1,341.5 608.7,340.8 609.3,332.9 609.9,329.7 610.4,329.9 611.0,327.6 611.6,327.4 612.1,330.8 612.7,327.3 613.3,326.9 613.9,327.7 614.4,325.0 615.0,321.2 615.6,322.3 616.2,319.7 616.7,324.6 617.3,331.0 617.9,332.9 618.4,328.1 619.0,332.4 619.6,332.8 620.2,328.3 620.7,337.2 621.3,330.9 621.9,329.3 622.5,329.1 623.0,328.5 623.6,318.8 624.2,321.0 624.8,328.1 625.3,326.3 625.9,326.1 626.5,326.0 627.0,326.8 627.6,330.2 628.2,326.7 628.8,322.8 629.3,327.2 629.9,329.7 630.5,325.8 631.1,335.9 631.6,336.7 632.2,330.8 632.8,330.5 633.3,333.7 633.9,326.9 634.5,330.6 635.1,328.3 635.6,334.4 636.2,334.8 636.8,335.1 637.4,329.8 637.9,331.2 638.5,323.2 639.1,323.3 639.6,326.5 640.2,326.1 640.8,322.4 641.4,327.5 641.9,329.1 642.5,334.5 643.1,331.1 643.7,339.5 644.2,336.6 644.8,339.9 645.4,330.7 646.0,336.0 646.5,335.5 647.1,332.5 647.7,334.7 648.2,339.0 648.8,337.3 649.4,339.6 650.0,339.9 650.5,342.3 651.1,342.1 651.7,346.2 652.3,346.5 652.8,349.4 653.4,343.1 654.0,342.5 654.5,341.6 655.1,340.5 655.7,339.9 656.3,339.9 656.8,339.8 657.4,338.2 658.0,342.4 658.6,339.8 659.1,335.4 659.7,339.2 660.3,334.4 660.8,330.3 661.4,329.2 662.0,343.9 662.6,335.6 663.1,335.6 663.7,334.6 664.3,339.3 664.9,336.9" fill="none" stroke="#d2d2d2" stroke-width="0.7" stroke-linejoin="round" stroke-linecap="round" />
<polyline points="481.5,398.1 482.1,392.3 482.6,380.1 483.2,360.4 483.8,346.5 484.4,325.2 484.9,313.6 485.5,300.4 486.1,293.4 486.7,280.6 487.2,298.1 487.8,303.4 488.4,294.9 488.9,303.1 489.5,320.9 490.1,323.2 490.7,333.8 491.2,346.7 491.8,361.3 492.4,368.2 493.0,366.2 493.5,365.6 494.1,368.3 494.7,363.2 495.3,367.8 495.8,361.2 496.4,367.2 497.0,353.2 497.5,347.5 498.1,332.4 498.7,322.7 499.3,311.9 499.8,301.2 500.4,301.8 501.0,303.2 501.6,307.8 502.1,319.3 502.7,327.8 503.3,335.8 503.8,339.1 504.4,352.1 505.0,350.5 505.6,351.7 506.1,350.5 506.7,356.2 507.3,350.5 507.9,350.3 508.4,355.6 509.0,350.5 509.6,347.8 510.1,346.1 510.7,351.1 511.3,345.3 511.9,338.8 512.4,328.2 513.0,323.0 513.6,318.6 514.2,317.6 514.7,314.4 515.3,318.0 515.9,323.2 516.5,328.8 517.0,326.9 517.6,327.4 518.2,329.5 518.7,314.7 519.3,318.1 519.9,324.9 520.5,323.9 521.0,326.0 521.6,337.6 522.2,337.9 522.8,338.5 523.3,351.4 523.9,352.2 524.5,351.5 525.0,355.4 525.6,352.0 526.2,350.9 526.8,345.9 527.3,341.8 527.9,332.6 528.5,337.1 529.1,325.8 529.6,328.2 530.2,326.6 530.8,322.3 531.4,321.9 531.9,325.1 532.5,321.8 533.1,324.3 533.6,320.3 534.2,318.1 534.8,318.5 535.4,321.2 535.9,326.6 536.5,332.1 537.1,330.1 537.7,334.1 538.2,331.8 538.8,342.4 539.4,336.6 539.9,345.6 540.5,345.4 541.1,344.2 541.7,338.1 542.2,338.8 542.8,332.1 543.4,324.1 544.0,329.3 544.5,323.0 545.1,318.9 545.7,323.8 546.2,331.5 546.8,332.1 547.4,331.1 548.0,331.6 548.5,333.2 549.1,334.8 549.7,330.4 550.3,332.4 550.8,338.1 551.4,329.2 552.0,332.5 552.6,330.0 553.1,327.5 553.7,332.6 554.3,342.1 554.8,337.7 555.4,339.4 556.0,334.5 556.6,338.0 557.1,336.7 557.7,329.6 558.3,333.9 558.9,327.4 559.4,329.8 560.0,326.3 560.6,328.8 561.1,321.0 561.7,317.6 562.3,327.0 562.9,321.7 563.4,325.6 564.0,336.3 564.6,329.7 565.2,332.7 565.7,331.3 566.3,333.3 566.9,332.0 567.5,335.6 568.0,338.4 568.6,337.7 569.2,340.9 569.7,340.6 570.3,339.6 570.9,337.9 571.5,334.9 572.0,328.7 572.6,339.2 573.2,335.5 573.8,336.1 574.3,336.5 574.9,332.2 575.5,327.9 576.0,323.6 576.6,322.1 577.2,328.6 577.8,326.5 578.3,331.5 578.9,331.7 579.5,331.5 580.1,328.0 580.6,326.7 581.2,332.9 581.8,334.7 582.3,332.8 582.9,329.6 583.5,328.7 584.1,329.3 584.6,328.8 585.2,332.2 585.8,333.6 586.4,337.6 586.9,334.9 587.5,339.2 588.1,341.4 588.7,341.1 589.2,344.0 589.8,342.2 590.4,339.7 590.9,334.5 591.5,332.8 592.1,333.4 592.7,324.1 593.2,318.7 593.8,325.8 594.4,324.3 595.0,328.8 595.5,330.7 596.1,333.2 596.7,337.5 597.2,333.6 597.8,327.1 598.4,329.5 599.0,327.1 599.5,332.5 600.1,342.1 600.7,346.6 601.3,345.3 601.8,348.4 602.4,345.7 603.0,339.8 603.5,335.2 604.1,335.9 604.7,331.8 605.3,333.3 605.8,336.0 606.4,334.0 607.0,337.8 607.6,333.5 608.1,335.0 608.7,338.3 609.3,332.5 609.9,332.2 610.4,335.6 611.0,329.9 611.6,321.3 612.1,314.7 612.7,311.5 613.3,317.3 613.9,315.3 614.4,321.4 615.0,323.7 615.6,327.9 616.2,330.3 616.7,327.8 617.3,327.2 617.9,330.2 618.4,331.4 619.0,330.9 619.6,335.0 620.2,334.9 620.7,336.9 621.3,330.5 621.9,328.8 622.5,337.8 623.0,332.1 623.6,334.5 624.2,337.1 624.8,331.6 625.3,331.0 625.9,332.3 626.5,325.5 627.0,325.7 627.6,328.0 628.2,322.1 628.8,324.0 629.3,327.3 629.9,321.9 630.5,326.4 631.1,327.9 631.6,330.3 632.2,323.9 632.8,329.1 633.3,328.6 633.9,333.7 634.5,331.6 635.1,331.7 635.6,329.6 636.2,343.7 636.8,339.3 637.4,335.7 637.9,340.4 638.5,332.1 639.1,330.0 639.6,322.6 640.2,329.0 640.8,324.8 641.4,325.2 641.9,322.4 642.5,325.5 643.1,325.3 643.7,328.8 644.2,336.4 644.8,333.0 645.4,338.1 646.0,331.5 646.5,326.8 647.1,332.2 647.7,332.9 648.2,333.3 648.8,337.3 649.4,338.9 650.0,338.5 650.5,332.5 651.1,331.1 651.7,331.0 652.3,332.5 652.8,328.6 653.4,331.2 654.0,334.3 654.5,334.7 655.1,340.1 655.7,340.1 656.3,345.5 656.8,346.2 657.4,343.3 658.0,342.7 658.6,344.1 659.1,342.2 659.7,339.4 660.3,335.7 660.8,334.6 661.4,330.9 662.0,332.9 662.6,331.1 663.1,333.7 663.7,337.7 664.3,331.1 664.9,330.6" fill="none" stroke="#d2d2d2" stroke-width="0.7" stroke-linejoin="round" stroke-linecap="round" />
<polyline points="481.5,349.2 482.1,339.0 482.6,328.7 483.2,319.1 483.8,310.6 484.4,303.6 484.9,298.3 485.5,295.2 486.1,294.1 486.7,295.2 487.2,298.3 487.8,303.1 488.4,309.4 488.9,316.8 489.5,324.7 490.1,332.9 490.7,340.8 491.2,348.0 491.8,354.2 492.4,359.1 493.0,362.5 493.5,364.1 494.1,364.1 494.7,362.4 495.3,359.3 495.8,354.8 496.4,349.4 497.0,343.3 497.5,336.8 498.1,330.4 498.7,324.4 499.3,319.0 499.8,314.6 500.4,311.4 501.0,309.4 501.6,308.7 502.1,309.4 502.7,311.3 503.3,314.4 503.8,318.3 504.4,322.9 505.0,327.9 505.6,333.0 506.1,338.0 506.7,342.6 507.3,346.4 507.9,349.5 508.4,351.6 509.0,352.7 509.6,352.6 510.1,351.6 510.7,349.6 511.3,346.8 511.9,343.4 512.4,339.6 513.0,335.5 513.6,331.5 514.2,327.7 514.7,324.4 515.3,321.6 515.9,319.5 516.5,318.3 517.0,317.9 517.6,318.3 518.2,319.5 518.7,321.4 519.3,323.9 519.9,326.8 520.5,329.9 521.0,333.1 521.6,336.3 522.2,339.1 522.8,341.6 523.3,343.5 523.9,344.8 524.5,345.5 525.0,345.4 525.6,344.8 526.2,343.5 526.8,341.8 527.3,339.6 527.9,337.2 528.5,334.7 529.1,332.2 529.6,329.8 530.2,327.7 530.8,325.9 531.4,324.7 531.9,323.9 532.5,323.6 533.1,323.9 533.6,324.6 534.2,325.8 534.8,327.4 535.4,329.2 535.9,331.2 536.5,333.2 537.1,335.2 537.7,336.9 538.2,338.5 538.8,339.7 539.4,340.5 539.9,340.9 540.5,340.9 541.1,340.5 541.7,339.7 542.2,338.6 542.8,337.3 543.4,335.8 544.0,334.2 544.5,332.6 545.1,331.1 545.7,329.8 546.2,328.7 546.8,327.9 547.4,327.4 548.0,327.2 548.5,327.4 549.1,327.9 549.7,328.6 550.3,329.6 550.8,330.7 551.4,332.0 552.0,333.2 552.6,334.5 553.1,335.6 553.7,336.6 554.3,337.3 554.8,337.8 555.4,338.1 556.0,338.1 556.6,337.8 557.1,337.3 557.7,336.6 558.3,335.8 558.9,334.9 559.4,333.9 560.0,332.9 560.6,331.9 561.1,331.1 561.7,330.4 562.3,329.9 562.9,329.6 563.4,329.5 564.0,329.6 564.6,329.9 565.2,330.4 565.7,331.0 566.3,331.7 566.9,332.5 567.5,333.3 568.0,334.0 568.6,334.7 569.2,335.3 569.7,335.8 570.3,336.1 570.9,336.3 571.5,336.3 572.0,336.1 572.6,335.8 573.2,335.4 573.8,334.9 574.3,334.3 574.9,333.6 575.5,333.0 576.0,332.4 576.6,331.9 577.2,331.5 577.8,331.2 578.3,331.0 578.9,330.9 579.5,331.0 580.1,331.2 580.6,331.5 581.2,331.8 581.8,332.3 582.3,332.8 582.9,333.3 583.5,333.8 584.1,334.2 584.6,334.6 585.2,334.9 585.8,335.1 586.4,335.2 586.9,335.2 587.5,335.1 588.1,334.9 588.7,334.6 589.2,334.3 589.8,333.9 590.4,333.5 590.9,333.1 591.5,332.8 592.1,332.4 592.7,332.2 593.2,332.0 593.8,331.8 594.4,331.8 595.0,331.8 595.5,332.0 596.1,332.1 596.7,332.4 597.2,332.7 597.8,333.0 598.4,333.3 599.0,333.6 599.5,333.9 600.1,334.1 600.7,334.3 601.3,334.4 601.8,334.5 602.4,334.5 603.0,334.4 603.5,334.3 604.1,334.1 604.7,333.9 605.3,333.7 605.8,333.4 606.4,333.2 607.0,333.0 607.6,332.8 608.1,332.6 608.7,332.5 609.3,332.4 609.9,332.4 610.4,332.4 611.0,332.5 611.6,332.6 612.1,332.7 612.7,332.9 613.3,333.1 613.9,333.3 614.4,333.5 615.0,333.7 615.6,333.8 616.2,333.9 616.7,334.0 617.3,334.0 617.9,334.0 618.4,334.0 619.0,333.9 619.6,333.8 620.2,333.7 620.7,333.5 621.3,333.4 621.9,333.2 622.5,333.1 623.0,333.0 623.6,332.8 624.2,332.8 624.8,332.7 625.3,332.7 625.9,332.7 626.5,332.8 627.0,332.8 627.6,332.9 628.2,333.0 628.8,333.2 629.3,333.3 629.9,333.4 630.5,333.5 631.1,333.6 631.6,333.7 632.2,333.7 632.8,333.8 633.3,333.8 633.9,333.7 634.5,333.7 635.1,333.6 635.6,333.5 636.2,333.5 636.8,333.4 637.4,333.3 637.9,333.2 638.5,333.1 639.1,333.0 639.6,333.0 640.2,332.9 640.8,332.9 641.4,332.9 641.9,333.0 642.5,333.0 643.1,333.1 643.7,333.1 644.2,333.2 644.8,333.3 645.4,333.4 646.0,333.4 646.5,333.5 647.1,333.5 647.7,333.6 648.2,333.6 648.8,333.6 649.4,333.6 650.0,333.5 650.5,333.5 651.1,333.5 651.7,333.4 652.3,333.3 652.8,333.3 653.4,333.2 654.0,333.2 654.5,333.1 655.1,333.1 655.7,333.1 656.3,333.1 656.8,333.1 657.4,333.1 658.0,333.1 658.6,333.2 659.1,333.2 659.7,333.2 660.3,333.3 660.8,333.3 661.4,333.4 662.0,333.4 662.6,333.5 663.1,333.5 663.7,333.5 664.3,333.5 664.9,333.5" fill="none" stroke="#c8405a" stroke-width="1.1" stroke-linejoin="round" stroke-linecap="round" />
<polyline points="481.5,398.6 482.1,388.0 482.6,364.4 483.2,344.9 483.8,329.5 484.4,317.8 484.9,309.5 485.5,304.2 486.1,301.6 486.7,301.1 487.2,302.3 487.8,305.1 488.4,309.4 488.9,315.2 489.5,322.3 490.1,330.4 490.7,338.7 491.2,346.8 491.8,354.0 492.4,359.9 493.0,364.2 493.5,366.8 494.1,367.5 494.7,366.1 495.3,362.9 495.8,357.9 496.4,351.4 497.0,343.6 497.5,335.1 498.1,326.2 498.7,317.8 499.3,310.2 499.8,304.0 500.4,299.6 501.0,297.6 501.6,298.3 502.1,302.0 502.7,307.9 503.3,315.2 503.8,322.9 504.4,330.4 505.0,337.3 505.6,343.5 506.1,348.8 506.7,353.1 507.3,356.0 507.9,357.2 508.4,356.4 509.0,353.5 509.6,349.0 510.1,343.7 510.7,338.5 511.3,333.8 511.9,330.0 512.4,326.9 513.0,324.8 513.6,323.7 514.2,323.5 514.7,324.3 515.3,325.4 515.9,326.5 516.5,327.1 517.0,326.7 517.6,325.5 518.2,324.0 518.7,322.9 519.3,322.9 519.9,324.6 520.5,327.7 521.0,331.7 521.6,336.3 522.2,341.1 522.8,345.6 523.3,349.8 523.9,353.3 524.5,356.0 525.0,357.8 525.6,358.4 526.2,357.6 526.8,355.5 527.3,352.1 527.9,347.9 528.5,343.1 529.1,338.2 529.6,333.3 530.2,328.9 530.8,325.0 531.4,321.9 531.9,319.6 532.5,318.4 533.1,318.3 533.6,319.4 534.2,321.5 534.8,324.3 535.4,327.5 535.9,330.7 536.5,333.7 537.1,336.3 537.7,338.5 538.2,340.1 538.8,341.1 539.4,341.4 539.9,341.0 540.5,340.2 541.1,338.9 541.7,337.3 542.2,335.4 542.8,333.3 543.4,331.2 544.0,329.1 544.5,327.1 545.1,325.4 545.7,323.9 546.2,322.9 546.8,322.4 547.4,322.4 548.0,323.1 548.5,324.4 549.1,325.9 549.7,327.6 550.3,329.3 550.8,330.7 551.4,331.8 552.0,332.6 552.6,333.0 553.1,333.3 553.7,333.4 554.3,333.3 554.8,333.2 555.4,333.0 556.0,332.8 556.6,332.5 557.1,332.1 557.7,331.7 558.3,331.3 558.9,330.9 559.4,330.5 560.0,330.1 560.6,329.8 561.1,329.6 561.7,329.5 562.3,329.5 562.9,329.7 563.4,330.0 564.0,330.6 564.6,331.2 565.2,331.9 565.7,332.7 566.3,333.5 566.9,334.3 567.5,335.1 568.0,335.7 568.6,336.3 569.2,336.7 569.7,336.9 570.3,336.9 570.9,336.8 571.5,336.5 572.0,336.0 572.6,335.5 573.2,334.8 573.8,334.2 574.3,333.5 574.9,332.8 575.5,332.2 576.0,331.7 576.6,331.2 577.2,330.9 577.8,330.7 578.3,330.7 578.9,330.9 579.5,331.2 580.1,331.6 580.6,332.1 581.2,332.6 581.8,333.2 582.3,333.8 582.9,334.3 583.5,334.9 584.1,335.3 584.6,335.7 585.2,335.9 585.8,336.0 586.4,335.9 586.9,335.8 587.5,335.5 588.1,335.0 588.7,334.5 589.2,333.8 589.8,333.1 590.4,332.3 590.9,331.3 591.5,330.4 592.1,329.5 592.7,328.6 593.2,327.9 593.8,327.4 594.4,327.2 595.0,327.2 595.5,327.6 596.1,328.4 596.7,329.5 597.2,330.9 597.8,332.5 598.4,334.1 599.0,335.8 599.5,337.4 600.1,338.9 600.7,340.1 601.3,341.1 601.8,341.6 602.4,341.9 603.0,341.8 603.5,341.4 604.1,340.7 604.7,339.9 605.3,338.8 605.8,337.6 606.4,336.3 607.0,334.8 607.6,333.3 608.1,331.8 608.7,330.2 609.3,328.8 609.9,327.4 610.4,326.1 611.0,325.1 611.6,324.2 612.1,323.6 612.7,323.4 613.3,323.5 613.9,323.9 614.4,324.7 615.0,325.7 615.6,326.9 616.2,328.2 616.7,329.5 617.3,330.7 617.9,331.8 618.4,332.7 619.0,333.3 619.6,333.6 620.2,333.6 620.7,333.3 621.3,332.9 621.9,332.4 622.5,331.9 623.0,331.4 623.6,331.0 624.2,330.7 624.8,330.7 625.3,330.8 625.9,331.1 626.5,331.4 627.0,331.7 627.6,332.0 628.2,332.3 628.8,332.4 629.3,332.4 629.9,332.3 630.5,332.2 631.1,332.0 631.6,331.9 632.2,331.7 632.8,331.7 633.3,331.7 633.9,331.7 634.5,331.7 635.1,331.8 635.6,331.8 636.2,331.8 636.8,331.8 637.4,331.8 637.9,331.7 638.5,331.5 639.1,331.2 639.6,330.9 640.2,330.5 640.8,330.0 641.4,329.5 641.9,329.0 642.5,328.6 643.1,328.2 643.7,327.9 644.2,327.7 644.8,327.6 645.4,327.7 646.0,327.9 646.5,328.2 647.1,328.7 647.7,329.2 648.2,329.9 648.8,330.6 649.4,331.4 650.0,332.3 650.5,333.2 651.1,334.1 651.7,335.0 652.3,336.0 652.8,336.9 653.4,337.8 654.0,338.7 654.5,339.5 655.1,340.2 655.7,340.8 656.3,341.2 656.8,341.4 657.4,341.3 658.0,341.1 658.6,340.5 659.1,339.8 659.7,338.9 660.3,337.9 660.8,336.8 661.4,335.8 662.0,334.9 662.6,334.0 663.1,333.4 663.7,333.0 664.3,333.0 664.9,333.3" fill="none" stroke="#1c3cd8" stroke-width="1.2" stroke-linejoin="round" stroke-linecap="round" />
<line x1="543.60" y1="276.30" x2="561.90" y2="276.30" stroke="#c4c4c4" stroke-width="1.0" />
<line x1="543.60" y1="288.60" x2="561.90" y2="288.60" stroke="#1c3cd8" stroke-width="1.2" />
<line x1="543.60" y1="300.20" x2="561.90" y2="300.20" stroke="#c8405a" stroke-width="1.2" />
<text transform="translate(567.20,280.80) scale(1,1.0)" font-size="13.3" fill="#111" >residuals</text>
<text transform="translate(567.20,291.60) scale(1,1.0)" font-size="13.3" fill="#111" >mean residuals</text>
<text transform="translate(567.20,302.80) scale(1,1.0)" font-size="13.3" fill="#111" >fit</text>
<text transform="translate(563.60,375.90) skewX(-13) scale(1,1.0)" style="font-family:'Liberation Serif',serif" font-style="italic" font-size="18.5" fill="#111">&#964;</text>
<text transform="translate(571.60,378.20) scale(1,1.08)" font-size="7.8" fill="#111" >dephasing</text>
<text transform="translate(610.40,377.20) scale(1,1.08)" font-size="13.3" fill="#111" >=</text>
<text transform="translate(621.50,377.20) scale(1,1.08)" font-size="13.3" fill="#111" >580 fs</text>
<line x1="481.00" y1="268.00" x2="665.50" y2="268.00" stroke="#5a5a5a" stroke-width="1.1" />
<line x1="665.00" y1="268.00" x2="665.00" y2="398.00" stroke="#6a6a6a" stroke-width="1.1" />
<line x1="481.50" y1="267.50" x2="481.50" y2="398.50" stroke="#222" stroke-width="1.0" />
<line x1="481.00" y1="398.00" x2="665.50" y2="398.00" stroke="#333" stroke-width="1.2" />
<line x1="481.50" y1="385.10" x2="478.50" y2="385.10" stroke="#2a2a2a" stroke-width="1.0" />
<line x1="481.50" y1="333.30" x2="478.50" y2="333.30" stroke="#2a2a2a" stroke-width="1.0" />
<line x1="481.50" y1="281.50" x2="478.50" y2="281.50" stroke="#2a2a2a" stroke-width="1.0" />
<line x1="481.50" y1="359.20" x2="479.50" y2="359.20" stroke="#2a2a2a" stroke-width="1.0" />
<line x1="481.50" y1="307.40" x2="479.50" y2="307.40" stroke="#2a2a2a" stroke-width="1.0" />
<line x1="481.50" y1="398.00" x2="481.50" y2="401.00" stroke="#2a2a2a" stroke-width="1.0" />
<line x1="538.80" y1="398.00" x2="538.80" y2="401.00" stroke="#2a2a2a" stroke-width="1.0" />
<line x1="596.10" y1="398.00" x2="596.10" y2="401.00" stroke="#2a2a2a" stroke-width="1.0" />
<line x1="653.40" y1="398.00" x2="653.40" y2="401.00" stroke="#2a2a2a" stroke-width="1.0" />
<line x1="510.15" y1="398.00" x2="510.15" y2="400.00" stroke="#2a2a2a" stroke-width="1.0" />
<line x1="567.45" y1="398.00" x2="567.45" y2="400.00" stroke="#2a2a2a" stroke-width="1.0" />
<line x1="624.75" y1="398.00" x2="624.75" y2="400.00" stroke="#2a2a2a" stroke-width="1.0" />
<text transform="translate(481.50,411.40) scale(1,1.08)" font-size="12.6" text-anchor="middle" fill="#111" >0.0</text>
<text transform="translate(538.80,411.40) scale(1,1.08)" font-size="12.6" text-anchor="middle" fill="#111" >1.0</text>
<text transform="translate(596.10,411.40) scale(1,1.08)" font-size="12.6" text-anchor="middle" fill="#111" >2.0</text>
<text transform="translate(653.40,411.40) scale(1,1.08)" font-size="12.6" text-anchor="middle" fill="#111" >3.0</text>
<text transform="translate(478.30,286.10) scale(1,1.08)" font-size="12.6" text-anchor="end" fill="#111" >1</text>
<text transform="translate(478.30,337.20) scale(1,1.08)" font-size="12.6" text-anchor="end" fill="#111" >0</text>
<text transform="translate(478.30,389.90) scale(1,1.08)" font-size="12.6" text-anchor="end" fill="#111" >1</text>
<rect x="465.29" y="384.35" width="4.9" height="1.5" fill="#111"/>
<text transform="translate(559.30,420.70) scale(1,1.08)" font-size="13.3" fill="#111" ><tspan font-style="italic">t</tspan> / ps</text>
<text transform="translate(462.80,396.50) rotate(-90) scale(1,1.08)" font-size="13.3" fill="#111" >fit residuals / &#916;<tspan font-style="italic">A</tspan> / 10<tspan font-size="9" dy="-5">&#8211;3</tspan></text>
<rect x="389.50" y="246.50" width="282.10" height="198.00" fill="none" stroke="#2a2a2a" stroke-width="1.0"/>
<line x1="389.50" y1="444.50" x2="389.50" y2="448.00" stroke="#2a2a2a" stroke-width="1.0" />
<line x1="445.98" y1="444.50" x2="445.98" y2="448.00" stroke="#2a2a2a" stroke-width="1.0" />
<line x1="502.46" y1="444.50" x2="502.46" y2="448.00" stroke="#2a2a2a" stroke-width="1.0" />
<line x1="558.94" y1="444.50" x2="558.94" y2="448.00" stroke="#2a2a2a" stroke-width="1.0" />
<line x1="615.42" y1="444.50" x2="615.42" y2="448.00" stroke="#2a2a2a" stroke-width="1.0" />
<line x1="671.90" y1="444.50" x2="671.90" y2="448.00" stroke="#2a2a2a" stroke-width="1.0" />
<line x1="417.74" y1="444.50" x2="417.74" y2="446.50" stroke="#2a2a2a" stroke-width="1.0" />
<line x1="474.22" y1="444.50" x2="474.22" y2="446.50" stroke="#2a2a2a" stroke-width="1.0" />
<line x1="530.70" y1="444.50" x2="530.70" y2="446.50" stroke="#2a2a2a" stroke-width="1.0" />
<line x1="587.18" y1="444.50" x2="587.18" y2="446.50" stroke="#2a2a2a" stroke-width="1.0" />
<line x1="643.66" y1="444.50" x2="643.66" y2="446.50" stroke="#2a2a2a" stroke-width="1.0" />
<line x1="389.50" y1="444.50" x2="385.50" y2="444.50" stroke="#2a2a2a" stroke-width="1.0" />
<line x1="389.50" y1="345.50" x2="385.50" y2="345.50" stroke="#2a2a2a" stroke-width="1.0" />
<line x1="389.50" y1="246.50" x2="385.50" y2="246.50" stroke="#2a2a2a" stroke-width="1.0" />
<line x1="389.50" y1="395.00" x2="387.00" y2="395.00" stroke="#2a2a2a" stroke-width="1.0" />
<line x1="389.50" y1="296.00" x2="387.00" y2="296.00" stroke="#2a2a2a" stroke-width="1.0" />
<text transform="translate(389.50,461.30) scale(1,1.08)" font-size="13.3" text-anchor="middle" fill="#111" >0</text>
<text transform="translate(445.98,461.30) scale(1,1.08)" font-size="13.3" text-anchor="middle" fill="#111" >200</text>
<text transform="translate(502.46,461.30) scale(1,1.08)" font-size="13.3" text-anchor="middle" fill="#111" >400</text>
<text transform="translate(558.94,461.30) scale(1,1.08)" font-size="13.3" text-anchor="middle" fill="#111" >600</text>
<text transform="translate(615.42,461.30) scale(1,1.08)" font-size="13.3" text-anchor="middle" fill="#111" >800</text>
<text transform="translate(671.90,461.30) scale(1,1.08)" font-size="13.3" text-anchor="middle" fill="#111" >1000</text>
<text transform="translate(383.40,449.60) scale(1,1.08)" font-size="13.3" text-anchor="end" fill="#111" >0</text>
<text transform="translate(383.40,350.60) scale(1,1.08)" font-size="13.3" text-anchor="end" fill="#111" >1</text>
<text transform="translate(383.40,251.60) scale(1,1.08)" font-size="13.3" text-anchor="end" fill="#111" >2</text>
<text transform="translate(461.80,474.90) scale(1,1.02)" font-size="13.75" fill="#111" >FFT frequency / cm<tspan font-size="8.2" dy="-6.2">&#8211;1</tspan></text>
<text transform="translate(395.00,277.00) scale(1,1.08)" font-size="12.4" fill="#111" >125 cm<tspan font-size="8.5" dy="-5">&#8211;1</tspan></text>
<text transform="translate(371.70,349.60) rotate(-90) scale(1,1.0)" font-size="13.6" fill="#111" >FFT</text>
<line x1="357.30" y1="351.50" x2="375.70" y2="351.50" stroke="#111" stroke-width="1.1" />
<line x1="357.30" y1="322.10" x2="375.70" y2="322.10" stroke="#111" stroke-width="1.1" />
<text transform="translate(361.20,321.00) rotate(-90) scale(1,1.08)" font-size="8" fill="#111" >2</text>
</svg>
</body></html>
